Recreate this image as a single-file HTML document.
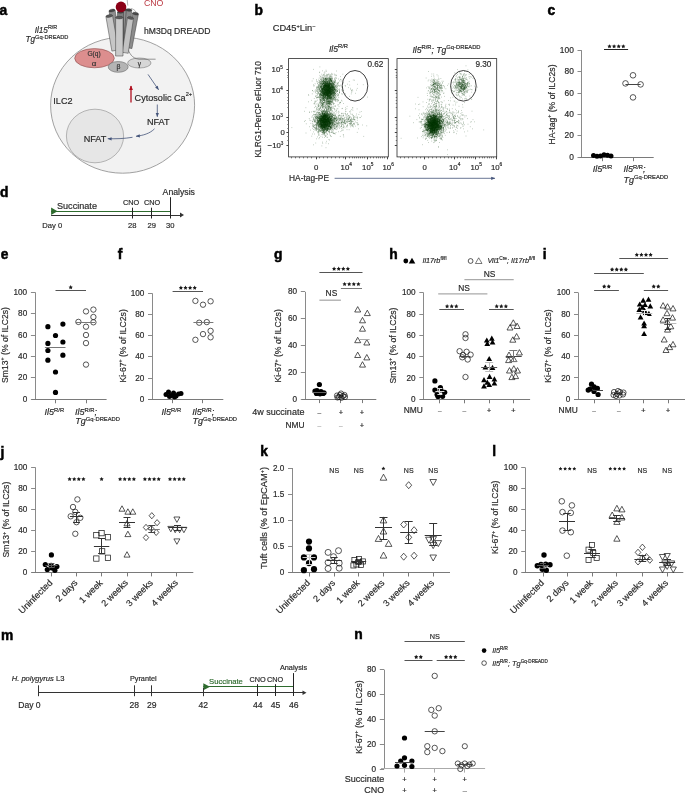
<!DOCTYPE html>
<html><head><meta charset="utf-8"><style>
html,body{margin:0;padding:0;background:#fff;}
svg{display:block;will-change:transform;}
svg text{font-family:"Liberation Sans",sans-serif;}
</style></head><body>
<svg width="685" height="794" viewBox="0 0 685 794">
<rect width="685" height="794" fill="#fff"/>
<text x="-0.5" y="14.7" font-size="13.8" fill="#000" font-weight="bold" stroke="#000" stroke-width="0.5">a</text>
<text x="34.7" y="32.7" font-size="8.2" fill="#2a2a2a" font-style="italic" stroke="#2a2a2a" stroke-width="0.18">Il15<tspan font-size="5.4" font-style="normal" dy="-3.4">R/R</tspan></text>
<text x="25.4" y="41.9" font-size="8.2" fill="#2a2a2a" font-style="italic" stroke="#2a2a2a" stroke-width="0.18">Tg<tspan font-style="normal" font-size="5.7" dy="-3.1">Gq-DREADD</tspan></text>
<ellipse cx="122.6" cy="105.2" rx="72" ry="68" fill="#f2f2f2" stroke="#8a8a8a" stroke-width="0.8"/>
<ellipse cx="95" cy="136" rx="28.6" ry="26.8" fill="#e6e6e6" stroke="#9a9a9a" stroke-width="0.7"/>
<ellipse cx="94.5" cy="58.2" rx="19.8" ry="9.6" fill="#dc8e8e" stroke="#8a4c4c" stroke-width="0.6"/>
<ellipse cx="118.2" cy="66.9" rx="10" ry="5.4" fill="#b4b4b4" stroke="#6a6a6a" stroke-width="0.6"/>
<ellipse cx="139.3" cy="63" rx="11.7" ry="5" fill="#d6d6d6" stroke="#777" stroke-width="0.6"/>
<text x="94" y="56.3" font-size="6.6" text-anchor="middle" fill="#333" stroke="#333" stroke-width="0.18">G(q)</text>
<text x="94" y="65.6" font-size="8.0" text-anchor="middle" fill="#333" stroke="#333" stroke-width="0.18">α</text>
<text x="118.4" y="69.4" font-size="6.8" text-anchor="middle" fill="#333" stroke="#333" stroke-width="0.18">β</text>
<text x="139.4" y="65.5" font-size="6.5" text-anchor="middle" fill="#333" stroke="#333" stroke-width="0.18">γ</text>
<path d="M127.6 47.5 C129 53 132 58.5 139 59.2 L155.6 59.2" fill="none" stroke="#555" stroke-width="0.6"/>
<path d="M127.2 0 L127.8 5.5 M131 8.5 C133 9 135 10 136 12" fill="none" stroke="#666" stroke-width="0.5"/>
<polygon points="109,11 115,45.5 121,44.5 115,10" fill="#8e8e8e" stroke="#3a3a3a" stroke-width="0.5"/>
<ellipse cx="112" cy="10.5" rx="3" ry="1.3" transform="rotate(-9.9 112 10.5)" fill="#444" stroke="#333" stroke-width="0.4"/>
<polygon points="121,9.3 118.5,47.8 124.5,48.2 127,9.7" fill="#909090" stroke="#3a3a3a" stroke-width="0.5"/>
<ellipse cx="124" cy="9.5" rx="3" ry="1.3" transform="rotate(3.7 124 9.5)" fill="#444" stroke="#333" stroke-width="0.4"/>
<polygon points="117.5,12 117.5,46 123.5,46 123.5,12" fill="#7c7c7c" stroke="#3a3a3a" stroke-width="0.5"/>
<ellipse cx="120.5" cy="12" rx="3" ry="1.3" transform="rotate(0 120.5 12)" fill="#444" stroke="#333" stroke-width="0.4"/>
<polygon points="126.3,9.8 123.3,46.8 128.7,47.2 131.7,10.2" fill="#8a8a8a" stroke="#3a3a3a" stroke-width="0.5"/>
<ellipse cx="129" cy="10" rx="2.8" ry="1.3" transform="rotate(4.6 129 10)" fill="#444" stroke="#333" stroke-width="0.4"/>
<polygon points="132.6,13 126.1,47.4 131.9,48.6 138.4,14.2" fill="#8c8c8c" stroke="#3a3a3a" stroke-width="0.5"/>
<ellipse cx="135.5" cy="13.6" rx="3" ry="1.3" transform="rotate(10.7 135.5 13.6)" fill="#4a4a4a" stroke="#333" stroke-width="0.4"/>
<polygon points="105.9,16.6 111.9,51.1 118.5,49.9 112.5,15.4" fill="#c6c6c6" stroke="#3a3a3a" stroke-width="0.5"/>
<ellipse cx="109.2" cy="16" rx="3.3" ry="1.3" transform="rotate(-9.9 109.2 16)" fill="#5a5a5a" stroke="#333" stroke-width="0.4"/>
<polygon points="127.5,17.5 122.2,52.3 128.2,53.3 133.5,18.5" fill="#c2c2c2" stroke="#3a3a3a" stroke-width="0.5"/>
<ellipse cx="130.5" cy="18" rx="3" ry="1.3" transform="rotate(8.7 130.5 18)" fill="#5a5a5a" stroke="#333" stroke-width="0.4"/>
<polygon points="115.6,17.6 115.6,56 123,56 123,17.6" fill="#c9c9c9" stroke="#3a3a3a" stroke-width="0.5"/>
<ellipse cx="119.3" cy="17.6" rx="3.7" ry="1.3" transform="rotate(0 119.3 17.6)" fill="#5a5a5a" stroke="#333" stroke-width="0.4"/>
<circle cx="121" cy="6.9" r="5.3" fill="#8b0016"/>
<text x="143.9" y="6.3" font-size="8.8" fill="#bb3a44" stroke="none">CNO</text>
<text x="144" y="33.5" font-size="8.6" fill="#2a2a2a" stroke="#2a2a2a" stroke-width="0.18">hM3Dq DREADD</text>
<defs><marker id="ah" markerWidth="6" markerHeight="6" refX="4.6" refY="3" orient="auto" markerUnits="userSpaceOnUse"><path d="M0.8,1.4 L4.8,3 L0.8,4.6 Z" fill="#44547a"/></marker><marker id="ahr" markerWidth="6" markerHeight="6" refX="4.6" refY="3" orient="auto" markerUnits="userSpaceOnUse"><path d="M0.6,1.1 L5,3 L0.6,4.9 Z" fill="#b01020"/></marker></defs>
<path d="M148 74.4 L158.6 89.8" stroke="#44547a" stroke-width="0.8" fill="none" marker-end="url(#ah)"/>
<path d="M157.3 104.5 L157.3 116.8" stroke="#44547a" stroke-width="0.8" fill="none" marker-end="url(#ah)"/>
<path d="M154.5 128.8 C150 133.5 143 135.5 136 136.3" stroke="#44547a" stroke-width="0.8" fill="none" marker-end="url(#ah)"/>
<path d="M132.5 137.3 C124 138.7 116 138.9 107.8 138.7" stroke="#44547a" stroke-width="0.8" fill="none" marker-end="url(#ah)"/>
<path d="M131 102.6 L131 86" stroke="#b01020" stroke-width="1.3" fill="none" marker-end="url(#ahr)"/>
<text x="134.6" y="101.3" font-size="9.1" fill="#2a2a2a" stroke="#2a2a2a" stroke-width="0.18">Cytosolic Ca<tspan font-size="5.6" font-style="normal" dy="-5.0">2+</tspan></text>
<text x="147" y="125.1" font-size="9.1" fill="#2a2a2a" stroke="#2a2a2a" stroke-width="0.18">NFAT</text>
<text x="83.7" y="142.2" font-size="9.1" fill="#2a2a2a" stroke="#2a2a2a" stroke-width="0.18">NFAT</text>
<text x="53.3" y="103.6" font-size="9.1" fill="#2a2a2a" stroke="#2a2a2a" stroke-width="0.18">ILC2</text>
<text x="254.6" y="14.8" font-size="13.8" fill="#000" font-weight="bold" stroke="#000" stroke-width="0.5">b</text>
<text x="272.7" y="31.1" font-size="9.3" fill="#2a2a2a" stroke="#2a2a2a" stroke-width="0.18">CD45<tspan font-size="5.6" font-style="normal" dy="-3.6">+</tspan><tspan dy="3.6">Lin</tspan><tspan font-size="5.6" font-style="normal" dy="-3.6">−</tspan></text>
<text x="338.5" y="51.8" font-size="8.6" text-anchor="middle" fill="#2a2a2a" font-style="italic" stroke="#2a2a2a" stroke-width="0.18">Il5<tspan font-size="5.8" font-style="normal" dy="-3.8">R/R</tspan></text>
<text x="446.5" y="53.1" font-size="8.6" text-anchor="middle" fill="#2a2a2a" font-style="italic" stroke="#2a2a2a" stroke-width="0.18">Il5<tspan font-size="5.8" font-style="normal" dy="-3.8">R/R</tspan><tspan dy="3.8">; Tg</tspan><tspan font-style="normal" font-size="5.8" dy="-3.8">Gq-DREADD</tspan></text>
<text x="261.4" y="109.3" font-size="8.3" fill="#2a2a2a" stroke="#2a2a2a" stroke-width="0.18" text-anchor="middle" transform="rotate(-90 261.4 109.3)">KLRG1-PerCP eFluor 710</text>
<rect x="288.6" y="58.6" width="99.7" height="98.3" fill="none" stroke="#2a2a2a" stroke-width="0.8"/>
<line x1="286.4" y1="69.5" x2="288.6" y2="69.5" stroke="#444" stroke-width="1.0" />
<line x1="286.4" y1="90.5" x2="288.6" y2="90.5" stroke="#444" stroke-width="1.0" />
<line x1="286.4" y1="117.5" x2="288.6" y2="117.5" stroke="#444" stroke-width="1.0" />
<line x1="286.4" y1="132.5" x2="288.6" y2="132.5" stroke="#444" stroke-width="1.0" />
<line x1="286.4" y1="145.5" x2="288.6" y2="145.5" stroke="#444" stroke-width="1.0" />
<line x1="287.4" y1="72.5" x2="288.6" y2="72.5" stroke="#666" stroke-width="1.0" />
<line x1="287.4" y1="75.5" x2="288.6" y2="75.5" stroke="#666" stroke-width="1.0" />
<line x1="287.4" y1="77.5" x2="288.6" y2="77.5" stroke="#666" stroke-width="1.0" />
<line x1="287.4" y1="93.5" x2="288.6" y2="93.5" stroke="#666" stroke-width="1.0" />
<line x1="287.4" y1="97.5" x2="288.6" y2="97.5" stroke="#666" stroke-width="1.0" />
<line x1="287.4" y1="100.5" x2="288.6" y2="100.5" stroke="#666" stroke-width="1.0" />
<line x1="287.4" y1="103.5" x2="288.6" y2="103.5" stroke="#666" stroke-width="1.0" />
<line x1="287.4" y1="107.5" x2="288.6" y2="107.5" stroke="#666" stroke-width="1.0" />
<line x1="287.4" y1="120.5" x2="288.6" y2="120.5" stroke="#666" stroke-width="1.0" />
<line x1="287.4" y1="124.5" x2="288.6" y2="124.5" stroke="#666" stroke-width="1.0" />
<line x1="287.4" y1="128.5" x2="288.6" y2="128.5" stroke="#666" stroke-width="1.0" />
<line x1="287.4" y1="136.5" x2="288.6" y2="136.5" stroke="#666" stroke-width="1.0" />
<line x1="287.4" y1="140.5" x2="288.6" y2="140.5" stroke="#666" stroke-width="1.0" />
<line x1="316.5" y1="156.9" x2="316.5" y2="159.3" stroke="#444" stroke-width="1.0" />
<line x1="345.5" y1="156.9" x2="345.5" y2="159.3" stroke="#444" stroke-width="1.0" />
<line x1="367.5" y1="156.9" x2="367.5" y2="159.3" stroke="#444" stroke-width="1.0" />
<line x1="387.5" y1="156.9" x2="387.5" y2="159.3" stroke="#444" stroke-width="1.0" />
<line x1="291.5" y1="156.9" x2="291.5" y2="158.3" stroke="#666" stroke-width="1.0" />
<line x1="295.5" y1="156.9" x2="295.5" y2="158.3" stroke="#666" stroke-width="1.0" />
<line x1="299.5" y1="156.9" x2="299.5" y2="158.3" stroke="#666" stroke-width="1.0" />
<line x1="303.5" y1="156.9" x2="303.5" y2="158.3" stroke="#666" stroke-width="1.0" />
<line x1="307.5" y1="156.9" x2="307.5" y2="158.3" stroke="#666" stroke-width="1.0" />
<line x1="311.5" y1="156.9" x2="311.5" y2="158.3" stroke="#666" stroke-width="1.0" />
<line x1="319.5" y1="156.9" x2="319.5" y2="158.3" stroke="#666" stroke-width="1.0" />
<line x1="323.5" y1="156.9" x2="323.5" y2="158.3" stroke="#666" stroke-width="1.0" />
<line x1="327.5" y1="156.9" x2="327.5" y2="158.3" stroke="#666" stroke-width="1.0" />
<line x1="331.5" y1="156.9" x2="331.5" y2="158.3" stroke="#666" stroke-width="1.0" />
<line x1="335.5" y1="156.9" x2="335.5" y2="158.3" stroke="#666" stroke-width="1.0" />
<line x1="339.5" y1="156.9" x2="339.5" y2="158.3" stroke="#666" stroke-width="1.0" />
<line x1="343.5" y1="156.9" x2="343.5" y2="158.3" stroke="#666" stroke-width="1.0" />
<line x1="349.5" y1="156.9" x2="349.5" y2="158.3" stroke="#666" stroke-width="1.0" />
<line x1="352.5" y1="156.9" x2="352.5" y2="158.3" stroke="#666" stroke-width="1.0" />
<line x1="354.5" y1="156.9" x2="354.5" y2="158.3" stroke="#666" stroke-width="1.0" />
<line x1="356.5" y1="156.9" x2="356.5" y2="158.3" stroke="#666" stroke-width="1.0" />
<line x1="358.5" y1="156.9" x2="358.5" y2="158.3" stroke="#666" stroke-width="1.0" />
<line x1="360.5" y1="156.9" x2="360.5" y2="158.3" stroke="#666" stroke-width="1.0" />
<line x1="362.5" y1="156.9" x2="362.5" y2="158.3" stroke="#666" stroke-width="1.0" />
<line x1="364.5" y1="156.9" x2="364.5" y2="158.3" stroke="#666" stroke-width="1.0" />
<line x1="370.5" y1="156.9" x2="370.5" y2="158.3" stroke="#666" stroke-width="1.0" />
<line x1="373.5" y1="156.9" x2="373.5" y2="158.3" stroke="#666" stroke-width="1.0" />
<line x1="376.5" y1="156.9" x2="376.5" y2="158.3" stroke="#666" stroke-width="1.0" />
<line x1="378.5" y1="156.9" x2="378.5" y2="158.3" stroke="#666" stroke-width="1.0" />
<line x1="380.5" y1="156.9" x2="380.5" y2="158.3" stroke="#666" stroke-width="1.0" />
<line x1="382.5" y1="156.9" x2="382.5" y2="158.3" stroke="#666" stroke-width="1.0" />
<line x1="384.5" y1="156.9" x2="384.5" y2="158.3" stroke="#666" stroke-width="1.0" />
<text x="316.2" y="169.6" font-size="7.8" text-anchor="middle" fill="#2a2a2a" stroke="#2a2a2a" stroke-width="0.18">0</text>
<text x="346.3" y="169.6" font-size="7.8" text-anchor="middle" fill="#2a2a2a" stroke="#2a2a2a" stroke-width="0.18">10<tspan font-size="4.8" font-style="normal" dy="-3.3">4</tspan></text>
<text x="367.8" y="169.6" font-size="7.8" text-anchor="middle" fill="#2a2a2a" stroke="#2a2a2a" stroke-width="0.18">10<tspan font-size="4.8" font-style="normal" dy="-3.3">5</tspan></text>
<text x="388.2" y="169.6" font-size="7.8" text-anchor="middle" fill="#2a2a2a" stroke="#2a2a2a" stroke-width="0.18">10<tspan font-size="4.8" font-style="normal" dy="-3.3">6</tspan></text>
<text x="271.6" y="72.2" font-size="7.8" fill="#2a2a2a" stroke="#2a2a2a" stroke-width="0.18">10<tspan font-size="4.6" font-style="normal" dy="-3.3">5</tspan></text>
<text x="271.6" y="93.1" font-size="7.8" fill="#2a2a2a" stroke="#2a2a2a" stroke-width="0.18">10<tspan font-size="4.6" font-style="normal" dy="-3.3">4</tspan></text>
<text x="271.6" y="119.8" font-size="7.8" fill="#2a2a2a" stroke="#2a2a2a" stroke-width="0.18">10<tspan font-size="4.6" font-style="normal" dy="-3.3">3</tspan></text>
<text x="284.9" y="135" font-size="7.8" text-anchor="end" fill="#2a2a2a" stroke="#2a2a2a" stroke-width="0.18">0</text>
<text x="267.6" y="148.2" font-size="7.8" fill="#2a2a2a" stroke="#2a2a2a" stroke-width="0.18">−10<tspan font-size="4.6" font-style="normal" dy="-3.3">3</tspan></text>
<ellipse cx="355.0" cy="85.8" rx="12.8" ry="15.3" fill="none" stroke="#111" stroke-width="0.8"/>
<rect x="397.0" y="58.6" width="99.7" height="98.3" fill="none" stroke="#2a2a2a" stroke-width="0.8"/>
<line x1="394.8" y1="69.5" x2="397" y2="69.5" stroke="#444" stroke-width="1.0" />
<line x1="394.8" y1="90.5" x2="397" y2="90.5" stroke="#444" stroke-width="1.0" />
<line x1="394.8" y1="117.5" x2="397" y2="117.5" stroke="#444" stroke-width="1.0" />
<line x1="394.8" y1="132.5" x2="397" y2="132.5" stroke="#444" stroke-width="1.0" />
<line x1="394.8" y1="145.5" x2="397" y2="145.5" stroke="#444" stroke-width="1.0" />
<line x1="395.8" y1="72.5" x2="397" y2="72.5" stroke="#666" stroke-width="1.0" />
<line x1="395.8" y1="75.5" x2="397" y2="75.5" stroke="#666" stroke-width="1.0" />
<line x1="395.8" y1="77.5" x2="397" y2="77.5" stroke="#666" stroke-width="1.0" />
<line x1="395.8" y1="93.5" x2="397" y2="93.5" stroke="#666" stroke-width="1.0" />
<line x1="395.8" y1="97.5" x2="397" y2="97.5" stroke="#666" stroke-width="1.0" />
<line x1="395.8" y1="100.5" x2="397" y2="100.5" stroke="#666" stroke-width="1.0" />
<line x1="395.8" y1="103.5" x2="397" y2="103.5" stroke="#666" stroke-width="1.0" />
<line x1="395.8" y1="107.5" x2="397" y2="107.5" stroke="#666" stroke-width="1.0" />
<line x1="395.8" y1="120.5" x2="397" y2="120.5" stroke="#666" stroke-width="1.0" />
<line x1="395.8" y1="124.5" x2="397" y2="124.5" stroke="#666" stroke-width="1.0" />
<line x1="395.8" y1="128.5" x2="397" y2="128.5" stroke="#666" stroke-width="1.0" />
<line x1="395.8" y1="136.5" x2="397" y2="136.5" stroke="#666" stroke-width="1.0" />
<line x1="395.8" y1="140.5" x2="397" y2="140.5" stroke="#666" stroke-width="1.0" />
<line x1="424.5" y1="156.9" x2="424.5" y2="159.3" stroke="#444" stroke-width="1.0" />
<line x1="454.5" y1="156.9" x2="454.5" y2="159.3" stroke="#444" stroke-width="1.0" />
<line x1="475.5" y1="156.9" x2="475.5" y2="159.3" stroke="#444" stroke-width="1.0" />
<line x1="496.5" y1="156.9" x2="496.5" y2="159.3" stroke="#444" stroke-width="1.0" />
<line x1="400.5" y1="156.9" x2="400.5" y2="158.3" stroke="#666" stroke-width="1.0" />
<line x1="404.5" y1="156.9" x2="404.5" y2="158.3" stroke="#666" stroke-width="1.0" />
<line x1="408.5" y1="156.9" x2="408.5" y2="158.3" stroke="#666" stroke-width="1.0" />
<line x1="412.5" y1="156.9" x2="412.5" y2="158.3" stroke="#666" stroke-width="1.0" />
<line x1="416.5" y1="156.9" x2="416.5" y2="158.3" stroke="#666" stroke-width="1.0" />
<line x1="420.5" y1="156.9" x2="420.5" y2="158.3" stroke="#666" stroke-width="1.0" />
<line x1="428.5" y1="156.9" x2="428.5" y2="158.3" stroke="#666" stroke-width="1.0" />
<line x1="432.5" y1="156.9" x2="432.5" y2="158.3" stroke="#666" stroke-width="1.0" />
<line x1="436.5" y1="156.9" x2="436.5" y2="158.3" stroke="#666" stroke-width="1.0" />
<line x1="440.5" y1="156.9" x2="440.5" y2="158.3" stroke="#666" stroke-width="1.0" />
<line x1="444.5" y1="156.9" x2="444.5" y2="158.3" stroke="#666" stroke-width="1.0" />
<line x1="448.5" y1="156.9" x2="448.5" y2="158.3" stroke="#666" stroke-width="1.0" />
<line x1="451.5" y1="156.9" x2="451.5" y2="158.3" stroke="#666" stroke-width="1.0" />
<line x1="457.5" y1="156.9" x2="457.5" y2="158.3" stroke="#666" stroke-width="1.0" />
<line x1="460.5" y1="156.9" x2="460.5" y2="158.3" stroke="#666" stroke-width="1.0" />
<line x1="463.5" y1="156.9" x2="463.5" y2="158.3" stroke="#666" stroke-width="1.0" />
<line x1="465.5" y1="156.9" x2="465.5" y2="158.3" stroke="#666" stroke-width="1.0" />
<line x1="467.5" y1="156.9" x2="467.5" y2="158.3" stroke="#666" stroke-width="1.0" />
<line x1="469.5" y1="156.9" x2="469.5" y2="158.3" stroke="#666" stroke-width="1.0" />
<line x1="471.5" y1="156.9" x2="471.5" y2="158.3" stroke="#666" stroke-width="1.0" />
<line x1="473.5" y1="156.9" x2="473.5" y2="158.3" stroke="#666" stroke-width="1.0" />
<line x1="479.5" y1="156.9" x2="479.5" y2="158.3" stroke="#666" stroke-width="1.0" />
<line x1="482.5" y1="156.9" x2="482.5" y2="158.3" stroke="#666" stroke-width="1.0" />
<line x1="484.5" y1="156.9" x2="484.5" y2="158.3" stroke="#666" stroke-width="1.0" />
<line x1="487.5" y1="156.9" x2="487.5" y2="158.3" stroke="#666" stroke-width="1.0" />
<line x1="489.5" y1="156.9" x2="489.5" y2="158.3" stroke="#666" stroke-width="1.0" />
<line x1="491.5" y1="156.9" x2="491.5" y2="158.3" stroke="#666" stroke-width="1.0" />
<line x1="493.5" y1="156.9" x2="493.5" y2="158.3" stroke="#666" stroke-width="1.0" />
<text x="424.6" y="169.6" font-size="7.8" text-anchor="middle" fill="#2a2a2a" stroke="#2a2a2a" stroke-width="0.18">0</text>
<text x="454.7" y="169.6" font-size="7.8" text-anchor="middle" fill="#2a2a2a" stroke="#2a2a2a" stroke-width="0.18">10<tspan font-size="4.8" font-style="normal" dy="-3.3">4</tspan></text>
<text x="476.2" y="169.6" font-size="7.8" text-anchor="middle" fill="#2a2a2a" stroke="#2a2a2a" stroke-width="0.18">10<tspan font-size="4.8" font-style="normal" dy="-3.3">5</tspan></text>
<text x="496.6" y="169.6" font-size="7.8" text-anchor="middle" fill="#2a2a2a" stroke="#2a2a2a" stroke-width="0.18">10<tspan font-size="4.8" font-style="normal" dy="-3.3">6</tspan></text>
<ellipse cx="463.4" cy="85.8" rx="12.8" ry="15.3" fill="none" stroke="#111" stroke-width="0.8"/>
<text x="383.4" y="67.4" font-size="8.2" text-anchor="end" fill="#2a2a2a" stroke="#2a2a2a" stroke-width="0.18">0.62</text>
<text x="491.4" y="67.4" font-size="8.2" text-anchor="end" fill="#2a2a2a" stroke="#2a2a2a" stroke-width="0.18">9.30</text>
<path d="M326.2 92.4h.6M326.3 87.7h.6M323.5 88.3h.6M331.6 91.9h.6M331.3 90.9h.6M328.8 90.5h.6M320.5 94.3h.6M329.2 92.3h.6M320.4 79.7h.6M323.6 86.9h.6M328.4 89.2h.6M329.3 85.9h.6M328.4 91.7h.6M324.6 99.1h.6M329.4 96.2h.6M324.7 85.4h.6M325.8 88.9h.6M329.7 90.9h.6M325.4 84.1h.6M325.1 96.3h.6M324 90.9h.6M328.9 81.2h.6M327.4 96.8h.6M319.1 87.7h.6M326.8 84.9h.6M329.2 89.2h.6M321.3 94.1h.6M329.9 94.8h.6M333 91.5h.6M327.7 82.2h.6M329.7 86.1h.6M325.4 82.4h.6M323.3 86.5h.6M332.4 78.1h.6M321.4 90.8h.6M333 92.7h.6M319.6 75.4h.6M328.6 85.4h.6M322.7 95h.6M331.6 90.4h.6M328.2 91.9h.6M333.6 93h.6M329.3 92.6h.6M320.9 96.7h.6M331 92.5h.6M319.3 86h.6M330.6 79.4h.6M326.5 95.2h.6M322 98.5h.6M329.4 88.7h.6M328.5 93.1h.6M327.7 95.9h.6M324.6 87.2h.6M331.4 89.7h.6M323.7 94.8h.6M333.1 87h.6M321.7 88.7h.6M326.6 87.8h.6M332.8 83.7h.6M332.2 82.4h.6M324.1 93h.6M331.7 94.3h.6M328.6 90.3h.6M327.8 92.7h.6M326.5 91.1h.6M329.5 89.5h.6M330.3 92.7h.6M335.2 91.3h.6M325.5 87.4h.6M327.1 94.7h.6M325.9 91.7h.6M334.5 75.1h.6M322.7 90.9h.6M328.8 90.8h.6M325.5 93.2h.6M328.3 86.6h.6M336.9 91.5h.6M325 88.9h.6M326.3 89.1h.6M316.3 86.8h.6M331.2 83h.6M326.9 94.8h.6M330.6 97.8h.6M320.4 87.5h.6M325.8 93h.6M331.6 74.5h.6M331.6 81.4h.6M329.9 81.1h.6M327.9 96.2h.6M326.6 90.6h.6M330.4 90.3h.6M326.8 98.1h.6M331.4 87.9h.6M338.2 83.1h.6M330.9 88h.6M327.7 93.4h.6M328.1 93.1h.6M321.1 81h.6M329.7 84.1h.6M323.1 81.3h.6M332.3 93.7h.6M333.1 84.2h.6M327.2 83.1h.6M330.3 98.4h.6M323.6 98.2h.6M331.2 88.5h.6M319.3 97.4h.6M326.8 86.1h.6M328.8 91.8h.6M333.2 83.8h.6M331.7 97.8h.6M333 88.5h.6M324.2 95.2h.6M327.7 90.2h.6M332.9 88h.6M318 87.3h.6M319.8 94.1h.6M328.5 86.1h.6M327.2 94.2h.6M327.5 96.9h.6M327 95.3h.6M333.2 98.5h.6M324.5 94.4h.6M319.7 83.4h.6M319.3 95.5h.6M322.3 89.4h.6M326.4 89.3h.6M324.8 90.8h.6M334.4 89.7h.6M329.3 95.1h.6M326.4 82.4h.6M325 95.5h.6M320.6 86.2h.6M331.2 93.9h.6M327.2 94h.6M327.9 82.9h.6M320.9 85.9h.6M330.9 86.3h.6M323.6 85.2h.6M321.1 88.8h.6M322.5 91.5h.6M317.8 91.3h.6M324.6 78.6h.6M330.1 88h.6M318.3 84.6h.6M328.4 86.9h.6M330.3 93.7h.6M329.9 91.3h.6M332.5 93.2h.6M329 77.8h.6M330.8 96.8h.6M326 86.9h.6M335 79.7h.6M329.1 103.1h.6M323.5 93.4h.6M334.7 88.8h.6M329.4 94.6h.6M323.6 89h.6M328.4 94.1h.6M327.1 88.4h.6M323.1 87.5h.6M330.8 90.1h.6M323.8 84.8h.6M337.9 95.9h.6M329.7 75h.6M329.7 92.2h.6M333.9 91.9h.6M326.9 92.4h.6M319.4 95.3h.6M328.5 85.6h.6M332.5 99.6h.6M321.6 85.8h.6M328.4 90.5h.6M325.6 84h.6M335.7 95.3h.6M322.4 82h.6M334 95h.6M334.5 94h.6M323.7 91h.6M318.6 85.3h.6M327 92.4h.6M324.3 88.8h.6M329 91.6h.6M329.8 90.7h.6M325.9 93.9h.6M327.4 84.9h.6M324.7 89.5h.6M326.8 90.4h.6M327.2 90.5h.6M326.7 82.5h.6M328.9 95.4h.6M328.9 88.4h.6M329 84.1h.6M319.6 89.8h.6M323.5 93.6h.6M322.9 74.8h.6M323 98.3h.6M325.7 81.8h.6M324.1 92.4h.6M329.2 90.5h.6M333.1 93.5h.6M327.1 92.8h.6M333.8 94.9h.6M331.3 83.4h.6M326.6 93.6h.6M326 95.5h.6M329.6 94.6h.6M326.4 103.8h.6M332.2 88.3h.6M327.6 104h.6M325.8 94.4h.6M331.1 89.5h.6M322.5 90.6h.6M328.6 95.8h.6M330.3 89.6h.6M330.6 92.5h.6M328 89.8h.6M326.2 93.3h.6M323 86h.6M327.2 81.3h.6M325.5 78.3h.6M324.5 92.7h.6M329.5 89.2h.6M326.3 81.6h.6M334.5 92.4h.6M331.6 84.6h.6M326.5 79.3h.6M330.3 94.7h.6M319.6 89.2h.6M329.7 79.6h.6M319.9 83.5h.6M324.7 81.6h.6M327.3 90.9h.6M329.7 93.4h.6M333.2 96h.6M322 86.7h.6M323 83.5h.6M326.9 89.5h.6M329.2 80.6h.6M322.2 89.4h.6M326.4 87.8h.6M326.9 85.2h.6M330 91.5h.6M326.8 85.7h.6M326.5 74.3h.6M323.3 89.7h.6M321.2 90.6h.6M327.8 81.8h.6M326.2 87.7h.6M329 92.9h.6M327.1 84.7h.6M326.6 89.1h.6M330.1 91.1h.6M324.3 81.9h.6M325.7 85.4h.6M322.8 88.9h.6M325.2 90.1h.6M329.3 87.2h.6M336.5 87.7h.6M331.6 90.2h.6M331.7 76.2h.6M324.2 90.9h.6M329.6 102.6h.6M328.5 96.7h.6M330.3 94.8h.6M329.2 88.6h.6M329.2 83.5h.6M331.9 83.8h.6M328.2 101.4h.6M326.3 89.6h.6M331.9 89.6h.6M324 90.9h.6M329.5 93.5h.6M324.1 99.3h.6M333.9 89.6h.6M328.3 87.1h.6M332.9 85.6h.6M329.9 86.8h.6M324.4 93.5h.6M332.5 89.4h.6M324.5 94h.6M327 91.2h.6M333.3 95.8h.6M325.1 102.3h.6M327.2 93.9h.6M324.6 89.2h.6M320.2 99.5h.6M332.7 82.7h.6M321.2 80.4h.6M331.9 86.9h.6M327 87.7h.6M326.7 83.4h.6M327.3 81.4h.6M326.9 91.2h.6M329.1 88.2h.6M323.6 90.4h.6M325.3 98.3h.6M330.3 88.9h.6M325.3 85.6h.6M323.5 87.5h.6M328.4 92.4h.6M329.5 101.3h.6M324.4 89.6h.6M338.4 79h.6M325.1 90.4h.6M327.8 91.8h.6M326.2 91.6h.6M327.4 93.8h.6M319.6 84.5h.6M327.2 83.7h.6M323 93h.6M324.6 93.1h.6M330.2 91.2h.6M329.2 88.9h.6M321.6 89.3h.6M329 86.5h.6M326.8 93.7h.6M323.7 93.1h.6M334.7 86.4h.6M327.8 88.7h.6M333.4 91.3h.6M330.8 85.6h.6M327.1 89.4h.6M320.1 97.6h.6M330.8 79.7h.6M330.2 88.8h.6M329 91.6h.6M321.2 88.3h.6M333.2 86.3h.6M323.1 81.9h.6M322.3 91.4h.6M334 91.9h.6M328.2 102h.6M325.1 85.7h.6M329.3 92.6h.6M323.1 82.9h.6M328.4 90.9h.6M322 88.4h.6M325 92.1h.6M326.7 89h.6M325.8 95.4h.6M332.8 87.4h.6M330.6 85.3h.6M327.5 93.7h.6M333.3 87.4h.6M326.9 90.6h.6M321.2 89.6h.6M324.5 91.6h.6M322.7 78.4h.6M327.4 91h.6M325 94.5h.6M326.1 86.1h.6M329.1 80.7h.6M324.5 89.4h.6M330.6 88.6h.6M328.4 85.8h.6M328.4 98.8h.6M324.5 102.8h.6M324.6 89.6h.6M327.9 95.2h.6M322.3 77.7h.6M329.6 94h.6M329.7 104.2h.6M328 90.9h.6M330.9 91.6h.6M333.9 82.6h.6M325.7 70.2h.6M330.4 87.4h.6M330.9 101.6h.6M327.2 88.1h.6M325.2 84.8h.6M324.7 93.1h.6M327.3 89.9h.6M326.5 94.6h.6M329.2 88.7h.6M329.9 88.7h.6M322.6 97.6h.6M329.1 84.1h.6M331.5 91.4h.6M320.9 98.5h.6M328.5 94.5h.6M328 88.7h.6M321 94.9h.6M327.3 87.9h.6M328.6 89.9h.6M329.9 87.4h.6M327.1 77.5h.6M325.5 93.3h.6M332.5 87.5h.6M326.7 98.4h.6M325.9 93.6h.6M333.9 89.7h.6M332.1 85.5h.6M328 89.1h.6M327.7 95.8h.6M336.8 85.8h.6M324.9 92.3h.6M323 92.3h.6M329.5 87.9h.6M329.3 80.8h.6M330.2 80.8h.6M324.4 86.4h.6M325.6 94.3h.6M327.5 87.3h.6M329.4 98.4h.6M327.2 91.5h.6M332.2 91h.6M322.1 103.4h.6M336 78.4h.6M327 91.8h.6M331.1 93.2h.6M326.1 83.6h.6M327.6 95.3h.6M322.8 83.7h.6M327.1 78.7h.6M326.2 87.1h.6M329 85.6h.6M323.7 87.3h.6M327 85.8h.6M327.2 93.7h.6M331.9 99h.6M324.1 87.1h.6M317.3 100.1h.6M324.3 89.3h.6M329.3 81.9h.6M329.1 89.4h.6M319.9 91.1h.6M332 79h.6M330.4 90.7h.6M329.1 92h.6M332.4 88.2h.6M330.7 87.2h.6M330.1 84.9h.6M326.8 99.2h.6M329 88.6h.6M322.6 85.1h.6M328 94.8h.6M328.9 92.4h.6M327 97.1h.6M325.6 86.4h.6M330.8 89.9h.6M326.1 86.3h.6M326.2 93h.6M328.6 82.7h.6M328.9 90.5h.6M323.2 93.8h.6M326.1 87.6h.6M330.4 96.9h.6M324.4 92h.6M323.7 102.5h.6M325.2 96.2h.6M324.6 94h.6M336.1 75.3h.6M325.5 92.3h.6M326.8 85.8h.6M335.8 89.9h.6M320.6 94.3h.6M320.3 95.9h.6M324.9 90.3h.6M332.2 90.2h.6M321.6 80h.6M331.9 93.6h.6M323.9 94.3h.6M329.2 93.1h.6M318.2 87.8h.6M330.8 93.6h.6M330.7 75.7h.6M327.9 92.3h.6M337.4 84.2h.6M325.9 89.7h.6M330.7 87h.6M331.8 85.1h.6M328.3 86.5h.6M327.8 85.6h.6M320.8 95.6h.6M328.4 86.4h.6M328 95h.6M323.3 88.9h.6M329.4 92.4h.6M325.9 77.7h.6M332.2 91.3h.6M327.3 87.9h.6M328.3 87.1h.6M323.1 85.4h.6M324.8 86.1h.6M322.6 93.1h.6M322 93.2h.6M323.1 91.5h.6M332.7 90.6h.6M324.3 89.8h.6M327.8 79.8h.6M324.8 90.4h.6M325.3 89.9h.6M330.1 93.8h.6M330.8 92.8h.6M326 89.4h.6M326.1 87.7h.6M326.5 79.8h.6M325.9 89.4h.6M323.3 89.4h.6M329.3 88.6h.6M335.5 74.9h.6M326.4 79.3h.6M331.1 104.4h.6M317.2 90.2h.6M329.3 87.8h.6M329.4 76.9h.6M330.6 91.6h.6M327.3 86.2h.6M329.8 86.8h.6M328.1 86.6h.6M318.2 89.3h.6M328 93.7h.6M323.7 89.3h.6M329.7 90.3h.6M332.2 100.7h.6M323.6 78.7h.6M330.6 98.1h.6M330.9 94.1h.6M324.7 85.5h.6M330.8 84.4h.6M319.9 83.9h.6M337.2 100.3h.6M324.5 85.4h.6M328.1 85.3h.6M332.4 89.1h.6M322.9 96.8h.6M324.9 90.7h.6M327.1 87.7h.6M328.5 85.6h.6M319.8 77.1h.6M322.1 85.3h.6M327.1 89.8h.6M329.4 90.2h.6M324 85.5h.6M318.7 88.6h.6M329.1 92.5h.6M326.7 88.5h.6M330.9 89.6h.6M330.2 92.8h.6M328.1 96.8h.6M324.9 87.5h.6M324 85h.6M333.4 99.4h.6M327.3 92.7h.6M331.9 94h.6M332 82.4h.6M324.6 92h.6M332.9 90.1h.6M323.8 87.5h.6M324.6 84.7h.6M333.2 86h.6M327.3 101.6h.6M331.9 91.4h.6M324.8 91.8h.6M333.7 93h.6M332.2 90h.6M329.3 88.4h.6M328.9 96.8h.6M321.5 89.1h.6M328.2 86.3h.6M326 93.9h.6M335.2 93h.6M328.5 80.8h.6M334.9 89.9h.6M327.1 83.2h.6M327 83.4h.6M327.5 92.1h.6M327.3 91.1h.6M323.8 97.5h.6M324.6 79.3h.6M326.4 85.2h.6M323.2 87.5h.6M328.4 82.9h.6M326.6 97.5h.6M329.9 88.6h.6M327.7 88.8h.6M327 93.6h.6M326.8 76h.6M327.1 84.5h.6M329.8 86.1h.6M327.8 101.7h.6M323 83.2h.6M321.6 76.1h.6M319.7 91.5h.6M324.6 79h.6M321.3 93h.6M324.1 87.4h.6M328.5 97.1h.6M335 95.3h.6M327.8 90.5h.6M334.4 97.5h.6M326 92.1h.6M328.3 89.8h.6M325.2 82.1h.6M325.1 80.9h.6M332.1 92.5h.6M322.4 97.3h.6M330.8 78.8h.6M334.6 94h.6M335.5 82.6h.6M329.3 91.9h.6M328 90.5h.6M331.4 81.1h.6M322.2 81.7h.6M325 86.1h.6M328.7 91h.6M327.3 85.7h.6M325.4 94.8h.6M330.3 90.1h.6M325.9 98.2h.6M324.8 93.1h.6M331.8 88h.6M330.5 83.3h.6M331.3 90.6h.6M320.9 93.2h.6M323.6 96.7h.6M324.5 88.6h.6M328.3 87.6h.6M328.2 86.4h.6M329.9 89.5h.6M328 74.1h.6M331.8 89.7h.6M320.1 90h.6M329.1 95.5h.6M322.9 98.2h.6M326.6 102.9h.6M326.6 93.3h.6M325.7 83.3h.6M331.6 94.6h.6M333.4 94.3h.6M324.9 80.2h.6M324.6 85.7h.6M323.9 92.8h.6M328.5 88h.6M327.9 88.7h.6M328.1 93.7h.6M331 85.7h.6M321.2 97.5h.6M327.7 95.7h.6M320.6 87.7h.6M327.3 81.4h.6M325.1 93.6h.6M331.5 98.4h.6M323.7 81.7h.6M329.3 94.8h.6M328 82.2h.6M330.3 93.9h.6M329.4 86.8h.6M328.4 93.9h.6M325 79.2h.6M328.5 92.2h.6M327.3 94.5h.6M324.9 89h.6M326 92.7h.6M333.6 88.1h.6M335.4 98.1h.6M330.4 92.8h.6M334.3 88.5h.6M326.8 83.5h.6M329.1 97h.6M329.3 91.9h.6M326.4 90.4h.6M321.5 95.4h.6M325.6 83.3h.6M324.2 84.9h.6M330.6 95.4h.6M321.8 94.7h.6M330.8 86.3h.6M321.3 85.3h.6M324.7 91.4h.6M325.8 78.1h.6M328.1 80.9h.6M330.8 82.7h.6M324.4 84.7h.6M325 96.8h.6M330.6 92.9h.6M328.5 80.8h.6M325.1 86.4h.6M323.3 92.4h.6M324.2 85.5h.6M323 78h.6M329.6 97h.6M327.9 84h.6M316.4 90.5h.6M332.1 91.2h.6M330.9 97.8h.6M331.7 87h.6M331.4 93.8h.6M321.1 87.2h.6M321.5 88.9h.6M329.5 83.5h.6M319 96.8h.6M328.7 97.7h.6M321.9 95.4h.6M335.5 100.7h.6M326.4 91h.6M326.6 95.1h.6M331.4 90h.6M321.8 93.7h.6M325.3 93h.6M328.3 98.6h.6M331.8 87h.6M328.6 99.4h.6M325.1 91.9h.6M332 96.5h.6M329.3 82.1h.6M322.2 90.9h.6M328.7 103.8h.6M323.8 95.9h.6M330.3 80.1h.6M323.9 90.4h.6M325.2 88.6h.6M329.1 85h.6M329.1 85.9h.6M325 92.5h.6M324.9 91.1h.6M333.6 89.7h.6M326.6 93.6h.6M325.7 95.6h.6M322.1 93h.6M325.2 85h.6M334.3 84.7h.6M334.2 93.2h.6M333 84h.6M332 97.7h.6M326.7 88.8h.6M337 90.5h.6M325.5 86h.6M329 91.4h.6M327.9 99.1h.6M325.9 92.1h.6M333 83.9h.6M331.4 99.8h.6M321.8 83.4h.6M323 79.2h.6M329 79.1h.6M329.2 97.6h.6M320.7 87.7h.6M319.5 93.9h.6M324.3 88h.6M327.4 92.6h.6M325.8 89.6h.6M325 90.1h.6M322.5 89.9h.6M319.5 86.8h.6M334.9 89.9h.6M322.2 90.9h.6M323.3 80.3h.6M324.3 93.6h.6M328.7 89h.6M323.5 83.5h.6M332.6 90.9h.6M323.4 77.7h.6M321.7 103.4h.6M322.6 89.1h.6M328 88.6h.6M326.1 81.8h.6M323 99h.6M324.2 94.2h.6M320.4 88h.6M328.2 95.3h.6M322.7 92.8h.6M328.7 85.4h.6M329.1 84.5h.6M324 89.4h.6M316.3 88.9h.6M323.2 81.3h.6M325.5 93.8h.6M325.6 96.6h.6M322.6 82.2h.6M333.4 91.7h.6M331 84.9h.6M330.4 91h.6M329.8 89.6h.6M332 85.9h.6M323.3 81.2h.6M331.8 85.4h.6M323 84.2h.6M325.4 82.4h.6M326 86h.6M325 84.1h.6M327.3 86.9h.6M327.7 90.9h.6M328.6 77.2h.6M325.1 85h.6M330.3 80.7h.6M324.3 87.9h.6M325.9 95.1h.6M325.4 94.9h.6M321.3 79.4h.6M332.1 91.9h.6M329.2 90.2h.6M329.1 82.7h.6M331 86.5h.6M331.1 90h.6M319.3 82.3h.6M331.7 88.7h.6M325.6 90.9h.6M325.5 86.5h.6M327.6 90.3h.6M333.3 89.8h.6M334.7 99.6h.6M334.1 95.4h.6M327.7 90.3h.6M326.6 85.4h.6M326.9 85.9h.6M333.8 92.5h.6M325.4 78.8h.6M327 87.2h.6M322.9 83.1h.6M318.2 92.7h.6M326.9 104h.6M327.1 88.7h.6M333 90.3h.6M327.9 87.4h.6M324.8 97.9h.6M331.2 99.1h.6M325.8 89.7h.6M323.7 94.9h.6M321.6 92.7h.6M331.6 97.4h.6M323.4 95.6h.6M324.3 85.3h.6M321.9 96h.6M333.8 86.2h.6M324.2 87.6h.6M337.2 95.1h.6M325 79.5h.6M324.5 96.1h.6M334.7 88h.6M324.4 86.6h.6M319.7 94.6h.6M322.9 95.5h.6M320.4 82.4h.6M328.4 85.2h.6M330.3 89.5h.6M322.5 93h.6M330.6 78.8h.6M334.5 92.3h.6M330.2 79.1h.6M324.3 87.5h.6M331.5 81.3h.6M323.7 78.1h.6M326.2 91.4h.6M320.5 86.2h.6M329.2 98.4h.6M329.9 87.8h.6M322.5 84.3h.6M324.5 90.3h.6M327 98.8h.6M328.3 83.5h.6M333.4 94.8h.6M327.6 85.5h.6M319.7 83.8h.6M330.8 85h.6M321.9 90.6h.6M328.2 92.9h.6M329.8 97.4h.6M323.8 95h.6M323.3 93.4h.6M327.9 90.9h.6M331.1 89.4h.6M331.6 94.4h.6M327.7 86.3h.6M324.2 86.5h.6M326.4 89.4h.6M339.1 93.1h.6M330.3 84.7h.6M324.4 87.7h.6M328 83.7h.6M333.6 86.3h.6M331.5 76.4h.6M327.2 91.1h.6M328 92.9h.6M328.3 90.4h.6M319.6 85.5h.6M317.8 93h.6M328.4 88.4h.6M323.9 86.2h.6M334.6 99.2h.6M327 96.7h.6M320.8 78.7h.6M325.3 84.6h.6M325 90.6h.6M339.3 85.8h.6M327.4 91h.6M327.1 94.7h.6M334.3 82.5h.6M327.8 88h.6M328.6 80.9h.6M320.2 76.5h.6M329.3 90.6h.6M327.5 76.2h.6M325.7 85.3h.6M321.5 84.4h.6M330 92.5h.6M327.1 92.4h.6M324.8 89.9h.6M327.4 92.6h.6M326.9 88.7h.6M326.7 85.9h.6M336.1 92.4h.6M328.9 102.3h.6M332.8 80.8h.6M330 94.2h.6M334.7 96.9h.6M330.3 82.9h.6M323.7 91h.6M329.2 83.8h.6M325.7 87.3h.6M327.4 91.4h.6M326.1 82.6h.6M332.2 98.4h.6M326.8 95.2h.6M329 93.2h.6M329.1 85.2h.6M329.5 95.2h.6M323.6 100.5h.6M335.6 99.7h.6M335.2 93.7h.6M325.8 86.1h.6M323.9 90.1h.6M327.1 93.3h.6M319.1 102.4h.6M336.3 89.3h.6M329.9 92.2h.6M328.3 88.3h.6M326.7 84.9h.6M327.9 89.4h.6M328.5 84.7h.6M327.4 89.8h.6M329.6 83.5h.6M328.9 95h.6M329.6 87.4h.6M325.2 88.2h.6M330.1 98.2h.6M326.6 85.9h.6M328.7 90.6h.6M323.6 85.4h.6M326.8 93.3h.6M322.4 83.8h.6M329.2 82.6h.6M327.6 91.5h.6M326.8 83.8h.6M327 87.6h.6M328.5 84.8h.6M331.6 80.1h.6M326.5 89.5h.6M331 86.1h.6M329.4 86.3h.6M330.2 99.2h.6M325.6 92h.6M323.5 94.9h.6M332 89.7h.6M322.7 91.8h.6M331.8 95.6h.6M330.5 79.2h.6M324.5 97.5h.6M322.3 95.8h.6M334.7 93.8h.6M331.7 87.6h.6M322.3 88.9h.6M326.4 89.2h.6M330 88.7h.6M328 91.9h.6M327.2 99.8h.6M329 90h.6M326.4 86h.6M332.6 90.3h.6M322.9 86.4h.6M326.7 87h.6M331.5 83h.6M329.2 90.3h.6M322.5 89.8h.6M326.8 92.3h.6M325.4 91.2h.6M320.5 83.4h.6M330.3 95.3h.6M327.1 86.1h.6M331.5 77.8h.6M324 93.3h.6M329.8 83.7h.6M319.7 97.6h.6M327.8 84.5h.6M327.4 94.5h.6M316.8 95.7h.6M330.2 77.8h.6M330.3 79.5h.6M331.8 91.7h.6M336.2 86.1h.6M327.2 95.4h.6M324.6 85.6h.6M325.7 89.1h.6M322.9 92.2h.6M329.4 89.9h.6M334 87.7h.6M332.4 86.4h.6M330.2 78.7h.6M328 88.5h.6M325.2 86.1h.6M325.8 85.5h.6M318.4 86.2h.6M325 86.6h.6M323 88.7h.6M330.3 88.1h.6M325.2 97.1h.6M331.1 94.7h.6M331.8 87.7h.6M326.7 95.7h.6M325 88.8h.6M328.7 91.6h.6M326.1 95h.6M326.5 93.6h.6M331.5 93.2h.6M330.1 83h.6M322 86h.6M329.1 97.9h.6M322.3 91.2h.6M323.8 85.4h.6M326.1 93.4h.6M328.1 96.1h.6M323.3 94.5h.6M330.9 89.9h.6M329.1 86.3h.6M322.8 87.2h.6M324.6 105.7h.6M325.3 98.7h.6M328 91.2h.6M330.2 85.1h.6M330.9 91.6h.6M321.1 92.9h.6M329.4 92h.6M333.5 87.2h.6M329.2 93.7h.6M323.6 96.2h.6M321.4 82.2h.6M329.3 83.4h.6M326.7 80.3h.6M327.5 83.2h.6M328.6 80.9h.6M329 88h.6M327.5 89.1h.6M327.7 82.1h.6M316.9 89.7h.6M323.5 87h.6M328.9 78.4h.6M324.1 86.1h.6M323 91.3h.6M326.6 84.9h.6M323.3 94h.6M324.6 92.8h.6M329 78.9h.6M322.9 89.5h.6M328.6 93.9h.6M330.4 95.3h.6M325.7 88.3h.6M330.3 87.1h.6M331.4 80.6h.6M329.8 88.5h.6M319.3 95h.6M328.4 89.6h.6M322.9 86.9h.6M333.2 84.9h.6M313.3 84.7h.6M322.4 88.8h.6M325.6 84.4h.6M323.8 95.4h.6M321.4 100.5h.6M325 83.4h.6M330.3 92.7h.6M323 93.7h.6M319.8 84.3h.6M331.7 88.1h.6M322 92.4h.6M330.9 89.4h.6M320 87.6h.6M328.9 93.8h.6M334.6 88.1h.6M325.3 89.3h.6M332 84.2h.6M332.4 74.1h.6M330.4 85.7h.6M329 93.4h.6M322.5 89h.6M328.2 92.8h.6M323.5 83.9h.6M319.5 103.7h.6M326.4 88.3h.6M321.2 94.7h.6M325.1 97.5h.6M330.6 89.6h.6M330.1 83.3h.6M325.9 86.3h.6M322.1 89.6h.6M326.6 97.5h.6M313.8 85.7h.6M323.5 86.9h.6M328.9 91.8h.6M327.3 86.8h.6M329.2 91.5h.6M319.8 88h.6M321.7 82.9h.6M327.8 89.8h.6M327.7 84.6h.6M326.4 84.4h.6M328.7 93.4h.6M334.2 96.6h.6M324 86.9h.6M323.4 91.2h.6M335.1 93.5h.6M318.4 82.5h.6M322 92.4h.6M327.2 91.2h.6M334.3 84.9h.6M323.8 100.5h.6M328.6 85.1h.6M319.1 81h.6M317.4 89.9h.6M327.4 95.1h.6M326.6 85.6h.6M324.2 100.1h.6M320.1 90.5h.6M327.3 93h.6M325.6 92.3h.6M330.5 88.7h.6M325.4 88.5h.6M323.3 88.3h.6M326 90.7h.6M332.5 96.8h.6M325.4 92.9h.6M328.4 93.8h.6M327.3 91h.6M325.3 85.1h.6M330.7 96.8h.6M329.8 91.9h.6M328.3 87h.6M320.1 93.2h.6M328 86.4h.6M323.3 96.7h.6M320 99.4h.6M329.8 102.8h.6M324.3 89.4h.6M325.2 90.4h.6M326.4 85.3h.6M331.5 85.1h.6M325.2 92.6h.6M325 87.1h.6M328.6 87.4h.6M322.2 88.9h.6M326.3 99h.6M322.8 94.9h.6M324.1 87.5h.6M325.9 91h.6M330.7 99.3h.6M324.7 96.9h.6M331.2 94.1h.6M324.2 94.5h.6M326.8 91.5h.6M326.1 93.2h.6M331.7 95.8h.6M326.4 95.1h.6M333 84.3h.6M333.1 82h.6M329.4 92.8h.6M333.1 91.1h.6M325.3 85h.6M322.2 93.8h.6M326.3 85.5h.6M329.3 85.2h.6M325.5 86.9h.6M333.8 97.7h.6M326.6 80.7h.6M328.3 89.9h.6M328.6 92.7h.6M325.9 94.7h.6M330.5 90.7h.6M325.6 86.8h.6M330 83.3h.6M326.6 85.3h.6M321.6 92.9h.6M327.1 89.7h.6M330.7 81.1h.6M326.9 91.1h.6M330.5 83.4h.6M330.1 90.7h.6M332.6 95.9h.6M329.4 101.5h.6M327.2 87.1h.6M325.8 84.2h.6M327.1 79h.6M326.9 91.9h.6M331.2 87.6h.6M332.8 85.9h.6M326.7 79h.6M324.2 85.1h.6M333 92.4h.6M322.9 92.4h.6M329.1 88.2h.6M327.3 87.8h.6M325.1 79.8h.6M326.8 96.5h.6M332.8 88h.6M324.3 88.3h.6M330.7 91.4h.6M324.9 91.5h.6M326.4 92.3h.6M325.6 81.5h.6M327.4 93.7h.6M322.9 88.9h.6M330.6 87.5h.6M324.7 100.6h.6M330.4 95.1h.6M323.5 98.4h.6M320.7 86.7h.6M330.1 96.8h.6M323.6 85.9h.6M328 79h.6M329.7 92.5h.6M325.5 92.4h.6M330.2 91.2h.6M329.2 97.7h.6M325.3 90.4h.6M325.2 95.1h.6M325.6 92.1h.6M327.7 89.9h.6M333.9 89h.6M332.7 94h.6M332.3 88.6h.6M330.8 93.6h.6M324.8 91h.6M326.7 89.3h.6M332.2 85.6h.6M320.7 80.1h.6M325.5 86h.6M327.3 92.6h.6M334 91.2h.6M329 85.5h.6M329.4 96.8h.6M332.4 78.9h.6M330.6 98.1h.6M330.4 81.4h.6M326 92.7h.6M328.8 85.1h.6M323.8 94.7h.6M322.1 97.2h.6M327.3 91.1h.6M322.1 86.3h.6M329.9 81.6h.6M335.2 81.9h.6M322.5 89.7h.6M329.1 93.4h.6M325.8 88.4h.6M326.3 86.4h.6M317.3 94.7h.6M328.2 90.4h.6M324.8 90.9h.6M327.1 89.1h.6M331.4 80.2h.6M328.2 83.8h.6M326 97.6h.6M323 89h.6M324.9 94.6h.6M323.4 80.4h.6M329.2 87.6h.6M326 95.3h.6M323.8 87.5h.6M327.8 91.7h.6M325.2 95.1h.6M335.8 87.3h.6M334.4 78.2h.6M332.6 87.6h.6M327.7 87.7h.6M324.8 82.6h.6M325.7 96.5h.6M331.6 87.6h.6M325.2 85.7h.6M322.6 99.2h.6M329.7 90.1h.6M325.3 84h.6M332.3 93.7h.6M323.5 94.8h.6M322.9 93h.6M323.5 87.3h.6M329.1 91.8h.6M331.1 85h.6M333.3 96.7h.6M327.2 92h.6M324.2 88.7h.6M322.1 90h.6M328 96.7h.6M330.8 93.9h.6M325.8 88.3h.6M325.9 90.7h.6M319.8 93.6h.6M321.2 86.7h.6M327.3 86.7h.6M333.6 89h.6M333.2 95.8h.6M325.3 91.7h.6M332.2 87.7h.6M327.5 86.5h.6M327.4 87.6h.6M327.5 94.9h.6M332.5 90.2h.6M328 94.1h.6M326.1 83.8h.6M331.5 84.5h.6M330.8 84.3h.6M334.2 83.9h.6M330.5 97.6h.6M323.5 97.5h.6M324 80h.6M330 93.3h.6M326.4 75.9h.6M327 87.9h.6M325.7 87.9h.6M320.3 86.5h.6M334.1 97.8h.6M325.8 85.7h.6M328.7 95.2h.6M330 83.2h.6M327.8 90.3h.6M332.7 95.9h.6M329.2 96h.6M325.7 97.8h.6M325.6 91.6h.6M330.7 84.6h.6M324.5 80h.6M327.8 89.2h.6M325.9 92.2h.6M319.1 89.4h.6M327.5 88.1h.6M330.2 98.9h.6M325.5 84.4h.6M324.9 90h.6M329.5 84.9h.6M331 84h.6M330.4 91.8h.6M329 101.1h.6M326.2 88.6h.6M329 94.1h.6M322.1 91h.6M324.4 92.9h.6M332.5 89.8h.6M326.8 90.5h.6M315.9 93.6h.6M329.4 90.4h.6M325.7 85.6h.6M326.5 96h.6M326.8 96.7h.6M317.3 87h.6M328.3 89.4h.6M320.8 85.9h.6M332 82.6h.6M323.4 83.6h.6M325.1 93h.6M329.5 78.6h.6M332.8 86.3h.6M324.9 98.5h.6M326.9 82.8h.6M324.7 85.6h.6M323.3 87.7h.6M330.6 91.4h.6M321.9 104.5h.6M323.4 90.1h.6M327.3 93.6h.6M325.9 92h.6M335.3 90h.6M323 91.3h.6M324.1 87.5h.6M327.9 91.3h.6M326.1 94.1h.6M326.5 82.5h.6M330.6 87.5h.6M331.9 86h.6M329.4 91.2h.6M316.8 81.5h.6M322.9 97.1h.6M319.9 94.4h.6M331.4 92.2h.6M329.8 86.8h.6M327.2 90.7h.6M328.8 93.3h.6M326.4 85.7h.6M325 91.7h.6M320.8 82.8h.6M325.6 86.5h.6M326.2 75.2h.6M325.9 88.2h.6M330.2 78.9h.6M326 92.1h.6M329.1 95.9h.6M331.3 83.9h.6M329.6 87.7h.6M324.1 97.8h.6M324.8 84.9h.6M325.6 84.9h.6M331.1 91.5h.6M332.6 91.7h.6M324.8 95.1h.6M324.7 87h.6M326.6 89.7h.6M331.8 86.2h.6M328.6 89.4h.6M322.4 83.6h.6M326.4 91.7h.6M328.4 92.1h.6M327.4 87.1h.6M328.8 84.1h.6M322 87.7h.6M321.7 86.7h.6M324.3 86.5h.6M327 85.2h.6M325.6 80.3h.6M327.8 84.7h.6M328.8 74.2h.6M324.1 90.8h.6M317.8 87.6h.6M327.6 90.1h.6M321.4 90.7h.6M327.8 84.2h.6M330.1 89.2h.6M327.3 87.1h.6M329.3 90h.6M331.6 91.9h.6M324.8 88.3h.6M330.7 87.5h.6M328.7 92.3h.6M326.5 76.9h.6M327.7 90.7h.6M327.7 85.4h.6M331.9 88.8h.6M324.8 85.6h.6M328.6 83.6h.6M323.3 100.3h.6M332.3 95.2h.6M332.5 92.7h.6M320.7 96h.6M332 92.2h.6M319.6 96.2h.6M332.5 86.8h.6M327.7 93.7h.6M326.9 95.5h.6M327.5 93.2h.6M327.5 81.5h.6M323.3 106.7h.6M328.3 96.6h.6M331.6 98.8h.6M329.3 86.3h.6M327.3 79.1h.6M326.5 94.4h.6M318.8 90.6h.6M330.4 96.7h.6M323.6 86h.6M319.9 84h.6M329.3 100.7h.6M322.8 97h.6M328.9 86.8h.6M335.7 75.8h.6M326.9 90.7h.6M335.5 99.3h.6M336 90.2h.6M331 96.9h.6M329.2 91.5h.6M326.5 87.3h.6M322.4 100.1h.6M325.5 78.2h.6M328.2 89.3h.6M327.9 99.4h.6M326.8 88.1h.6M324.3 89.4h.6M325.5 90.6h.6M339.3 91.6h.6M323.9 100h.6M330.6 93.9h.6M330 94h.6M329.8 97.2h.6M331.1 96.8h.6M325.2 89.5h.6M324.4 94.7h.6M330.4 87h.6M329.5 103.8h.6M332 83.4h.6M326.8 93h.6M327.1 91.6h.6M331.8 91.3h.6M322.9 93.4h.6M326.8 90.1h.6M325 82h.6M322.3 87.6h.6M323 74.7h.6M331.7 83.2h.6M324.4 92.4h.6M317.8 96.8h.6M324.2 93.1h.6M325.3 91.2h.6M327.6 89.5h.6M320.1 81.5h.6M327 97.2h.6M325.1 92.4h.6M327.8 92.1h.6M331.1 81.3h.6M328.3 88.5h.6M326 84.8h.6M324.1 83.9h.6M322.9 103.2h.6M333.8 89.6h.6M330.1 84.2h.6M316.4 79.6h.6M327.8 97.4h.6M327 84h.6M326.3 84.1h.6M321.8 88.2h.6M325.6 85.1h.6M323.7 84.4h.6M328.1 97.1h.6M326.4 101.7h.6M320.9 91h.6M322.7 88.6h.6M327.6 92.5h.6M331.6 86.5h.6M322.4 88.5h.6M328.3 85.7h.6M330.7 98.7h.6M321.7 91.5h.6M331.2 79h.6M328 88.3h.6M321.7 96.7h.6M328 86.9h.6M328.9 93h.6M330.2 92.7h.6M328.8 83.1h.6M325.6 90.2h.6M316.4 101.1h.6M325.7 83.7h.6M320.1 90.9h.6M327.3 86.3h.6M325.6 84.7h.6M324.3 89h.6M324.7 93.2h.6M326.6 90.2h.6M328.8 96.4h.6M329.5 90.7h.6M326.6 85.1h.6M325.9 93.2h.6M328.1 87.4h.6M322 81.1h.6M328.5 95.1h.6M328.7 82h.6M326.4 90.7h.6M323.6 91.4h.6M326.4 84.9h.6M322.4 93.9h.6M328.6 84.7h.6M323.2 94.4h.6M329.5 87.8h.6M333.4 87.9h.6M323.1 95.5h.6M326.5 91.4h.6M327.3 84h.6M322.6 88.4h.6M332.7 84h.6M332.5 90.7h.6M322.9 91h.6M329.4 84.6h.6M318.9 91.4h.6M322.9 91.9h.6M319.8 88.7h.6M324 81.4h.6M326.3 90.4h.6M325 83.1h.6M328 80h.6M329.3 92.2h.6M333.7 94.3h.6M328.6 90.9h.6M327.3 82.3h.6M332.9 92.4h.6M326.1 83.3h.6M333 92.4h.6M322.6 93.2h.6M334.6 89.4h.6M328.8 87.2h.6M324.8 95.3h.6M339.2 90.1h.6M326.7 93.8h.6M326 93.5h.6M330.4 84h.6M323 89.1h.6M330.4 91h.6M332 82h.6M329.1 86.1h.6M327.6 91.2h.6M323.4 88.3h.6M322.7 90.9h.6M323.9 86.8h.6M328 86h.6M331.7 86h.6M330.5 91h.6M323.2 88.3h.6M324 87.5h.6M326.1 99.4h.6M325.6 98h.6M328.9 82.4h.6M318.2 93.2h.6M319.5 93.4h.6M331.2 91.6h.6M326.4 88.1h.6M328.2 87.9h.6M325.1 87.5h.6M331.7 86.1h.6M328.7 83.3h.6M324.4 82h.6M326.4 93.2h.6M328.4 86.8h.6M329.6 87.6h.6M328.6 91h.6M329.3 76.1h.6M322.2 93.7h.6M326.8 101.7h.6M326.3 86.5h.6M333 92.5h.6M334.5 92.3h.6M326.4 93.4h.6M324.2 87.1h.6M325.1 88.3h.6M330.2 86.9h.6M328.4 86.8h.6M330.6 74.6h.6M326.4 90.4h.6M323 95h.6M328 96.4h.6M330.9 93h.6M326.6 83.6h.6M326.3 87h.6M328.2 87h.6M339 80.9h.6M331.7 87h.6M326.3 94.5h.6M327.2 82.9h.6M328.8 88.4h.6M319.2 90.6h.6M323.1 85.5h.6M329.1 91.1h.6M326.1 101.2h.6M328.8 86.2h.6M328.1 88.8h.6M318.7 81h.6M321.8 100.7h.6M326.5 88h.6M325 94.8h.6M327.3 98.7h.6M330.2 98.4h.6M326.7 91.5h.6M325.5 88.6h.6M320.5 86.4h.6M323.5 86h.6M331.9 90.9h.6M331.9 94.1h.6M330.7 94.9h.6M324.9 93.8h.6M326 86.6h.6M331.8 101.2h.6M323.4 98.9h.6M330.4 84.9h.6M328.3 91.5h.6M328.6 87.6h.6M322.2 89.7h.6M330.5 93.7h.6M329.7 95.4h.6M323.4 89.3h.6M328.5 94.9h.6M327.8 92.3h.6M327.7 100.8h.6M318.8 89.4h.6M336.7 90.8h.6M320.1 90.2h.6M321.7 85.8h.6M328.1 98.7h.6M329 93.1h.6M331.1 90.6h.6M323.9 89h.6M328.5 88h.6M324.6 87.6h.6M321.4 84h.6M326.9 87.6h.6M327.3 97.1h.6M328.4 89.3h.6M322.7 83.7h.6M328.6 84.8h.6M328.9 83.7h.6M327.7 89.1h.6M331 87.4h.6M325.8 90.8h.6M327.4 98.6h.6M326.2 86.6h.6M326 92.1h.6M328.1 93.2h.6M321.9 102.9h.6M334.3 89.3h.6M322.5 90.3h.6M328.8 77.5h.6M327.3 81.5h.6M329 96.9h.6M331.2 81.4h.6M332.5 94.4h.6M325.8 92.2h.6M333 87.7h.6M327.1 86.5h.6M331.7 77.9h.6M332.7 84.3h.6M330.8 80.7h.6M323.6 86.3h.6M330.4 80.8h.6M329.5 86.1h.6M332 87.8h.6M329.1 88.6h.6M334.1 87.6h.6M327.1 100.2h.6M327.5 93.2h.6M324.4 90.6h.6M318.5 90.1h.6M324.7 81.4h.6M321.7 95.7h.6M328.8 81.3h.6M334.2 85.8h.6M325.8 90.8h.6M322.8 80.8h.6M324.3 95.9h.6M330.9 81h.6M331.8 89.7h.6M329.1 89.8h.6M328.8 84.1h.6M323.7 85.7h.6M325.8 92.8h.6M322.5 98.1h.6M324.8 86.3h.6M329.9 91.8h.6M325.9 83.7h.6M323.4 80.9h.6M331.6 95.3h.6M334.4 92.2h.6M328.5 93.6h.6M330.9 88.1h.6M328.6 101.1h.6M320.7 81.9h.6M323.5 93.6h.6M331.8 87.7h.6M329.8 89.2h.6M328.4 86.6h.6M327.1 89.5h.6M331.6 101.5h.6M320.2 92.4h.6M327.2 94.7h.6M331.3 93.7h.6M330.3 84.4h.6M320.6 98.5h.6M331.9 84.4h.6M332.2 93.1h.6M317.7 94.3h.6M323.4 95.8h.6M324.6 85.5h.6M321.2 88.3h.6M331.1 85.9h.6M320 101.1h.6M334.3 93.2h.6M325.1 83h.6M320.9 92.5h.6M332.2 83.8h.6M327.2 88h.6M326.2 92.2h.6M335.3 86.1h.6M330.5 95.4h.6M326.1 88.7h.6M322 95.3h.6M325.2 86h.6M327.5 84.9h.6M323.2 87.9h.6M332.9 88.4h.6M329.2 81.6h.6M319.7 99.3h.6M325.7 81.2h.6M326.8 92.8h.6M320.5 84.7h.6M328.2 84.5h.6M330.3 94.7h.6M328.9 87.2h.6M327 86.1h.6M326.7 91.2h.6M326 94.8h.6M337.2 86.5h.6M328.5 93.9h.6M329.7 88.2h.6M325.3 94.9h.6M329.6 92.2h.6M324.1 92.9h.6M330.3 88.5h.6M329.7 101.2h.6M319.9 92.8h.6M322.7 82.1h.6M326.3 92.5h.6M327.4 83.2h.6M321.6 86.5h.6M327.3 85h.6M321.4 99h.6M324 88.7h.6M325.1 86.3h.6M327.4 87.9h.6M329.6 83.1h.6M321.4 100.1h.6M326.9 93.7h.6M331.8 92.5h.6M327.3 81.1h.6M321 94.8h.6M329.8 92.6h.6M320.8 77.9h.6M323.1 83.1h.6M327.8 84h.6M333.3 86.1h.6M325 94.2h.6M328.5 84.6h.6M330.4 99.9h.6M322.4 88.2h.6M323 79h.6M329.6 93.3h.6M331 91.8h.6M319.4 89.4h.6M324.6 83.1h.6M322.9 93.7h.6M326 100.2h.6M329 79.1h.6M330.7 96.3h.6M327.3 82.9h.6M334.1 82.4h.6M326.9 79.1h.6M322.3 80.2h.6M331.4 95.9h.6M325.6 82.1h.6M327 91.6h.6M321.3 83.2h.6M326.8 93.3h.6M327.5 92h.6M322.3 75.9h.6M328.4 84.5h.6M326.7 87.4h.6M329.1 85.3h.6M332.8 89.7h.6M329.3 92.9h.6M331.2 91.7h.6M320.4 86.1h.6M334.5 92.1h.6M329.4 92.1h.6M324.7 85.8h.6M324.7 95.8h.6M328.6 99.2h.6M329.1 99.9h.6M329 83h.6M334 91.4h.6M331.9 90.7h.6M325.9 90.4h.6M322.8 82.9h.6M323.7 86.6h.6M321.9 88.9h.6M328.4 100.6h.6M334.4 89.2h.6M330.7 88.3h.6M328.7 89.3h.6M325.1 89.9h.6M321.4 91.9h.6M326.1 83.5h.6M325.8 92.5h.6M324.5 92.1h.6M329.4 98.1h.6M322.9 88.9h.6M329.2 97.8h.6M328.2 93.7h.6M321.4 86.3h.6M333.7 87.9h.6M335.7 85.5h.6M326.1 80.7h.6M329.7 91h.6M335.2 90.4h.6M326.2 81.7h.6M326.9 94.7h.6M330.1 96.3h.6M330.6 89.2h.6M329.6 90.5h.6M321.9 99h.6M328.7 83.7h.6M328.7 91.1h.6M331.1 97.5h.6M315.2 92.6h.6M333.3 84.3h.6M319.9 91h.6M328.5 91.4h.6M322.8 86.9h.6M328 93.6h.6M335.9 91.1h.6M324.8 76.4h.6M331.5 88.8h.6M326.8 84h.6M330.1 79.6h.6M327.6 90.2h.6M328.4 96.7h.6M326.8 90h.6M330.6 80.9h.6M326 89.9h.6M331 85.1h.6M330.4 91.6h.6M321.3 81.3h.6M321.5 90.3h.6M328 93.5h.6M330.5 86.4h.6M331.4 94.1h.6M329.1 92.2h.6M322.1 91.5h.6M323.1 82.9h.6M325.8 90.3h.6M327 87.7h.6M323.2 90.5h.6M324.3 81.7h.6M327.6 97.6h.6M325.6 83.6h.6M332.7 99h.6M326 88.3h.6M328 105.9h.6M327.7 95h.6M329 79.4h.6M322.8 82.6h.6M328.9 90.1h.6M334.3 88h.6M328.4 89.9h.6M327.8 102.4h.6M328.3 97.7h.6M332.4 86.1h.6M329.9 87.4h.6M327.6 90.4h.6M327.3 86.9h.6M333.4 88h.6M330 98.9h.6M329.7 95.2h.6M332.7 95.6h.6M334.1 81.5h.6M335 89.7h.6M320.2 85.9h.6M321.6 89.4h.6M321.3 83.9h.6M328.4 90.4h.6M324 88.2h.6M326.8 89.9h.6M327.2 88.3h.6M330.7 80.5h.6M325.2 90.2h.6M325.6 86.4h.6M325.5 90.7h.6M332.2 88.5h.6M326.1 91.5h.6M326.2 78.7h.6M328.3 87.4h.6M324.9 93h.6M327.4 86.3h.6M318.5 79.9h.6M327.3 88.8h.6M329 90.7h.6M325.3 82.4h.6M322.8 88.7h.6M322.6 93.7h.6M321.9 79.5h.6M326.4 79.6h.6M333.7 83.9h.6M327 88.1h.6M323.9 79.6h.6M319.8 94.3h.6M331.3 101.6h.6M321.4 92.6h.6M327.1 94.2h.6M325.1 93.5h.6M330.8 92.9h.6M333 88.5h.6M333.4 85.6h.6M333.9 74.1h.6M327.3 85h.6M327.2 95.3h.6M330.1 90h.6M334 81.2h.6M323.9 98h.6M328.5 77.9h.6M328.6 82.9h.6M333.1 95.9h.6M325 96.7h.6M323.9 94.7h.6M329.5 88.8h.6M321.5 87.9h.6M318 86.3h.6M319.8 96.3h.6M323.3 75.9h.6M329.5 91.6h.6M325.2 101.4h.6M330.3 89.9h.6M324.6 72.9h.6M329.1 94.9h.6M324.8 81.6h.6M327 80.1h.6M327.2 93.8h.6M333.2 91h.6M328 93.7h.6M332.8 87.7h.6M322.3 85.1h.6M322.2 84.5h.6M326.7 91.4h.6M327.8 89.9h.6M325.8 91.9h.6M330.7 93.8h.6M333.2 87.9h.6M326.2 99h.6M328 91.8h.6M325.9 94.9h.6M325.6 83.9h.6M327 87h.6M330.5 87.4h.6M327.7 88.3h.6M328.6 86h.6M331.6 81.5h.6M325.7 85.5h.6M329.8 89.7h.6M329.1 87.7h.6M324.3 83.2h.6M325.9 86.5h.6M328.3 91.5h.6M331.1 88.9h.6M324.2 83.6h.6M327.4 91.5h.6M335 90.5h.6M334.2 100h.6M323 96.3h.6M331.7 97h.6M327.2 94.8h.6M325.3 89.1h.6M327.3 99.5h.6M326.3 94.8h.6M327.5 85.5h.6M328.2 93.2h.6M324.4 93.1h.6M324.4 84.6h.6M328.1 88.2h.6M323.3 80.4h.6M327.3 90.9h.6M325.4 90.5h.6M321.1 91.7h.6M328.9 91.1h.6M324.7 89.9h.6M327.7 95.5h.6M328.3 90.9h.6M324.3 94.3h.6M331.9 86.7h.6M329.8 91.2h.6M327 82.3h.6M334.2 79.1h.6M328.4 87.4h.6M331.8 87.1h.6M327.4 92.9h.6M329 86.6h.6M329.9 91.7h.6M331.2 86.6h.6M327 87.3h.6M323.9 90.9h.6M328.8 97.4h.6M325.9 91.7h.6M331.8 88.9h.6M327.5 90.2h.6M324.4 84h.6M331.7 90.5h.6M326.9 82.6h.6M327.7 96.1h.6M322.6 84.5h.6M331.6 97.5h.6M333.4 86.4h.6M329.6 85.3h.6M329.3 87.5h.6M328 97h.6M328.5 88.2h.6M327.4 91h.6M325.2 90.7h.6M329.6 98.2h.6M319 82.9h.6M322.3 94.4h.6M336.9 90.6h.6M327.7 95.8h.6M317.5 88.5h.6M314.8 90.4h.6M325.2 86.8h.6M328.6 86.2h.6M331.6 89.5h.6M328.7 103.6h.6M325.4 94.7h.6M323.9 96.4h.6M331 90.3h.6M331.1 98.4h.6M332.7 89.5h.6M327 95.7h.6M321.4 86.2h.6M329.1 92.7h.6M334.6 99.3h.6M328.5 92h.6M322 88.5h.6M328.2 88.2h.6M327.4 92.9h.6M323.4 86.4h.6M320.2 95.9h.6M323 80.1h.6M330.3 88.3h.6M331 87.5h.6M335.6 93.5h.6M327.8 90.1h.6M326.4 94h.6M335.1 87.2h.6M322.9 92.8h.6M331.4 81.2h.6M324.5 84h.6M329.4 92.3h.6M324.3 83.3h.6M329.9 78.1h.6M329.7 88.6h.6M334.8 95h.6M324.9 88h.6M326.1 85.5h.6M327.5 94.8h.6M321.3 88.2h.6M333.1 93.6h.6M324 85h.6M323.8 80.6h.6M331.7 89.9h.6M324.5 81.6h.6M325.7 86.7h.6M334 87h.6M327.7 95.4h.6M329.8 88.5h.6M318.6 97.2h.6M329.6 87.1h.6M326.9 84.2h.6M323.7 81.3h.6M329.2 92.4h.6M327.9 93.8h.6M329.3 90.2h.6M323.7 92.8h.6M331.9 93h.6M332.1 86.9h.6M323.4 96.4h.6M324.9 90.8h.6M326.5 89.6h.6M326.1 86.5h.6M320.2 100h.6M328 78.9h.6M323.6 83.3h.6M324.3 75.5h.6M329.5 98.5h.6M326.2 93.6h.6M329.6 82.7h.6M332 80.2h.6M324.9 87.5h.6M332.1 90.2h.6M326.7 85.1h.6M327.6 89.7h.6M330.1 97.2h.6M330.1 89.6h.6M326.6 98.3h.6M328 89.4h.6M334.2 98.1h.6M329.4 88.9h.6M324.7 95.4h.6M325.4 94.8h.6M324.1 90.1h.6M328.8 90.3h.6M328.1 91.6h.6M322.8 83.4h.6M326.6 99.4h.6M326.7 84.4h.6M324.6 89.7h.6M331.8 86.4h.6M329.4 90.5h.6M325.8 84.3h.6M326.6 85.5h.6M329.3 79.9h.6M331.6 93.7h.6M329.5 97.7h.6M329.6 80.2h.6M327.4 92h.6M324.5 83.3h.6M328.9 92.3h.6M325.5 88.2h.6M325.2 86.4h.6M327 95.4h.6M320.9 87.6h.6M333.5 91.2h.6M327.8 94.1h.6M323.3 82.9h.6M320.7 81.5h.6M328.2 94.1h.6M325.6 85.8h.6M328.8 92.9h.6M328.2 79.1h.6M325.1 75.7h.6M328.1 84.9h.6M324.6 97.7h.6M332.4 92.1h.6M328.3 90.4h.6M324.9 89.2h.6M334.6 84.7h.6M324.6 90.4h.6M330.7 94h.6M323.4 88.8h.6M326.2 82.8h.6M327.5 86.9h.6M330.8 91.9h.6M324.2 89.9h.6M325.8 86h.6M325.3 95.3h.6M325.6 80.2h.6M324.2 93.9h.6M335.6 83.8h.6M325.8 87.7h.6M321.7 91.7h.6M327 91h.6M335.9 88h.6M330.3 94h.6M324.7 86.3h.6M333.3 93.4h.6M327.8 83.5h.6M330.6 92.4h.6M335.7 97.5h.6M330.3 91h.6M327.4 86.5h.6M328.4 90.8h.6M329.7 95.4h.6M328.4 86.5h.6M330.3 98h.6M324 91.8h.6M329.3 92.4h.6M329.2 89h.6M326.8 98.7h.6M333.9 81.9h.6M317.3 91.9h.6M324.6 86.7h.6M321 91.4h.6M327 86.6h.6M330.7 102.7h.6M332.9 95.9h.6M325.6 93.1h.6M327.1 95.8h.6M329.5 89.3h.6M329.3 85.6h.6M330.3 97.7h.6M325.8 92.5h.6M320.7 94.6h.6M330.6 83.9h.6M334 90.1h.6M320.5 82.1h.6M330.6 88h.6M331.5 81.1h.6M326.8 94.8h.6M324.6 93.2h.6M325.8 91.4h.6M328.5 101.6h.6M322.4 93.7h.6M332.3 83.4h.6M327.5 102.1h.6M331.3 73.4h.6M326.3 80.2h.6M328.4 85.6h.6M325 84.9h.6M328.3 87h.6M323.7 88.3h.6M328.8 84.8h.6M331.5 80.5h.6M328.8 87.4h.6M333.3 86h.6M324.6 82.2h.6M334.9 92.9h.6M323 87.7h.6M323.5 97.8h.6M328.8 78.4h.6M328 94.5h.6M327.2 92.1h.6M326.8 90.6h.6M328 85.7h.6M328.6 90.4h.6M327.1 85.8h.6M323.3 90.8h.6M330.4 76.3h.6M325.1 96.9h.6M330.8 85.6h.6M332.5 84.1h.6M324.1 100.1h.6M325.5 88.3h.6M320.8 84h.6M322.6 88.8h.6M320.1 95.3h.6M325.8 86.2h.6M324.7 93.5h.6M333.2 87.3h.6M337.7 105.3h.6M336 94.5h.6M318.1 97.6h.6M324.9 93.6h.6M315.6 89.7h.6M329 84.3h.6M329.4 105.8h.6M329 86.3h.6M342.6 74.2h.6M321.7 95.4h.6M323.8 73h.6M329.1 98.9h.6M322.5 104.1h.6M330.7 101.9h.6M317.8 92h.6M337.6 108.7h.6M335.8 92h.6M328.7 86.8h.6M334.5 86.2h.6M328.3 74.9h.6M318 106.7h.6M327.9 93.8h.6M313.6 91.7h.6M340.6 79.6h.6M312.4 90.7h.6M324.1 90.3h.6M319.5 80.8h.6M319.7 97.3h.6M327.2 98.8h.6M320.7 96.9h.6M324.7 92.7h.6M333.4 92.3h.6M325.3 78.2h.6M327.9 98.5h.6M323.5 91.4h.6M316.3 80.9h.6M330.1 102.8h.6M325.5 78.1h.6M325.1 79h.6M325.7 108.1h.6M329.4 90.7h.6M334.1 88.8h.6M329.6 93.7h.6M330.3 79.8h.6M332 99.3h.6M313 69.4h.6M321.8 104.4h.6M327.6 97.7h.6M331 99.4h.6M323.4 87.1h.6M329.9 97.1h.6M331.2 94.8h.6M324.4 101.2h.6M330.5 100.9h.6M311.3 100.4h.6M311.9 93.8h.6M323.3 93h.6M324.5 89.4h.6M328.7 94.9h.6M322.4 70.8h.6M322.5 96.5h.6M322.1 95.6h.6M325.1 84.1h.6M335 105.9h.6M326.8 91.6h.6M333.6 80.9h.6M321.9 101.5h.6M333.3 87.9h.6M322.5 94.9h.6M318.5 87.8h.6M326 71.3h.6M331.3 98.4h.6M334.4 79.9h.6M319.2 85.1h.6M319.1 109.3h.6M321.2 89.4h.6M328.8 95.8h.6M336.8 82.8h.6M333.2 93.3h.6M320 93.3h.6M318.5 105.7h.6M322.8 100.5h.6M335.9 86.8h.6M321.7 93.1h.6M320.7 99.6h.6M328.6 85.6h.6M323.1 98.1h.6M318.1 106.3h.6M322.4 90.3h.6M321.5 105.7h.6M332.8 103h.6M331.7 92.8h.6M338.5 97.6h.6M330.3 96.9h.6M332.3 94.4h.6M326.4 78.5h.6M340.8 81h.6M313.6 86h.6M340 102.3h.6M323.6 94.2h.6M327.3 75.2h.6M325.3 94.5h.6M335.1 81.8h.6M312.9 78.7h.6M329.6 92.7h.6M328.5 93.3h.6M325.1 80.4h.6M330.4 95.3h.6M331.2 102.6h.6M319.5 72.1h.6M315.9 110.1h.6M321.6 95.4h.6M327.4 98.2h.6M348.3 87.6h.6M326.4 86.9h.6M329.1 96.4h.6M321.2 103.2h.6M334.9 95.8h.6M326.8 90h.6M316.8 97.6h.6M321.2 87.7h.6M334 84.2h.6M324.1 99.3h.6M339.6 86.1h.6M334.7 86.4h.6M330 96.1h.6M320.1 100.7h.6M339.2 92.4h.6M329.3 82h.6M339.1 92.5h.6M319.2 98.5h.6M318 86.2h.6M313.6 103.7h.6M341.9 86.6h.6M323.3 87.1h.6M323.8 96.7h.6M337 83.4h.6M330.4 76.7h.6M337.4 91.2h.6M322.9 105h.6M326.8 103.6h.6M334.5 106.1h.6M322.3 92.5h.6M329.9 90.4h.6M337.4 85.9h.6M334 103.6h.6M314.8 83.8h.6M321.6 87.4h.6M330 90.5h.6M328 88.1h.6M327 96.1h.6M332.3 85.4h.6M326.8 85.5h.6M326.3 79.8h.6M333.7 97.7h.6M326.7 86.2h.6M324.5 86.3h.6M317.5 105.9h.6M348.9 81.6h.6M319.9 96.9h.6M331.4 78.6h.6M315 96.6h.6M314.6 104.1h.6M324.3 92.7h.6M327.5 87.2h.6M326.6 89.5h.6M335.6 91.2h.6M327.3 87.5h.6M323.4 85.7h.6M327.6 107.6h.6M334.7 94h.6M338.3 100.6h.6M328.8 90.6h.6M320.4 94.1h.6M325.4 78.5h.6M319.1 108.5h.6M328.9 96.2h.6M328.8 88.1h.6M330.5 101.2h.6M325.5 96.4h.6M334.2 87.9h.6M328.6 85.7h.6M331.4 88.9h.6M335 85.5h.6M338.5 89.4h.6M322 84.3h.6M331.8 84.7h.6M339.2 102.9h.6M330.9 79.9h.6M327.3 85.8h.6M315.7 95.6h.6M341.8 87.4h.6M332.8 102.9h.6M321.3 89.1h.6M329.2 96h.6M320.1 93.8h.6M326.8 100.1h.6M317.1 87.2h.6M324.2 89.3h.6M332.2 86.7h.6M345.3 86h.6M333 100.7h.6M333.8 90.3h.6M322.1 89.8h.6M331.8 93h.6M331.3 96.9h.6M321.8 84.1h.6M336.9 87.9h.6M317.2 107.8h.6M322.1 84.1h.6M333.8 82.4h.6M321.8 100.9h.6M322.2 113.3h.6M328.1 114.8h.6M328.3 92.5h.6M323.3 90.1h.6M324.2 91.8h.6M332.5 81.2h.6M321.5 74.2h.6M337.3 91.4h.6M327.4 91.5h.6M334 94.7h.6M333 90.6h.6M326.7 91.5h.6M315.4 101.3h.6M317.2 83.5h.6M331.9 92.5h.6M332.8 106.5h.6M339.6 103.8h.6M326 109.4h.6M321.8 91.3h.6M334 90.2h.6M326.7 89h.6M336.4 71h.6M335.8 101h.6M327 96.8h.6M321.2 101.4h.6M347.4 84.2h.6M336.6 91.5h.6M325.3 87.9h.6M326.3 81.4h.6M318.7 106.1h.6M327.4 96.7h.6M329.5 96.1h.6M317.6 83.9h.6M331.6 100.5h.6M320.1 87.1h.6M320.6 97.6h.6M329.7 92.3h.6M323.3 94.9h.6M327.7 85.7h.6M329.7 86.4h.6M333.7 97.3h.6M323 97h.6M327.9 86h.6M321.6 77.9h.6M320.2 94.9h.6M335.3 86.7h.6M328.5 94.9h.6M332.6 95.8h.6M335.5 98.5h.6M322.5 95.4h.6M312.3 90.5h.6M327.6 96.9h.6M325.5 99.1h.6M336.1 84.9h.6M324 94.2h.6M330.7 93.2h.6M332.9 81.9h.6M332.5 101.9h.6M334.7 95.6h.6M326 95.4h.6M327 78.5h.6M323.6 91.7h.6M324.1 84.1h.6M326 88.8h.6M327.9 91.6h.6M328.6 100.4h.6M328.4 95.5h.6M319.6 66.9h.6M324.9 97.8h.6M325.3 86.7h.6M319.4 99.6h.6M324.1 94.1h.6M334.9 96.6h.6M342.1 90.9h.6M333.7 97.9h.6M323.2 92.4h.6M323.8 83.3h.6M329.4 85.4h.6M338.4 85.7h.6M324 92.8h.6M324.1 92.5h.6M323.5 79.9h.6M311.8 81h.6M337.4 95.8h.6M328.5 88.1h.6M326.6 94.5h.6M318.5 85.2h.6M321.7 102.7h.6M320.6 102h.6M324.5 115.2h.6M327 92.3h.6M336.3 99.4h.6M333.6 82.9h.6M334.9 106.3h.6M326.8 87.9h.6M320.4 100.6h.6M329.4 92.1h.6M319.5 105.8h.6M333.2 91.8h.6M337.1 83.9h.6M333.2 83.5h.6M336.7 89.7h.6M335.4 88.5h.6M330.1 101.7h.6M321.6 92.8h.6M322.1 99.2h.6M323.6 88.8h.6M326.2 101.9h.6M320.7 91.8h.6M325.4 87.3h.6M322.4 90.6h.6M328.8 78.8h.6M329 81.9h.6M327.6 111.4h.6M321.2 91.4h.6M325.8 100.3h.6M324.4 76.8h.6M317 93.5h.6M329.1 101.1h.6M324 97.7h.6M320.6 103h.6M327 86.2h.6M328.7 106.8h.6M322 81.5h.6M320.9 82.2h.6M327.2 95h.6M326.4 93.7h.6M335.2 89.5h.6M319.4 72.6h.6M329.1 86.2h.6M325.9 95.5h.6M330.5 78.7h.6M321.3 92.6h.6M326.6 101.7h.6M324.2 74.4h.6M335.1 78.1h.6M321.2 95.3h.6M320.6 113.2h.6M329 96.6h.6M324.7 110.8h.6M331 85.9h.6M335.7 77.6h.6M323.7 94.5h.6M328.4 83.8h.6M337.8 104.5h.6M321.4 95.2h.6M323.4 88.3h.6M333.9 93.1h.6M326.8 92.9h.6M319.9 102.4h.6M322.6 103.1h.6M324.5 88.1h.6M337.2 93.6h.6M323.3 87.4h.6M331.4 107.9h.6M331.5 88.7h.6M320.2 86.3h.6M326.7 94.1h.6M323.2 102.9h.6M321.3 85.9h.6M330.7 96.1h.6M325 100.2h.6M318.3 105.9h.6M341.7 108.6h.6M328.3 108.7h.6M327.8 103.3h.6M326.2 93.6h.6M330.9 77.2h.6M326.1 106.6h.6M308.5 95.3h.6M333.5 94.8h.6M328.8 103.8h.6M329.7 75.9h.6M321.4 89.5h.6M328.4 88.2h.6M326.8 106.2h.6M308.4 101.8h.6M333.6 97.1h.6M327.6 92.5h.6M329.9 94.1h.6M322.8 98.6h.6M322.1 91.7h.6M325.2 82.2h.6M331.4 91.4h.6M319.9 91.3h.6M318.6 104.2h.6M330.9 108.9h.6M323.8 98h.6M321.2 84.8h.6M326.9 95.5h.6M333.5 89.7h.6M334.7 100.2h.6M321.8 90.5h.6M321.6 106.5h.6M323.9 99.5h.6M333.4 89.8h.6M324.3 94.9h.6M322.5 81.3h.6M321.2 94.9h.6M328.7 106.9h.6M315.7 96.3h.6M320 101.8h.6M332 93.1h.6M337 88.8h.6M324.1 83.1h.6M323.3 93h.6M331.9 102.8h.6M325.8 85.8h.6M325.3 88.4h.6M324.5 88.6h.6M321.9 91.6h.6M324.2 90.6h.6M318.5 93.2h.6M331.2 97.5h.6M324 82.4h.6M319.1 82.1h.6M323.3 89.4h.6M316.1 97.7h.6M317.6 86.2h.6M322.8 99h.6M339.4 89h.6M325.7 88.7h.6M326.2 90.6h.6M343.4 82.8h.6M326.8 85.4h.6M329.8 87.6h.6M331.2 82.9h.6M341.1 93.8h.6M316.1 97.9h.6M324.5 82.3h.6M330.3 87.6h.6M332.3 87.4h.6M333.3 93.3h.6M329.8 93.3h.6M325.2 89h.6M330.4 98h.6M324.9 110.8h.6M338.4 82.4h.6M334.5 91.4h.6M329 85.4h.6M338.1 85.1h.6M327 85.9h.6M339.9 102.5h.6M319 88.2h.6M329.8 88.4h.6M325.2 83h.6M329.1 82.9h.6M332.8 112.1h.6M325.4 105.8h.6M329.9 86.4h.6M325.3 84h.6M328.2 97.9h.6M333.5 89.7h.6M319.8 91.4h.6M338.2 94.4h.6M327.1 74.6h.6M324.7 96.6h.6M321.4 103.3h.6M323.9 84.7h.6M323.8 91.2h.6M333.9 87.3h.6M316.1 91.4h.6M330.8 104.9h.6M320.3 104.4h.6M331.8 95.8h.6M322.6 84.7h.6M321.4 99.8h.6M328.9 100.9h.6M339.1 92.2h.6M327.2 108h.6M319.2 88.3h.6M325.1 88.9h.6M328.4 85h.6M334.9 80.7h.6M322.3 77.9h.6M318.5 96.9h.6M331.5 90.4h.6M332.9 97.2h.6M323.8 91.7h.6M329.8 108.8h.6M324.7 95.1h.6M331 102.2h.6M330.2 101h.6M320.7 89.9h.6M315.1 91.6h.6M342.4 94.1h.6M328.1 94.3h.6M328.4 81h.6M323.1 90.6h.6M328.6 84.9h.6M326.8 85.9h.6M319.1 86.6h.6M322.4 99h.6M336.1 96.9h.6M326.1 87.4h.6M317.5 87.7h.6M337.5 101.6h.6M328.9 90h.6M327.5 95.6h.6M327.5 95.6h.6M322.6 92.4h.6M325.3 101h.6M319.6 102.8h.6M327 87.9h.6M327.6 93.1h.6M326 95.6h.6M323.8 78h.6M331.9 91.8h.6M338.1 95.3h.6M314.7 102.4h.6M323.1 96.6h.6M341.7 101.1h.6M320.5 91.3h.6M317.2 97.6h.6M331.1 83.6h.6M330.4 99.8h.6M332.7 86.5h.6M323.1 82.8h.6M319.2 94.7h.6M327.8 102.8h.6M329.3 89.4h.6M318.4 104.9h.6M328.6 91.8h.6M321.1 83.4h.6M331.5 84h.6M331.2 97.3h.6M325.1 78.7h.6M330.1 103.7h.6M322.2 81.6h.6M334.5 93.3h.6M323.5 102.2h.6M325.7 95.8h.6M324.9 85.9h.6M328.9 85h.6M316.2 87.6h.6M335.4 101.1h.6M341.4 100.3h.6M337.8 94.1h.6M324.7 95.9h.6M321.4 98.1h.6M324.6 94.2h.6M322.1 91h.6M333.8 90.3h.6M323.2 94.4h.6M333.1 90.5h.6M320 79.2h.6M319 100.9h.6M326.9 96h.6M334.3 94.4h.6M330.6 87.9h.6M317.2 97.3h.6M326.9 96.8h.6M320.7 90.9h.6M340.3 85.2h.6M328.1 102.9h.6M326 93.1h.6M313.9 98.5h.6M324.7 102.7h.6M326.9 89h.6M330.3 90.1h.6M324.2 104.8h.6M333.8 93h.6M332.7 98.9h.6M331.2 92.5h.6M328 95.5h.6M331.1 95h.6M324 91.5h.6M330.4 84h.6M327.4 98.3h.6M328.6 89.8h.6M327.4 88.2h.6M333.8 89h.6M316.9 82.2h.6M329.4 93.8h.6M324.5 81.4h.6M326.6 85.3h.6M323.3 92.1h.6M322.6 94.7h.6M322.8 88.3h.6M326.1 104h.6M337.5 99.8h.6M322.8 92.2h.6M333.3 98.7h.6M317.1 91.7h.6M322.8 98.2h.6M331.6 87.8h.6M341.1 89.9h.6M343 90.7h.6M325.7 112.2h.6M324.2 102h.6M331.1 103.9h.6M327.6 98.6h.6M332.1 108.3h.6M327.2 107.1h.6M324.3 102h.6M320.6 105.7h.6M330.2 107.8h.6M329.2 107.1h.6M322.8 98.5h.6M328.2 104.8h.6M329.4 102.9h.6M323 106h.6M324.1 97h.6M323.9 100.3h.6M322.2 101.7h.6M329.3 114.2h.6M331.9 102.3h.6M329.9 103.8h.6M327.4 101.2h.6M325.7 96.9h.6M332.1 100.8h.6M328 101.6h.6M326.9 99h.6M324.7 108h.6M328 95.7h.6M328.9 98.5h.6M327 106.3h.6M323.8 102.7h.6M325.2 105.8h.6M329.1 109.9h.6M327.1 112.6h.6M322.8 111.7h.6M325.1 107.4h.6M325.6 104.4h.6M322.9 105.7h.6M332.9 104.7h.6M325.9 104.1h.6M328.4 103.2h.6M326 105h.6M330.5 108.1h.6M322.4 101.4h.6M326.1 107.7h.6M329.3 103.2h.6M333.3 103.4h.6M330.8 110.2h.6M331.5 104.9h.6M328 97.5h.6M319.9 101.5h.6M328.5 108.6h.6M325.6 108.5h.6M328 110.6h.6M320.5 100.5h.6M322.7 99.6h.6M331.6 100.1h.6M323.2 102.4h.6M329 102.1h.6M328.5 106.4h.6M323.8 94h.6M322.9 98.7h.6M331.6 101h.6M322.3 105.7h.6M326.2 100.1h.6M329.8 108h.6M327 100.8h.6M323 95.3h.6M327.3 105.7h.6M322.8 104.2h.6M337.2 99.2h.6M320.1 106.7h.6M324.5 102h.6M328.1 103.5h.6M329.4 106.3h.6M330 104.6h.6M318.6 109.9h.6M320.2 108.5h.6M326.9 98.1h.6M326.2 107.8h.6M322.5 104.2h.6M323.5 99.8h.6M323.9 109.5h.6M328.4 103.9h.6M325.7 104.6h.6M327 104.8h.6M320.1 108h.6M323.1 92.9h.6M328.4 98.9h.6M325.5 103.7h.6M324 106.3h.6M325.1 102.9h.6M322.7 102.9h.6M322.4 104.2h.6M330.5 108.4h.6M327.5 98.2h.6M329.5 108h.6M333.1 94.4h.6M326.1 102.6h.6M329.7 99.4h.6M324.7 114h.6M329.4 95.5h.6M326.1 109.9h.6M323.9 106.6h.6M326.3 97.8h.6M323.8 108.9h.6M330.1 101.5h.6M329.9 101h.6M326.9 103.9h.6M321.7 105.4h.6M324.7 92.3h.6M323.1 100.4h.6M323.1 99.8h.6M323.6 93.5h.6M329.1 104.3h.6M326.9 102.9h.6M326.2 102.9h.6M322.2 97.5h.6M326.3 108.4h.6M326.8 111h.6M321.3 102.9h.6M323.9 109.3h.6M331.8 101.8h.6M328.5 103h.6M322.6 103.6h.6M322.4 110.7h.6M328 109.1h.6M327.2 93.6h.6M328.8 104.4h.6M317.8 104.5h.6M329.5 111.4h.6M322.5 107.4h.6M327.1 103.3h.6M325 106.3h.6M328 106.9h.6M324.6 98.4h.6M330.5 109.6h.6M324.1 103.9h.6M328.8 96.5h.6M327.7 114.4h.6M326.9 101h.6M333 104.1h.6M326.7 102.2h.6M326.6 96.3h.6M321.6 97.7h.6M329.1 103.6h.6M330 95.2h.6M323.9 110.3h.6M323.3 96h.6M323.4 102.5h.6M326 109.6h.6M330.6 110.7h.6M328 101.9h.6M324.3 97.6h.6M330.4 109.4h.6M326.3 100.2h.6M328.3 106.1h.6M326.5 99h.6M326.8 101.6h.6M328.5 106.6h.6M327.5 102.2h.6M331.2 107.3h.6M330.4 107.6h.6M328.3 105.7h.6M322.3 96.2h.6M322.8 106.7h.6M329.1 104.8h.6M326.3 111.9h.6M324.6 96.3h.6M320.7 102.6h.6M328.4 107.2h.6M325.2 107.5h.6M325.8 100.9h.6M324.7 107.3h.6M329.3 99.2h.6M322.6 104.5h.6M333.3 99h.6M321.7 105.8h.6M327.7 101.4h.6M325.9 106.1h.6M320 103.9h.6M328.1 108h.6M330 103.7h.6M321.1 109.8h.6M328.6 101.3h.6M329.6 108.5h.6M325.5 93.8h.6M324.4 100.7h.6M323.1 103.7h.6M322.3 105.7h.6M332.5 98.9h.6M329.6 101.7h.6M327.9 103.5h.6M330.4 100.9h.6M328.5 100.7h.6M326.8 103.9h.6M329.7 97.2h.6M321.4 110h.6M327.3 111.3h.6M322.5 104.9h.6M328.1 111.6h.6M324.4 119.4h.6M327.4 121h.6M321.7 125h.6M317.1 116.8h.6M329.9 119.2h.6M323.3 123.2h.6M329 123.9h.6M320.8 118.9h.6M328.7 121h.6M322.1 125.5h.6M329.1 131.5h.6M320.4 118.3h.6M321.9 123.1h.6M322.7 126.6h.6M314.1 125.9h.6M322.1 120.2h.6M326.8 122.4h.6M320.6 128.4h.6M326.9 119.2h.6M325.4 116.4h.6M319.8 120.1h.6M326 122h.6M321.6 115.1h.6M318 128.9h.6M326 117.8h.6M329.2 124h.6M323 118.7h.6M329 123h.6M331 123.2h.6M322.3 118.7h.6M321.9 122.7h.6M325.6 124.3h.6M326.4 116.7h.6M323.8 117.2h.6M326.5 115.4h.6M322.3 117.6h.6M322.2 120.3h.6M330.5 120.3h.6M319 120.1h.6M327.5 124h.6M325.5 130.7h.6M328.9 121.9h.6M329.3 115.3h.6M323.9 117.5h.6M325.3 128.9h.6M322.7 128.8h.6M320.6 128.1h.6M318 117.6h.6M328.5 121.1h.6M325.2 121.4h.6M325.3 120.7h.6M320.8 120.2h.6M325 117.4h.6M326.4 129.6h.6M318.2 119h.6M323.5 121.6h.6M325 118.2h.6M324.5 121.5h.6M324.3 128.6h.6M325.1 114.7h.6M318.5 124.2h.6M323.3 118.7h.6M319.3 120.1h.6M324.2 118.3h.6M323.2 125.6h.6M327.7 124h.6M323.9 115.3h.6M327.6 128.4h.6M329.6 126.9h.6M325.7 123.2h.6M324.5 127.3h.6M323.6 131.4h.6M327.6 120h.6M324.6 114.1h.6M321.8 120.1h.6M334.1 117.8h.6M328.2 121.9h.6M323.5 124.4h.6M316.9 125.9h.6M332.1 122.9h.6M324.4 122.2h.6M327.2 119.2h.6M325.1 123.8h.6M323.2 123.3h.6M325.9 124.8h.6M320.8 119h.6M322.9 127h.6M325.6 113.9h.6M319.6 130.4h.6M325.9 115.5h.6M321.1 122.2h.6M330.1 129h.6M323.2 120.1h.6M332.1 117h.6M330.7 123.1h.6M325 127.4h.6M326.5 117.6h.6M318.7 121.6h.6M326.6 127.8h.6M314.5 127.7h.6M327 128.5h.6M327.7 122.5h.6M326.3 123.3h.6M322.2 121h.6M325.1 119.4h.6M318.9 114.8h.6M326.6 123.9h.6M325 116.1h.6M327.9 119.7h.6M316.5 128.7h.6M318.8 131.9h.6M326.7 119.5h.6M315.5 118.3h.6M330.4 127.8h.6M325.6 113.6h.6M323.1 120.2h.6M326.4 120.9h.6M325.9 114h.6M322.1 128.1h.6M319 125.8h.6M333.6 124.5h.6M319.2 127.2h.6M317.4 123.1h.6M323 127.2h.6M329.2 122.4h.6M331.6 126h.6M322.7 117h.6M334.2 119.6h.6M326.2 121h.6M322.8 114.1h.6M324 121h.6M328.4 119.1h.6M318.5 116.5h.6M324.4 122.7h.6M327.4 119.7h.6M326.7 122.2h.6M331.2 121.2h.6M325.2 124.1h.6M329.3 117.2h.6M322.8 120.2h.6M316.3 127.5h.6M328.8 121.6h.6M337.7 127.4h.6M332.5 128.8h.6M328.1 115h.6M330.6 123.4h.6M320 121.7h.6M327.5 126h.6M325.3 119.1h.6M327.6 118h.6M324.3 125h.6M319 123.2h.6M317 117.2h.6M319.8 121.1h.6M327.4 121.3h.6M328.2 121.9h.6M323.8 123.8h.6M323.7 122.1h.6M328.6 118.9h.6M329.1 116.4h.6M323.7 113.5h.6M322.5 128.9h.6M326 127.4h.6M318.9 116.8h.6M326.4 125.3h.6M327.9 113.8h.6M326.6 121.2h.6M325.1 123.7h.6M323.5 113.7h.6M320.4 114.8h.6M319.5 120.9h.6M329.7 118.2h.6M321.6 116.2h.6M317.9 121.8h.6M322.7 120.4h.6M320.9 123.8h.6M319.9 124h.6M322 125.2h.6M321.1 123.6h.6M326.3 121.1h.6M331 122.3h.6M321.1 124.7h.6M321.4 119h.6M324.6 122.3h.6M331.2 113.4h.6M323.6 126.7h.6M324 123h.6M330.5 115.8h.6M324.8 125.2h.6M322.3 113.4h.6M320.7 122.4h.6M325.3 130h.6M329.8 114.3h.6M328.6 125.7h.6M330.9 120.8h.6M322.4 122.2h.6M330.6 124.4h.6M331.2 125.1h.6M322.3 116.8h.6M331.8 114.5h.6M323.2 120h.6M321 118.8h.6M324.6 132.5h.6M324.3 119.1h.6M325.1 125.9h.6M321.4 119.6h.6M317.8 124.8h.6M327.3 128.5h.6M319.9 131.6h.6M328 120.2h.6M323.1 120.1h.6M319.9 125.1h.6M322.2 118.1h.6M326.6 122h.6M322.3 120.4h.6M322.7 127.8h.6M328.5 118.1h.6M324.4 127.9h.6M323.5 129.8h.6M326.3 124.6h.6M316.5 125.4h.6M325.9 124.2h.6M326.5 124h.6M322.6 125.7h.6M324.8 116.6h.6M320.6 122.3h.6M325.9 111.2h.6M316.6 126.4h.6M324.6 134.7h.6M318.6 120.3h.6M322.3 124.1h.6M330.1 129h.6M320.7 127.2h.6M319.9 122.9h.6M325.3 124.4h.6M321.5 127.7h.6M324.3 121.4h.6M323.6 116.5h.6M327.4 123.1h.6M326.4 130.2h.6M321.2 120.2h.6M324.6 125.5h.6M323.9 125.8h.6M326.4 113.3h.6M321.9 112h.6M323.5 119.6h.6M326.9 122.3h.6M324.4 127.4h.6M326.9 115.8h.6M321.9 123h.6M331.2 120.6h.6M323.9 122.7h.6M327.7 121.1h.6M325.8 119.5h.6M322.5 117.8h.6M327.2 118.9h.6M326.7 123.4h.6M328.4 109h.6M320.8 115.8h.6M324 125.3h.6M334.5 128.7h.6M329.9 123.3h.6M323.1 124h.6M316.1 125.8h.6M324.6 124.4h.6M320.6 116.4h.6M322.1 121.3h.6M326 119.8h.6M326 124.7h.6M320.1 121h.6M318.5 118.9h.6M328.1 118.2h.6M331.9 123.9h.6M328.1 122h.6M328 126.6h.6M325 119h.6M322.5 130.5h.6M323.9 119.4h.6M321.8 113.6h.6M322.6 123h.6M322.7 118h.6M326.2 123.6h.6M322.9 122.9h.6M320.8 125.5h.6M320.7 119.9h.6M325.1 119.5h.6M320.1 131.3h.6M330.5 113.4h.6M325.1 115.6h.6M325.8 115.4h.6M326.9 124h.6M331.3 127.1h.6M322.8 125.9h.6M322.8 121h.6M322.6 113.3h.6M327 112h.6M323.7 124h.6M325 114.1h.6M322.1 124.7h.6M328.9 129h.6M317.5 123.6h.6M322.7 125.1h.6M318 120.8h.6M327.4 118.5h.6M323.2 116.9h.6M329 115.3h.6M321 119.9h.6M323.4 131.4h.6M325.7 117.6h.6M326.9 123.1h.6M325.7 121.2h.6M326.4 116h.6M319.9 119.5h.6M320.3 124.8h.6M332.2 127.3h.6M326.3 123.1h.6M321.9 115.4h.6M326.7 114.6h.6M325.8 120.8h.6M327.5 121.7h.6M325 118.8h.6M317.9 119.9h.6M327.3 126.4h.6M330 116.8h.6M320.9 124.8h.6M322.8 133.5h.6M325.8 114.4h.6M322.4 128.8h.6M317.5 122.2h.6M319.2 129h.6M322.9 116.7h.6M317.9 118.2h.6M314.6 119.3h.6M333.1 122h.6M323.6 116.1h.6M325.9 119.3h.6M321.3 128h.6M326.3 117.3h.6M330.4 121.2h.6M326.6 122.2h.6M329.2 124.4h.6M323.2 124.9h.6M323.1 122.1h.6M331 116.5h.6M320.6 119.6h.6M322.6 127.6h.6M318.4 132.2h.6M330.8 119.4h.6M325.3 119.8h.6M327.2 124.6h.6M327.5 125.1h.6M332.2 120.7h.6M327.3 120.6h.6M324.8 122.5h.6M324.4 123.1h.6M321.3 120.8h.6M322.2 116h.6M321.8 119.2h.6M324 114.2h.6M323.6 116.2h.6M321.4 122.4h.6M328.9 122.8h.6M322.7 119.4h.6M329.8 113.9h.6M329.1 114.5h.6M322.1 121.7h.6M323.7 129.3h.6M326.5 121.3h.6M328.3 121.7h.6M321.4 126.8h.6M330.5 127.5h.6M320 130.4h.6M323 125.1h.6M329.3 132.6h.6M318.3 116.7h.6M329.2 123.8h.6M323.4 107.8h.6M326.3 120.6h.6M314.4 134h.6M314.8 118.9h.6M324.6 122.6h.6M327.6 120.3h.6M321.1 119.8h.6M316.4 116.3h.6M332.3 118.3h.6M324.3 130.4h.6M328.7 122.1h.6M327.5 120.2h.6M321.1 126.2h.6M325.1 129h.6M323.6 119.7h.6M326 120.6h.6M323.4 117.3h.6M325.6 123h.6M331.8 121.4h.6M317.7 123.7h.6M333.6 119.4h.6M321.5 120.7h.6M313.4 119.9h.6M323.9 114.4h.6M326.9 117.4h.6M317.4 118.1h.6M327.1 130.5h.6M329.5 122.4h.6M322.6 120.3h.6M328.4 119.1h.6M326.2 126h.6M321 118.7h.6M326.4 121.5h.6M324.1 119h.6M324.4 130.2h.6M329.9 113.9h.6M324.8 121.9h.6M324.7 115h.6M324.1 122.2h.6M321.9 123h.6M315 114.4h.6M325 123.3h.6M323.9 119.3h.6M325.3 126.6h.6M328.1 121.1h.6M322.8 126.5h.6M326.7 125.6h.6M323.5 117.5h.6M325.3 118.6h.6M329.1 125.5h.6M316 124.6h.6M329.8 126.4h.6M322.7 117.5h.6M328.4 126.3h.6M324.8 116.1h.6M318.6 122.8h.6M321.4 118.3h.6M326.3 126.4h.6M316.5 118.4h.6M329.7 121.3h.6M323.3 124.5h.6M320.1 115.8h.6M324.7 128.8h.6M328.6 121.5h.6M328.6 119.6h.6M320 113.6h.6M325.7 125.7h.6M326.1 121.3h.6M323 126.6h.6M324.4 114.7h.6M330 118.5h.6M326.1 121.5h.6M328.7 122.7h.6M329.4 122.5h.6M322.8 119.1h.6M327.2 117.6h.6M328.2 120.4h.6M321 117.4h.6M324 129.8h.6M327.6 121.6h.6M321 130.5h.6M323.5 121.5h.6M322.9 127.8h.6M325.3 119.3h.6M325.3 116.8h.6M320.5 120.7h.6M313.3 127h.6M332.4 116.3h.6M324 114.1h.6M325.3 122.5h.6M327.5 115.2h.6M322.2 118.5h.6M323.6 132.2h.6M323.8 121.3h.6M322.6 125.2h.6M334.7 127h.6M330.6 116.5h.6M328.8 121.6h.6M329.5 126.5h.6M327.2 113.6h.6M325.1 119.1h.6M326.4 121.7h.6M328.7 114h.6M321.7 121.1h.6M325.9 119.6h.6M324.5 121.8h.6M328.7 121h.6M325.6 112.9h.6M314.3 114.6h.6M326 110.6h.6M326.2 121h.6M324.6 118.1h.6M322.9 125.4h.6M326 121.4h.6M322.7 122.5h.6M329.3 121.4h.6M323.2 115.9h.6M325 117.2h.6M318.9 125.6h.6M322.1 111.9h.6M321.8 130.2h.6M324.2 115.3h.6M320.3 124.9h.6M326.2 122.5h.6M323.8 123.8h.6M330.7 123.8h.6M324 114.9h.6M326.4 128.9h.6M327.1 115.6h.6M325.3 127.6h.6M322.1 123.8h.6M329.4 129.2h.6M318.3 113.3h.6M326.1 124.8h.6M323.2 121.4h.6M323 127.2h.6M315.9 122.7h.6M319.6 118.3h.6M318.6 117.2h.6M324.5 121.6h.6M331.6 120.5h.6M326 123.2h.6M325.6 128.4h.6M325.1 122.2h.6M324.2 121.5h.6M324.4 126.2h.6M324.7 121.8h.6M324.4 125.1h.6M322.7 125.9h.6M322.3 124.8h.6M332.2 122.6h.6M324.3 115.9h.6M327.5 121.6h.6M328.2 118.4h.6M326.7 130h.6M326.2 120h.6M319.5 121.5h.6M327.2 124.3h.6M320.2 116.6h.6M320.8 116.7h.6M323.5 122.8h.6M332.2 122.4h.6M330.3 113.7h.6M330.7 125.3h.6M326.3 125.4h.6M327 130.6h.6M327.8 113.3h.6M317.7 129.1h.6M324.3 127.8h.6M323.2 118.4h.6M323.2 123h.6M325.3 118.6h.6M326.7 124.4h.6M321 116.2h.6M316.9 120h.6M324.6 118.2h.6M322.2 120.9h.6M324.7 124.2h.6M327.9 123.6h.6M329 116.9h.6M327 123.3h.6M320.5 118.3h.6M326.4 121.9h.6M319.6 118.9h.6M330.6 125.5h.6M324.9 127.9h.6M321 120.7h.6M328.4 119.9h.6M320.2 124.3h.6M330.9 109.5h.6M325.2 115.6h.6M323.4 114.8h.6M334.9 118.3h.6M324.8 118.2h.6M320.7 119.3h.6M325.4 129.8h.6M325.7 128.9h.6M320.4 121.8h.6M322.9 114.1h.6M339.3 120.4h.6M325.6 117.9h.6M322.3 116.6h.6M328.7 119.6h.6M324 122.4h.6M319.8 122.6h.6M323.9 123.6h.6M323.1 121.7h.6M326.6 126.1h.6M321.9 126.1h.6M320.7 120.6h.6M325.1 122.2h.6M314.7 116.9h.6M323.9 125.9h.6M321.8 128.7h.6M317.5 121.9h.6M326.7 121.6h.6M325.6 125.9h.6M321.4 124.3h.6M328.8 120.4h.6M315.4 115.9h.6M321.2 116.5h.6M326.3 117.7h.6M334.4 124.2h.6M319.4 120.1h.6M330.6 124.7h.6M320.6 126.4h.6M322.7 132h.6M322.4 124.3h.6M326.8 119.4h.6M324 127h.6M326.6 121.2h.6M326.4 129.8h.6M328.3 123.8h.6M325.9 114.1h.6M325.1 119.2h.6M327.5 118.6h.6M326.4 116.5h.6M328.1 118h.6M324.5 124.2h.6M323.3 121.5h.6M328.8 129.9h.6M317.5 117.2h.6M327.3 126h.6M322.7 121.9h.6M323.8 132.3h.6M323.8 115.9h.6M318.5 115.4h.6M329.8 119.7h.6M332.3 124.5h.6M326.1 124.6h.6M327.7 125.9h.6M320.7 118.9h.6M322.4 122h.6M323.6 115.7h.6M321.9 130h.6M333 117.4h.6M326.1 121.3h.6M321.3 124.9h.6M324.3 129.4h.6M326.4 120h.6M314.1 121h.6M328 118.1h.6M328.1 124.7h.6M317.6 120.6h.6M325.9 125.1h.6M325.2 121.4h.6M323.2 120.1h.6M324.6 116.5h.6M327.1 120h.6M326.7 119.1h.6M326.2 122.1h.6M328.1 123.7h.6M328.3 120.7h.6M324.4 120.3h.6M319.6 120.9h.6M328.9 125.2h.6M321.2 122.9h.6M327.6 115.1h.6M326 123.1h.6M327.6 122.7h.6M317.7 112h.6M332.4 119.6h.6M329.6 127.5h.6M324.9 116.1h.6M330 121.3h.6M326.7 123.8h.6M328.4 126.3h.6M319 114.8h.6M325.2 121.5h.6M327.7 120.9h.6M323.9 131.1h.6M330 127h.6M328.7 117.8h.6M324.3 121.2h.6M320.3 117.4h.6M325.2 115.8h.6M326.7 123.7h.6M323.7 119.9h.6M327 123.8h.6M326 115.7h.6M318.2 131.2h.6M322 119.8h.6M317.4 117.7h.6M321.7 125.3h.6M314.2 114.9h.6M323 119.2h.6M321.5 119.4h.6M318.4 122.8h.6M329.3 122.2h.6M322.5 127.5h.6M326.5 116.6h.6M322.3 118.6h.6M324.4 127.2h.6M321.8 120.8h.6M325 115.9h.6M322.7 124.4h.6M329.1 112.7h.6M327.4 120.1h.6M329.7 124.4h.6M332.4 123h.6M323 117.6h.6M318.9 124.1h.6M326.6 125.4h.6M326 114.4h.6M323 120.4h.6M325.2 125.1h.6M330.2 122.8h.6M316.4 116.7h.6M316.2 117.9h.6M319.9 122.6h.6M323.7 126.8h.6M328.9 119.4h.6M328.3 121.6h.6M326.4 127.9h.6M320.1 121.2h.6M330.7 117.9h.6M325.5 122.1h.6M323 115.3h.6M321.9 116.9h.6M328.9 122.7h.6M327.4 115.9h.6M326.6 122.2h.6M328.7 118.1h.6M327.8 128h.6M331.7 117.1h.6M320.2 114.6h.6M328.4 124.3h.6M326 117.4h.6M329.6 129.1h.6M324.5 120.9h.6M329.3 123.9h.6M329.9 119.6h.6M325.9 119.9h.6M322.4 120.1h.6M323.5 123.9h.6M323.4 121.8h.6M321.4 115.7h.6M330.2 116.9h.6M331.8 125.9h.6M315.6 118.5h.6M323 121.6h.6M323.9 118.7h.6M329.6 120.9h.6M328.4 118.3h.6M321.9 127.8h.6M323.5 116.3h.6M323.9 126.4h.6M324 118.1h.6M327.1 126.1h.6M323.8 120h.6M323.2 134.2h.6M323.9 129.7h.6M324 123.4h.6M316.6 122.3h.6M324.8 120h.6M323 115.1h.6M318.7 122.3h.6M322.1 121.1h.6M323.9 119.1h.6M321.7 130.2h.6M320.2 119.1h.6M323.4 116.1h.6M320.8 125.6h.6M328.3 122.1h.6M337.4 125.4h.6M329.5 117.7h.6M328.9 129.4h.6M323.1 130h.6M321.4 116.2h.6M324.4 117.7h.6M327.1 116.3h.6M324.9 112.3h.6M324.5 126.4h.6M323.6 123h.6M328.9 116.4h.6M319.6 121.9h.6M325.7 120.2h.6M320.8 127.2h.6M320 120.3h.6M324.4 124.9h.6M322.8 117.7h.6M332.6 117.5h.6M327.8 120.8h.6M322.7 121.3h.6M323.6 123h.6M314.6 121.4h.6M324.9 116.9h.6M323.1 132.5h.6M331.9 124.5h.6M325.5 120.1h.6M330.1 119.4h.6M321.4 124.7h.6M320.8 117.8h.6M330.3 114h.6M324.4 122.1h.6M325.6 114.7h.6M323.7 119.9h.6M332.2 126.2h.6M321.6 125.6h.6M327.2 121h.6M323.7 120.2h.6M318.5 118.6h.6M328.3 128.3h.6M331.9 119.7h.6M327 110.2h.6M323.6 115.6h.6M327.9 113.7h.6M320.5 116.3h.6M326.2 125.4h.6M321 130h.6M325.3 117.6h.6M326 121.4h.6M327.9 123.1h.6M333.3 127h.6M322.1 125.2h.6M327.6 116.8h.6M321.7 117.7h.6M314.9 124.5h.6M323.8 127.3h.6M322.4 121.9h.6M327.5 126h.6M325.9 116.6h.6M333.3 125.6h.6M330 129.1h.6M330.2 123.4h.6M326.5 124.5h.6M318.7 125.3h.6M320.8 123.5h.6M320.6 124.9h.6M322.7 133.2h.6M325.4 123.9h.6M321.1 120.2h.6M324.4 120.2h.6M322.9 117.4h.6M327.6 119.7h.6M321.4 123.2h.6M321.4 120.7h.6M322.6 117.2h.6M323.7 117.7h.6M319.7 123.2h.6M323.5 114.7h.6M323.1 122.4h.6M326.3 123.3h.6M325.6 124.3h.6M322.7 117.8h.6M327 119.6h.6M324.7 124.6h.6M328.3 127.2h.6M321.9 119.8h.6M326.8 114.8h.6M319.7 124.3h.6M322.2 117.2h.6M327.8 124h.6M328.2 120h.6M323.5 119.9h.6M325.8 112h.6M321.9 124.8h.6M321.6 121.2h.6M325.1 123.9h.6M322.8 116.2h.6M334.5 118.2h.6M331.4 113.3h.6M325.1 120.6h.6M332.1 131h.6M328.5 116.8h.6M321.5 118h.6M322.6 122.7h.6M321.5 120.4h.6M330.4 128.2h.6M317.3 117.1h.6M323.2 127.6h.6M323.3 130.4h.6M326.1 128.2h.6M321.3 120.1h.6M328.6 124.2h.6M317.3 120.2h.6M325.3 124.4h.6M322.1 129.6h.6M325.2 128.3h.6M326.2 121.9h.6M323.4 116.1h.6M328 125h.6M328.3 119.8h.6M320.7 119.7h.6M323.4 121.5h.6M328.5 117.3h.6M322.7 124.7h.6M328.2 131.8h.6M326.7 117.6h.6M320.6 117.8h.6M324.9 122.7h.6M324.4 118.7h.6M323.9 121.1h.6M327 121.9h.6M321.5 116.1h.6M330.5 121.1h.6M324 121.4h.6M329.1 120.1h.6M325.3 120.4h.6M326.9 116.8h.6M325.4 126.3h.6M329.3 124.4h.6M325.8 128.8h.6M327.4 128h.6M319.9 116.4h.6M327.8 120.3h.6M323 117.1h.6M330.5 116h.6M325.1 115h.6M324 132h.6M334.2 119.2h.6M320.7 129.1h.6M321.3 113.2h.6M326 116.5h.6M319 126.7h.6M321.8 116.6h.6M325.3 120.6h.6M329.1 122h.6M330.9 126.8h.6M331.6 126.7h.6M324.9 124h.6M324.7 114.3h.6M320 125h.6M315.4 117.7h.6M319.6 121.2h.6M320.6 122.7h.6M323.9 119.3h.6M321.3 111.2h.6M324.9 115.5h.6M323.5 123.2h.6M328.8 124.8h.6M330.5 114.9h.6M327.3 128.8h.6M326.2 116.4h.6M326.2 119.1h.6M322.1 126.5h.6M324 116.3h.6M322 130.6h.6M321.4 124.6h.6M325.4 126.9h.6M323.6 117.1h.6M322.2 116.7h.6M334.8 122.4h.6M323.4 127.4h.6M327.2 120.7h.6M327.1 122.8h.6M329.1 129.2h.6M323.4 121.3h.6M324 127.2h.6M326.2 125.2h.6M328.2 118.6h.6M325.2 127.9h.6M328.3 125.3h.6M323.6 119.8h.6M321.3 120.3h.6M324.4 114.9h.6M329.2 118h.6M325.6 124.3h.6M322.5 113.1h.6M328.4 123.4h.6M323.7 126.8h.6M328.2 117.1h.6M324.4 113.3h.6M323.6 128.1h.6M321.4 125.3h.6M318.8 120.1h.6M328.3 129.5h.6M326.4 125h.6M331.4 110.2h.6M318 130.3h.6M334.3 124.3h.6M324.9 122.7h.6M324.8 118.7h.6M324.6 120.9h.6M327.3 124.7h.6M328.5 124.2h.6M320.9 128h.6M314.2 122.1h.6M326 119.1h.6M332 116.4h.6M320.1 119.2h.6M326.3 125.2h.6M325.1 124.6h.6M321.9 118.7h.6M325.2 115.3h.6M325.4 119.7h.6M327.3 116.8h.6M322.6 118.9h.6M323.2 116.9h.6M323.7 115.2h.6M326.8 124.6h.6M324.6 120.6h.6M321.2 117.1h.6M323.8 117.3h.6M320.1 122.3h.6M324.6 119.6h.6M321.5 121.3h.6M322 119.5h.6M325.4 124.9h.6M327.6 118.7h.6M329.4 116.1h.6M324 127.6h.6M333.9 122.1h.6M323.3 119.8h.6M320 120.8h.6M323 118h.6M329.3 117.9h.6M331.2 125.4h.6M327.2 118.8h.6M322.7 112.3h.6M325.7 120.3h.6M326.2 118.4h.6M326.6 114.6h.6M316.2 123.7h.6M328.8 106.9h.6M329.6 119.9h.6M324 114.4h.6M320.8 124.8h.6M321.8 121.3h.6M324.1 130.7h.6M328.1 115.4h.6M322.8 116.2h.6M319.3 118.3h.6M328.9 121.7h.6M327.3 120.9h.6M323 121.9h.6M324.4 130.4h.6M331.6 123.3h.6M327 112.3h.6M324.2 132.6h.6M321.6 125.3h.6M329.4 119.7h.6M323.8 119.4h.6M327.7 121.6h.6M330.5 127h.6M324.6 133.6h.6M323.5 118.7h.6M323.7 117.4h.6M323 121.2h.6M328.1 114.2h.6M319.2 117.9h.6M323.5 123.6h.6M321.6 128.5h.6M322.6 120.5h.6M324.9 126.9h.6M325.8 121.6h.6M322.6 122.3h.6M326.2 119.9h.6M324.6 113h.6M322.6 127h.6M330.1 121.2h.6M316.3 130h.6M324 133.4h.6M323.1 126.2h.6M322.3 127.9h.6M329.1 116.6h.6M329.6 134.8h.6M323.8 115.9h.6M325.7 119.6h.6M318.9 116.6h.6M325.6 114.4h.6M328.8 123.6h.6M324 128h.6M321.1 124.7h.6M319.4 120h.6M327.1 119h.6M324.2 124.5h.6M330.5 127.6h.6M326.4 120.3h.6M319.1 129.5h.6M331.9 111.5h.6M328 121.3h.6M327.4 123h.6M323.9 121.5h.6M324.5 126.9h.6M323.6 119h.6M327.2 124.5h.6M326.3 122.8h.6M330.3 126.7h.6M325.5 120.5h.6M327.2 112.8h.6M322.6 118.2h.6M325.3 119.7h.6M334.1 124.9h.6M326.2 132h.6M324.6 120h.6M329.4 125.4h.6M328.2 127.1h.6M323.2 118.4h.6M321.9 122h.6M328.5 116.6h.6M322.6 115.3h.6M332.3 125.2h.6M325.5 115.8h.6M320.7 118.5h.6M324.8 115.6h.6M323.8 127.2h.6M324.7 122h.6M316.6 120.2h.6M324.1 118.3h.6M319.3 121.2h.6M320.7 119h.6M318.5 121.1h.6M328.1 117.6h.6M325.9 114.4h.6M326.9 124h.6M323.1 125.6h.6M321.3 121.7h.6M331.1 121.4h.6M320.3 126.9h.6M326.7 120.2h.6M317.6 112.7h.6M318.8 128.4h.6M325.8 117.5h.6M329.1 128.4h.6M321.4 123.8h.6M318.3 123.2h.6M331.6 114.9h.6M324.9 118.5h.6M324.3 121.9h.6M325.7 125.7h.6M326.6 126.4h.6M328.5 126.6h.6M322 123.4h.6M323.2 117.6h.6M332.2 122.9h.6M324.8 111.7h.6M323.7 125.1h.6M323.9 119h.6M330.3 120h.6M323.4 121h.6M323.7 126.4h.6M326.8 121.2h.6M323.3 120.4h.6M331.1 120.1h.6M327.1 114.1h.6M325.9 124.7h.6M329.5 123h.6M326.9 123h.6M328.7 131.1h.6M325.4 117.7h.6M326.9 121h.6M327.1 125.1h.6M325.2 119.4h.6M325.8 115.7h.6M325.7 117.4h.6M326.4 122.1h.6M323.8 115.9h.6M324.8 118.3h.6M324.1 124.8h.6M328.3 115.5h.6M328.2 127.9h.6M329 122.8h.6M324.3 129.7h.6M323.4 114.4h.6M325 122.8h.6M320.7 115.8h.6M332.2 122h.6M327.6 118.8h.6M318.8 120.7h.6M329.8 118.4h.6M317.8 120.7h.6M323.6 121.6h.6M320.6 120h.6M322.6 125.6h.6M325.2 125.6h.6M324.4 111.5h.6M317.2 124h.6M328 125.6h.6M324.4 113.1h.6M322.8 123.4h.6M329.9 119.9h.6M322.5 117.9h.6M328.5 125.6h.6M317.7 127.2h.6M321.1 114.6h.6M318.5 118.1h.6M333.5 133.5h.6M319.9 118.4h.6M325.2 123.4h.6M322.8 114.1h.6M323.1 118.3h.6M317.8 122.2h.6M319 113.4h.6M330.4 125.9h.6M330.2 122.1h.6M323.1 121.1h.6M319.4 125h.6M325.7 120.1h.6M317.5 121h.6M330.9 128.3h.6M328 119.9h.6M325.2 124.1h.6M325.4 126.4h.6M322.1 110.6h.6M315.4 117.2h.6M319.4 124.6h.6M328.8 121.5h.6M326.7 121.9h.6M325.3 119.3h.6M323.1 127.1h.6M323.6 121.3h.6M329.2 126.1h.6M323.1 122.7h.6M320.8 122.1h.6M325.9 121.5h.6M325.3 123.2h.6M315 117.6h.6M324.9 119.2h.6M321 120.4h.6M330.8 120.4h.6M322.2 119.3h.6M320.1 123.8h.6M320.9 125.8h.6M328.1 124.2h.6M328.6 121.1h.6M317.9 121.2h.6M327.1 114.3h.6M320 126.6h.6M326.3 127.8h.6M327.2 121.8h.6M326.3 125.5h.6M324.5 120.5h.6M325.9 120h.6M333.9 117.9h.6M318.8 115.4h.6M328.7 119.6h.6M325.3 120.5h.6M325.7 114.7h.6M325 118.8h.6M328.8 124.4h.6M319.8 117h.6M326.8 127.1h.6M327.6 120.8h.6M328.9 110.4h.6M322.6 116.9h.6M320.7 124.1h.6M325.7 122.8h.6M324.1 124.4h.6M327.7 118.8h.6M328.3 117.1h.6M331.4 115.4h.6M323.5 116.4h.6M324.8 127.7h.6M321.8 129.8h.6M330.1 123.3h.6M322.4 125.7h.6M313.6 117.9h.6M328.4 121.3h.6M334.2 118.3h.6M319.5 120.5h.6M326.9 129.5h.6M317.9 122.2h.6M329.5 118.3h.6M322.9 115.8h.6M327.6 125.4h.6M326.9 122.7h.6M328.5 120.9h.6M327.4 125.4h.6M329.7 123.9h.6M325 124.8h.6M318.7 113.2h.6M330.9 122.1h.6M320.6 118.8h.6M324.1 121.8h.6M321.7 126.2h.6M318 134.7h.6M320.5 129.3h.6M327.2 113.6h.6M319.9 121.8h.6M325.7 119.5h.6M324.7 122.3h.6M320.2 121.8h.6M333.5 118.5h.6M320.7 124.6h.6M329.9 126.4h.6M322.2 121.2h.6M325.4 120.5h.6M326.2 126.6h.6M326.8 121.5h.6M323.9 129.9h.6M319.9 131h.6M327.5 121.9h.6M321.7 130.2h.6M329.4 125.8h.6M332.8 113h.6M325 120h.6M321.8 121.9h.6M326.8 124h.6M324.1 115.2h.6M326.8 124.4h.6M333 125.9h.6M324.7 116.1h.6M335.3 118.3h.6M325.4 125h.6M326.6 127.8h.6M320.6 118.2h.6M325.3 115.7h.6M322.2 128.1h.6M325.8 121h.6M322.4 121.7h.6M324.5 116.4h.6M327.8 115.4h.6M329.7 119.9h.6M315.7 114.2h.6M325.8 117.4h.6M331.8 128.1h.6M332.9 125.7h.6M330 118.6h.6M329.8 119.4h.6M324.5 115h.6M324.9 123.4h.6M324.4 116.2h.6M328.2 125.8h.6M324.3 125.2h.6M328.6 116.8h.6M324.5 112.7h.6M320.6 123.5h.6M321.2 123.4h.6M326.1 111.7h.6M322.7 128.7h.6M324.7 122.1h.6M321.9 113.9h.6M318.3 135.2h.6M323.9 117.4h.6M325.1 112.3h.6M330.2 129.7h.6M321.7 123h.6M321.1 125.6h.6M321.3 120.8h.6M329.8 124h.6M323.4 114.3h.6M318.3 127.2h.6M326.7 121.8h.6M329.7 122.2h.6M321.8 121h.6M324.3 121.4h.6M334.6 124.3h.6M325.7 120.3h.6M321.9 116.8h.6M317.2 119.3h.6M318.6 112.6h.6M320.9 111.8h.6M330.1 127.5h.6M320.8 131.3h.6M327.3 109.4h.6M324.7 116.7h.6M317.7 120.3h.6M329.3 123.6h.6M318.8 118.3h.6M321.6 127h.6M324.3 116.8h.6M321 112.1h.6M321.3 125.8h.6M317 122.4h.6M324.2 125.4h.6M320.1 125.9h.6M330.9 132.5h.6M318.1 121.4h.6M323.8 122.1h.6M320.7 125.6h.6M334 128.7h.6M320.8 118.7h.6M327.6 122.1h.6M321.6 127.4h.6M326.7 126.4h.6M323.9 127.6h.6M322.8 116.1h.6M324.6 114.8h.6M329.7 125h.6M317.9 122.3h.6M328 119.8h.6M326.3 118.7h.6M324.4 121.1h.6M326.6 116.8h.6M320.1 123.1h.6M322.6 124h.6M322.6 115.2h.6M327.6 122.8h.6M327.6 119.9h.6M323.2 127.6h.6M317.8 129.9h.6M326.7 121.2h.6M325 124.4h.6M321.5 122.8h.6M320.8 112.6h.6M325.4 122h.6M327.2 124.2h.6M327.4 125.3h.6M320.4 127.4h.6M335.4 118.8h.6M319.6 124.8h.6M328.3 126.4h.6M330.8 114.8h.6M326.1 123.7h.6M329.6 117.2h.6M324.7 119.7h.6M324 120.8h.6M324 113h.6M324.5 121.8h.6M323.1 104.4h.6M321.8 118.4h.6M321.1 129.2h.6M328.3 120.6h.6M327 137.4h.6M320.7 123.8h.6M322.2 128.7h.6M329.1 120.9h.6M327.1 117.7h.6M318.2 125.6h.6M331.2 120h.6M322.5 112.9h.6M333.3 115.7h.6M320.7 120.6h.6M329.5 121.8h.6M324.5 121.6h.6M328 121.3h.6M325.2 121.1h.6M320.1 128h.6M321.8 115.1h.6M322.9 121.7h.6M327.9 114.4h.6M319.5 122.4h.6M326.2 116.2h.6M320 122.3h.6M324 113.7h.6M321.1 128.7h.6M320.4 126.6h.6M318.4 128.7h.6M331.1 118.4h.6M321.9 124.5h.6M319.6 124.2h.6M329.5 122.8h.6M325.9 120.7h.6M328.6 117.6h.6M331 121.4h.6M323.3 113.6h.6M322.8 122.6h.6M329.6 113.7h.6M324.1 118.2h.6M319.8 121.5h.6M321.6 125.7h.6M313.8 125.1h.6M317 112.1h.6M326.7 119.9h.6M325.1 116.8h.6M320.4 118h.6M324.4 117.4h.6M322.9 117.4h.6M325.5 116h.6M316.2 108.8h.6M324.5 122h.6M328.5 117.9h.6M320 114.3h.6M327.7 118.5h.6M328.6 121.1h.6M323.5 112.5h.6M321.9 125.3h.6M322.2 124.8h.6M318 126.4h.6M335.8 126.9h.6M325.9 115.6h.6M322.5 118.3h.6M325.3 111.8h.6M321.1 125.3h.6M325.2 125.1h.6M328 116h.6M319.2 123.7h.6M324.7 121.9h.6M321.3 126.4h.6M326.6 127h.6M323.2 124.8h.6M324.4 117h.6M324.3 113.5h.6M323.9 122.4h.6M327.4 116.4h.6M319.3 118h.6M316.3 118.4h.6M335.1 122.2h.6M321.6 118.2h.6M331.7 115.9h.6M324.1 121.1h.6M321.7 118h.6M317.9 117.5h.6M329.8 128.3h.6M323.5 124.9h.6M326.4 122h.6M324.1 127.4h.6M326.9 120.4h.6M323.7 126h.6M322.2 118h.6M323.5 119.1h.6M329.7 123.2h.6M324.2 119h.6M330.3 123.6h.6M333 125.9h.6M323.7 118.9h.6M323.5 122.4h.6M327.8 123.8h.6M330.9 114.2h.6M324.7 114.7h.6M320.5 118.6h.6M322 116.8h.6M318.5 127h.6M323.3 126.1h.6M320.2 110.3h.6M322.2 125.7h.6M322.4 123.4h.6M320.3 128.2h.6M326.3 126.6h.6M323.5 127.7h.6M324.9 119.1h.6M322 121.8h.6M321 115.8h.6M325.1 124.9h.6M323.4 125.5h.6M331 115.4h.6M325.6 116.9h.6M322 122.4h.6M315.1 124.4h.6M328 124.1h.6M327.2 130.2h.6M323.1 126.8h.6M330.4 123.9h.6M317.4 120.7h.6M323.4 113.7h.6M324.4 125.1h.6M323.6 120.6h.6M330.5 118.5h.6M320.8 121.7h.6M329.1 124.4h.6M324.9 119.1h.6M329.5 125.8h.6M317.6 123.1h.6M315 128.7h.6M327.1 118.5h.6M319.4 120h.6M317.6 124.2h.6M322.5 113h.6M324.5 127.2h.6M319.5 119.8h.6M331.9 122.4h.6M322.4 122.4h.6M327.7 116.7h.6M324.2 113.6h.6M318.2 114.1h.6M328 123h.6M327.5 127.3h.6M324.8 122.6h.6M326.2 123.7h.6M320.3 120.2h.6M324 121.7h.6M321.6 120.9h.6M325.7 122.4h.6M327 125.4h.6M326.8 126.1h.6M328 128.2h.6M327.1 118.5h.6M333.9 126.9h.6M329.6 125h.6M324.8 116h.6M326.3 119.8h.6M323 111.2h.6M330.8 115.9h.6M320.2 123.7h.6M326.9 117.7h.6M324.6 122.7h.6M325.2 124h.6M327.7 119.7h.6M318.1 131.9h.6M323.1 116.7h.6M327.6 124.3h.6M322.1 132.8h.6M315.2 127.7h.6M324.4 123h.6M325.9 120.4h.6M325.9 115.2h.6M323 130.4h.6M314.3 127.4h.6M315.6 117.4h.6M328.1 119.5h.6M322.3 114.3h.6M324.1 120.6h.6M322 114h.6M325.2 123.5h.6M329.2 124h.6M330.7 127.3h.6M313.3 129.5h.6M324.2 116.4h.6M326.3 126.1h.6M318.4 115.6h.6M327.4 118.8h.6M330.4 122.5h.6M322.4 115.1h.6M327 113.2h.6M319.4 115.2h.6M331.4 129.7h.6M323.7 119.6h.6M327.4 127.5h.6M321.4 132.1h.6M323.8 126.9h.6M315.1 121.2h.6M321.8 131.1h.6M323.7 115.4h.6M332.4 118.2h.6M324.6 115.5h.6M327.3 122.4h.6M323.4 119.6h.6M322.3 118h.6M318.9 127.3h.6M328.2 114.8h.6M319.9 123.5h.6M333.7 120.5h.6M323.3 120.3h.6M325.6 120.6h.6M328.9 126.2h.6M326.8 129.1h.6M323.7 118.8h.6M336.6 112.2h.6M318.3 110.1h.6M326 116.3h.6M328.9 111.4h.6M324 119.6h.6M320.3 126.9h.6M323 123.7h.6M322.5 122.2h.6M322.8 121.9h.6M324.2 118.2h.6M326.4 120.6h.6M320.7 116.4h.6M326.4 127.9h.6M319.3 119.5h.6M326.4 126.5h.6M327.5 115.8h.6M324.7 125.8h.6M325.6 120.4h.6M319.8 122.3h.6M324.3 121.6h.6M330.6 127.2h.6M321.4 122.6h.6M323.3 122h.6M331.2 125.9h.6M324.8 118.3h.6M323.9 123.2h.6M322.6 126.8h.6M324.7 115.8h.6M332.8 107.5h.6M323.5 120.9h.6M328.6 126.9h.6M330.5 129h.6M325.9 122h.6M328.7 121.4h.6M319.5 119.3h.6M327.3 124.4h.6M320.2 127.3h.6M325.8 114.3h.6M326.5 126.3h.6M326.7 120h.6M321.4 126.9h.6M325.5 121.5h.6M323 116.5h.6M317.1 119.8h.6M329.1 125.2h.6M321.9 128.9h.6M323.7 116.6h.6M328.5 128.2h.6M323 115.6h.6M324.3 109.8h.6M324.8 128.8h.6M325.7 118h.6M327.4 119.1h.6M329.7 119.8h.6M332.8 119.8h.6M325.4 117h.6M319.5 123.2h.6M326 116.8h.6M326.9 119.5h.6M322.4 121.1h.6M326.2 125h.6M329.6 123.3h.6M321.7 118.2h.6M326.1 115.7h.6M323.9 119.6h.6M324.2 122.4h.6M328.8 129.4h.6M328.1 126.4h.6M320.3 126.5h.6M329.8 115h.6M334.7 118.8h.6M315 130h.6M324.9 117.6h.6M322.3 126.7h.6M325.6 119.7h.6M329.2 117h.6M321.2 118.8h.6M321.6 124.8h.6M323.7 116.4h.6M322.8 111.9h.6M325.3 122h.6M327 120.4h.6M326.2 117h.6M324.7 122.2h.6M319.7 124.3h.6M325.2 121.7h.6M322.7 131.1h.6M324.6 117.8h.6M321.2 124.3h.6M323.8 117.7h.6M321.7 126h.6M324.9 126.6h.6M324.5 115.8h.6M328.1 123h.6M322 120h.6M320.7 125.5h.6M322.9 123.8h.6M325.6 120.3h.6M326.1 120.3h.6M319.9 119.5h.6M319.9 125.1h.6M327.2 118.7h.6M327.1 122.7h.6M328.5 117h.6M324.7 116.7h.6M321.9 128.1h.6M316.5 117.1h.6M326.6 125.2h.6M321.5 111.7h.6M317.7 123.3h.6M329 125.9h.6M321.7 128h.6M323.8 124.5h.6M323.8 129.1h.6M322.5 111.2h.6M323.3 122.4h.6M325.7 118.1h.6M323.7 116.1h.6M323.7 121.9h.6M325.6 129.4h.6M316.6 124h.6M326.3 115.9h.6M324.9 121.5h.6M320.6 125h.6M332.2 124.7h.6M327.7 126.6h.6M324.1 126.2h.6M321.4 122.4h.6M327.4 127.8h.6M323.4 120.1h.6M326.5 121.1h.6M325.1 125.3h.6M321.5 125.7h.6M326.1 120.2h.6M319.6 118.5h.6M324.4 126h.6M316.7 124.9h.6M325.4 116.1h.6M328 123.4h.6M326.3 116.8h.6M320.2 125.8h.6M330.2 123.2h.6M323.8 119.3h.6M317.8 126.2h.6M324.2 127.4h.6M321.7 126.5h.6M321.8 124.3h.6M330.1 118.1h.6M328.2 121.5h.6M320.9 122.5h.6M327.2 118.1h.6M323.5 118.8h.6M321.5 120.5h.6M327.9 119.1h.6M329.5 119.7h.6M321.9 126.6h.6M330.2 118.4h.6M326.9 116h.6M323 119.7h.6M327.4 115.5h.6M322.6 118.2h.6M325 115.6h.6M319.3 135h.6M325.4 114.3h.6M327.9 115.2h.6M317.1 129.4h.6M329.6 117.5h.6M320.3 123.8h.6M332.6 124.3h.6M327.2 115.9h.6M317.5 123.3h.6M328.6 122.1h.6M324.6 128.1h.6M321.3 126.7h.6M327.9 118.5h.6M325.1 122h.6M326.9 116.9h.6M323.7 121.9h.6M324.7 121.6h.6M325.6 120.6h.6M322.6 126.4h.6M322.1 120h.6M321.1 116.1h.6M326.4 121.3h.6M324.1 123.6h.6M323.9 124.7h.6M331.7 123.1h.6M323.6 129.3h.6M327.4 113.6h.6M329.9 122.5h.6M328 116h.6M321.3 118.4h.6M326.8 116.2h.6M321.8 126h.6M322.1 122.1h.6M321.1 113.5h.6M324.3 120.9h.6M319 126.1h.6M327.8 125.7h.6M322.6 116.1h.6M324.2 122.3h.6M323.9 118.7h.6M320.7 118h.6M324.3 119.2h.6M331.2 120.2h.6M326.4 119.3h.6M323.9 116.9h.6M322.7 114.4h.6M316.4 127.8h.6M320.4 123.5h.6M324.1 118.8h.6M327.5 118.9h.6M326.3 119.8h.6M328.4 126h.6M324.9 126.7h.6M326.6 128.8h.6M324.1 114.2h.6M325.4 122.6h.6M323.2 120.5h.6M323.5 115.6h.6M331.3 117.8h.6M320.4 114.1h.6M321.3 121.3h.6M330.4 124.3h.6M321.7 115.6h.6M320.2 121.1h.6M328 119.2h.6M330.9 130.6h.6M325.2 111.3h.6M328.9 121h.6M327.2 126.1h.6M320.6 121.8h.6M325.3 118h.6M327.3 120.9h.6M323 130.3h.6M325.2 129.2h.6M324 126.4h.6M321.6 122.2h.6M328.8 111.3h.6M326.7 120.2h.6M328.9 122.3h.6M324.3 115.5h.6M336.1 118h.6M323.3 118.1h.6M323.4 122.5h.6M319.4 126.5h.6M323.6 124.3h.6M316.3 119h.6M323.4 119.7h.6M322 122.9h.6M326.2 116.9h.6M316.9 124.9h.6M323.3 126.5h.6M328 121h.6M319 119.8h.6M321.7 127.3h.6M318 125.8h.6M318.6 118.8h.6M319.1 118.2h.6M322.9 123.2h.6M322.3 124.7h.6M331.4 122.2h.6M320.1 120.6h.6M324.2 119.8h.6M329.1 126.9h.6M332.4 123.9h.6M314.2 120.9h.6M327.2 117.7h.6M322.2 125.8h.6M325.1 116.2h.6M322.3 107h.6M324.6 115.7h.6M324.4 115.9h.6M321 119.1h.6M335.4 115.9h.6M319.9 119h.6M328.7 125.2h.6M327.3 120h.6M325.1 117.9h.6M323.9 117.7h.6M318.9 116.8h.6M332.1 123.4h.6M321.6 121h.6M322.8 127.2h.6M324.5 118.5h.6M327.2 123h.6M321.9 117.9h.6M325.1 113.8h.6M321 126.2h.6M327.9 126.7h.6M322.8 118.7h.6M323.5 119.2h.6M329.6 120.4h.6M329.8 118.1h.6M326 129.1h.6M321.7 118.4h.6M322.2 113.9h.6M323.4 118.5h.6M333.2 119.2h.6M316.2 125.9h.6M328.3 121.3h.6M325.7 124.8h.6M322.4 121.7h.6M325.1 129.3h.6M330.1 122.3h.6M319.3 125.6h.6M324.3 127h.6M324.8 122.3h.6M327.1 118h.6M322 132.3h.6M321.2 125.9h.6M327.2 125.3h.6M329.9 115.2h.6M328.3 111.8h.6M324.8 123.1h.6M328.6 126.6h.6M320.9 120.2h.6M323.9 118.2h.6M321.4 118.4h.6M329 127.9h.6M327.5 129.4h.6M324.9 116.4h.6M322 122.4h.6M328.6 127.2h.6M321.1 126h.6M322.5 124.3h.6M328.1 128.5h.6M322.5 122.6h.6M326.2 119.5h.6M324.9 124.3h.6M318.1 118.5h.6M333.5 123.6h.6M322.4 112.8h.6M320.8 123.9h.6M327.2 123.6h.6M326.9 118.6h.6M330.8 116.2h.6M326.5 120.2h.6M317.9 125.7h.6M323.5 124.8h.6M329.5 122.3h.6M322 120.5h.6M324.3 128.3h.6M327.9 129h.6M327.5 117.9h.6M328.2 126.1h.6M324.1 123.7h.6M323.3 115.6h.6M324.2 125.1h.6M323.1 110.9h.6M321.4 126.6h.6M325.4 126.8h.6M321.6 119.5h.6M320.6 117.8h.6M326.5 122.2h.6M322.7 122.9h.6M319.5 119.7h.6M318.7 114.4h.6M319.3 116.3h.6M330.7 128h.6M329.4 118.8h.6M327 116.1h.6M322.4 122.6h.6M318.3 122.4h.6M326.9 111.7h.6M315 120.2h.6M324.1 122.2h.6M320.1 124.2h.6M325 118h.6M330.9 122.7h.6M327.4 130.2h.6M322.6 120.5h.6M317.8 120.4h.6M326.2 133.3h.6M326.7 122.4h.6M319.6 117.5h.6M317.3 115h.6M325 122.9h.6M321 120.5h.6M321.4 124.4h.6M327 118.8h.6M322.8 115.7h.6M322.7 131.8h.6M324.5 125.6h.6M326.8 128.5h.6M323.3 117.2h.6M328.6 125.9h.6M322 126.7h.6M324.5 121.3h.6M331.7 124h.6M325.8 120h.6M325.3 126.5h.6M326.3 117.9h.6M326.3 120.9h.6M325.7 120.6h.6M316 113.8h.6M323 111h.6M318.7 131.1h.6M327.2 119.3h.6M325.8 110.9h.6M325.5 126.2h.6M325.3 115.3h.6M328.3 119h.6M322.3 122.4h.6M323.4 131.2h.6M324 131.7h.6M326.3 115.6h.6M324.5 121.7h.6M330.1 127.6h.6M334.5 118.3h.6M322.8 132.6h.6M321 123.2h.6M330.8 116.7h.6M323.2 117.9h.6M326.6 123.4h.6M324.4 124.6h.6M321.5 119.7h.6M326.4 131.1h.6M324.4 121.8h.6M329.7 121.9h.6M329.6 122.6h.6M329 122.4h.6M320.9 117.4h.6M326.2 130.5h.6M331.8 120h.6M334.3 116.2h.6M321.2 125.9h.6M318.6 125.8h.6M326 124.5h.6M319.8 123.3h.6M328.2 121.3h.6M328.6 121.6h.6M325.9 120h.6M319.2 120.7h.6M326.5 117.9h.6M316.9 114.1h.6M329.7 120.4h.6M321.5 127.4h.6M323.9 114.3h.6M322.8 117.3h.6M323.8 117.1h.6M324.8 123.7h.6M322.3 120.5h.6M323.9 125.5h.6M321.7 125.1h.6M329.4 120.6h.6M320.7 120h.6M317.6 118.9h.6M319.9 120.7h.6M323.1 124h.6M325 123.5h.6M324.4 122.8h.6M320.1 124.7h.6M329.6 126.8h.6M319.3 123.5h.6M318.2 125.1h.6M323.7 119.3h.6M321.6 120.4h.6M324.5 116.9h.6M324.8 122.7h.6M326.6 121.3h.6M324.5 132.6h.6M328.5 123.1h.6M319.1 124.5h.6M326.8 108.8h.6M323.9 123.3h.6M324.7 122h.6M323.9 128.1h.6M326 120.1h.6M323.6 131.5h.6M321.2 119h.6M325.8 122.2h.6M325.7 128h.6M329 123.5h.6M324.7 121.2h.6M323.6 126.3h.6M319.6 116.5h.6M322.7 116.9h.6M321.7 127.2h.6M315.7 124.3h.6M319.4 120.3h.6M322.3 116.7h.6M318.7 121.8h.6M312.9 111.3h.6M323 126.8h.6M331.8 120.1h.6M321.4 120.1h.6M326.4 126h.6M320.8 123.8h.6M324.4 127h.6M322.9 120.5h.6M321.2 115.2h.6M325.6 124.9h.6M329 122.8h.6M322.7 117.1h.6M320 118h.6M325.9 121.9h.6M315.5 121h.6M323.4 116.5h.6M324.5 124h.6M320.5 115h.6M323.3 122.8h.6M323.5 128.9h.6M325.1 116.7h.6M327.6 118.4h.6M327.3 122h.6M329.4 116.7h.6M327.4 123.5h.6M321 124.9h.6M333.5 123.2h.6M321.5 120.8h.6M329.7 122.7h.6M330.4 118.4h.6M329.7 113.9h.6M323.9 120.1h.6M322.6 127.4h.6M322.2 123.2h.6M331.9 125.5h.6M322.9 118h.6M316.6 123.3h.6M328.1 126.8h.6M325.5 131.9h.6M327.6 110.4h.6M321.1 125.3h.6M323 125.5h.6M334.7 117.8h.6M333.3 121.1h.6M318.7 122h.6M328.2 118.7h.6M330.8 117.3h.6M323.8 125.9h.6M323.7 118.8h.6M324.5 124.6h.6M331.4 128h.6M332 121.4h.6M318 121.3h.6M322.9 116.7h.6M322.5 121.2h.6M324.8 125.9h.6M320.9 127h.6M324.8 125h.6M329.5 115.6h.6M330.9 118.1h.6M326.2 126.7h.6M328.2 114h.6M325.2 127h.6M324.1 121.1h.6M324.9 129.4h.6M322.4 117h.6M320.2 119h.6M323.6 123.2h.6M324.3 113.2h.6M318.3 124.8h.6M327.5 115h.6M328.3 109.8h.6M333.8 124.3h.6M318 124h.6M324.5 119.3h.6M323.1 120.4h.6M324.2 117.2h.6M322.3 124.2h.6M326.7 115.1h.6M322.6 129h.6M327.4 129.4h.6M319.2 116.5h.6M315.9 112.2h.6M323.1 116.5h.6M320.2 118.2h.6M323.8 125.5h.6M326.8 113.1h.6M330.5 119.9h.6M320.6 121.4h.6M323 114.8h.6M330.8 118.7h.6M322.2 124.1h.6M331.3 123.8h.6M321 123.6h.6M329 123.3h.6M327.2 119.2h.6M324.3 113.4h.6M321.7 116h.6M324.6 128.7h.6M315.6 115.2h.6M320.9 121.1h.6M329.3 117.8h.6M321.5 127.3h.6M326.1 124h.6M327.9 117.9h.6M325.5 118.3h.6M321.7 122.1h.6M326.3 115.4h.6M321.5 124.4h.6M325.3 124.7h.6M323.3 117.6h.6M327.7 124.4h.6M313.2 125.7h.6M321.5 124.7h.6M330.9 120.2h.6M320.7 122.7h.6M325 124.2h.6M319 122.7h.6M328.2 124.9h.6M327.1 127.3h.6M321.3 127.4h.6M325.4 116.7h.6M323.4 122.8h.6M325.9 128h.6M325.4 119h.6M333.4 119.9h.6M321.3 126h.6M322.9 117.7h.6M320.3 127.2h.6M320.3 122h.6M322.8 120.6h.6M321.3 122.2h.6M327 126.6h.6M323.2 115.9h.6M318.6 121.5h.6M314.6 127.9h.6M324.7 122.1h.6M319 118.4h.6M321.6 124.8h.6M323 124.5h.6M326.7 112.3h.6M323.7 127.6h.6M322.5 122.1h.6M324.1 115.6h.6M333.4 120.9h.6M327.2 119.4h.6M330.2 127.1h.6M329.3 126.1h.6M327.4 128.2h.6M326.2 122.2h.6M327.8 117.2h.6M314.4 125.4h.6M325.2 118.1h.6M323.5 116.9h.6M321.2 122.4h.6M325.1 125.5h.6M324.2 124.6h.6M327.3 118.2h.6M317.8 118.2h.6M323.6 119h.6M333.5 118.3h.6M326.5 117.9h.6M327.4 115.5h.6M328.4 122.4h.6M323 115.8h.6M331.3 118.8h.6M330.4 110h.6M319.8 130.2h.6M331.8 121.6h.6M328.6 124.5h.6M323.2 122.2h.6M320 115.1h.6M325.1 125.1h.6M325.2 115.7h.6M328 122h.6M327.6 120.2h.6M323.5 126.6h.6M330.1 115.8h.6M320.2 126.2h.6M326 121.8h.6M320.7 126.4h.6M325.4 122.6h.6M326.2 119h.6M326.2 122.2h.6M327.5 123.4h.6M319.5 118.2h.6M323.5 127.1h.6M322 127h.6M328.9 125.8h.6M333.7 121.5h.6M325.9 127.4h.6M326.2 126.3h.6M324.1 128.3h.6M326 112.4h.6M329 120.6h.6M321.1 120.1h.6M323.5 127.1h.6M325.9 121.2h.6M324.5 117.3h.6M322 119.3h.6M323.7 116h.6M323 126.4h.6M326.4 121.6h.6M326.9 119.8h.6M316.9 128.2h.6M339.2 125.4h.6M329.1 140h.6M316.7 125.5h.6M322.4 119.5h.6M313.8 121h.6M327.2 109.7h.6M323.2 117.9h.6M318.1 126.3h.6M335.3 124.7h.6M331.3 127.3h.6M324.2 125.9h.6M333.2 118.4h.6M323.6 111.3h.6M312.5 115.5h.6M330.4 124.3h.6M326.3 131.4h.6M313.1 131.9h.6M325.1 127.4h.6M333.6 115.5h.6M318.9 124.6h.6M324.2 117.3h.6M323.8 116.2h.6M325.5 118.7h.6M335.7 113.8h.6M328.4 122.2h.6M334.9 114.4h.6M321.6 134.5h.6M320.3 118.8h.6M322 114.3h.6M332.6 132.9h.6M323.6 116h.6M315.8 126.5h.6M321.1 125.7h.6M308.9 118.5h.6M328.7 124.7h.6M305.9 123.8h.6M325.4 121.5h.6M322.4 118.3h.6M325.5 125.4h.6M304 121.5h.6M330.7 120h.6M332.6 114.7h.6M337.1 128.8h.6M322 142.1h.6M334 133.4h.6M316.8 120.8h.6M327.7 129.4h.6M325.1 112h.6M332.6 120.4h.6M327.5 119.2h.6M323.9 111.4h.6M329 116.9h.6M313 124.7h.6M324.4 128.7h.6M330 112.6h.6M323.4 121.6h.6M325.2 113.8h.6M325.1 128.9h.6M332.7 132.4h.6M329.5 102.9h.6M322.8 117.5h.6M305.7 133h.6M330.5 121.5h.6M327 125.2h.6M323.2 131.8h.6M336.5 127.7h.6M321 123.5h.6M331 126.9h.6M320.1 128.7h.6M329.3 125.9h.6M321.9 121.4h.6M312.1 121.4h.6M321.7 119.4h.6M322.8 119.2h.6M325.2 122.3h.6M320.6 120.6h.6M324 125.2h.6M327.5 118.9h.6M319.2 109.4h.6M316.4 124.6h.6M318.6 133.5h.6M323.6 118.7h.6M323.6 117.5h.6M320.5 122.1h.6M315.2 122.6h.6M324 114.9h.6M331.3 124.3h.6M331.7 116.6h.6M316.5 112.8h.6M314.3 107.6h.6M334.8 118h.6M325.9 117.6h.6M323.7 133.3h.6M313.3 114.3h.6M325.5 114.8h.6M329.1 131.2h.6M330.4 127.1h.6M323.5 129h.6M319.4 112.7h.6M322.9 119.7h.6M332.6 114.3h.6M332.1 115.8h.6M316.4 109h.6M324.4 110.9h.6M326 121.9h.6M322 107.3h.6M321.2 124.9h.6M313 126.7h.6M324.7 117.5h.6M325.9 126.4h.6M324.5 115.8h.6M329.7 116.5h.6M327 128.8h.6M333.1 133.4h.6M331.3 122.6h.6M323.3 122.9h.6M328 143.7h.6M328.9 115.4h.6M334.5 109.8h.6M331.1 112.1h.6M317.5 117.8h.6M322.7 111.6h.6M328.6 120.7h.6M333.4 114h.6M312.8 126.6h.6M323.1 128.8h.6M309.4 112.3h.6M325.2 136h.6M316.6 107.4h.6M321.6 132h.6M334.9 111.5h.6M320.6 107.9h.6M319.1 114.4h.6M327.4 130h.6M340.1 118.9h.6M329.9 123.2h.6M325.4 135.9h.6M329.2 133.1h.6M326.6 127.9h.6M327.9 120.8h.6M320.1 118.5h.6M324.7 118.7h.6M322.4 116.3h.6M330.2 119.7h.6M323.8 119.9h.6M333.2 117.6h.6M333.8 115.2h.6M334.6 126.1h.6M321.4 124.9h.6M332 114.5h.6M323.1 123.9h.6M323.3 119.4h.6M324.7 123.9h.6M329.7 132.5h.6M322.5 143.3h.6M322.5 134.7h.6M323.8 110.8h.6M321.8 119h.6M331.6 106.6h.6M320.5 120.6h.6M328.9 124.5h.6M330.2 120.4h.6M323.1 130.5h.6M335.8 124.4h.6M325.6 115.2h.6M338.3 124.5h.6M328.6 109.6h.6M328.6 139.6h.6M323.6 120h.6M334.6 120.1h.6M330.1 135.9h.6M317 115.4h.6M329 122.4h.6M324.9 120.3h.6M325.5 124.2h.6M321.5 119.5h.6M326.1 113.5h.6M327.5 105.3h.6M328.8 120.6h.6M317 131.5h.6M317 136.9h.6M319.9 130.5h.6M324.2 133.5h.6M323.2 129.2h.6M322.5 107.6h.6M327.2 125.1h.6M327.2 133.9h.6M319.9 110.9h.6M326.3 116.4h.6M324 121.5h.6M319.3 129.6h.6M323.8 134.8h.6M326.2 129.4h.6M322.7 116.6h.6M321.2 115h.6M327.5 122.6h.6M317.6 110.1h.6M319.1 108h.6M318.9 110.3h.6M329.2 112.9h.6M320.8 120.6h.6M324.8 124.7h.6M329.6 126.3h.6M322.4 130.8h.6M327 116.3h.6M334.3 112.7h.6M327.7 130.9h.6M325.4 124.1h.6M325.4 126.5h.6M326.1 121.6h.6M329.2 107.4h.6M326.3 119.3h.6M337.3 123.7h.6M320.4 126.4h.6M322.2 112.7h.6M322.8 125.3h.6M332.3 129.3h.6M326.1 120.3h.6M325.9 130.5h.6M323.8 130.1h.6M319.5 121.4h.6M329.6 126.7h.6M325.9 117.7h.6M313.1 118.3h.6M319.2 118.5h.6M334.8 115.8h.6M330.1 121.4h.6M317.5 122.3h.6M329.5 112.7h.6M317.2 118.7h.6M329.3 117.1h.6M327.3 124.9h.6M324.7 124.9h.6M332.8 120.1h.6M326.7 113.6h.6M320 120.8h.6M329.9 116.5h.6M315.7 128.4h.6M339.8 102.4h.6M317.8 122.4h.6M327.7 114.5h.6M326.8 129.7h.6M322.9 126.9h.6M325.5 114.6h.6M320.7 117h.6M333.1 130.1h.6M326.2 109.9h.6M321.5 118.5h.6M312.3 121.4h.6M326.5 111.7h.6M321.9 118.1h.6M336.4 126.4h.6M329.5 122.2h.6M316.4 128.4h.6M320.3 107.3h.6M329.3 119h.6M324.6 125.3h.6M323.1 124.6h.6M332.8 119.1h.6M322.4 121.6h.6M328.7 118.5h.6M325.1 116.5h.6M324.1 125.5h.6M319.4 120.2h.6M315.3 116.3h.6M325.1 125.4h.6M318.1 120.8h.6M318.7 123.9h.6M326.3 124.8h.6M323.3 111h.6M321.1 111.6h.6M320.3 121.1h.6M331.5 116.7h.6M319.7 123h.6M311.5 136.2h.6M314.8 129h.6M330.8 128.6h.6M324 126.9h.6M322.4 128.6h.6M320.5 115.5h.6M327 118.2h.6M328.9 115.2h.6M326.3 114.3h.6M324 137.4h.6M317.8 112.4h.6M314.5 119.8h.6M334.9 118.2h.6M330.5 120.2h.6M320.6 136.3h.6M331.5 107.9h.6M318.4 124.6h.6M328.7 119.9h.6M326.6 125.5h.6M322.4 128.9h.6M319.2 127.1h.6M330.4 123h.6M322.4 121.4h.6M310.6 123.4h.6M315.6 106.6h.6M329.4 114.8h.6M326.9 121.8h.6M313.5 114.9h.6M322.9 125h.6M325.1 112.2h.6M321.3 122.3h.6M316.6 118.3h.6M321.2 105.8h.6M335.5 128h.6M321.7 128.5h.6M318 132.8h.6M322.3 122.5h.6M321 122.2h.6M326.7 121.7h.6M319.4 127.1h.6M328.1 121.5h.6M331.2 116.1h.6M332.7 120.3h.6M334.2 118.2h.6M323 123.1h.6M331.5 132.1h.6M321.7 116.1h.6M329.4 130.7h.6M329 119.1h.6M332.6 121.3h.6M325.7 126.1h.6M321 104.8h.6M326 126.8h.6M327.4 125.5h.6M325.6 129.2h.6M325.3 132.5h.6M324.9 127.4h.6M321.1 123.7h.6M327.3 122.5h.6M334.3 121.8h.6M331.7 124.1h.6M331.5 114.9h.6M322.3 128.6h.6M319.5 124.4h.6M328.2 122.9h.6M327.4 125.5h.6M323.1 124.6h.6M321.4 118.2h.6M314.6 120.7h.6M313.9 121.7h.6M325.9 113.5h.6M325 123.6h.6M322.4 114.8h.6M323.9 124.5h.6M330.4 135.8h.6M312.2 124h.6M327.3 116.8h.6M326.6 137h.6M325.3 131.6h.6M331.3 118.2h.6M310.1 130.1h.6M334.3 108.5h.6M323.4 116.4h.6M325.9 122h.6M331.8 117.1h.6M336.7 108.9h.6M326 141.3h.6M324 126.2h.6M321.6 145.9h.6M330.2 118.9h.6M312.6 123.1h.6M329.2 106.4h.6M321.5 125.7h.6M309.5 120.1h.6M314.6 111.6h.6M327.2 129.9h.6M331.9 116.6h.6M327.8 108.4h.6M315.3 125.5h.6M322.1 114h.6M312.8 119.8h.6M338.7 106.6h.6M318 129.8h.6M312.5 116.9h.6M325 129.9h.6M324.1 135h.6M324.4 120.7h.6M327.4 124.1h.6M315.2 114.5h.6M323.1 124h.6M316.9 116.2h.6M319.9 124h.6M321.9 126h.6M327.1 114.7h.6M322.7 112.3h.6M325.3 127.5h.6M318.4 108.4h.6M327.9 119.4h.6M324.4 124.9h.6M327 128.4h.6M321.7 105.1h.6M321.5 119.2h.6M322 124.4h.6M323 131.1h.6M320.6 121.5h.6M322.3 137.2h.6M318.6 114.1h.6M322.2 127.2h.6M324.7 120.2h.6M315.4 106.1h.6M323.3 119.7h.6M335.7 124.3h.6M327.3 128.7h.6M318.9 112.3h.6M322.3 132.5h.6M330.9 117.2h.6M316.7 128.4h.6M331.5 113.3h.6M334.8 115.7h.6M329.4 120h.6M322.5 116.9h.6M329 126.1h.6M329.7 119.4h.6M319.2 137.5h.6M335.5 120.1h.6M317.3 132.7h.6M325.4 121.9h.6M330 124.1h.6M325.3 136.3h.6M312.6 126.3h.6M318.3 122.1h.6M323.5 123.5h.6M309.3 126.7h.6M339.4 118.4h.6M330.3 126.2h.6M326.5 117.8h.6M328.6 123.5h.6M333.8 127.7h.6M320.1 99.7h.6M334.2 125.1h.6M325.7 117h.6M340.6 131.5h.6M325.2 118.8h.6M328.3 131.6h.6M327.9 128.6h.6M326.3 124.2h.6M316.5 122.4h.6M324.9 121h.6M323.1 123.8h.6M320.9 120h.6M316.2 138.8h.6M318.9 112.5h.6M321.2 118.4h.6M317.7 103.3h.6M335.1 129.1h.6M322.2 125.7h.6M317.5 109.4h.6M326.7 125.8h.6M320.2 121.5h.6M304.9 120.5h.6M331.4 122.8h.6M325.8 125.8h.6M311.2 111.9h.6M316.4 123.3h.6M320.6 107.4h.6M330.3 120.1h.6M331 136.5h.6M314 112h.6M331.5 132h.6M327.1 124.2h.6M329.1 126.4h.6M316.4 127.1h.6M331 118.5h.6M318.7 117.8h.6M320.8 125.5h.6M329.6 121.7h.6M322.6 108.3h.6M321.9 114.1h.6M321 124.1h.6M325.7 147.7h.6M319 117.5h.6M317.2 119.6h.6M322.8 129h.6M312 128.3h.6M328.8 117.6h.6M320.2 123h.6M328 120.3h.6M323.6 121.6h.6M317.6 123.5h.6M328.3 121.9h.6M317.2 121.5h.6M323.9 123.9h.6M321.9 127.7h.6M331.6 127.7h.6M326.1 130.6h.6M324.3 120.3h.6M315.3 121.6h.6M332.4 114.4h.6M329.6 112.1h.6M326.5 135.1h.6M324.9 112.8h.6M326.4 120.4h.6M329.7 117.6h.6M313.4 118h.6M328.4 129.1h.6M326.4 121.7h.6M329 120.1h.6M321.6 123.2h.6M331.6 117.8h.6M327.8 116.8h.6M319.8 122.8h.6M316 115.2h.6M316.9 117.1h.6M318.7 138.7h.6M328.5 122.1h.6M315.9 104h.6M327.4 116.9h.6M331.3 118.6h.6M316.1 116.8h.6M314.7 111.1h.6M329.2 117.6h.6M329 117.4h.6M323.1 117.5h.6M321 116.7h.6M334.2 121.1h.6M312 134h.6M332.7 129.8h.6M323.9 120.4h.6M321.5 122.4h.6M327.6 121.5h.6M319.2 114.4h.6M335.3 133.9h.6M316.5 116.8h.6M324.3 125.8h.6M323.8 123.3h.6M326.9 129.9h.6M316.1 129.5h.6M327.4 125.5h.6M314.8 119.8h.6M322.9 126.2h.6M329 126.5h.6M316.2 130.7h.6M325 128.3h.6M324.5 116.4h.6M341.5 126.3h.6M329.5 118.2h.6M323.1 129.6h.6M327.4 134.3h.6M332.3 113.7h.6M314.6 130h.6M328.4 119.6h.6M322.6 117.5h.6M336.1 120.3h.6M315.6 128.1h.6M324 124.1h.6M322 121.2h.6M312.3 125.4h.6M320.1 118.8h.6M326.6 130.8h.6M310.6 120.6h.6M328 128.9h.6M318.6 123.9h.6M327.1 128.3h.6M320.5 120.2h.6M321.2 129.8h.6M331.5 118.3h.6M323.6 123.1h.6M318.7 120.7h.6M330.1 127.2h.6M320.1 116.8h.6M323.7 110.9h.6M326.5 122.4h.6M315.9 119.9h.6M320.2 119.6h.6M318.8 131.4h.6M318.2 127.1h.6M325.8 132h.6M324.1 121.6h.6M324.9 108h.6M340.1 120h.6M322.4 113.5h.6M323.6 133.1h.6M319.6 124.7h.6M331.2 128.4h.6M321.9 109h.6M327.1 125.7h.6M322.4 118.5h.6M335.9 110.2h.6M321.2 117.2h.6M314.4 116.6h.6M319.3 130.5h.6M313.2 111.7h.6M326.2 110.5h.6M311.5 117.1h.6M316.7 114.6h.6M323.4 124.8h.6M320.3 119.6h.6M329.1 120.5h.6M329.2 117.4h.6M327.7 130.7h.6M315.5 143h.6M322.4 119.2h.6M323.4 124.9h.6M316.6 121.9h.6M335.8 127.2h.6M327.8 123.8h.6M337.7 117.9h.6M340.8 120h.6M340.2 122.1h.6M348.3 119.3h.6M351.5 109.5h.6M352.6 126.2h.6M350.8 121.9h.6M341.8 116.7h.6M349.2 116.1h.6M334.3 121.1h.6M341.5 122.5h.6M331.7 119.6h.6M343.3 126.1h.6M345.2 122.8h.6M338 118.7h.6M336.3 120.7h.6M343.6 118.9h.6M354.2 116.8h.6M345.6 120.2h.6M338.9 119.4h.6M350.6 119.8h.6M343.7 121.6h.6M345.1 123.6h.6M351.4 117.9h.6M334.1 128.3h.6M348.8 121.4h.6M337.9 122.1h.6M349 117.8h.6M350 120.8h.6M337.4 119.4h.6M325.2 122.4h.6M330.7 118.7h.6M333.6 122.1h.6M344.9 121.2h.6M341.2 122.8h.6M351.1 123.5h.6M350.8 120.8h.6M342.3 118.3h.6M344 117.4h.6M343.2 118.4h.6M337.4 126.2h.6M340.9 124.4h.6M338.2 113.1h.6M350.1 120.3h.6M335.3 125.1h.6M332 117.9h.6M347.9 118.1h.6M347.7 119.8h.6M338.4 121.4h.6M336.4 125.6h.6M347.5 121.4h.6M344.1 123.4h.6M351.6 114.3h.6M347 124.9h.6M337.7 121.1h.6M337.5 126.3h.6M331.9 123.6h.6M348.8 123.5h.6M336.5 119.1h.6M325.1 116.7h.6M347.5 117.1h.6M328.4 120h.6M329.5 123h.6M333.8 125.1h.6M339.1 115.1h.6M334.5 118.3h.6M334 126.3h.6M332.9 122.6h.6M335.8 123.6h.6M329.9 114.4h.6M343.4 127.1h.6M330.2 119.7h.6M336.3 117.1h.6M346.6 121.3h.6M330.2 120.2h.6M349.2 118.1h.6M336.3 117.6h.6M341 118.7h.6M346.1 117.6h.6M329.7 123h.6M317.7 117.1h.6M341.8 122.1h.6M335.9 119.2h.6M343.5 136.9h.6M334.3 120.3h.6M336.7 123.4h.6M340 123.4h.6M351.3 119.9h.6M337.9 122.7h.6M354.5 119.6h.6M351.7 126.1h.6M320.8 116.9h.6M333 122.8h.6M349.2 121.3h.6M341 130.3h.6M342.4 130.2h.6M333.6 128.1h.6M336.4 110.8h.6M334.1 119.1h.6M339.6 124.3h.6M344.7 123.3h.6M334.7 128.6h.6M348.3 121.2h.6M335.9 120.9h.6M338.3 118.1h.6M339.8 118.3h.6M344.4 118.3h.6M343.3 122.4h.6M341.1 123.3h.6M332.7 132h.6M335.1 124.2h.6M340.1 119.2h.6M352.1 125.8h.6M338 123.5h.6M344.7 127.8h.6M347 120.4h.6M338.1 116.1h.6M341.7 124.7h.6M337.2 123.9h.6M340.8 119.1h.6M331.4 125.8h.6M357.6 123.4h.6M332.4 116.7h.6M341.7 123.8h.6M350.5 110.8h.6M352.8 121.8h.6M340.9 122.7h.6M337.4 119.9h.6M347.3 113.7h.6M339.1 123.5h.6M328.4 120.4h.6M350.6 122.7h.6M344.9 124.1h.6M341.5 122.6h.6M334.2 120.2h.6M352.8 115.8h.6M338.8 115.7h.6M336.2 117.8h.6M331.3 122.1h.6M333.3 123.3h.6M352.6 110.2h.6M338.8 112.1h.6M339.1 122.7h.6M341.4 126.2h.6M341 113.7h.6M350.5 117h.6M339.3 122.4h.6M333.8 121.4h.6M350.4 113.9h.6M328.3 119.2h.6M338.8 115.6h.6M323.8 125h.6M342.7 115.4h.6M344 120.8h.6M341.1 115.4h.6M338.4 123.1h.6M327.7 116.6h.6M346.7 129.6h.6M344.6 120.8h.6M332.4 119.3h.6M338.2 122.9h.6M338.2 131.7h.6M349.2 111.7h.6M331.8 121h.6M346.8 122.8h.6M320.7 114h.6M349.4 123.6h.6M357.9 124.5h.6M343.2 127.6h.6M336.8 118.7h.6M332.9 122.1h.6M343 125.1h.6M350.1 123.7h.6M348.6 120h.6M333.2 124.2h.6M347.1 126.8h.6M338.8 119h.6M337.4 122.6h.6M339.6 120.3h.6M341.8 119.8h.6M342.3 118.5h.6M329.1 119.7h.6M353.2 117.6h.6M346.4 126.8h.6M336.2 122.2h.6M324 123.5h.6M350.8 121.8h.6M326 118.6h.6M334.8 121.5h.6M342 119.3h.6M337.8 117.5h.6M344 121.9h.6M342.4 118.9h.6M343.4 119.8h.6M342.1 120.4h.6M335.3 116.3h.6M326.9 115.2h.6M343.2 135.1h.6M328.5 117.5h.6M339.9 136.4h.6M338.5 116h.6M342.9 130h.6M320.4 116h.6M348.7 116h.6M339.3 118.3h.6M345.3 114.8h.6M342.2 122h.6M344 122.9h.6M341.1 113.3h.6M337.7 116.9h.6M343.7 120h.6M341.1 125.8h.6M339.2 128.3h.6M345.9 114.6h.6M335.9 126.3h.6M336.5 126.2h.6M336 120.5h.6M347.2 114.2h.6M340.5 119.1h.6M341.2 128.4h.6M343.4 115.2h.6M346.7 119.1h.6M341.2 126h.6M337.8 125.2h.6M341.2 117.1h.6M337.8 115.1h.6M348.3 121.7h.6M346.8 116.2h.6M345.9 115.8h.6M342 121h.6M335.9 122.4h.6M340.2 117.2h.6M334.8 115.3h.6M349.6 121.7h.6M337.5 124h.6M334 116h.6M342.5 127.9h.6M342.1 121.7h.6M352.2 114.3h.6M361.4 116.2h.6M339.5 115.2h.6M331.5 120h.6M357.1 116.9h.6M335.7 122.2h.6M332.9 119.9h.6M345.7 111.5h.6M337.9 119.7h.6M336.4 120.5h.6M327.4 119.1h.6M336.3 116.5h.6M348.8 129.7h.6M345.6 117.2h.6M350 123.2h.6M334.3 123.6h.6M335.9 123.5h.6M346.4 126h.6M332.6 120.5h.6M340 115.7h.6M342.9 124h.6M330.3 118.6h.6M332.3 115.5h.6M332.5 127h.6M335.3 119.3h.6M346.9 125.5h.6M349.9 112h.6M345.3 113.3h.6M335.6 119.2h.6M336 129.6h.6M338.8 126.1h.6M338.7 120.7h.6M343.6 122.9h.6M343.5 113.4h.6M343.6 122.4h.6M344.2 120.8h.6M342.9 115.3h.6M347.9 115.7h.6M349.8 125.4h.6M339.6 119.7h.6M345.4 119.7h.6M331.7 122.2h.6M331.4 119h.6M352.6 124.5h.6M336.8 120.7h.6M335.5 121h.6M329.9 124h.6M340.1 118.3h.6M335.7 132.5h.6M336.9 118.9h.6M335.9 118.8h.6M349.2 124h.6M342.9 122.6h.6M332 110.4h.6M350.6 124.1h.6M341.5 122.2h.6M341.4 121.1h.6M338.2 111.3h.6M344 121.2h.6M346.8 122.3h.6M350.6 123.3h.6M352.9 119.3h.6M350.1 119.4h.6M350.5 119.3h.6M356.9 132.4h.6M351.4 125.4h.6M342.1 108.4h.6M349.6 120.4h.6M348.3 115.7h.6M347.7 119h.6M352.8 119.7h.6M346 119.6h.6M359.6 117.6h.6M352.3 124.9h.6M348 118.8h.6M366.5 125.8h.6M349.4 121.6h.6M352.5 121.6h.6M354.3 119.8h.6M340.9 117.3h.6M352.8 115.7h.6M350.4 126.8h.6M353.2 118.4h.6M352.7 125.1h.6M343.4 116.1h.6M348.7 119.3h.6M351.6 118.7h.6M352.5 121.3h.6M346.2 118.6h.6M345.8 122.1h.6M353.3 123.5h.6M347.6 118.9h.6M340.9 121h.6M343.9 122.3h.6M357.4 122.7h.6M355.1 121.9h.6M353.9 124.6h.6M358.3 128.8h.6M350.7 124.2h.6M356.3 122.7h.6M353.3 116.1h.6M357.4 117.6h.6M348.7 117.7h.6M354.8 117.2h.6M354.3 123.2h.6M352.5 119.7h.6M355 126.1h.6M349.7 116.9h.6M349 117.6h.6M350.8 120.4h.6M340.5 126.7h.6M347.9 119.3h.6M342.2 113.4h.6M346.9 121.9h.6M356.2 114h.6M353.1 126.9h.6M350.6 124.6h.6M353.6 117.4h.6M357 118.6h.6M353.8 119.4h.6M350.9 121.6h.6M358.6 114.5h.6M346.4 121.4h.6M356.9 120.3h.6M351.1 123h.6M359.9 117.5h.6M344 119.9h.6M355.8 115.9h.6M357.6 124.6h.6M355.9 117.7h.6M345.5 123.5h.6M353.3 123.7h.6M345.3 109.5h.6M357.6 124.9h.6M350.6 121h.6M354.3 123.9h.6M351.1 119h.6M347.1 125h.6M352.5 107.8h.6M353.7 118.8h.6M314.7 101.1h.6M314.6 102.1h.6M326.3 118.9h.6M318.8 78.2h.6M325.3 86h.6M346.8 106.4h.6M308.3 94.7h.6M334.5 109.3h.6M305.6 107.7h.6M339.7 127.2h.6M352.5 107.8h.6M314.2 103.5h.6M345.4 93.9h.6M355.1 93.3h.6M317 124.4h.6M333.4 115.6h.6M330.1 110.5h.6M325.7 143h.6M345.4 107.8h.6M342.5 124.5h.6M326.6 113h.6M338.3 100.1h.6M322.6 106.5h.6M330.2 102.9h.6M304 111.3h.6M345.4 111.2h.6M362.3 125h.6M329.3 98.2h.6M343 103.5h.6M309.2 112.1h.6M330.2 106.1h.6M344.8 113.4h.6M367.3 97.1h.6M333.4 115.4h.6M328 101h.6M362.9 84.7h.6M340.5 79.4h.6M340.4 76.6h.6M316.4 129.8h.6M359.6 112.2h.6M291.6 127.6h.6M338.9 90.7h.6M329.3 87h.6M333.5 108.5h.6M336.9 123.7h.6M324.7 71.6h.6M316.4 88.1h.6M329.1 102.4h.6M334.3 133.7h.6M335.4 91.2h.6M330.1 94.7h.6M331.1 120.1h.6M316.9 122.2h.6M363.5 136.4h.6M360.9 111.5h.6M313.4 144.8h.6M334.2 114h.6M329.3 93.7h.6M344.8 85.7h.6M313.1 119.6h.6M329 95.4h.6M342.9 134.7h.6M330.5 107.6h.6M343.9 126.3h.6M351.5 121.8h.6M324.4 119.2h.6M335.1 80.5h.6M354.7 119.9h.6M356.8 108.9h.6M346.6 108.8h.6M351.5 92.4h.6M351.2 90.9h.6M350.9 93.9h.6M352.9 80h.6M356 90.1h.6M349.5 85h.6M356.9 88.4h.6M352.5 90.9h.6M349.2 96.4h.6M357.3 84.3h.6M354.4 80.2h.6M350 88.3h.6M351.2 90.7h.6M352.2 89.8h.6M350.6 89.5h.6M433.3 94.9h.6M435.4 91.8h.6M435.6 85.8h.6M434.6 80.8h.6M442.4 88.2h.6M435.7 84.4h.6M439.7 85h.6M433.6 84.1h.6M440.6 87.7h.6M434.7 83.6h.6M439.7 87.6h.6M434.1 90.3h.6M438.3 82.1h.6M439.2 91.1h.6M434.4 80.7h.6M439 84.9h.6M434.5 85.2h.6M434.3 90h.6M431.4 88.7h.6M439.2 91h.6M437.7 87.6h.6M434.5 85.9h.6M432.2 93.6h.6M434.8 82.1h.6M438.1 92.9h.6M436.2 85h.6M431.4 89.2h.6M434.4 83.6h.6M437.3 80.9h.6M437.8 76h.6M433.1 80.3h.6M434.4 89.8h.6M430.7 92.3h.6M432.9 84.3h.6M438.7 83.3h.6M440.2 85.5h.6M434.9 82.3h.6M439.2 86.1h.6M433.6 82.3h.6M433 86h.6M432.8 89.8h.6M435.1 83.8h.6M436.8 92.5h.6M428.1 87.9h.6M439 87h.6M438.1 79.8h.6M432.7 90.7h.6M434.9 86.7h.6M437.4 88h.6M436.8 84.3h.6M434.2 92h.6M433.5 80.3h.6M434 90.2h.6M441.4 87h.6M433.1 89h.6M436.3 91.5h.6M437 89.6h.6M437 88.2h.6M432.1 85.7h.6M440.7 92.1h.6M438.6 88.1h.6M434.9 87.9h.6M434.1 91.1h.6M434.2 83.2h.6M429.7 93h.6M432.7 82.7h.6M436.6 94.1h.6M437.5 85h.6M437.2 82.9h.6M434.4 86.5h.6M435.3 89.7h.6M437.1 94.4h.6M438.1 85.2h.6M436.2 82.8h.6M433.2 85h.6M438.7 83.5h.6M430 82.1h.6M431.2 85.6h.6M434.3 81.4h.6M432.6 84.6h.6M436.6 89h.6M439.8 85.3h.6M437.4 86.7h.6M431.6 83.7h.6M442.7 85.7h.6M440.9 89.9h.6M441 85.6h.6M438.5 85.1h.6M431.5 81.4h.6M436.8 79.6h.6M436.6 82.7h.6M436.5 80.6h.6M438.2 85.4h.6M430.1 80.3h.6M435.5 79.5h.6M436.4 88.5h.6M433.1 92.3h.6M440.2 87.7h.6M436.9 88.4h.6M434.4 92h.6M433.5 75.7h.6M435.4 88.3h.6M438.1 81.7h.6M440 82.9h.6M437.5 89.5h.6M435.9 91.2h.6M433.7 95.1h.6M437 84.6h.6M444.2 86.4h.6M429.8 92.4h.6M440.6 84h.6M432 91.2h.6M435.5 82.3h.6M433.7 86.7h.6M438.7 93.1h.6M433.2 92.9h.6M430.2 89.4h.6M434.9 88.3h.6M433.9 83.4h.6M436.3 91.2h.6M427.8 86.6h.6M434 81.9h.6M430.8 88.6h.6M437.2 89.2h.6M428.6 79.9h.6M433.3 84.6h.6M441.3 84.8h.6M435.8 90.7h.6M441 88h.6M436.5 94.7h.6M434 78.8h.6M432.8 85.1h.6M439.8 87.8h.6M439.4 86.8h.6M435.5 84h.6M431.2 88.6h.6M436.6 88.9h.6M433.5 84.6h.6M436.6 89h.6M442.1 82.7h.6M438.7 90.2h.6M434.5 87h.6M435.2 92.9h.6M444 87.8h.6M434.5 90.5h.6M437 85.6h.6M437.9 90.1h.6M434 90h.6M427.8 80.9h.6M434.3 87.1h.6M430.4 92.7h.6M434.1 87.1h.6M435.2 89.6h.6M433.4 89.6h.6M432.5 80.1h.6M437.1 87.1h.6M438.3 78.1h.6M435.7 83.7h.6M434.7 84.7h.6M434.1 83.6h.6M438.8 79.1h.6M429.7 87.9h.6M442.2 83.2h.6M432.3 81.4h.6M431.9 91.7h.6M437.7 90.3h.6M436.5 87.4h.6M433.4 82.3h.6M437.5 97h.6M434.1 91.8h.6M433 86.6h.6M441.1 86.1h.6M437.5 84h.6M441.7 81.2h.6M437.2 85.4h.6M436 88h.6M439.8 90.1h.6M438.9 88h.6M431.7 92.1h.6M440.6 88.5h.6M438 85.4h.6M430.5 90.6h.6M432.9 94.6h.6M437.7 86.3h.6M433.3 86.9h.6M431.9 84.8h.6M440.8 85.1h.6M441.6 86h.6M436.8 82.5h.6M434.3 84.5h.6M430.6 94.7h.6M437.3 86.1h.6M431.6 86.6h.6M431.8 82.3h.6M434.7 95.6h.6M429.4 88.8h.6M433.5 74h.6M430.6 85.8h.6M435.5 83.2h.6M441.4 88.7h.6M433.2 79.4h.6M435.9 83.5h.6M438.8 81.9h.6M439.4 84.4h.6M436 85.2h.6M437.4 91.3h.6M433.5 82.5h.6M441.8 90.5h.6M441.8 90.5h.6M435.8 93.4h.6M433.1 84.6h.6M434 89.3h.6M432.4 85.7h.6M432.5 85.4h.6M439.1 91.2h.6M434.6 97.3h.6M432.9 88.4h.6M433.7 76.9h.6M431.3 91.7h.6M429.7 99h.6M434.9 87.6h.6M439.6 86.5h.6M433.2 83.8h.6M432.1 88.8h.6M433.7 88.6h.6M430.2 84.6h.6M442.3 88h.6M435 91.5h.6M436.3 93h.6M431.4 89.7h.6M431.7 89.3h.6M443.7 93h.6M432.4 88.2h.6M436.9 83.3h.6M436.1 81.8h.6M438.6 90.3h.6M434.8 89.4h.6M443.4 85.7h.6M428.9 87.9h.6M433.8 83.1h.6M438.4 90.7h.6M437.3 93.4h.6M433.2 84.6h.6M436.7 74.8h.6M426 87.9h.6M434.6 86.7h.6M432 87.4h.6M438.9 83.7h.6M437.2 85.7h.6M434.8 86.9h.6M440.4 88.7h.6M437.6 87.1h.6M428 90.5h.6M435.2 86.8h.6M433.6 79.8h.6M440.4 94.3h.6M440.6 78.5h.6M437.2 81.3h.6M434.7 84.2h.6M433.2 83.1h.6M433.2 104.7h.6M441.4 106h.6M435 96.8h.6M434.1 97.8h.6M432.7 96.5h.6M438.4 96.1h.6M431.9 97h.6M435.4 97.3h.6M434.1 104.1h.6M434.9 89.3h.6M437.3 91.9h.6M438.1 105.1h.6M437 100.7h.6M429.8 96.3h.6M435.6 103.5h.6M430.7 96.7h.6M429.1 99.5h.6M435.4 99.1h.6M441.5 104.3h.6M434.3 93h.6M433.3 104.8h.6M438.7 93.7h.6M434.6 94.3h.6M437.8 99.7h.6M432.3 90.4h.6M440.2 86h.6M428 71.5h.6M443 93.4h.6M438.4 102.8h.6M438.4 107.8h.6M433.2 97.9h.6M438.9 102.8h.6M432.1 91.5h.6M429.4 100.3h.6M433 84.6h.6M432.9 100.8h.6M435.8 96.1h.6M435.7 103.6h.6M430.4 91h.6M438.9 104.3h.6M429.6 91.8h.6M440.8 104.5h.6M434.5 106.8h.6M440.5 110.2h.6M429.6 86.9h.6M433.1 97.6h.6M433.7 100.1h.6M440.9 107.5h.6M439 98h.6M441.6 102h.6M436 97.9h.6M427.8 116.5h.6M435 105.8h.6M444 96.4h.6M430.5 106.8h.6M436 89.9h.6M438.9 98.1h.6M431.3 76.3h.6M431.2 101.3h.6M431 106.4h.6M443.8 100.8h.6M436 97.4h.6M438.5 98.3h.6M439.2 110.2h.6M438.4 89.8h.6M437.7 95.8h.6M436.3 106.4h.6M432.5 99.8h.6M440.9 90.9h.6M434.3 104.3h.6M434.2 106.8h.6M431.1 85.2h.6M436.6 96.9h.6M436.3 106.3h.6M439.2 95h.6M433.5 81.4h.6M431.2 100.1h.6M435.9 85.3h.6M438.2 97.7h.6M439.4 95h.6M438.9 88.5h.6M427.8 91.1h.6M437.8 101.5h.6M427.6 99.3h.6M437.7 112.4h.6M438.2 102.4h.6M428.8 101.2h.6M427.3 95.5h.6M433.6 89.7h.6M431.1 96.8h.6M437.4 92.5h.6M436.3 104.1h.6M435 114.4h.6M433.8 91.8h.6M427.6 107.2h.6M437.8 96.4h.6M436.3 96.9h.6M438.5 97.9h.6M436 97.4h.6M431.6 79.1h.6M437.2 87.4h.6M436.6 103.5h.6M442.5 91.7h.6M435.7 106.1h.6M432.4 93h.6M436.8 115.7h.6M439.3 106.2h.6M431.3 103.7h.6M439.6 87.2h.6M435.1 96.4h.6M437.6 83.2h.6M437.9 98h.6M434 80h.6M426.9 93.4h.6M437.6 101.7h.6M438 83.5h.6M435.9 109.5h.6M428.9 103.6h.6M432.2 102.7h.6M435.5 84.2h.6M430.9 108.9h.6M434.6 108.6h.6M436.4 105.6h.6M433.5 99.9h.6M433.6 105.8h.6M432.8 107.5h.6M441.3 87.7h.6M434.4 102.6h.6M442.1 107.8h.6M435.4 83.3h.6M438.4 93h.6M435.8 101.5h.6M429.5 107.1h.6M438.7 102.9h.6M437.4 101.1h.6M429.5 93.7h.6M438.3 95.2h.6M435.2 101.2h.6M435.4 100.2h.6M437 98h.6M430.7 95.7h.6M438.8 92.3h.6M436.9 100.6h.6M431.6 74h.6M435 91.4h.6M432.6 106h.6M432 101h.6M435.5 99.7h.6M442.9 81.3h.6M438.9 96.8h.6M434 92.3h.6M435.2 98.4h.6M431.4 111.9h.6M432.1 96.9h.6M430 99.3h.6M436.5 107.2h.6M438.9 93.8h.6M441.4 97.1h.6M441.2 112.6h.6M433.5 88.9h.6M463.7 91.8h.6M463.2 90.3h.6M463.9 89.4h.6M466.5 84.2h.6M456.7 85h.6M458.9 80.3h.6M461.2 88.6h.6M455.2 78.9h.6M464.6 81.7h.6M460.4 91.4h.6M465.7 87.1h.6M463.7 73.7h.6M463.7 87.2h.6M456.8 86.3h.6M463.4 85h.6M464.6 89.3h.6M461.9 84.4h.6M457.6 90.4h.6M459.7 86.9h.6M467.2 88.9h.6M457.2 85.1h.6M459.2 78.4h.6M458.9 88h.6M462.9 84.6h.6M462.4 80.5h.6M459 84.8h.6M464.6 84.1h.6M461.2 87h.6M467 80h.6M463.6 86.3h.6M461.5 86.6h.6M454.7 85.6h.6M460.9 80.2h.6M464.7 85h.6M460.5 88.8h.6M458.5 82.4h.6M464.7 89.3h.6M468.9 83.5h.6M456.6 79.1h.6M457.5 86h.6M460.9 82.6h.6M458.2 82.5h.6M460.4 90.7h.6M464 91.4h.6M464.6 88.8h.6M465.9 87.5h.6M467.2 90.4h.6M468.2 86.4h.6M459 96.4h.6M460.7 87.8h.6M460.4 82.5h.6M463.3 80.7h.6M461.2 91.6h.6M462.2 89.1h.6M464 87.2h.6M462.1 88.2h.6M458.3 88h.6M457.9 82.2h.6M459.7 79.7h.6M454.8 87.2h.6M463.5 88.4h.6M469.6 86.3h.6M464.4 82.3h.6M464.2 80.6h.6M468.7 81.3h.6M460.3 88.7h.6M453.9 91.3h.6M458.4 86.4h.6M465.2 86.2h.6M465 83.3h.6M463.8 76.1h.6M467.1 82.6h.6M458.7 85.6h.6M467.8 82.5h.6M461.6 83.9h.6M458.4 79.8h.6M463.8 88.6h.6M459.1 86.5h.6M463.3 87.1h.6M461.1 85.7h.6M462.7 80.9h.6M461.2 88.9h.6M459.7 91.2h.6M460.9 80.7h.6M460.7 79.6h.6M463.9 78.6h.6M461.8 84.5h.6M460.6 87.3h.6M462.7 83.1h.6M464.6 83.6h.6M464.9 91.3h.6M463.1 89.5h.6M457 87.9h.6M456.4 84.7h.6M464.2 73.9h.6M458.9 82.2h.6M458.4 85.6h.6M464 80.5h.6M459.5 77.5h.6M459.2 76.4h.6M456.4 87.5h.6M464.8 82h.6M463 82.1h.6M465.5 93.1h.6M453 81.8h.6M459.4 83.4h.6M467.3 92.3h.6M461.7 88.3h.6M456.1 84.2h.6M460.7 84.9h.6M462.8 78.7h.6M458 94.8h.6M455.6 85.8h.6M464.3 87.6h.6M461.9 78.5h.6M460 78.8h.6M468.7 87.1h.6M464.3 86.4h.6M460.3 90.6h.6M464.8 88.3h.6M463.8 88.7h.6M460.7 87.4h.6M462 84.4h.6M464 94.8h.6M454.5 91.7h.6M460.2 90.7h.6M458.1 84.7h.6M465.3 85.2h.6M462.9 80.3h.6M457.6 92.7h.6M462.3 85.1h.6M456.8 81h.6M458 85.3h.6M461.3 82.9h.6M459.3 86h.6M465.9 79.4h.6M456.7 90.4h.6M456.6 83.7h.6M462.1 93.4h.6M454.5 72.9h.6M461.4 90.2h.6M462.2 82h.6M462.4 76.6h.6M464.6 91.9h.6M461 89.1h.6M458 91.9h.6M459.4 82h.6M459 77.8h.6M464.1 94.2h.6M456.6 84.6h.6M463.3 83h.6M456.2 87h.6M465.3 86h.6M457.9 84.2h.6M454.8 85.2h.6M466 90.3h.6M461.4 87.4h.6M459.9 86.1h.6M459.6 86.2h.6M459.9 86.4h.6M464.2 85.4h.6M457.1 87.7h.6M460.8 83.3h.6M463.7 81.9h.6M465 87.9h.6M459.2 82.5h.6M461.3 81.6h.6M465.1 75.7h.6M462.2 84h.6M457.8 88.2h.6M460 87.5h.6M460.2 84.3h.6M463.6 89.7h.6M465.2 85.4h.6M467 84h.6M456.9 77.4h.6M456.6 81.7h.6M455.4 86.9h.6M461.8 85.3h.6M462.5 85h.6M460.8 84.1h.6M461.8 80.6h.6M466.2 92.2h.6M461.8 95.4h.6M458.3 89.4h.6M456 88.1h.6M459.1 89.9h.6M462.1 89.6h.6M463.9 87.8h.6M460.7 92.4h.6M463 87.6h.6M466.8 84.4h.6M467.9 90.2h.6M462 79.2h.6M466 84.2h.6M462.1 86h.6M465.1 88.3h.6M455.3 82.6h.6M462.9 86.3h.6M464.5 88h.6M467.5 82.4h.6M466.3 87.2h.6M462.8 88.5h.6M460.5 88.6h.6M461 88.6h.6M459 90.6h.6M456.3 82.7h.6M461.5 86.6h.6M458.9 83.8h.6M462.6 90.1h.6M466.3 83.4h.6M461.5 84.2h.6M456.3 83.6h.6M465.7 79.7h.6M471.8 89.8h.6M467.8 86.3h.6M453.6 87.4h.6M467.3 83h.6M466.2 88.8h.6M464.5 88.8h.6M463.8 88.3h.6M465.9 87.4h.6M464 87.4h.6M462.2 81.7h.6M455.4 81.1h.6M457.3 79.1h.6M464.2 84.1h.6M466.2 99.1h.6M464.5 83.5h.6M463.1 84.6h.6M462.7 94.6h.6M467.4 91.1h.6M462.7 93.3h.6M464.7 89.4h.6M457.6 82.8h.6M462.3 84.6h.6M459.9 76.8h.6M459.1 85h.6M462.8 80.8h.6M461.3 93.4h.6M462.3 77h.6M461.1 85.5h.6M466.2 86.4h.6M466.6 87h.6M465.9 91.4h.6M467.2 86.4h.6M464 102.6h.6M457.4 86.4h.6M463.4 82.5h.6M464.7 84.8h.6M464.5 86.4h.6M458.4 90.1h.6M468.8 89.6h.6M462.7 78h.6M462.9 85.4h.6M458.9 77.2h.6M463.3 89.8h.6M464.3 95.5h.6M455 87.1h.6M461.6 91.7h.6M461.6 81.3h.6M461.5 87.4h.6M459.1 82.1h.6M462.7 89.3h.6M460.9 87.7h.6M460 84h.6M462.4 89.8h.6M467.3 85h.6M463.3 94.1h.6M464.7 84h.6M463.2 79.3h.6M454.3 82.2h.6M459.2 79.7h.6M465.4 83.5h.6M462 85.8h.6M461 80.4h.6M468.6 76.9h.6M461.6 88.6h.6M461 85.1h.6M462.8 86.6h.6M460.6 90.2h.6M463.5 92.1h.6M462.1 76.8h.6M455.9 83.3h.6M463.4 78.4h.6M459.8 91h.6M462.9 82.4h.6M461.4 86h.6M460.3 84.2h.6M459.5 86.5h.6M467.3 91.9h.6M457.4 95.7h.6M461.3 79.4h.6M456.5 86.2h.6M462.6 82.7h.6M458.9 84.6h.6M462.7 88.5h.6M463.7 75.1h.6M459.7 86.7h.6M463.1 89h.6M456.5 92.4h.6M457.6 84.6h.6M460.1 83.5h.6M459 89.1h.6M464.5 87.1h.6M457.3 82.8h.6M461.6 87.3h.6M459.8 84.4h.6M471 85.8h.6M460.7 74.8h.6M459.1 92.7h.6M464.7 80.3h.6M464.5 86.3h.6M459 89h.6M459.6 84.2h.6M461.8 86.5h.6M460.2 86.8h.6M461.8 86.4h.6M463.1 82.7h.6M457 85.2h.6M466.1 87h.6M462.6 82.3h.6M457.8 80.1h.6M458.6 83.9h.6M456.4 85h.6M456.3 88.4h.6M461.7 77.8h.6M459.8 86.5h.6M463.1 88.9h.6M460.5 84.9h.6M460.9 87.9h.6M459.3 84.8h.6M462.3 84h.6M458 91.5h.6M463.5 81.5h.6M468.6 82.2h.6M458.7 83.9h.6M463.6 92.1h.6M466.5 87.9h.6M462 88.4h.6M459 82.5h.6M463.6 86.4h.6M462.6 81.1h.6M462.6 79.2h.6M465 85.6h.6M459.5 83.5h.6M471.5 99.2h.6M459.3 91.5h.6M451.7 90.5h.6M461.8 86.7h.6M458.4 79.8h.6M462.6 83.6h.6M463.5 90.2h.6M461.4 87.9h.6M462.4 86.6h.6M460 86.6h.6M463.3 85.9h.6M460.2 79.2h.6M458.1 92.4h.6M465.3 86.8h.6M462.8 84.9h.6M464.1 89.7h.6M460.9 86.9h.6M465.1 78.6h.6M458.5 83h.6M457.7 83.6h.6M458.8 83.8h.6M463.4 80.4h.6M462.1 91.6h.6M462.4 80.2h.6M459.7 90.6h.6M460.9 82.8h.6M464.5 82.4h.6M457.9 88.2h.6M461.8 82.7h.6M463.4 90.4h.6M465.5 86h.6M463.4 87.7h.6M456.6 92.8h.6M459.5 83.1h.6M458.9 81.3h.6M465.6 85.6h.6M459.8 77.5h.6M462.4 85.3h.6M458.2 85.1h.6M455.4 88.4h.6M457.5 87.7h.6M462.1 76.2h.6M457.9 82.7h.6M464.5 88.2h.6M464 92.9h.6M460.8 83.3h.6M455.3 81h.6M463.7 81.9h.6M458.7 89.7h.6M453.2 91.6h.6M466.2 77.7h.6M463.4 85.5h.6M464.9 84.1h.6M461.4 91.7h.6M459.7 87.4h.6M464 85h.6M464.8 87.8h.6M464.6 78.1h.6M458.2 86.8h.6M465.8 91.8h.6M461.8 82.3h.6M458 77h.6M460 88.1h.6M461.5 79.1h.6M461.4 85.8h.6M459.2 91.9h.6M463.3 90.4h.6M462.1 81.3h.6M465.5 90.4h.6M459.8 79.7h.6M464.6 83.1h.6M457.8 85.2h.6M463.7 82.3h.6M461.9 89.9h.6M465.8 75h.6M465.6 98.8h.6M466.9 85.5h.6M463.4 74.8h.6M457.5 82.4h.6M474.1 86.1h.6M455.1 98.2h.6M468.8 74.3h.6M459.9 74h.6M467.6 69.8h.6M472.7 78.5h.6M454.6 101.2h.6M464.5 88.6h.6M466.5 79h.6M466.6 84.1h.6M464.4 87.7h.6M469.8 76.9h.6M452.5 90.7h.6M475.9 90h.6M460.1 90.9h.6M453.6 86.7h.6M450.7 86.9h.6M465.6 98.2h.6M458 92.7h.6M469.5 78.6h.6M459.4 72.8h.6M455.7 89.2h.6M448.5 83.9h.6M465.6 96.4h.6M445.6 88.8h.6M457.3 69.6h.6M454.8 90.3h.6M461 91.1h.6M459.3 90.8h.6M455.1 79.1h.6M460.1 73.5h.6M468.8 84.3h.6M455 79.9h.6M455.1 87h.6M458.9 92.3h.6M454 85.6h.6M451.8 82.7h.6M469.6 85.2h.6M466.7 85.6h.6M454.3 79.8h.6M454.1 88.5h.6M462.6 107.2h.6M471.5 92.2h.6M455.1 86.9h.6M455.5 103h.6M456.6 94.5h.6M452.7 91.6h.6M453.5 82.7h.6M462.2 87.1h.6M460.8 85.6h.6M455.8 85.3h.6M460.7 79.4h.6M464.6 87.3h.6M456.4 95.4h.6M457.6 72.4h.6M469 83.4h.6M470.2 89.2h.6M455.6 94.1h.6M464 92.7h.6M461.4 97.3h.6M466.9 83.7h.6M451.8 85.8h.6M461.5 79h.6M459.9 96.9h.6M458.2 94.2h.6M455.3 79.1h.6M466.9 84.8h.6M462.5 93.5h.6M471.2 77.1h.6M464.7 87.7h.6M462 99h.6M459.6 81.8h.6M464.2 71.5h.6M463.4 79.6h.6M463.1 80.7h.6M464.3 84.3h.6M456.7 90h.6M465.7 74.5h.6M453.1 84.2h.6M458.7 95.6h.6M471 89.5h.6M467.9 83.7h.6M452.6 88.2h.6M450.2 97.8h.6M462.7 94.5h.6M457.1 74.4h.6M459.8 89.6h.6M459.8 82.4h.6M461.6 84.7h.6M469.7 76.6h.6M447.3 85.4h.6M462.8 75h.6M460.8 89.2h.6M463.2 88.2h.6M456.4 75.6h.6M467 83.5h.6M452.6 97.3h.6M465.7 65.8h.6M477.1 87.1h.6M451.1 93h.6M463.1 95h.6M461.2 74h.6M460.1 83h.6M462.9 84.7h.6M464.6 77.2h.6M431.5 122h.6M435.1 115.9h.6M433.5 136.8h.6M426.7 129.9h.6M433.9 129.7h.6M433.7 126h.6M434.9 127h.6M428.9 124h.6M440.5 131.9h.6M430.3 119.8h.6M432.9 130h.6M437.1 121.6h.6M424.5 124.4h.6M427.2 130.7h.6M439.2 128.1h.6M435.8 127.5h.6M440.6 130.2h.6M439.1 118.8h.6M431.6 124.6h.6M425 123.2h.6M433.5 124.3h.6M443.2 123.6h.6M432.8 124h.6M432.2 117.4h.6M437.8 124.7h.6M434.9 124.8h.6M430.6 116.5h.6M432.4 127.4h.6M433.1 128.4h.6M430.5 123.1h.6M434.1 124.1h.6M434.2 132h.6M431.9 125.3h.6M431 127.4h.6M434.4 120.9h.6M429.7 118.5h.6M432.4 125.4h.6M431.6 124h.6M434 136.6h.6M438 136.5h.6M434 125.7h.6M441 126.6h.6M436 122h.6M431.4 128.6h.6M431.2 121.2h.6M427.8 126.1h.6M433.2 127.4h.6M430.2 118.3h.6M437.8 124.7h.6M436.6 118.7h.6M428.5 111.7h.6M434.7 129.7h.6M438.6 133.7h.6M426.5 119h.6M431.5 120.6h.6M432.7 120.5h.6M427.9 124.4h.6M434 120.7h.6M433.6 118h.6M432.3 122.9h.6M431.8 124.2h.6M428.6 117.7h.6M430.3 128.4h.6M429.9 119.8h.6M441.1 123.3h.6M432 120.1h.6M439.2 127.3h.6M434.5 132.8h.6M428.9 116h.6M437.8 126.8h.6M431.5 128.7h.6M433.1 134.6h.6M428.6 126.4h.6M437.3 129.2h.6M432.1 122.6h.6M431.8 128.1h.6M432 123.9h.6M437.4 124h.6M434.4 124h.6M433.5 113.2h.6M429.9 126.5h.6M431 121.5h.6M433.7 136.3h.6M430.6 119.7h.6M426.6 127h.6M433.3 120.3h.6M431.9 129.6h.6M437.4 126.5h.6M437.9 129.8h.6M431.7 128.7h.6M434.1 128.5h.6M434.6 135.6h.6M428.7 126.5h.6M429.3 136.5h.6M431.5 122.7h.6M433.4 124.4h.6M440.1 124.3h.6M434.5 130.1h.6M439.3 119.7h.6M434.7 117.8h.6M435.4 131.9h.6M431.5 123.2h.6M438.1 126.9h.6M436.6 122.3h.6M432.3 122.7h.6M439.5 116.9h.6M431.5 132.6h.6M433.2 119h.6M434.4 123.5h.6M433 127.2h.6M436.5 116.9h.6M434.3 132.3h.6M428.3 124.1h.6M429 128h.6M430.2 122.9h.6M431.9 126.9h.6M428.5 117.4h.6M434.2 131.6h.6M431.6 126.7h.6M434.5 125.2h.6M433.4 121.8h.6M432.6 130.8h.6M435.2 131.2h.6M430.7 125.2h.6M431 117.8h.6M436.9 123.1h.6M434.4 117.3h.6M432.5 124h.6M432 129.8h.6M435.3 125.3h.6M434.4 122.3h.6M430.8 123.2h.6M429.6 123.7h.6M433.1 130.4h.6M431.8 137.2h.6M431.5 125.3h.6M433.4 121.4h.6M433.2 115.5h.6M437.8 121.6h.6M433.4 115.2h.6M435.7 118h.6M438.7 119.2h.6M430.7 128h.6M438.4 114.4h.6M427 133h.6M435.2 116.7h.6M431.8 128.2h.6M432 132.4h.6M430.7 125.5h.6M437.9 132.3h.6M434.4 127.6h.6M432.2 124.3h.6M431.3 126.6h.6M436.7 119.4h.6M429 124.8h.6M441.2 125.8h.6M434 124.4h.6M427 120.9h.6M439.3 113.7h.6M440.4 118.4h.6M441.3 138.2h.6M439.2 123.9h.6M435.7 121.7h.6M431.7 125.7h.6M421.4 127.5h.6M432.3 119h.6M432.4 128h.6M430.5 126.5h.6M428.3 125.1h.6M429.1 128.6h.6M429.5 127.8h.6M425.8 125.5h.6M437.7 120.3h.6M433.7 120.1h.6M435.3 128.5h.6M437.9 131.5h.6M438.5 120.8h.6M433.9 127.4h.6M434.2 117.7h.6M441.2 137.9h.6M433.7 111h.6M440.5 123.6h.6M442.1 119.1h.6M435.5 128.7h.6M428 122.9h.6M435.3 128h.6M435 110.9h.6M424.3 126.5h.6M439.6 116.5h.6M435 129.4h.6M429.7 116.3h.6M434.5 122.3h.6M433.1 123.5h.6M433 126.2h.6M431.4 124.4h.6M431.3 120h.6M434.8 120.2h.6M435.5 124.4h.6M437.6 127.7h.6M425.8 124.4h.6M436 125.2h.6M433.6 130.3h.6M436.1 117.5h.6M433.8 129.8h.6M434.1 117.9h.6M436.4 127.7h.6M437.9 125.5h.6M433.9 129.1h.6M429.2 133.6h.6M435 125.7h.6M436.4 128.7h.6M425 129.5h.6M433 120.5h.6M436.9 129.5h.6M434.9 121.3h.6M433.9 119.6h.6M443.1 121.1h.6M436.8 133.1h.6M430.2 121.8h.6M424.9 123.3h.6M428.4 125.4h.6M432.6 124.6h.6M433.6 122.1h.6M433.9 124.2h.6M430.7 122.9h.6M431.3 117.8h.6M433.3 114.8h.6M435.5 124.4h.6M434.1 130.7h.6M437.1 122.3h.6M434.8 130.8h.6M432.9 126.6h.6M435.1 119.1h.6M434.5 122.5h.6M432.5 126.9h.6M436 119.8h.6M432.5 123.5h.6M429.8 126.5h.6M432.7 120.9h.6M437.1 124.1h.6M429 124.1h.6M432.7 126.1h.6M442.1 127.5h.6M439 123.7h.6M435.3 127.2h.6M433.1 125.9h.6M431.7 128.2h.6M430 133.6h.6M419.2 117.3h.6M433 126.5h.6M434 116.1h.6M435.1 119.9h.6M434.2 122.4h.6M432.4 116.6h.6M428.4 121.7h.6M429.4 125.9h.6M428.1 125.7h.6M435.6 120.7h.6M429.8 122.8h.6M436.5 131.9h.6M441.7 125h.6M435.8 125.6h.6M433.4 118.9h.6M432.1 130.4h.6M438.7 121.4h.6M427.3 134.5h.6M433.6 127h.6M432.8 115.1h.6M434.6 119.5h.6M432.4 121.3h.6M432.4 137.2h.6M439.2 114.3h.6M427.5 121.9h.6M430.9 128.7h.6M439.4 120.7h.6M435.6 123.5h.6M425.9 130.7h.6M440.1 120.3h.6M435.9 121.9h.6M433.1 122.2h.6M432.9 124.8h.6M431.1 126h.6M428.5 128.9h.6M429.8 114.8h.6M436.6 122.8h.6M431.4 129.4h.6M433.3 134.8h.6M435.1 117.1h.6M431.5 121.1h.6M432.3 133.4h.6M443.9 133.6h.6M435.2 127.5h.6M434.1 113h.6M438.8 135h.6M431.4 124.4h.6M430.7 123.5h.6M430.1 118.6h.6M438.1 114.3h.6M437.4 118.6h.6M432.5 114h.6M435.9 119.3h.6M443 119.7h.6M434.4 128.1h.6M429.7 120.2h.6M429.3 127.5h.6M434.6 129.9h.6M427.9 119.7h.6M433 122.2h.6M434.6 130.5h.6M434 120.4h.6M433.3 120.8h.6M430.9 134.4h.6M436 134.2h.6M432.6 124.2h.6M428.6 125.8h.6M436.2 128.2h.6M429 125.2h.6M437 122.1h.6M436.1 121.9h.6M433.4 121.5h.6M427.8 120.2h.6M434.1 123.1h.6M433.4 121.5h.6M436.8 123.6h.6M435 122.1h.6M438.5 124h.6M435.1 136.2h.6M435.1 116.4h.6M430.9 126.3h.6M428.4 116.8h.6M433 116.3h.6M437.6 126.9h.6M432.2 130.9h.6M430.8 118.3h.6M436.9 124.7h.6M432.6 130h.6M432.9 128h.6M434.3 130.7h.6M435.6 122.1h.6M439.2 122.7h.6M440.1 117.9h.6M433.7 112.8h.6M435.5 131.6h.6M432 127.1h.6M432.6 132.1h.6M434.8 126.4h.6M437.7 116.6h.6M436.1 125.3h.6M438.4 124.7h.6M435.8 124.3h.6M429.7 121.9h.6M432.8 117.6h.6M433.3 122.1h.6M440.4 123.3h.6M433.9 125.1h.6M436.1 116.1h.6M426.8 132.9h.6M430.3 119.9h.6M438 126.2h.6M430.4 128.5h.6M429.1 133.1h.6M432.3 126.3h.6M433.4 134.7h.6M429.8 124.1h.6M441.7 113.9h.6M431.6 126h.6M432.7 126.9h.6M437.9 118.6h.6M431 131.5h.6M440.9 110.5h.6M435.5 129.8h.6M430.9 120h.6M429.2 123.5h.6M429.1 128.3h.6M430.8 127.3h.6M427.5 129.2h.6M436.1 129.6h.6M434.5 136.7h.6M437.2 124.9h.6M439.6 122.7h.6M434.1 133.2h.6M431.7 124.6h.6M434.5 125.6h.6M432.6 129.9h.6M441.8 122.6h.6M427.9 122.2h.6M428.2 117.9h.6M429.5 130.2h.6M434.1 128.3h.6M433.1 130h.6M431.9 131.5h.6M436.9 125.8h.6M427.9 118.8h.6M434.5 119.1h.6M432.8 123.8h.6M438.8 121h.6M434 122.2h.6M430.6 126.9h.6M437.2 117.1h.6M439.2 136.3h.6M434.1 127.3h.6M429.5 122.5h.6M434.7 124.1h.6M438.8 120h.6M432.6 127.4h.6M433.2 123.3h.6M433.1 126.7h.6M426.1 138.2h.6M436.4 119.1h.6M430 118.7h.6M435.2 114.9h.6M442.9 121.7h.6M428.1 135.4h.6M433.5 127.2h.6M432.8 123.3h.6M441.4 114.3h.6M434.5 120.7h.6M432.2 124.3h.6M426.5 127.9h.6M434.3 127.5h.6M431.2 128.5h.6M431.7 128.7h.6M438.7 127.9h.6M428 125h.6M429.6 134.8h.6M434.3 117.9h.6M427.7 131.5h.6M429.7 126.8h.6M432.3 123.9h.6M431.8 124.7h.6M439.7 120h.6M435.5 127.1h.6M430.9 118.9h.6M430.1 127.6h.6M434.1 130h.6M434.9 125.2h.6M433.6 125.8h.6M433.7 128.1h.6M430.2 130.2h.6M439.7 124.1h.6M435.7 118.5h.6M433.9 117.1h.6M437.3 124.9h.6M437.6 130.5h.6M430.7 128.9h.6M439.4 136.2h.6M433.1 127.5h.6M431.1 127.9h.6M435.8 132.2h.6M432.9 124.9h.6M435.4 123.7h.6M441.4 113.1h.6M427 122h.6M436.2 124.7h.6M435.1 116.7h.6M435.8 127.5h.6M439.8 128.9h.6M431.2 120.8h.6M429.2 122.1h.6M433.1 131.1h.6M439.9 125h.6M435.8 123.8h.6M428.6 127.4h.6M430.7 116.2h.6M430.3 132.4h.6M429.1 131.7h.6M428.3 124.3h.6M435.5 122.6h.6M429.8 124.6h.6M439.9 128.1h.6M434.3 127.6h.6M438.1 131.5h.6M432.5 120.1h.6M429.8 125h.6M432.4 124.7h.6M431.2 137.6h.6M430.9 132h.6M430.2 120.5h.6M429 119h.6M427.3 120.3h.6M432.6 128.2h.6M426.7 126.9h.6M433.1 124.6h.6M425.2 127.1h.6M436.1 130.6h.6M432.4 131.1h.6M433.8 119.9h.6M435.5 129.7h.6M434.4 124.5h.6M432.6 128.1h.6M426.6 126.2h.6M428.6 121.9h.6M434.3 131h.6M433.5 119.8h.6M444 126.3h.6M423.1 124.1h.6M430.7 121.5h.6M437.6 135.7h.6M433.9 117.7h.6M436.9 125.1h.6M431.9 125.7h.6M429.1 125.6h.6M434.9 130.8h.6M441.3 121.4h.6M435 120.5h.6M434 130.6h.6M436 123.1h.6M440.5 129.3h.6M438.3 125.1h.6M438.7 123.9h.6M436.9 124.9h.6M433.5 116.6h.6M437.3 127.6h.6M431.1 125h.6M435.9 127.9h.6M425.5 132.4h.6M429.6 134.5h.6M438 125.4h.6M434.3 126.1h.6M431.9 132.5h.6M430.9 121.9h.6M432.6 116.4h.6M437.5 118.5h.6M439.4 129.6h.6M441.4 121.6h.6M432.4 122.3h.6M436.6 120h.6M432.3 112.6h.6M433.7 125.7h.6M441.3 120.3h.6M437.3 127.6h.6M437 118.9h.6M420 122.1h.6M437.3 125.5h.6M439.2 135.9h.6M430.8 122.5h.6M439.5 116h.6M423.7 126.1h.6M434.8 132.5h.6M436.4 124.4h.6M431.3 115.1h.6M435.6 121.5h.6M432 126.3h.6M425.5 124.2h.6M431.1 135.1h.6M433.1 130.5h.6M429.7 116.4h.6M437 122.8h.6M428.3 130.3h.6M435.5 115.6h.6M432.6 135.1h.6M434 117.5h.6M430.2 131.9h.6M439.5 128.3h.6M427.6 129h.6M430.3 122h.6M431.6 130.3h.6M435.5 127.7h.6M431.8 121.9h.6M437.8 121.4h.6M432.4 127.6h.6M432.8 129.9h.6M435.8 128h.6M442.7 121.8h.6M441.8 117.9h.6M430.4 111.5h.6M430.9 120.4h.6M436.3 131.3h.6M442.7 121.8h.6M437.8 123.7h.6M426.2 102.5h.6M432.1 114.3h.6M437 119.7h.6M436.1 121.1h.6M435.5 119.6h.6M435.1 134.3h.6M435 117.3h.6M430.4 125.4h.6M436.7 118h.6M429.9 116h.6M440.5 126.2h.6M434.8 122.3h.6M441.2 127.7h.6M433.1 131.1h.6M435.9 123.1h.6M432.1 124.7h.6M439 117h.6M427 128.2h.6M437.7 132.4h.6M435.8 116.6h.6M436.8 125.5h.6M429.5 116.1h.6M427.4 125h.6M428.4 126.5h.6M432.9 128.1h.6M437 119.7h.6M432.1 128.6h.6M431 130.1h.6M435.9 129.5h.6M431.2 128.8h.6M432.7 125.8h.6M436 121.6h.6M433.4 111.8h.6M430.8 127.9h.6M429.2 113.2h.6M427.9 123h.6M436.2 127.5h.6M427.9 126.8h.6M428.7 130.5h.6M435.1 121.2h.6M431.7 124.2h.6M431.2 130.9h.6M434.7 121.5h.6M435.3 117.2h.6M434.2 122.8h.6M431.3 124.3h.6M434.4 116.7h.6M435 140.5h.6M436.7 121.4h.6M434.9 133.5h.6M429.3 133.5h.6M432.1 134.8h.6M430.3 130.2h.6M431.3 131.4h.6M437 126.4h.6M430.3 130.2h.6M435 118.7h.6M435.7 123.7h.6M433.1 119.3h.6M434.3 129.2h.6M430.2 129h.6M426.4 125.2h.6M434.6 119.4h.6M434.1 117.5h.6M440.8 126.7h.6M437.8 119.6h.6M424.8 124.1h.6M438.7 123.7h.6M438 126.8h.6M434.8 130.3h.6M431.2 122.4h.6M437.8 127.1h.6M431.4 118.7h.6M439.3 107.1h.6M437.1 123.8h.6M428.5 126.8h.6M435.4 136.9h.6M434.7 111h.6M429.9 128.7h.6M431.7 124.3h.6M433.2 132.3h.6M434.8 123.7h.6M431.1 130h.6M430.9 126.8h.6M435.1 128.6h.6M436.5 126.1h.6M441.1 128.8h.6M430.6 119.7h.6M430.9 131.8h.6M429.3 133.1h.6M435.2 121.4h.6M429.7 124.1h.6M436.4 124.2h.6M436.3 125.5h.6M438.7 122h.6M433 118.5h.6M432.3 119.2h.6M427.8 123.4h.6M436.1 112.5h.6M428.7 117h.6M434.9 127.6h.6M434.8 123.6h.6M430.6 125.6h.6M430.2 123.3h.6M435 123.2h.6M438.1 112.8h.6M427.5 130h.6M431.4 122.1h.6M431.4 124.3h.6M432.9 126.5h.6M437 134.6h.6M425.5 124h.6M430.2 125.7h.6M429.7 125h.6M434.6 124.4h.6M434.4 128.1h.6M429.5 124.3h.6M437.5 129.6h.6M437.2 120.1h.6M431 129.9h.6M433.5 126.2h.6M432.2 129.5h.6M434.2 119.2h.6M434.9 122.7h.6M432.5 127.6h.6M434.1 121.5h.6M429.1 122.2h.6M433 118.2h.6M431.2 137.1h.6M431.1 124.9h.6M428.9 122.8h.6M434.5 125.5h.6M427.1 124.8h.6M429.8 130.5h.6M433.1 133.1h.6M434.9 118.3h.6M437.1 122h.6M433.1 125.1h.6M428.6 130.9h.6M434.1 119h.6M428.4 127.1h.6M438.1 126.8h.6M434.7 122.3h.6M437.6 127.5h.6M430.5 121.3h.6M425.4 130.8h.6M444.8 124h.6M435.2 128.7h.6M432.7 136.1h.6M429.7 120.1h.6M439.6 129.5h.6M436.4 124h.6M433.3 125.4h.6M435.1 121.4h.6M437.4 134h.6M431.5 119.5h.6M434 137.8h.6M429.9 131.8h.6M431 120.6h.6M437.6 123.7h.6M433.4 128.4h.6M437.8 125.9h.6M439.4 121h.6M431.6 128.3h.6M436 115.3h.6M432.3 128.3h.6M432.9 134.3h.6M427.6 125.7h.6M430.3 116.1h.6M432.6 124.3h.6M431.9 121.2h.6M436.7 119h.6M431.2 117.1h.6M437.9 116.8h.6M440 119.7h.6M433.3 133.4h.6M429.5 131.7h.6M428.6 122.2h.6M435.6 126.5h.6M434.8 126.3h.6M439.4 116h.6M430.9 129.3h.6M428 120.9h.6M442.7 131.9h.6M435.4 125.1h.6M432.9 119.9h.6M430.2 119.4h.6M428.7 125.4h.6M435.1 119.6h.6M434 117.6h.6M434.9 122.9h.6M433.2 125.7h.6M438.4 125.8h.6M431.1 125.5h.6M435 127.5h.6M437.5 120.3h.6M429 128h.6M429.2 127.1h.6M443.8 131.4h.6M428 120.3h.6M435 123.2h.6M436.1 126h.6M434.8 127.7h.6M427.6 130.8h.6M428.2 120h.6M424.4 124.7h.6M435 122.7h.6M429 113h.6M435.6 118.5h.6M432.1 126h.6M433.3 126.9h.6M439.8 128.5h.6M429.7 124.5h.6M432.6 120.1h.6M436 122.6h.6M434.4 128.1h.6M441.5 121.4h.6M436.2 136.2h.6M439.6 126.3h.6M430.7 125.6h.6M431.2 122.5h.6M427 123.2h.6M425.9 130h.6M435.5 122.5h.6M433.6 125.4h.6M432.6 126.3h.6M432.8 127.1h.6M430.4 125.1h.6M439.9 120.4h.6M430.5 129.8h.6M434.7 125.6h.6M434.2 122.5h.6M431.5 127.5h.6M434.2 128.2h.6M435.2 136.7h.6M433.9 132.3h.6M434.1 136.8h.6M437.3 120.7h.6M439.6 121.7h.6M437.4 120.7h.6M434.9 125.6h.6M439 113.2h.6M426.2 130h.6M436.4 122h.6M433.9 115.4h.6M432.1 121.2h.6M436.9 126.1h.6M432.9 131h.6M431.1 128.9h.6M432.6 127.3h.6M432.4 132.3h.6M431.9 135.6h.6M436.6 120.3h.6M431.8 132h.6M439.1 118.3h.6M434.2 128.2h.6M442.6 128.4h.6M432.8 129.8h.6M433.8 120.2h.6M433.4 123.6h.6M432.7 125.3h.6M434.9 120.7h.6M436.1 116.4h.6M436.1 127.5h.6M435.2 116.9h.6M431.6 126h.6M435.3 128.9h.6M427.7 125h.6M437.7 118.6h.6M428.9 122.4h.6M432.5 123.5h.6M438.3 126.4h.6M426.2 129.1h.6M433.9 129.5h.6M433.4 132.3h.6M434.1 122.3h.6M429 129.9h.6M433 115.5h.6M436.8 131.9h.6M425.5 128h.6M436 134.1h.6M438.2 120.9h.6M435.3 128.9h.6M427.9 132.7h.6M435.4 129.4h.6M430.1 129.4h.6M433.4 123.3h.6M433.7 126.8h.6M427.7 125h.6M434.9 116.3h.6M440 138.7h.6M436.1 125h.6M429.6 119h.6M428.8 129.7h.6M430.2 126h.6M431.9 129.8h.6M438.4 129.9h.6M436.1 130.7h.6M440.1 120.3h.6M434.6 121.5h.6M433.7 123.8h.6M434 128.8h.6M428.6 111.1h.6M434.6 130.7h.6M432 132.9h.6M442.2 125.4h.6M432.7 127.8h.6M436.5 117h.6M435.5 114h.6M429.4 126.2h.6M434.7 118.6h.6M433.7 131.9h.6M427.2 128h.6M438.4 117.8h.6M438.1 127.4h.6M432.3 125.1h.6M433.4 125.2h.6M432.7 121.1h.6M437 134.1h.6M432.8 132.6h.6M430.6 118.2h.6M436 126.3h.6M435.3 119.9h.6M432 130.5h.6M439.7 126.4h.6M435 110.9h.6M431 132h.6M440.8 120.6h.6M423.8 127.7h.6M428.5 122.8h.6M431.2 123h.6M429.8 128.5h.6M434.7 118h.6M427.5 136.2h.6M435.7 126.2h.6M427 136.6h.6M429.5 125.7h.6M434.8 121.2h.6M434 122.6h.6M425.6 117.6h.6M431.1 122.2h.6M435.2 133.9h.6M432.6 136.8h.6M431.8 125.6h.6M432.6 116h.6M433.2 123.9h.6M430.3 129.1h.6M435 123.4h.6M430.1 126.7h.6M430.4 120.5h.6M431.6 130.1h.6M432.4 124.2h.6M432.2 128.3h.6M432.9 129.5h.6M432.9 129.6h.6M432.3 121.1h.6M435 124h.6M431.7 132.8h.6M431.6 120.9h.6M432.2 132.8h.6M428.3 131.3h.6M435.4 122.9h.6M432.2 121.2h.6M425.7 120.1h.6M428.1 116.5h.6M431.8 128.3h.6M429.9 123.3h.6M430.5 124h.6M434.9 131.6h.6M435.7 127.1h.6M438.7 129h.6M435.3 128.1h.6M436.5 119.6h.6M430 125.6h.6M426.6 123.6h.6M432.1 126.8h.6M436 132.1h.6M424.4 126.3h.6M434.7 132.8h.6M431 127.4h.6M432.8 120h.6M434.3 130.3h.6M432 125.6h.6M437.5 124.1h.6M432.1 126.7h.6M435 127.3h.6M438 127.5h.6M428.8 116.4h.6M433 134.1h.6M433.5 122.8h.6M434.4 128h.6M438.1 118.2h.6M436.2 126.1h.6M436.5 130.9h.6M424.8 130.1h.6M435.2 120.9h.6M432.8 130.8h.6M427.6 129.9h.6M436.3 134.6h.6M430.1 121.8h.6M437.1 123.6h.6M434.9 111.1h.6M442.4 115.1h.6M427 127.8h.6M435.2 120.8h.6M424.9 128.1h.6M434.2 120.2h.6M433.8 122h.6M429.4 128.9h.6M433.3 125.3h.6M428.6 121.3h.6M432.2 121.9h.6M434.6 125.3h.6M432.4 124.2h.6M434.8 130.6h.6M429.2 130.3h.6M436.7 129.4h.6M431.2 126.2h.6M441.3 117.9h.6M436.5 123.7h.6M439.6 125.9h.6M436.5 121.7h.6M431.4 133.8h.6M428.4 122.3h.6M432.3 118.4h.6M435.7 118.5h.6M433.5 123.8h.6M424.9 125.9h.6M427.4 125.3h.6M424.4 122.2h.6M436.4 126.6h.6M437.6 133.9h.6M436.1 124.1h.6M432.8 128.5h.6M428.5 119.5h.6M433.2 134.5h.6M429 126.5h.6M430.6 129h.6M434.6 124.9h.6M436.7 123.7h.6M426.9 136.5h.6M432.9 126.8h.6M436.3 120.7h.6M431.5 121h.6M435.5 127.3h.6M434 118h.6M430.1 117.3h.6M428.1 121.1h.6M434.4 127.8h.6M426.4 128.5h.6M434.6 133.7h.6M436.5 116.9h.6M435.1 126.4h.6M434.5 121.1h.6M438.7 125.6h.6M431.1 115.3h.6M432.3 117.6h.6M427.7 133.9h.6M433 130.4h.6M437.5 129.1h.6M431.6 118.7h.6M432.6 125.7h.6M432.7 123.4h.6M433.8 117.3h.6M437.3 118.7h.6M433.7 120.3h.6M438.4 122h.6M429.7 123h.6M436.6 118.4h.6M428.3 122.2h.6M436.2 109.1h.6M436.8 137.4h.6M432.6 130.1h.6M432.8 114.9h.6M431.6 128.4h.6M429 123.4h.6M430.7 127.2h.6M442.8 125.5h.6M428.3 134.1h.6M432.2 122.8h.6M435.2 129.2h.6M434.1 127h.6M434 118.5h.6M436.3 129.8h.6M430.3 115.5h.6M431 126h.6M438.7 126.3h.6M420.8 121.7h.6M433.5 126.4h.6M427.4 123.1h.6M433.8 128.8h.6M436.4 134.1h.6M430.6 122.7h.6M431.6 127.7h.6M441 126h.6M433.9 120h.6M428.4 134.8h.6M433 132.8h.6M436.4 122.3h.6M434.2 120.1h.6M435.7 124.2h.6M436.3 131.9h.6M431 129.4h.6M435 122.2h.6M434.3 131.9h.6M433.9 130.4h.6M434.6 132h.6M432.8 123.2h.6M435.7 112.5h.6M431.3 133.5h.6M430.4 135.2h.6M439.5 122.3h.6M430.4 127.2h.6M436.8 134.6h.6M439.2 121.1h.6M436.6 122.2h.6M437.5 127.6h.6M438.9 124.6h.6M436.5 118h.6M429.6 127.8h.6M433.7 129.9h.6M442.2 121.6h.6M428.7 119.2h.6M430.9 131.4h.6M434.8 123.4h.6M435.9 124.1h.6M434.3 124.9h.6M428.1 129.5h.6M434 137.3h.6M433.7 121.7h.6M434 121h.6M433.2 123h.6M434.6 119.9h.6M432.9 122.7h.6M429.5 124.6h.6M436 129h.6M434.6 124.4h.6M437 123.4h.6M436 115.4h.6M428.7 121h.6M437.8 123.5h.6M435.1 118.9h.6M427.5 140.4h.6M439.8 134.7h.6M433.4 121.3h.6M434.4 123.6h.6M431.5 111.3h.6M434.2 112.8h.6M431.4 116.5h.6M441.2 117.9h.6M431.8 127h.6M432.1 126.3h.6M437 121.4h.6M435.4 124.2h.6M428.3 126.5h.6M429.2 130.7h.6M433.4 125.9h.6M437.3 120.3h.6M430.3 132.9h.6M436.2 127.3h.6M425.6 125h.6M429.7 121.6h.6M427 115.8h.6M431.7 127h.6M431.4 123.9h.6M433.7 132.4h.6M431.1 125.6h.6M444.2 124.7h.6M436.6 118.3h.6M429.2 122.4h.6M445.5 121.4h.6M439 122.1h.6M428.5 114.5h.6M434.1 130.7h.6M430.3 122.6h.6M429 120.8h.6M437.5 121.9h.6M429.3 128.3h.6M434.5 124.6h.6M441.6 126.5h.6M438 118h.6M433.2 131.9h.6M436.4 129.9h.6M427.6 123.3h.6M440.1 133h.6M421.2 114.4h.6M438.9 129.3h.6M438.7 109.3h.6M433.8 129.3h.6M438.3 119.5h.6M437.7 129.3h.6M431.4 133.7h.6M438.6 129.8h.6M431.6 126.4h.6M433.3 134.1h.6M443.3 120.1h.6M441.5 127.3h.6M430.7 120.8h.6M439.7 126.6h.6M430.8 123.8h.6M431.9 124.1h.6M440.8 121h.6M432.2 108h.6M435.5 130.1h.6M441.8 121.4h.6M432.3 122.6h.6M428.4 124.8h.6M430.3 123.6h.6M434.1 129h.6M433.7 138.2h.6M434.8 127.7h.6M435.6 124.3h.6M437.4 125.7h.6M428 121.9h.6M439.5 115.9h.6M440.7 125.5h.6M434.5 131.7h.6M434.4 122.2h.6M424.6 121.4h.6M428.7 128.7h.6M433.9 119.6h.6M438.3 129.7h.6M442.6 126.3h.6M428.5 125.4h.6M436.6 129.7h.6M428.1 127.4h.6M436.2 127h.6M426.8 122.3h.6M433 123.6h.6M437.2 122.7h.6M426 113h.6M435.5 120.3h.6M433.3 130.9h.6M431.4 124.6h.6M427.6 118.1h.6M435.9 131.2h.6M430.8 123.7h.6M434.9 122.3h.6M433.8 122.6h.6M436 121.9h.6M431.6 117.2h.6M430.3 116.5h.6M432.9 130.3h.6M428.2 120h.6M430.4 127.3h.6M432.3 122.9h.6M429.6 123.3h.6M432.1 120.3h.6M439.3 127.4h.6M432.8 126.4h.6M442.9 128.1h.6M431.3 124.5h.6M438.2 127.2h.6M432.4 125.3h.6M428.9 122.9h.6M431.8 123.4h.6M439.1 124.9h.6M438.3 124.7h.6M427.3 131.4h.6M431.3 124.1h.6M438 132.4h.6M434.2 131.7h.6M431.5 128.2h.6M429.8 130.1h.6M431.2 128.3h.6M428.6 132.6h.6M440.2 123.3h.6M433.8 119.4h.6M432.7 116.8h.6M436.5 124.3h.6M438.3 124.7h.6M432.6 120.1h.6M436.1 124h.6M428.6 116.5h.6M437.4 124.1h.6M433.2 121.7h.6M431.3 124.6h.6M434.3 118.1h.6M443.7 129.7h.6M425.7 125h.6M438.1 121.1h.6M427.9 127.6h.6M431 124.6h.6M440.3 124.7h.6M439 120.4h.6M426 122.5h.6M431.9 128.4h.6M435.3 113.9h.6M428.9 122.3h.6M430.5 121.1h.6M432.1 125.5h.6M427.3 119.6h.6M429.8 131.2h.6M432.8 116.6h.6M435.5 129.7h.6M426.9 118h.6M435.3 124.9h.6M436 133.4h.6M436.2 130.1h.6M431.5 132.3h.6M430.6 126.5h.6M425.2 122.4h.6M436.7 119.6h.6M431.6 112.9h.6M432.1 117.5h.6M433.7 122h.6M430.7 122.8h.6M431.8 124.6h.6M432.4 130.8h.6M437.9 111h.6M439 123.4h.6M435 119.7h.6M436 127.7h.6M431.2 118.5h.6M435.6 127h.6M429.8 113h.6M429 126.8h.6M438.7 119.3h.6M431.2 118.7h.6M435 120.3h.6M440.4 127.8h.6M432.7 122.4h.6M437.7 122.4h.6M431.9 125.2h.6M437.8 132.3h.6M432.1 118h.6M429.8 123.7h.6M436.1 110.4h.6M436.2 126.8h.6M434.4 116.6h.6M433.9 121.8h.6M429.7 127.8h.6M438.6 125.6h.6M435.9 130h.6M433.7 122.3h.6M439.6 121.2h.6M432.3 126.4h.6M431.9 119.4h.6M438 124.5h.6M430.8 121.4h.6M436 129h.6M434.4 130.8h.6M433.5 133.1h.6M437.3 118.4h.6M433.2 126.3h.6M433.5 119.2h.6M435.5 124.2h.6M427.6 117.7h.6M432 129.5h.6M433.5 125.5h.6M437.4 123.3h.6M433.7 124.2h.6M437.3 121h.6M435.2 120.7h.6M434 130.5h.6M430.5 127.1h.6M433.9 125.8h.6M435.7 125h.6M435.6 134.2h.6M430.9 118.8h.6M436.6 126.6h.6M441.6 121.2h.6M436.5 121.6h.6M431.7 121.3h.6M430.4 119.5h.6M432.4 123.7h.6M433.9 128.9h.6M430.1 124.1h.6M430.2 129h.6M430 122.7h.6M430.5 130.3h.6M428.9 118.4h.6M432.1 122.6h.6M430 130.6h.6M431.5 113.4h.6M432.9 117.5h.6M431.1 121.9h.6M430.1 122.3h.6M432.1 127.8h.6M443.6 120.8h.6M431.8 130.6h.6M440.3 128.7h.6M432.6 134.9h.6M434 130.9h.6M431.5 118h.6M438.9 119.8h.6M429.6 125.3h.6M430 128.1h.6M434 123.4h.6M431.4 132.3h.6M439.1 130.6h.6M428.5 133.4h.6M434.1 133.7h.6M435.7 120.9h.6M427.2 121h.6M438.4 122.1h.6M440.1 117.7h.6M436.2 123.9h.6M428.2 126.6h.6M432.1 123h.6M425.5 119.2h.6M431.1 123.8h.6M430.4 135.4h.6M432 125.7h.6M432.4 131.3h.6M435.9 129.9h.6M427.6 125.4h.6M433.1 128h.6M431 125.3h.6M429.8 122.7h.6M435 121.9h.6M430.3 123.8h.6M434.9 126.8h.6M429 122.3h.6M429.1 119.2h.6M442.9 131h.6M436.4 123h.6M437 132.8h.6M438.4 128.4h.6M429.7 137.4h.6M436.6 129.2h.6M435 126.6h.6M432 115.5h.6M440.6 138.5h.6M435.5 128.2h.6M433.5 128.7h.6M433 124.1h.6M436 115.4h.6M439.1 122.5h.6M435.7 127.8h.6M439.8 133.6h.6M428.5 119.4h.6M434.2 115.8h.6M436 123.9h.6M430.5 129.1h.6M429.9 120.6h.6M433.5 129.2h.6M432.8 122.7h.6M434.3 122.6h.6M426.3 129.5h.6M435.4 130.5h.6M434 127.1h.6M427 117.3h.6M425.9 130.9h.6M430.8 131.7h.6M435.2 122.2h.6M433.1 120.3h.6M431.7 126.4h.6M436.1 122h.6M427.3 130.7h.6M429.1 128.4h.6M427.5 119.7h.6M425.6 128.1h.6M435.2 141.2h.6M440.8 125.3h.6M425.4 123.4h.6M434.4 126.5h.6M434 119.2h.6M432.2 134.7h.6M431.3 122.5h.6M428.7 121.3h.6M438.1 126.5h.6M431.4 122.6h.6M436.6 121.5h.6M430.3 122.9h.6M423.3 130.7h.6M430.2 128.6h.6M433.3 130h.6M431.3 137.8h.6M435.6 123.4h.6M434.6 113.5h.6M428.9 113.6h.6M432.3 136.2h.6M434.7 116.8h.6M427.3 126.6h.6M435.9 123.5h.6M439.1 125.9h.6M441.4 129.1h.6M441.5 110.4h.6M436.4 128.8h.6M439.3 127.8h.6M434.9 126.3h.6M434.2 127.6h.6M439.7 116h.6M431.6 116.8h.6M431 126.1h.6M434.1 126.7h.6M436.3 126.9h.6M432.1 123.9h.6M429.2 122.2h.6M433 126.6h.6M427.1 130.5h.6M433.1 116.3h.6M432.7 127.7h.6M433.7 122.4h.6M429.8 125.8h.6M434 126.2h.6M431.8 131.1h.6M426.2 124.6h.6M426.9 114.2h.6M434 129.1h.6M432.2 127h.6M432.6 130.7h.6M431 127.4h.6M434.6 116.2h.6M437.9 121.5h.6M428.8 121.1h.6M436.7 122.4h.6M436.4 119.6h.6M434.3 115.4h.6M432.1 131.5h.6M431.2 125.5h.6M426.1 133.4h.6M432.4 127h.6M431.8 119.1h.6M431.9 122.8h.6M429.2 123.7h.6M429.4 122h.6M422.1 119.4h.6M434.5 125.8h.6M432.3 126.8h.6M440 126.5h.6M433.7 124.1h.6M434.6 128h.6M424.5 135.7h.6M437 127.1h.6M430.9 124h.6M430.2 131.7h.6M430.6 116h.6M432.4 120.1h.6M434 125.3h.6M429.9 116.4h.6M431.9 117.7h.6M432.5 125.5h.6M431.7 125.4h.6M431.6 133.3h.6M426.2 118.8h.6M437.6 118.1h.6M435.6 123.4h.6M433.2 117.1h.6M431.6 123.8h.6M424.8 124.6h.6M431.4 112.7h.6M433.8 122.7h.6M427.2 130.6h.6M432.7 118.6h.6M429.7 126.1h.6M431 128.3h.6M428.2 125.9h.6M434.9 127.3h.6M429.9 119.5h.6M428.7 125h.6M425 139.2h.6M432 130.8h.6M431.9 131.5h.6M432.1 129.8h.6M437 126h.6M428.2 126.7h.6M433.7 122.9h.6M432.2 128.1h.6M425 127.4h.6M439.3 121h.6M437.8 122.1h.6M431.9 122.7h.6M433 120.5h.6M430.8 123.3h.6M429.5 124.2h.6M437 120.1h.6M433.8 120.5h.6M428.6 124.4h.6M432 129.7h.6M435.8 125h.6M430.5 131.6h.6M428 120.5h.6M435.9 126.6h.6M435.4 123.3h.6M435.9 130.6h.6M425.6 127.2h.6M436.8 119.1h.6M429.4 126.4h.6M435.4 124.4h.6M426.7 125.6h.6M432.6 122.5h.6M437 113.4h.6M433.4 121.3h.6M435.3 122.8h.6M439.7 125.4h.6M431 116h.6M432 124.2h.6M439.1 126.4h.6M433.7 119.7h.6M433.8 119.5h.6M427.6 126.8h.6M431.3 117.5h.6M437.4 130.8h.6M434.8 115.9h.6M429.8 119.4h.6M434 142.1h.6M436.6 123.9h.6M429.8 117.2h.6M430.2 125.3h.6M432.1 127.1h.6M435.1 118.5h.6M436.3 124.6h.6M439.3 123.7h.6M431.7 123.8h.6M437.8 127.1h.6M437.6 129.8h.6M434.3 136.5h.6M432.7 123.3h.6M437.4 118.4h.6M434.3 129.6h.6M429.7 114.6h.6M427.6 130.3h.6M442.7 119.8h.6M428.1 117.9h.6M439.1 128.4h.6M435.7 120.7h.6M435.7 120.6h.6M435.3 120.5h.6M428.2 122.1h.6M434.7 126.1h.6M431 129.2h.6M427 114.2h.6M435.4 123.6h.6M433 122h.6M435.2 125.6h.6M438.5 119.5h.6M428.3 123.7h.6M432.2 122.8h.6M424.8 126.3h.6M439.7 126.3h.6M437.9 127.5h.6M434.2 126.5h.6M437.4 126.8h.6M435.7 124.1h.6M430.3 126.2h.6M431.6 127.4h.6M424.6 133.6h.6M438.3 132.3h.6M434.7 118.9h.6M431.7 118.3h.6M434.8 124.5h.6M433.9 114.8h.6M427.4 113h.6M438.7 127h.6M433.5 122.5h.6M426.3 122.5h.6M431.6 120h.6M437.2 113.9h.6M433.9 128.6h.6M436.4 116.6h.6M422.4 131.6h.6M438.8 123.6h.6M432.2 126.2h.6M437.5 125h.6M432 125.5h.6M434.8 135.1h.6M433.4 119.6h.6M440.8 132.2h.6M439.1 119.5h.6M431 117.3h.6M432.8 131.3h.6M437 124.7h.6M434.3 127h.6M432.8 118.9h.6M430.6 133h.6M429.7 118.5h.6M435.6 122.7h.6M432 125.2h.6M432.9 115.8h.6M437.1 125.6h.6M440.1 128.8h.6M431.1 122.1h.6M430.6 112.9h.6M436.3 120.9h.6M437.3 125.3h.6M433 132.9h.6M429.7 133.6h.6M432 135.6h.6M438 121.7h.6M440.4 126.7h.6M434.8 122.4h.6M433.3 122.3h.6M432.1 128.6h.6M436.7 130.9h.6M438.2 124.1h.6M436.4 123.1h.6M435.8 127.7h.6M435 120.3h.6M428.8 133.4h.6M430.4 121.2h.6M435 122.5h.6M435.2 131.6h.6M427.4 124.9h.6M435.9 117.2h.6M436.4 132.2h.6M433.7 127h.6M432.4 129.6h.6M431.5 124.5h.6M430.9 120.7h.6M438.1 124.2h.6M437.1 116.2h.6M428.8 119.8h.6M441 130.6h.6M442.3 122.2h.6M435.9 126.4h.6M432.5 127.6h.6M433.4 127h.6M426.5 119.1h.6M429.6 133.3h.6M437 119.5h.6M435.5 121.5h.6M429.1 119.7h.6M445.3 125h.6M433.2 131h.6M434.6 118.7h.6M442 136h.6M436.7 120.1h.6M433.3 125.1h.6M429.2 138.3h.6M433.6 121.6h.6M432.5 122.8h.6M423.6 125.2h.6M438.2 125.7h.6M435.3 124.1h.6M426.7 127.6h.6M436.2 119.1h.6M429.1 121.5h.6M428.3 111.6h.6M432 121.4h.6M434 130.7h.6M430 116.4h.6M433.1 128h.6M439.2 129.4h.6M434.1 124.7h.6M426.7 128.1h.6M436.6 124.1h.6M432.4 126.6h.6M435.3 127.2h.6M435.2 116.6h.6M431.3 115.9h.6M436.7 137.9h.6M430.4 123.8h.6M434.5 120.8h.6M440.2 125.6h.6M442 136.4h.6M435.5 120.6h.6M438.7 123.1h.6M430.4 123.4h.6M438 120.3h.6M432.6 129h.6M432.4 129.1h.6M438.3 121.9h.6M428.9 118.3h.6M438.5 127.4h.6M433.8 122.5h.6M437.7 122h.6M444.2 126.2h.6M427.2 130h.6M434.5 124.4h.6M432.8 130.7h.6M431.6 132.6h.6M430.5 129.2h.6M427.6 129.5h.6M429.7 123.2h.6M436.5 120.5h.6M435.6 124.5h.6M438.6 129.1h.6M434.5 123.5h.6M430 131.8h.6M432.6 118h.6M430.4 114.7h.6M430.1 122.1h.6M434.5 129.2h.6M436.7 115.1h.6M431.6 127.6h.6M434.8 124.4h.6M430.4 128.1h.6M433.1 123.2h.6M433 123.3h.6M434.7 130.1h.6M433.8 121.2h.6M433 123.6h.6M435.4 128.4h.6M439.9 129h.6M426.8 120.1h.6M428.5 126h.6M442.7 126.8h.6M431.2 131.6h.6M435.9 120.2h.6M429.7 132h.6M436.4 113.6h.6M430.5 127.3h.6M428.1 124.4h.6M430 115.8h.6M431.4 121.7h.6M434.5 115.5h.6M434.4 122.5h.6M427.1 130.7h.6M431.7 126.6h.6M439.6 126.5h.6M437.1 125.5h.6M431.1 125.4h.6M427.2 126.9h.6M436.7 126.6h.6M430.8 118.2h.6M430.5 122.9h.6M427.8 134.3h.6M430.2 125.1h.6M431.6 125.1h.6M424.9 119.1h.6M433.3 124.2h.6M435 121.7h.6M436.6 125.6h.6M433.2 124.5h.6M437.6 124.3h.6M439.6 125.1h.6M434.4 124.4h.6M434.6 126.8h.6M430.9 128.5h.6M443.6 127.2h.6M433.9 120.3h.6M430.4 120.2h.6M434.4 120.9h.6M439.7 122.2h.6M429.9 119.7h.6M433 123.7h.6M437.1 120.7h.6M434.7 129.3h.6M432.3 115.5h.6M434.3 129.7h.6M434.9 124.5h.6M425.7 132.8h.6M432.6 118.3h.6M432.1 125.2h.6M433.6 119.8h.6M442.9 130.8h.6M437.3 127.7h.6M431.8 118.4h.6M428.3 129.9h.6M433.7 132.8h.6M424.4 131.3h.6M435.2 121.6h.6M436.9 121h.6M432.3 127.1h.6M434 125.9h.6M434.2 129.8h.6M430 114.1h.6M429.7 111.9h.6M441.1 121h.6M433.2 126.1h.6M430.3 121.8h.6M434.4 124.5h.6M436.6 123.2h.6M430.7 116.9h.6M426.7 125.8h.6M434.6 122.3h.6M438.2 110.5h.6M435.9 118.3h.6M432 123.2h.6M430.4 122.9h.6M434.5 136.8h.6M433.4 128.1h.6M436.6 119.5h.6M435.3 122.3h.6M436.9 121.4h.6M437.6 119.8h.6M431.5 128.8h.6M437.4 128.9h.6M441.3 129.7h.6M433.3 129.2h.6M430.1 128.6h.6M434.9 123.6h.6M430.5 129.9h.6M425.4 123.5h.6M427.8 122.6h.6M431.6 120.1h.6M430.9 125.9h.6M441.2 133.4h.6M432.6 122.2h.6M435.8 120.1h.6M427.5 129.4h.6M431.7 132.3h.6M434.7 116.9h.6M434.5 126.9h.6M433.6 117.3h.6M427.4 134.1h.6M422.2 119.4h.6M436.5 133.7h.6M435.9 124.3h.6M434.9 130.3h.6M431.3 131h.6M434.4 125.5h.6M435.1 126h.6M429.7 132.5h.6M431.4 123h.6M424 115.9h.6M435.6 123.9h.6M433 122.5h.6M435.8 121h.6M427.5 116h.6M430.2 126.1h.6M439.1 127.3h.6M430.7 117.5h.6M436.6 127h.6M433.1 127.6h.6M435.7 127.1h.6M438.6 116.4h.6M430.8 121.6h.6M429.4 134.7h.6M434.8 126.6h.6M436.5 123.2h.6M436.7 123.4h.6M436.4 127.3h.6M438.5 116.5h.6M429.7 120.5h.6M430.1 126.4h.6M437.2 122.6h.6M437.6 129h.6M431 127.9h.6M439.1 121.9h.6M424.7 127.3h.6M434.5 127.7h.6M435.4 124.2h.6M433.3 120.3h.6M441.1 132.5h.6M432.8 120h.6M435.1 132.7h.6M433.6 120.2h.6M437.1 125.8h.6M430.2 123.3h.6M434 118.7h.6M434.5 131.1h.6M437.6 130.9h.6M436.4 124h.6M435.8 130.8h.6M433.6 127.2h.6M430.9 124.5h.6M431.5 118.9h.6M435 136h.6M426.7 122h.6M434.2 120.6h.6M434.1 128.9h.6M427 124h.6M435.7 127.5h.6M440.6 125.6h.6M438.3 121.6h.6M429.9 121.7h.6M431.7 129.2h.6M436.4 124.6h.6M429.9 125.3h.6M431.8 122.6h.6M426.6 132.7h.6M435.7 140h.6M444.1 124.8h.6M442.2 122.4h.6M444.5 124.3h.6M426.2 124.5h.6M436.6 133.5h.6M437.3 133.8h.6M434.2 116.6h.6M434.1 119.9h.6M436.8 113.4h.6M429.6 118.5h.6M433.9 129.9h.6M432.3 117.7h.6M431.4 123.7h.6M438.1 125.2h.6M438.9 109.7h.6M440.5 136.1h.6M431.4 138.7h.6M427.3 129.5h.6M428.3 121.4h.6M435.5 125.7h.6M434.6 123.6h.6M426.1 116h.6M430.1 119.3h.6M431.6 115.6h.6M433 127.1h.6M431.5 131.6h.6M434.3 129.4h.6M429.9 125.7h.6M427.8 114.6h.6M426.5 122.4h.6M434.4 135.7h.6M434.7 122.6h.6M437.6 125.2h.6M433.5 125.3h.6M437.4 133h.6M427.8 125.1h.6M431.6 124.7h.6M442.9 123.4h.6M423.7 129.1h.6M431.6 119.7h.6M442.3 135.1h.6M437.5 125.9h.6M430.6 132.3h.6M432.5 125.8h.6M432.8 125.4h.6M425.6 118.1h.6M428.3 113.1h.6M428.8 121.9h.6M432.7 124.1h.6M431.7 130.1h.6M425.2 121.8h.6M432.5 120h.6M439 123.9h.6M437.9 127.4h.6M432.4 129.7h.6M427.6 118.1h.6M431.9 111.9h.6M431.7 123.5h.6M426.5 119h.6M428.2 137.1h.6M438.5 127.7h.6M434.3 131.6h.6M433.9 131.1h.6M437 135.7h.6M437.7 121.6h.6M435.9 130.5h.6M436.1 136.1h.6M434.6 122.3h.6M437 130.6h.6M433.4 127.3h.6M434 125.9h.6M434.9 122.4h.6M436.4 126.5h.6M440.4 126.1h.6M433.9 118.1h.6M442.5 123.3h.6M431.4 123.1h.6M433.5 124h.6M440.3 122h.6M432.6 122.2h.6M435.9 115.9h.6M437.5 122.6h.6M427.8 132.3h.6M428.2 128.2h.6M433.6 121h.6M426.8 120.8h.6M436.5 124.1h.6M431.2 129.6h.6M433.6 124.9h.6M430 117.2h.6M431.6 126h.6M431.8 126.1h.6M432.5 123.2h.6M433.3 126.3h.6M424.5 124.4h.6M432.7 122.1h.6M437.4 130.6h.6M438.1 128.3h.6M435.3 125.2h.6M436.5 121h.6M432.9 126.1h.6M432.9 117.9h.6M433.1 122.3h.6M430.9 127.7h.6M437.8 124.9h.6M428.9 123.5h.6M432.7 118.9h.6M431 125.2h.6M431.1 126.8h.6M428.2 127.9h.6M430.7 125.1h.6M433.5 121.7h.6M437.6 115.1h.6M434.2 127.8h.6M432.5 124.1h.6M428.9 124.2h.6M434.1 121.3h.6M433.5 122.5h.6M429.3 124h.6M430.3 129h.6M430.3 131.7h.6M433.3 124.2h.6M430.5 126.6h.6M429.3 116.3h.6M435.1 113.4h.6M438 121.6h.6M439.7 125.6h.6M440 116.7h.6M431.7 125.7h.6M431.2 124.7h.6M432.8 127.8h.6M439.2 113.1h.6M435.9 118.3h.6M440 116.6h.6M430.1 127h.6M432.7 127.9h.6M434.9 120.3h.6M426.9 130.4h.6M432.6 123.8h.6M432.2 123h.6M430.5 124.6h.6M434.4 117.8h.6M427.1 127.2h.6M436.9 121.5h.6M432.8 121.7h.6M435 123.9h.6M431.2 120.3h.6M435.2 126.2h.6M431.7 126.4h.6M420.9 122h.6M434.1 113.8h.6M431.1 125.6h.6M438.5 126.4h.6M428.4 128.9h.6M432.3 128.6h.6M427.8 115.8h.6M427 127.4h.6M438.2 125.6h.6M434.1 123.7h.6M434.2 119h.6M438.4 128.5h.6M437.3 123.9h.6M436.8 129.4h.6M443.6 129.9h.6M430.4 120.2h.6M437 126.9h.6M435.7 124.6h.6M430.2 125.1h.6M427.5 125.8h.6M442.7 128.1h.6M430 119.8h.6M443.2 127.7h.6M431.3 127.3h.6M432.1 118.8h.6M434 127h.6M438.7 117.8h.6M439.4 123.1h.6M425.4 129.5h.6M437.5 127.1h.6M436.8 119.7h.6M435.5 115.8h.6M430.8 137.4h.6M440.2 126.4h.6M435.5 124.8h.6M436 125.4h.6M429.7 122.5h.6M425.7 119.8h.6M432.8 126.3h.6M442.5 115.9h.6M442 122.1h.6M431.7 123.9h.6M442.4 118.7h.6M431.9 127.2h.6M437.3 126.4h.6M433.9 129.5h.6M429.5 132.5h.6M431.5 126.3h.6M429.7 121.2h.6M437.5 127.3h.6M432.7 128.5h.6M446.6 111.7h.6M425.1 125.3h.6M426.5 129.6h.6M430.1 124.3h.6M430.1 135h.6M439.7 115.6h.6M436.2 122.8h.6M439.5 126.1h.6M430.4 122.1h.6M433.7 133.1h.6M433.9 121.6h.6M431.8 128.7h.6M432.2 133.4h.6M437.1 125.1h.6M433.9 122.7h.6M423.8 130.5h.6M439.7 123.3h.6M434.6 117.4h.6M432.7 125.3h.6M433.2 124.6h.6M437.5 128.1h.6M436.7 121.4h.6M431.4 124.4h.6M426.9 116.9h.6M434.8 124.4h.6M433.8 130.5h.6M424.7 126.5h.6M432.5 117.6h.6M436.2 131.7h.6M427.4 124.6h.6M437.4 124.6h.6M431.6 129.4h.6M426.5 124.2h.6M430.8 124h.6M428.3 125.3h.6M438.5 126.7h.6M428.2 121.7h.6M430.4 116.7h.6M436.5 127h.6M432.7 132h.6M436.4 121.4h.6M433.6 123.7h.6M433.4 131.2h.6M438.7 119.4h.6M441.5 116.1h.6M432.4 137h.6M436.3 130.5h.6M434.1 127h.6M430.8 132h.6M432.7 121.7h.6M427.4 135.8h.6M427.4 119.1h.6M435.5 124.6h.6M440.6 127.7h.6M434.9 120.4h.6M435.7 117h.6M430.4 131.6h.6M434.6 118.4h.6M430.9 123.7h.6M434.8 125.5h.6M436.9 109h.6M436.5 114.7h.6M431.6 125.1h.6M437.8 121.2h.6M428 120.2h.6M434.6 136.9h.6M428.4 121.8h.6M430.6 130.3h.6M435.8 123.6h.6M434.8 132.6h.6M432.3 118.6h.6M433.6 118.1h.6M434.4 129h.6M432 129.3h.6M438.5 134h.6M432.1 127.5h.6M436.8 128.7h.6M437.4 127h.6M436.4 129.3h.6M435.5 127.5h.6M434.7 124.2h.6M426.1 124.1h.6M433.7 121.7h.6M431.7 131h.6M432.5 112.8h.6M431.4 123.9h.6M438.6 126.1h.6M435.7 121.7h.6M431.2 116.3h.6M436.1 124.7h.6M430.6 124.8h.6M438.1 129.4h.6M436.8 130.5h.6M434.5 124.6h.6M433.5 127h.6M426.6 126h.6M433.7 120h.6M431.3 130.5h.6M431.9 124.1h.6M439.6 119.5h.6M433.4 122.4h.6M431.4 123.6h.6M435.8 123.1h.6M437.4 128.4h.6M429.2 124.8h.6M432.8 117.9h.6M426.3 129.8h.6M434.7 130.9h.6M439.9 128.5h.6M435 131.1h.6M433 122.5h.6M437.5 127.9h.6M431.4 122.4h.6M428.4 135.3h.6M432 122h.6M431.1 121.9h.6M434 124.8h.6M436.7 111.7h.6M434.1 133.2h.6M433.7 121.5h.6M441.6 121.9h.6M436.3 125.8h.6M432.9 119.4h.6M434.2 125.6h.6M440.9 116.7h.6M427.3 127.4h.6M427.5 109.9h.6M432.2 130.4h.6M426.1 116.8h.6M439.5 120h.6M429.9 123.7h.6M440 123.5h.6M436.7 123.7h.6M429.2 125.9h.6M426.2 129.8h.6M427 125.2h.6M424.8 124h.6M435.2 120.7h.6M441.4 124.5h.6M435.3 116.9h.6M431.5 125.7h.6M436.5 127.5h.6M427.8 116.9h.6M429 130.3h.6M426.4 118.1h.6M434 124.2h.6M433.2 120.2h.6M434.9 123.9h.6M432.7 125.6h.6M432.6 123.5h.6M438.1 128.1h.6M433.8 125.2h.6M439 117.6h.6M425.7 124.6h.6M426.6 119h.6M434.4 125.5h.6M432.1 120.6h.6M427.6 120.8h.6M430.2 124.3h.6M437.2 122.9h.6M428.9 126.6h.6M438.4 126.1h.6M431.7 122.5h.6M432.2 119.1h.6M437.2 122.9h.6M441.2 130.7h.6M431.5 137.7h.6M431.6 120.4h.6M426.3 124.5h.6M435 122.6h.6M433 126.9h.6M430.3 124.2h.6M432.4 132.2h.6M436.2 123.9h.6M429.3 123.7h.6M430.3 122.6h.6M434.9 128.6h.6M437.5 121.5h.6M434.2 124.3h.6M436.9 135.7h.6M437.6 129.1h.6M434.5 127.1h.6M425.5 126.2h.6M432.9 124.3h.6M436.4 140.6h.6M434.6 118.3h.6M431.9 128.7h.6M436.3 125.5h.6M435.7 120.5h.6M439.5 113.9h.6M432.1 120.6h.6M431.6 125.6h.6M433.9 129.5h.6M441.1 127.1h.6M429.8 124.6h.6M430.4 120.5h.6M431.9 129.4h.6M430.3 126.2h.6M430.5 129h.6M438.1 117.2h.6M436.4 120.1h.6M434.8 124.1h.6M436.9 118.1h.6M441.1 126.3h.6M430.9 131h.6M438.9 127.2h.6M431.5 120.4h.6M429.9 132.8h.6M433.7 124.4h.6M432 130.8h.6M432.1 128.9h.6M426.4 120.5h.6M434.8 119.7h.6M441.2 114.1h.6M435.1 127.3h.6M435.3 124.2h.6M433.1 142.6h.6M434.6 121.4h.6M422.7 134.1h.6M433.4 133.8h.6M433.4 130.2h.6M438.9 121.7h.6M424.3 130.6h.6M441.2 116.9h.6M431.5 124.2h.6M432.5 127.7h.6M433 127.6h.6M430.2 116.5h.6M440.8 125.9h.6M435.1 118.6h.6M435.3 124.3h.6M435.4 125.2h.6M437.7 131.7h.6M432.1 122.6h.6M436.4 117.2h.6M430.7 122.7h.6M425.1 134.4h.6M432.4 123.5h.6M428.8 127.3h.6M431.7 118.5h.6M434.9 132.4h.6M427.6 124.4h.6M442.2 123.6h.6M430.7 132.8h.6M434.4 129.3h.6M440.1 127.9h.6M434.8 134.4h.6M427.5 118.8h.6M432.6 121.5h.6M432.8 115h.6M427 128.2h.6M432.7 126.7h.6M432 124.5h.6M427.5 133.6h.6M437.7 117.7h.6M431.7 126.4h.6M431.8 124.3h.6M434.3 115.1h.6M436.5 127h.6M429.6 123.6h.6M433.1 123.2h.6M433.7 116.8h.6M433.7 126.7h.6M435 126.9h.6M431.2 125.3h.6M437.4 125h.6M434.4 124.9h.6M435.6 118h.6M433.3 129h.6M429.9 127.5h.6M431.7 122.4h.6M429 119.9h.6M438.2 117.1h.6M434.1 117.6h.6M441.6 128.2h.6M430.3 118.8h.6M432.4 126.3h.6M440.1 132.1h.6M429.6 125.8h.6M437.2 121h.6M431.6 129.3h.6M428 124.8h.6M433.2 123.1h.6M433.6 116.2h.6M436.8 122.3h.6M441.3 134.8h.6M431.7 134.5h.6M439.2 120.5h.6M432.5 130.8h.6M430.6 122.8h.6M423.5 117.4h.6M428.8 120.9h.6M430.6 125.9h.6M434.5 122.7h.6M428 125.8h.6M436 124.3h.6M439 122.3h.6M436.9 126h.6M438.8 133h.6M428.9 115.3h.6M437.6 126.2h.6M434.9 122.3h.6M430.5 130.8h.6M435.4 121.8h.6M433.7 126.1h.6M428.3 121.4h.6M435.5 125.3h.6M428 126.2h.6M441.4 127.8h.6M428.2 122.2h.6M431 120.6h.6M430.2 121.6h.6M433.1 118.3h.6M437.2 126.3h.6M441.3 128.9h.6M437.3 127.3h.6M433.1 119.1h.6M436.2 125.1h.6M430.9 126.7h.6M434.8 121.3h.6M439.3 122.1h.6M434 130.1h.6M431.4 123h.6M435.3 123h.6M431.5 118.9h.6M434.4 122.7h.6M436.8 129.8h.6M433.4 128.6h.6M430.7 132.8h.6M431.3 124h.6M432 122.1h.6M436.7 124.6h.6M430 128.6h.6M433.7 127.6h.6M434.4 122.3h.6M426.3 123.1h.6M430 130.9h.6M432.6 132.2h.6M442.7 130.6h.6M443 119.9h.6M431.5 119.3h.6M428.2 118.1h.6M437.1 120.6h.6M432.2 127.6h.6M431.9 132.6h.6M438.2 128.3h.6M440.1 127.4h.6M434.3 130.3h.6M437.7 117.8h.6M437.9 129.9h.6M424.6 135.1h.6M434.2 131.9h.6M428.9 125.8h.6M430.8 120.4h.6M434.6 117.3h.6M433.4 128.2h.6M430.5 119.2h.6M435.8 129.4h.6M437.1 122h.6M431.9 131.7h.6M437 126.4h.6M434.4 123.9h.6M435.9 128.3h.6M433.7 126.1h.6M428 124h.6M439.8 125.8h.6M428.1 122.4h.6M433.9 132.1h.6M442 124.5h.6M432.9 125.4h.6M429.1 131.4h.6M428.8 128.5h.6M431.7 119.5h.6M434.8 133.2h.6M428.7 125.8h.6M430.8 130.2h.6M427.7 118.3h.6M432 118.2h.6M437.4 117.2h.6M433.8 122.2h.6M437.4 122.1h.6M432.8 133.3h.6M436.1 131.1h.6M439.1 127.3h.6M434.8 116.2h.6M426.7 122.7h.6M434.7 130.4h.6M430.5 123.1h.6M441.8 119.1h.6M432.8 124.2h.6M430.8 132.4h.6M427.2 123.3h.6M426.9 121.2h.6M439.7 114.6h.6M426.9 124.8h.6M434.9 121h.6M435.3 123.8h.6M432 125.2h.6M438.4 118.8h.6M436.9 126.2h.6M432.7 121h.6M434.9 128.8h.6M429.8 128.5h.6M433.6 129h.6M434.6 123.7h.6M434.3 128h.6M427.8 124.8h.6M423.9 125.8h.6M431.6 124.9h.6M437.5 129.5h.6M439.2 129.5h.6M432.7 120.7h.6M443.7 121.3h.6M432.1 126.9h.6M430.3 125.5h.6M434.3 122h.6M429.4 124.9h.6M435.2 119.7h.6M434 125.3h.6M430 126.9h.6M428.1 129.4h.6M430.7 129.9h.6M433.9 125h.6M428.2 128.6h.6M429.2 136h.6M435.2 125.8h.6M433.6 128.2h.6M435.3 126.8h.6M437 124h.6M439.9 117.1h.6M427 127.7h.6M433.4 117.1h.6M428.7 121.1h.6M438.5 128h.6M426.9 117.9h.6M434 118.5h.6M431.1 121.8h.6M433.7 127.7h.6M430.7 122.1h.6M434.6 133h.6M435.1 122.9h.6M437.2 124.1h.6M428.1 128.1h.6M440 119.1h.6M436.5 118.5h.6M433.2 124.2h.6M432.1 124.2h.6M436.2 122.2h.6M432.6 123.2h.6M434.6 121.5h.6M436.6 126.3h.6M431.2 118.2h.6M432.5 129.9h.6M436 124.8h.6M441.5 132.6h.6M435.6 131.8h.6M432.5 122.9h.6M434.4 115.1h.6M433.6 122.2h.6M438.9 127.6h.6M439.7 122.4h.6M439.4 125.5h.6M435.6 126.8h.6M428.5 129.4h.6M431.7 128h.6M433.3 119.7h.6M432.3 126.2h.6M432.3 133.4h.6M438.3 125.2h.6M432.1 132.1h.6M433.7 130.6h.6M428.1 114.6h.6M436.6 129.4h.6M432.9 123.9h.6M435.4 127.4h.6M433.2 124.8h.6M434.5 130.2h.6M436.4 111.5h.6M434.9 123.2h.6M437.8 128.4h.6M431.4 124.3h.6M424.3 124.1h.6M429.2 125.3h.6M430.7 131h.6M438.7 122.9h.6M430 131.3h.6M428.2 122.9h.6M432 126h.6M433.7 120h.6M437 126.6h.6M434.8 132.8h.6M441 126h.6M431.9 123.3h.6M433.1 119.2h.6M430.7 122.1h.6M435.6 128.5h.6M423.8 116.5h.6M431.1 119.2h.6M433.4 115.7h.6M432.6 125.7h.6M435.1 122.5h.6M435.2 128.5h.6M432.1 119.3h.6M431.5 126.2h.6M434.6 116.1h.6M427.6 116.5h.6M440.7 126.9h.6M434.2 118.6h.6M425.1 135h.6M436 112.1h.6M439.9 126.7h.6M433.3 126h.6M437.1 114.5h.6M434.6 118.1h.6M431.9 123.6h.6M431.8 120.9h.6M434.2 122.6h.6M434.6 128.5h.6M430.1 123.7h.6M430.1 128.8h.6M436.4 129.9h.6M437.7 125.3h.6M429.6 120.8h.6M438.3 125.3h.6M436.7 121.7h.6M432.6 134.5h.6M437.4 116.6h.6M430.8 125.4h.6M437.7 129.6h.6M436.9 130.9h.6M436.3 129h.6M430 118.5h.6M431.5 131.1h.6M438.9 119.2h.6M432.4 125.1h.6M435.8 126.4h.6M439.4 126h.6M432.7 123.4h.6M437.8 123.4h.6M435.6 122.6h.6M428.9 113.7h.6M432.4 120.6h.6M436.7 122.8h.6M429.8 128.4h.6M431.8 135.3h.6M431.7 125h.6M430.4 132.5h.6M434.7 123.5h.6M433.1 114.1h.6M438.5 124.7h.6M438.1 120.4h.6M439.3 121.3h.6M433.6 135h.6M431.5 124.8h.6M432.9 125.2h.6M434.1 123.9h.6M435.2 122.4h.6M438.8 128.2h.6M429 122h.6M432.2 129.5h.6M425.8 130.3h.6M425.7 121.5h.6M430.1 122.9h.6M436.6 129.4h.6M433.1 123.6h.6M429.6 130.6h.6M431.6 138.5h.6M427.3 121.3h.6M436.2 134h.6M432.3 126.9h.6M431.1 125.8h.6M425.1 128h.6M431.4 126.9h.6M433 119.7h.6M427.3 119.6h.6M433.3 128.4h.6M438 129.6h.6M441.7 129.7h.6M440.6 128.7h.6M434.8 115.9h.6M437.4 124h.6M432 117.9h.6M438.5 124.6h.6M431.8 120.7h.6M433.2 126.9h.6M435.9 125.2h.6M434.4 125h.6M431.8 130.5h.6M433 121.7h.6M440.3 119.9h.6M431.7 125.3h.6M432.8 124.2h.6M437.3 129.8h.6M428.2 134.2h.6M428.8 119.4h.6M436.2 119.5h.6M428.7 128.9h.6M435.5 126.6h.6M439.1 130h.6M431.7 122.3h.6M435.2 122.5h.6M434.5 129.1h.6M434.5 117.5h.6M440.1 124.3h.6M434.9 116.3h.6M433.4 118.1h.6M439.8 122.2h.6M428 124h.6M429.8 125h.6M429.8 115.9h.6M432.7 123.1h.6M430.3 128.1h.6M436.9 124.2h.6M433.2 126.5h.6M437.2 125.6h.6M429 127.9h.6M442.9 127.9h.6M434.8 121.8h.6M427.4 127.3h.6M435.8 126.9h.6M434.1 131.2h.6M433.1 115.1h.6M432.9 125.5h.6M436.6 127.5h.6M436.3 127h.6M434.7 118.7h.6M432.2 129.8h.6M440 111.1h.6M432.9 122.5h.6M436.9 114.7h.6M431.3 125.6h.6M430.3 115.9h.6M440.9 123.4h.6M433.8 127.8h.6M441 121.1h.6M432.9 122.9h.6M437.3 129.4h.6M439.8 122.4h.6M428.7 121.4h.6M425.9 126.4h.6M425.3 126.8h.6M429.3 126.8h.6M439.4 124.1h.6M432.9 124.9h.6M431 126.4h.6M432.5 125.5h.6M430.2 127.4h.6M434.8 120.3h.6M433.2 117.6h.6M427.8 119h.6M435.1 122.6h.6M433.3 126h.6M432.3 123.7h.6M431.2 135.7h.6M430.2 127.7h.6M432.5 133.8h.6M428.9 124.2h.6M435 122.2h.6M441.9 126h.6M435.1 116.1h.6M435.1 118.5h.6M435.7 126.5h.6M433 121.8h.6M430.2 121.4h.6M439.6 120.6h.6M432.2 126.7h.6M428 122.5h.6M438 125.9h.6M435.7 128.3h.6M433.3 112.6h.6M436.5 127.5h.6M424 123.6h.6M439.1 118.7h.6M437.2 132h.6M433 123.3h.6M429.4 127.9h.6M434.4 127.5h.6M433.2 124.9h.6M431.1 130.1h.6M432.9 131h.6M437 120.9h.6M429 129.9h.6M435 122.8h.6M437.6 114.4h.6M435.7 122.8h.6M436.4 121.7h.6M431.6 128.1h.6M434.9 117.3h.6M435.5 128.2h.6M426.9 119.8h.6M428.9 119.7h.6M430.7 134.3h.6M429.4 119.8h.6M432.4 131.3h.6M431.8 129.5h.6M437.5 122.5h.6M435 129.7h.6M434.3 132.8h.6M435 132.7h.6M429.5 125.8h.6M423.9 117.4h.6M431.2 122.6h.6M432.5 127.3h.6M427.7 115.9h.6M436.4 126.2h.6M437.2 128.9h.6M434.7 122h.6M435.4 119.9h.6M428.2 122.9h.6M442.3 119.7h.6M438.7 123.7h.6M440.3 122.1h.6M428.7 121.3h.6M432.6 127.5h.6M430.6 125.7h.6M442.8 124.7h.6M436 138h.6M430.4 124.6h.6M432.1 126h.6M430.2 123.1h.6M436.3 124.7h.6M425.7 130.4h.6M434.9 134.4h.6M430.1 126.4h.6M429.8 128.6h.6M431.1 131.2h.6M433.8 113.6h.6M428.9 128h.6M436.4 129.7h.6M435.4 122.3h.6M433.9 124.9h.6M433.5 129.7h.6M429.7 123.1h.6M438.6 123.9h.6M435.6 121.9h.6M433.6 131.2h.6M439.8 124.8h.6M430.9 132.2h.6M425.9 123.7h.6M436.3 136.6h.6M437.6 123.9h.6M433.1 124.3h.6M429.6 122.5h.6M434.7 116h.6M430.2 109.5h.6M437.1 125.2h.6M426.8 117.1h.6M430.6 132.9h.6M435.3 118.9h.6M431.4 116.3h.6M429.6 115.8h.6M440.6 128.2h.6M438.6 126.9h.6M430.4 129.6h.6M435.3 121h.6M426.8 124.4h.6M428.5 123.1h.6M425.2 115.2h.6M437.2 127.4h.6M433.9 123.2h.6M434.2 119.7h.6M436.5 132.7h.6M431 116.7h.6M433.4 115.8h.6M441.3 124h.6M435 125.5h.6M431.3 120.8h.6M429.1 134.7h.6M433.7 130.1h.6M439.4 123.1h.6M431.3 122.5h.6M434.9 119.5h.6M437.2 123.3h.6M430.3 128.1h.6M439.1 120h.6M432.6 121.6h.6M437.2 129h.6M433 115.8h.6M429.9 129.7h.6M445.8 124.3h.6M428.4 142.5h.6M441.3 117.3h.6M425.5 115.8h.6M453.1 132.6h.6M427.3 116.9h.6M431.4 112.9h.6M437.6 114.4h.6M432.2 127.4h.6M432.2 130.5h.6M430.4 132h.6M429.5 118.3h.6M424.2 125.5h.6M438.3 123h.6M443.2 127.9h.6M436.1 110h.6M432.6 125.7h.6M426 134.3h.6M435.9 134.6h.6M425.7 136.9h.6M442.8 124h.6M431.5 135.5h.6M427.4 121.2h.6M441.2 122.2h.6M428.5 113.9h.6M430.6 132.8h.6M451.8 115.2h.6M425.8 127.8h.6M432.6 119.6h.6M432.8 133.3h.6M438.9 117h.6M437.1 113.3h.6M441.2 107h.6M430.9 130h.6M445.1 126.9h.6M420.8 121.3h.6M439.9 127.9h.6M436.3 118.4h.6M421.1 119.1h.6M434.8 117.6h.6M428.2 125.9h.6M431.6 124.3h.6M440.8 117.3h.6M440.3 114h.6M439.6 126h.6M437.1 128.6h.6M435.2 109.2h.6M444.9 124.6h.6M435.2 123.3h.6M436.4 121.1h.6M425 113.6h.6M445.5 127.7h.6M426.7 135.5h.6M435.7 114.1h.6M428.7 117.7h.6M441.3 128.8h.6M432.2 121h.6M429.1 123.8h.6M427 129.8h.6M433.2 130.3h.6M444.1 125.3h.6M439.6 98.8h.6M427.7 124.8h.6M428.1 131.4h.6M431.7 121.5h.6M419.9 128.2h.6M430.5 133.1h.6M437.2 122.4h.6M439.6 120.8h.6M428.4 122.5h.6M432.3 131.4h.6M429.3 114.4h.6M442.8 129.9h.6M431.4 123.9h.6M423.2 136h.6M430.3 105.8h.6M433 126.9h.6M438.2 124.8h.6M435.5 121.6h.6M433.3 121h.6M450.3 123.5h.6M434.8 106.6h.6M433.6 127.3h.6M438.5 110.6h.6M433.4 135.4h.6M432.6 121.3h.6M437.8 122.2h.6M430.4 117.8h.6M422.5 124.3h.6M437.6 127.7h.6M428.9 126.2h.6M427 110h.6M438.1 112.8h.6M424.7 120.3h.6M431.7 135.1h.6M440.7 139.4h.6M435.1 109.9h.6M425.4 125.1h.6M424.8 126.3h.6M440.8 127.6h.6M422.7 131.8h.6M445.2 131.1h.6M449.5 116.5h.6M433 129.7h.6M440.5 134.7h.6M432.9 117.4h.6M432.5 117.2h.6M434.5 120.2h.6M439 117.3h.6M440 116.7h.6M442 132.6h.6M433.7 121.2h.6M436.2 126.5h.6M427.1 128.5h.6M421.6 113.6h.6M426 124.5h.6M428.4 104.1h.6M441 118.3h.6M431.7 125.6h.6M436.2 127.6h.6M425.4 125.4h.6M440.3 128.9h.6M443.6 111.4h.6M441.9 111.4h.6M426.5 124.5h.6M449.4 132.5h.6M433 123.6h.6M441.1 113.1h.6M431.6 118.2h.6M441.8 127.4h.6M436 132.6h.6M432.3 115.7h.6M439.9 108.3h.6M435.8 122.8h.6M423.3 124.5h.6M428.2 133.8h.6M439 130.1h.6M440.4 122.9h.6M441.3 127.8h.6M437.7 131.5h.6M447 109.5h.6M430.9 111.3h.6M425.7 128.5h.6M427.5 121.3h.6M430.2 130.7h.6M444.6 123.9h.6M429.4 118.4h.6M432.7 110h.6M425.9 124.5h.6M435.6 124.3h.6M436.2 117.1h.6M433.2 114.9h.6M435.5 107h.6M437.4 124.8h.6M431.2 124.2h.6M440.7 123.5h.6M446.7 132.6h.6M434.7 121.4h.6M426.2 114.4h.6M435.3 123.9h.6M436.3 136.3h.6M436.7 126.1h.6M432.5 114.3h.6M431 122.2h.6M438.7 128.4h.6M427.3 122.1h.6M439 111.6h.6M432.4 111.4h.6M429.5 132.1h.6M436.4 140.2h.6M427.2 130.2h.6M432.9 110.3h.6M435.3 124.8h.6M432.2 132.6h.6M432 128.8h.6M434 118.8h.6M436.5 131.4h.6M443.4 132.4h.6M422.9 112.4h.6M432.3 132.4h.6M421.6 124.1h.6M426.3 129.2h.6M440.8 120.8h.6M442.9 128.9h.6M433 134.5h.6M448 122.3h.6M435.7 125.7h.6M439.4 119.8h.6M432.6 132.4h.6M433.3 133.6h.6M435.9 136.6h.6M443.8 113.9h.6M438.6 121.1h.6M430.2 130h.6M441 127.2h.6M441.3 136h.6M436.5 128h.6M437.3 135h.6M428.4 122.5h.6M426.3 118.7h.6M436.5 120.3h.6M429.2 121.2h.6M441.5 139.6h.6M435 117.3h.6M435.4 118.2h.6M436.3 128.6h.6M446.8 117.2h.6M433.3 116.5h.6M441.2 115.6h.6M442.6 137.5h.6M423.1 131.8h.6M449.1 124h.6M433.8 139.2h.6M432.8 122.4h.6M428.3 128.3h.6M442.8 117h.6M439.6 127.2h.6M444.4 122.4h.6M429.2 125h.6M437.2 121h.6M428.1 128.3h.6M423.8 114h.6M433.4 112.4h.6M437.5 110.4h.6M433 126.5h.6M443 116.5h.6M436 132.7h.6M428.9 126.2h.6M441.6 132.1h.6M433.8 126.1h.6M429.6 127.6h.6M437 119.1h.6M449.8 128.4h.6M428.8 123.5h.6M437.4 114.9h.6M428.3 129.2h.6M433.8 122.7h.6M441 121.1h.6M424.5 114.3h.6M433.2 121.7h.6M431.7 116.2h.6M422.8 121.2h.6M437 125.4h.6M438.3 146.7h.6M426.6 118.3h.6M435.3 104h.6M438.8 122.4h.6M455 122.5h.6M433.5 123.3h.6M432.7 117.9h.6M441.4 125.9h.6M436.3 121.1h.6M421.8 119.5h.6M419.5 118.2h.6M436.5 121.1h.6M434.7 135.8h.6M437.8 131.2h.6M432.1 120.6h.6M425.1 135h.6M441.6 122.6h.6M437.2 125.2h.6M443.1 127.3h.6M433.5 114.8h.6M418.1 104.5h.6M432.6 132.7h.6M429.5 121.3h.6M438.2 136h.6M418.8 122h.6M430.9 129.7h.6M431.6 109.2h.6M418.7 109.8h.6M431.4 114.6h.6M425.1 139h.6M424.2 120.7h.6M442 123.1h.6M420.8 123.2h.6M433.9 133.9h.6M428.7 110.8h.6M431.5 114.2h.6M435.4 128.3h.6M433.6 122.7h.6M426 112h.6M436 134.3h.6M439.4 142.5h.6M427.5 106h.6M433.7 125.2h.6M428.5 107.9h.6M443 107.9h.6M437.4 129.8h.6M442.7 122.6h.6M440.2 121.1h.6M438.9 133.7h.6M433.8 109.1h.6M436.9 99h.6M443.2 118.1h.6M430.4 131h.6M439.8 127h.6M430.2 128.8h.6M435 120.2h.6M428.8 126.9h.6M429 133.5h.6M422.2 115h.6M435.2 109.4h.6M446.3 111.8h.6M430 119.7h.6M435.2 134.2h.6M431.2 118.9h.6M442.5 122.9h.6M439.2 123.4h.6M430.6 118.1h.6M427.5 116.7h.6M435.2 122.6h.6M439.2 123.9h.6M436.7 116h.6M423.2 131.2h.6M445.8 120.7h.6M439.7 115.9h.6M428 126.1h.6M439.7 127.6h.6M441.3 123.7h.6M433.1 123.8h.6M428.2 120.1h.6M423 113.6h.6M439.2 118.6h.6M419 113.8h.6M439.2 122.5h.6M433.4 127.7h.6M441.6 120.6h.6M435.6 139h.6M438 118.7h.6M428.5 119.3h.6M441.7 106.5h.6M438.2 119.6h.6M438.2 124.5h.6M423.6 119.1h.6M420.8 121.8h.6M428.9 130.3h.6M421.9 125.3h.6M427.5 119h.6M422.8 137.8h.6M432.5 123.6h.6M449.1 109.1h.6M433.3 115.5h.6M432.2 119.7h.6M437.4 129h.6M434.4 132.5h.6M431.8 112.7h.6M422.7 129.8h.6M431.7 126.8h.6M438.7 115.7h.6M442.6 128.9h.6M444.9 128.7h.6M426.4 127.6h.6M434.8 111.5h.6M439.8 121h.6M436.7 136.2h.6M442.7 119.7h.6M438.9 131.3h.6M435 131.7h.6M437.8 119.4h.6M443.3 121.1h.6M430.9 120h.6M422.2 131.5h.6M426 108.4h.6M436.2 105.4h.6M432.1 129h.6M436.3 126h.6M432.1 115.4h.6M435.9 129.3h.6M433.6 130.8h.6M418 115.6h.6M416.6 119.6h.6M435.1 112.8h.6M430.4 122.3h.6M428.6 121.2h.6M440.4 123.1h.6M440.9 126.6h.6M430.6 123.6h.6M440.1 118.5h.6M429.6 132.9h.6M439.5 128.2h.6M430.5 121.6h.6M436.6 126.3h.6M439.8 114.2h.6M439.9 115h.6M427.7 119.1h.6M430.5 131.4h.6M442 140h.6M429.5 124.2h.6M442.7 109.2h.6M439.3 138.2h.6M440.5 117.1h.6M433.4 124.2h.6M429.5 114.7h.6M441.7 116h.6M441.1 114.4h.6M428.8 104.6h.6M417.4 138h.6M429.7 119.9h.6M439.7 111.4h.6M434 132.1h.6M439.4 134.9h.6M433.1 110.8h.6M434.1 127.3h.6M427.2 120.5h.6M433.8 140.7h.6M429.7 116.7h.6M432.7 117.9h.6M434.3 118.8h.6M425.8 117.4h.6M421.3 136.6h.6M443.2 122.1h.6M435.4 128.5h.6M436.2 115.8h.6M428.2 129.5h.6M432.3 126.4h.6M431.4 130.1h.6M433.1 125h.6M437.8 106.8h.6M440.1 133.7h.6M430.9 109.9h.6M436.6 115.9h.6M427.5 135.6h.6M433.3 114.3h.6M425.5 126.1h.6M436.3 126.2h.6M426.5 117.5h.6M433.9 119.8h.6M434.5 120.3h.6M433.7 124.5h.6M438.3 133.4h.6M433.7 106.6h.6M443.5 110.8h.6M435.7 132.7h.6M438.2 133.7h.6M434.1 140.8h.6M437.5 109.8h.6M438.8 120.4h.6M441.2 117.3h.6M439.6 112.6h.6M432.2 122.1h.6M441.6 116.5h.6M436.2 132h.6M422.1 135.5h.6M433.4 124.7h.6M446.9 122.6h.6M438.8 133.2h.6M443.7 132.9h.6M430 126.1h.6M424.6 113.1h.6M432 120.5h.6M430.3 116.8h.6M445.2 112.4h.6M437.5 112.8h.6M436.1 116.2h.6M422.8 106.7h.6M441.8 133h.6M432.2 121.6h.6M436.3 110.4h.6M438.2 147.2h.6M431.1 109.6h.6M430.2 123h.6M432 137.1h.6M438.2 118.3h.6M435.6 119.3h.6M428.9 135.4h.6M432.9 118.3h.6M443.4 120.7h.6M440.7 101.6h.6M438.6 113.8h.6M431.5 130.3h.6M445.6 104.3h.6M442.8 120.5h.6M430.9 131.5h.6M433.2 118.4h.6M432.6 121.2h.6M430.7 131.8h.6M444.9 115.6h.6M429.7 121.9h.6M429 123.8h.6M435 122.9h.6M429.2 125.4h.6M425.6 119.8h.6M433 123.3h.6M439.5 121.5h.6M427.4 126.3h.6M433.1 129.3h.6M444.9 135.3h.6M433.9 115h.6M435.5 121.4h.6M429.1 110.5h.6M441.6 115h.6M440.8 131.6h.6M427.8 126.2h.6M433.5 111.1h.6M429.9 124h.6M440.3 117h.6M432.6 131.4h.6M431.3 117.4h.6M424 126.4h.6M429.3 115h.6M430.9 116.8h.6M453.1 118.4h.6M439 112.5h.6M439.6 125.8h.6M431.5 141.1h.6M427.7 114.1h.6M415.1 104h.6M429.3 122.4h.6M439.1 122.2h.6M428.9 115h.6M444.7 119.2h.6M445.4 122.1h.6M431.5 119.9h.6M437.2 129.4h.6M431.5 127h.6M425.5 109.6h.6M423.5 119.1h.6M429.6 128.6h.6M431.6 119.4h.6M432 111h.6M425.8 138.5h.6M437.7 111.1h.6M425.9 125.8h.6M419.5 104.1h.6M430.8 118.2h.6M439 114.2h.6M425.5 126.4h.6M427.6 124.1h.6M421.5 119.8h.6M445.8 111.2h.6M433.5 121.9h.6M434.8 121.7h.6M438.8 117.4h.6M427.8 124.5h.6M435.4 108.1h.6M438.8 119.8h.6M440.3 122.9h.6M425.8 119.8h.6M438.4 131.3h.6M432.8 128.1h.6M442.6 125.3h.6M443.4 128.2h.6M427.7 112.8h.6M428.5 136.8h.6M441.6 115.5h.6M433.8 139.8h.6M428.6 123h.6M431.6 129.9h.6M421.6 125.7h.6M435.2 132.2h.6M436.8 126.1h.6M427.7 125.2h.6M430.6 137.7h.6M436.1 123.3h.6M435 123.6h.6M431.4 128.3h.6M433.9 115.7h.6M439.8 129.1h.6M441.4 119.7h.6M440.1 135.3h.6M438.3 126.3h.6M433.7 110.3h.6M427.3 122.5h.6M440.9 127.3h.6M430.5 124.8h.6M433.3 117.1h.6M433.8 130h.6M426.6 119.7h.6M433.8 114.8h.6M427.9 126.7h.6M448 123.7h.6M430.6 136h.6M435 107.7h.6M430.4 107.3h.6M431.9 134.9h.6M447.3 149.8h.6M440.5 120.4h.6M429.8 119.9h.6M427 115.5h.6M436.3 124.2h.6M435.3 121.8h.6M424.4 127.7h.6M434.2 129.7h.6M435.1 115h.6M440.2 129.5h.6M432.4 128.9h.6M437 119.3h.6M435.5 117h.6M442.8 119.5h.6M440.3 137.7h.6M434.4 128.6h.6M443.6 107.9h.6M448 128.1h.6M426.2 124.5h.6M448.1 124h.6M463.1 126.1h.6M447 122.2h.6M466 115.8h.6M452.9 117.1h.6M447.8 119h.6M435.1 116.6h.6M438.4 114.8h.6M447.5 125.9h.6M443.3 125h.6M448.8 115.8h.6M438.6 121h.6M451.4 124.6h.6M447.2 108.6h.6M456.5 127.6h.6M452.3 120.9h.6M456 121.6h.6M472.7 119.6h.6M456.2 125.2h.6M456.4 110.7h.6M455.3 118.3h.6M444.1 125.4h.6M446.8 122.4h.6M446.5 123.5h.6M462.8 115.4h.6M445.8 125.4h.6M444.9 126.1h.6M455.2 115.1h.6M447.6 127.6h.6M458.9 121h.6M453.9 126.3h.6M447.2 122.1h.6M455.8 127.6h.6M449.2 119.2h.6M454.2 119h.6M450.1 123.3h.6M448.2 118.7h.6M454.2 120.9h.6M449.2 119.8h.6M442.5 116.1h.6M446.4 114.2h.6M464.2 131.9h.6M450.2 119.7h.6M451 118.2h.6M447.6 125.3h.6M456.3 113.1h.6M453.8 115.6h.6M457.1 116h.6M454.5 116.1h.6M450.6 122.3h.6M457.6 112.6h.6M447.7 115.7h.6M438.6 121.6h.6M450.3 118.6h.6M445.6 130.1h.6M445 105.7h.6M449.2 121.8h.6M443.5 119.5h.6M433.7 118.8h.6M452.5 115h.6M443.3 114.3h.6M447.8 126h.6M452.8 116.8h.6M448.1 124.5h.6M446.7 115.2h.6M458.2 120.2h.6M462.5 118.8h.6M449.6 122.5h.6M453.6 120.4h.6M444.5 116.5h.6M446 117.4h.6M462.2 115.2h.6M455.7 122.6h.6M439.7 125.8h.6M453.8 122.2h.6M453.6 125.7h.6M455.1 116.6h.6M447 115.4h.6M445.8 115.4h.6M453.8 125.5h.6M450.4 125.8h.6M461 123.9h.6M439 105.9h.6M460.6 122.9h.6M440.8 116.1h.6M453.8 120h.6M441.8 119.8h.6M440.3 118.8h.6M456.9 121.6h.6M447.4 123.6h.6M467.4 118.6h.6M453 112.2h.6M458.3 111.2h.6M450.3 125.2h.6M456.7 102.1h.6M445.6 106.7h.6M449.6 112h.6M469.9 126.7h.6M444.1 118.4h.6M452.5 125.5h.6M463.1 123.8h.6M441.9 102.6h.6M439.7 113.7h.6M458.1 112.7h.6M462.2 124.5h.6M452.6 124.7h.6M446.3 125.9h.6M452.8 116.8h.6M445.7 108.5h.6M449.4 123h.6M448.8 117.6h.6M465.7 136h.6M441.2 127h.6M451.8 120h.6M445.4 118.6h.6M454.4 122.4h.6M447.4 117.1h.6M457.2 128.4h.6M448.6 122.9h.6M457.9 122.1h.6M444.6 120.2h.6M452.7 113.9h.6M452.4 120h.6M446.4 129.2h.6M454.5 115.3h.6M461.6 118.5h.6M444 113.4h.6M460.6 113.5h.6M454.7 122.7h.6M447.5 124.2h.6M460.3 119.7h.6M452 123.8h.6M452.6 127.4h.6M458.1 120.6h.6M453.9 117.9h.6M457.4 116h.6M451.8 113.1h.6M471.1 121.7h.6M452.5 122.7h.6M438.7 128.2h.6M438.9 123.6h.6M448.9 124.2h.6M457.2 121.5h.6M460.1 118.3h.6M454 118.3h.6M446.6 114h.6M455.1 129.6h.6M445.3 117.3h.6M446.5 122.3h.6M436.1 121h.6M446.2 114.5h.6M454 121.2h.6M454.4 126.9h.6M440.8 126.3h.6M456.4 133.7h.6M463.1 122.9h.6M436.5 121.5h.6M464.3 124.7h.6M451.5 113.2h.6M452.5 111.9h.6M445.7 117.8h.6M455.4 116.5h.6M451.5 119.9h.6M454.2 123.5h.6M455.9 118.5h.6M453.4 116.6h.6M442.3 116.8h.6M451.9 108.7h.6M458.3 122.1h.6M439.5 114.3h.6M444.9 107.3h.6M438.1 122.4h.6M436 132.4h.6M463.3 128.8h.6M456.1 126.6h.6M462.7 114.6h.6M464.7 115.6h.6M449.2 105.3h.6M449.4 110.4h.6M470.3 122.1h.6M459.2 117.3h.6M459.6 123.1h.6M449 123.1h.6M448.7 112.8h.6M435.7 110.8h.6M456.8 131.1h.6M448.2 116.6h.6M462.6 119.2h.6M454.8 120.1h.6M432.3 112.4h.6M454.6 120.6h.6M449.8 112.5h.6M453.1 118.4h.6M443.9 118.7h.6M454 132.2h.6M461 114.9h.6M458.4 111.2h.6M432.9 115.6h.6M467.7 124.2h.6M446.3 122.3h.6M435.1 118.9h.6M444.1 112.9h.6M448.8 115.5h.6M454.6 112.8h.6M455.2 122.6h.6M458.7 123.7h.6M457.7 126h.6M462.3 126.1h.6M461.7 112.5h.6M449.9 128.3h.6M447.1 124.2h.6M460.7 127.7h.6M447.1 121.4h.6M451 123.7h.6M436.4 119.6h.6M461.6 119.9h.6M460.3 128.1h.6M453.3 117.6h.6M447.5 113.2h.6M448.5 118.9h.6M459.9 116.1h.6M446.4 119.7h.6M450.3 127.3h.6M452.2 128.1h.6M452.8 105.1h.6M450.6 113.7h.6M452.2 114.7h.6M459.5 118.4h.6M449.1 131.9h.6M449.4 117.4h.6M449.3 124.2h.6M449.2 110.7h.6M464.3 98.8h.6M457.2 125.5h.6M450.2 100.8h.6M442.8 130.9h.6M400.8 138.3h.6M429.9 127.7h.6M453.8 118.1h.6M453.8 101.1h.6M471.7 111.2h.6M458.7 106.3h.6M439.9 130.4h.6M429.3 109.5h.6M431.6 80.2h.6M461.3 110.5h.6M415.1 108.8h.6M483.5 129.9h.6M441.6 116.9h.6M440.7 114.5h.6M443.1 113.7h.6M437.6 126.2h.6M425.8 78h.6M417.7 97.4h.6M447.1 120.7h.6M458 81.4h.6M419.6 121.8h.6M474.2 121.8h.6M443 129.5h.6M472.2 128.8h.6M448.6 104.5h.6M436.2 102h.6M425.5 116.7h.6M462.1 104.7h.6M457.9 122.7h.6M443.2 109.2h.6M469.6 96.1h.6M433.9 102.4h.6M432.9 120.7h.6M455.1 104.9h.6M455.7 76.6h.6M447 154.6h.6M461.1 91h.6M459.7 98h.6M455.2 123.1h.6M422 144.7h.6M422.7 101.9h.6M456.5 121.7h.6M448.9 104.2h.6M458.4 117.2h.6M440 131.3h.6M470.9 99.2h.6M438.8 90.6h.6M425.7 113.7h.6M461.1 83.4h.6M441.5 116.5h.6M435.8 126.6h.6M455.2 109.3h.6M464.6 117h.6M463.4 121.9h.6M441.3 138.7h.6M434.3 117.5h.6M440.1 94.9h.6M424.4 132.3h.6M467.5 131h.6M413.4 122.7h.6M447.3 121.8h.6M449.8 121.7h.6M453.1 130.8h.6M448 100.5h.6M409.6 116.2h.6" stroke="#0c3f0e" stroke-width="0.65" stroke-opacity="0.6" fill="none"/>
<text x="289" y="180.8" font-size="8.4" fill="#2a2a2a" stroke="#2a2a2a" stroke-width="0.18">HA-tag-PE</text>
<path d="M334.6 178.3 L495 178.3" stroke="#44547a" stroke-width="0.8" fill="none" marker-end="url(#ah)"/>
<text x="547.5" y="14.6" font-size="13.8" fill="#000" font-weight="bold" stroke="#000" stroke-width="0.5">c</text>
<line x1="581.5" y1="157.2" x2="581.5" y2="50.5" stroke="#8a8a8a" stroke-width="1.0" />
<line x1="577.5" y1="157.5" x2="581.8" y2="157.5" stroke="#8a8a8a" stroke-width="1.0" />
<text x="573.8" y="159.7" font-size="8.4" text-anchor="end" fill="#2a2a2a" stroke="#2a2a2a" stroke-width="0.18">0</text>
<line x1="577.5" y1="135.5" x2="581.8" y2="135.5" stroke="#8a8a8a" stroke-width="1.0" />
<text x="573.8" y="138.4" font-size="8.4" text-anchor="end" fill="#2a2a2a" stroke="#2a2a2a" stroke-width="0.18">20</text>
<line x1="577.5" y1="114.5" x2="581.8" y2="114.5" stroke="#8a8a8a" stroke-width="1.0" />
<text x="573.8" y="117" font-size="8.4" text-anchor="end" fill="#2a2a2a" stroke="#2a2a2a" stroke-width="0.18">40</text>
<line x1="577.5" y1="93.5" x2="581.8" y2="93.5" stroke="#8a8a8a" stroke-width="1.0" />
<text x="573.8" y="95.7" font-size="8.4" text-anchor="end" fill="#2a2a2a" stroke="#2a2a2a" stroke-width="0.18">60</text>
<line x1="577.5" y1="71.5" x2="581.8" y2="71.5" stroke="#8a8a8a" stroke-width="1.0" />
<text x="573.8" y="74.3" font-size="8.4" text-anchor="end" fill="#2a2a2a" stroke="#2a2a2a" stroke-width="0.18">80</text>
<line x1="577.5" y1="50.5" x2="581.8" y2="50.5" stroke="#8a8a8a" stroke-width="1.0" />
<text x="573.8" y="53" font-size="8.4" text-anchor="end" fill="#2a2a2a" stroke="#2a2a2a" stroke-width="0.18">100</text>
<line x1="579.6" y1="157.5" x2="653.7" y2="157.5" stroke="#7a7a7a" stroke-width="1.0" />
<line x1="602.5" y1="157.2" x2="602.5" y2="161.2" stroke="#7a7a7a" stroke-width="1.0" />
<line x1="633.5" y1="157.2" x2="633.5" y2="161.2" stroke="#7a7a7a" stroke-width="1.0" />
<text x="554.8" y="104.5" font-size="8.6" fill="#2a2a2a" stroke="#2a2a2a" stroke-width="0.18" text-anchor="middle" transform="rotate(-90 554.8 104.5)">HA-tag<tspan font-size="5.4" font-style="normal" dy="-3.4">+</tspan><tspan dy="3.4"> (% of ILC2s)</tspan></text>
<line x1="604" y1="49.5" x2="628.1" y2="49.5" stroke="#222" stroke-width="1.0" />
<text x="616" y="47.9" font-size="7.5" text-anchor="middle" fill="#111" stroke="#111" stroke-width="0.18"></text>
<polygon points="609.5,44.2 610.2,45.5 611.6,45.8 610.6,46.8 610.8,48.3 609.5,47.6 608.2,48.3 608.4,46.8 607.4,45.8 608.8,45.5" fill="#1a1a1a"/>
<polygon points="614.1,44.2 614.8,45.5 616.2,45.8 615.2,46.8 615.4,48.3 614.1,47.6 612.8,48.3 613,46.8 612,45.8 613.4,45.5" fill="#1a1a1a"/>
<polygon points="618.7,44.2 619.4,45.5 620.8,45.8 619.8,46.8 620,48.3 618.7,47.6 617.4,48.3 617.6,46.8 616.6,45.8 618,45.5" fill="#1a1a1a"/>
<polygon points="623.3,44.2 624,45.5 625.4,45.8 624.4,46.8 624.6,48.3 623.3,47.6 622,48.3 622.2,46.8 621.2,45.8 622.6,45.5" fill="#1a1a1a"/>
<circle cx="593.5" cy="155.6" r="2.5" fill="#000"/>
<circle cx="597" cy="156.2" r="2.5" fill="#000"/>
<circle cx="600.5" cy="155.9" r="2.5" fill="#000"/>
<circle cx="604" cy="154.7" r="2.5" fill="#000"/>
<circle cx="607.5" cy="155.2" r="2.5" fill="#000"/>
<circle cx="611" cy="156.1" r="2.5" fill="#000"/>
<circle cx="633" cy="75.3" r="2.8" fill="none" stroke="#111" stroke-width="0.7"/>
<circle cx="625.5" cy="83.4" r="2.8" fill="none" stroke="#111" stroke-width="0.7"/>
<circle cx="640.6" cy="84.4" r="2.8" fill="none" stroke="#111" stroke-width="0.7"/>
<circle cx="633" cy="97.4" r="2.8" fill="none" stroke="#111" stroke-width="0.7"/>
<line x1="625.4" y1="84.5" x2="640.6" y2="84.5" stroke="#444" stroke-width="1.0" />
<text x="592.8" y="172.2" font-size="9.0" fill="#2a2a2a" font-style="italic" stroke="#2a2a2a" stroke-width="0.18">Il5<tspan font-size="5.8" font-style="normal" dy="-3.7">R/R</tspan></text>
<text x="623.5" y="172.2" font-size="9.0" fill="#2a2a2a" font-style="italic" stroke="#2a2a2a" stroke-width="0.18">Il5<tspan font-size="5.8" font-style="normal" dy="-3.7">R/R</tspan><tspan dy="3.7">;</tspan></text>
<text x="623.5" y="182.6" font-size="9.0" fill="#2a2a2a" font-style="italic" stroke="#2a2a2a" stroke-width="0.18">Tg<tspan font-style="normal" font-size="5.8" dy="-3.3">Gq-DREADD</tspan></text>
<text x="0" y="196.6" font-size="13.8" fill="#000" font-weight="bold" stroke="#000" stroke-width="0.5">d</text>
<line x1="51.1" y1="215.5" x2="180.5" y2="215.5" stroke="#333" stroke-width="1.0" />
<path d="M180 212.6 L184 215 L180 217.4 Z" fill="#333"/>
<line x1="51.1" y1="211.5" x2="170" y2="211.5" stroke="#2e6b2e" stroke-width="1.0" />
<path d="M51.1 207.5 L57.5 211.2 L51.1 214.9 Z" fill="#2e6b2e"/>
<line x1="132.5" y1="207.7" x2="132.5" y2="218.5" stroke="#222" stroke-width="1.0" />
<line x1="151.5" y1="207.7" x2="151.5" y2="218.5" stroke="#222" stroke-width="1.0" />
<line x1="170.5" y1="197.2" x2="170.5" y2="218.5" stroke="#222" stroke-width="1.0" />
<text x="57" y="208.6" font-size="9.1" fill="#2a2a2a" stroke="#2a2a2a" stroke-width="0.18">Succinate</text>
<text x="131.2" y="204.5" font-size="7.3" text-anchor="middle" fill="#2a2a2a" stroke="#2a2a2a" stroke-width="0.18">CNO</text>
<text x="152" y="204.5" font-size="7.3" text-anchor="middle" fill="#2a2a2a" stroke="#2a2a2a" stroke-width="0.18">CNO</text>
<text x="178.8" y="195.2" font-size="8.7" text-anchor="middle" fill="#2a2a2a" stroke="#2a2a2a" stroke-width="0.18">Analysis</text>
<text x="42.3" y="228.2" font-size="7.6" fill="#2a2a2a" stroke="#2a2a2a" stroke-width="0.18">Day 0</text>
<text x="132.3" y="228.2" font-size="7.6" text-anchor="middle" fill="#2a2a2a" stroke="#2a2a2a" stroke-width="0.18">28</text>
<text x="151.8" y="228.2" font-size="7.6" text-anchor="middle" fill="#2a2a2a" stroke="#2a2a2a" stroke-width="0.18">29</text>
<text x="170.2" y="228.2" font-size="7.6" text-anchor="middle" fill="#2a2a2a" stroke="#2a2a2a" stroke-width="0.18">30</text>
<text x="0.8" y="258.8" font-size="13.8" fill="#000" font-weight="bold" stroke="#000" stroke-width="0.5">e</text>
<line x1="35.5" y1="399.3" x2="35.5" y2="292.3" stroke="#8a8a8a" stroke-width="1.0" />
<line x1="30.9" y1="399.5" x2="35.2" y2="399.5" stroke="#8a8a8a" stroke-width="1.0" />
<text x="27.2" y="401.8" font-size="8.2" text-anchor="end" fill="#2a2a2a" stroke="#2a2a2a" stroke-width="0.18">0</text>
<line x1="30.9" y1="377.5" x2="35.2" y2="377.5" stroke="#8a8a8a" stroke-width="1.0" />
<text x="27.2" y="380.4" font-size="8.2" text-anchor="end" fill="#2a2a2a" stroke="#2a2a2a" stroke-width="0.18">20</text>
<line x1="30.9" y1="356.5" x2="35.2" y2="356.5" stroke="#8a8a8a" stroke-width="1.0" />
<text x="27.2" y="359" font-size="8.2" text-anchor="end" fill="#2a2a2a" stroke="#2a2a2a" stroke-width="0.18">40</text>
<line x1="30.9" y1="335.5" x2="35.2" y2="335.5" stroke="#8a8a8a" stroke-width="1.0" />
<text x="27.2" y="337.6" font-size="8.2" text-anchor="end" fill="#2a2a2a" stroke="#2a2a2a" stroke-width="0.18">60</text>
<line x1="30.9" y1="313.5" x2="35.2" y2="313.5" stroke="#8a8a8a" stroke-width="1.0" />
<text x="27.2" y="316.2" font-size="8.2" text-anchor="end" fill="#2a2a2a" stroke="#2a2a2a" stroke-width="0.18">80</text>
<line x1="30.9" y1="292.5" x2="35.2" y2="292.5" stroke="#8a8a8a" stroke-width="1.0" />
<text x="27.2" y="294.8" font-size="8.2" text-anchor="end" fill="#2a2a2a" stroke="#2a2a2a" stroke-width="0.18">100</text>
<line x1="31.7" y1="399.5" x2="106.6" y2="399.5" stroke="#7a7a7a" stroke-width="1.0" />
<line x1="55.5" y1="399.3" x2="55.5" y2="403.3" stroke="#7a7a7a" stroke-width="1.0" />
<line x1="86.5" y1="399.3" x2="86.5" y2="403.3" stroke="#7a7a7a" stroke-width="1.0" />
<text x="7.5" y="345" font-size="8.6" fill="#2a2a2a" stroke="#2a2a2a" stroke-width="0.18" text-anchor="middle" transform="rotate(-90 7.5 345)">Sm13<tspan font-size="5.4" font-style="normal" dy="-3.4">+</tspan><tspan dy="3.4"> (% of ILC2s)</tspan></text>
<line x1="55.5" y1="290.5" x2="86" y2="290.5" stroke="#555" stroke-width="1.0" />
<polygon points="70.7,285.1 71.4,286.4 72.8,286.7 71.8,287.7 72,289.2 70.7,288.5 69.4,289.2 69.6,287.7 68.6,286.7 70,286.4" fill="#1a1a1a"/>
<circle cx="47.9" cy="326.7" r="2.6" fill="#000"/>
<circle cx="62.9" cy="324.1" r="2.6" fill="#000"/>
<circle cx="55.5" cy="335.5" r="2.6" fill="#000"/>
<circle cx="47.9" cy="343.4" r="2.6" fill="#000"/>
<circle cx="62.9" cy="342" r="2.6" fill="#000"/>
<circle cx="47.9" cy="350.5" r="2.6" fill="#000"/>
<circle cx="62.9" cy="355.2" r="2.6" fill="#000"/>
<circle cx="47.9" cy="360.2" r="2.6" fill="#000"/>
<circle cx="55.5" cy="372" r="2.6" fill="#000"/>
<circle cx="55.5" cy="392.4" r="2.6" fill="#000"/>
<line x1="44.9" y1="347.5" x2="65.5" y2="347.5" stroke="#777" stroke-width="1.0" />
<circle cx="86" cy="311.4" r="2.7" fill="none" stroke="#111" stroke-width="0.7"/>
<circle cx="93.4" cy="309.6" r="2.7" fill="none" stroke="#111" stroke-width="0.7"/>
<circle cx="78.4" cy="321.9" r="2.7" fill="none" stroke="#111" stroke-width="0.7"/>
<circle cx="93.4" cy="317" r="2.7" fill="none" stroke="#111" stroke-width="0.7"/>
<circle cx="93.4" cy="322.3" r="2.7" fill="none" stroke="#111" stroke-width="0.7"/>
<circle cx="86" cy="326.7" r="2.7" fill="none" stroke="#111" stroke-width="0.7"/>
<circle cx="86" cy="335" r="2.7" fill="none" stroke="#111" stroke-width="0.7"/>
<circle cx="86" cy="343.1" r="2.7" fill="none" stroke="#111" stroke-width="0.7"/>
<circle cx="86" cy="364.6" r="2.7" fill="none" stroke="#111" stroke-width="0.7"/>
<line x1="76" y1="322.5" x2="95" y2="322.5" stroke="#777" stroke-width="1.0" />
<text x="44.6" y="415.3" font-size="9.0" fill="#2a2a2a" font-style="italic" stroke="#2a2a2a" stroke-width="0.18">Il5<tspan font-size="5.8" font-style="normal" dy="-3.7">R/R</tspan></text>
<text x="75" y="415.3" font-size="9.0" fill="#2a2a2a" font-style="italic" stroke="#2a2a2a" stroke-width="0.18">Il5<tspan font-size="5.8" font-style="normal" dy="-3.7">R/R</tspan><tspan dy="3.7">;</tspan></text>
<text x="75.3" y="424.2" font-size="9.0" fill="#2a2a2a" font-style="italic" stroke="#2a2a2a" stroke-width="0.18">Tg<tspan font-style="normal" font-size="5.8" dy="-3.3">Gq-DREADD</tspan></text>
<text x="117.8" y="258.8" font-size="13.8" fill="#000" font-weight="bold" stroke="#000" stroke-width="0.5">f</text>
<line x1="152.5" y1="399.2" x2="152.5" y2="293.3" stroke="#8a8a8a" stroke-width="1.0" />
<line x1="148" y1="399.5" x2="152.3" y2="399.5" stroke="#8a8a8a" stroke-width="1.0" />
<text x="144.3" y="401.7" font-size="8.2" text-anchor="end" fill="#2a2a2a" stroke="#2a2a2a" stroke-width="0.18">0</text>
<line x1="148" y1="378.5" x2="152.3" y2="378.5" stroke="#8a8a8a" stroke-width="1.0" />
<text x="144.3" y="380.5" font-size="8.2" text-anchor="end" fill="#2a2a2a" stroke="#2a2a2a" stroke-width="0.18">20</text>
<line x1="148" y1="356.5" x2="152.3" y2="356.5" stroke="#8a8a8a" stroke-width="1.0" />
<text x="144.3" y="359.3" font-size="8.2" text-anchor="end" fill="#2a2a2a" stroke="#2a2a2a" stroke-width="0.18">40</text>
<line x1="148" y1="335.5" x2="152.3" y2="335.5" stroke="#8a8a8a" stroke-width="1.0" />
<text x="144.3" y="338.2" font-size="8.2" text-anchor="end" fill="#2a2a2a" stroke="#2a2a2a" stroke-width="0.18">60</text>
<line x1="148" y1="314.5" x2="152.3" y2="314.5" stroke="#8a8a8a" stroke-width="1.0" />
<text x="144.3" y="317" font-size="8.2" text-anchor="end" fill="#2a2a2a" stroke="#2a2a2a" stroke-width="0.18">80</text>
<line x1="148" y1="293.5" x2="152.3" y2="293.5" stroke="#8a8a8a" stroke-width="1.0" />
<text x="144.3" y="295.8" font-size="8.2" text-anchor="end" fill="#2a2a2a" stroke="#2a2a2a" stroke-width="0.18">100</text>
<line x1="148" y1="399.5" x2="223.3" y2="399.5" stroke="#7a7a7a" stroke-width="1.0" />
<line x1="172.5" y1="399.2" x2="172.5" y2="403.2" stroke="#7a7a7a" stroke-width="1.0" />
<line x1="202.5" y1="399.2" x2="202.5" y2="403.2" stroke="#7a7a7a" stroke-width="1.0" />
<text x="125.6" y="345.9" font-size="8.6" fill="#2a2a2a" stroke="#2a2a2a" stroke-width="0.18" text-anchor="middle" transform="rotate(-90 125.6 345.9)">Ki-67<tspan font-size="5.4" font-style="normal" dy="-3.4">+</tspan><tspan dy="3.4"> (% of ILC2s)</tspan></text>
<line x1="172.6" y1="291.5" x2="203" y2="291.5" stroke="#555" stroke-width="1.0" />
<polygon points="180.9,285.6 181.6,286.9 183,287.2 182,288.2 182.2,289.7 180.9,289 179.6,289.7 179.8,288.2 178.8,287.2 180.2,286.9" fill="#1a1a1a"/>
<polygon points="185.5,285.6 186.2,286.9 187.6,287.2 186.6,288.2 186.8,289.7 185.5,289 184.2,289.7 184.4,288.2 183.4,287.2 184.8,286.9" fill="#1a1a1a"/>
<polygon points="190.1,285.6 190.8,286.9 192.2,287.2 191.2,288.2 191.4,289.7 190.1,289 188.8,289.7 189,288.2 188,287.2 189.4,286.9" fill="#1a1a1a"/>
<polygon points="194.7,285.6 195.4,286.9 196.8,287.2 195.8,288.2 196,289.7 194.7,289 193.4,289.7 193.6,288.2 192.6,287.2 194,286.9" fill="#1a1a1a"/>
<circle cx="166" cy="394.5" r="2.5" fill="#000"/>
<circle cx="168.5" cy="392" r="2.5" fill="#000"/>
<circle cx="171" cy="395.5" r="2.5" fill="#000"/>
<circle cx="173.5" cy="393" r="2.5" fill="#000"/>
<circle cx="176" cy="396" r="2.5" fill="#000"/>
<circle cx="178.5" cy="394" r="2.5" fill="#000"/>
<circle cx="181" cy="393.5" r="2.5" fill="#000"/>
<circle cx="169.5" cy="396.5" r="2.5" fill="#000"/>
<circle cx="174.5" cy="397" r="2.5" fill="#000"/>
<circle cx="195.4" cy="300.9" r="2.7" fill="none" stroke="#111" stroke-width="0.7"/>
<circle cx="203" cy="304.7" r="2.7" fill="none" stroke="#111" stroke-width="0.7"/>
<circle cx="210.6" cy="301.3" r="2.7" fill="none" stroke="#111" stroke-width="0.7"/>
<circle cx="199.2" cy="322.7" r="2.7" fill="none" stroke="#111" stroke-width="0.7"/>
<circle cx="206.8" cy="322.1" r="2.7" fill="none" stroke="#111" stroke-width="0.7"/>
<circle cx="203" cy="334.1" r="2.7" fill="none" stroke="#111" stroke-width="0.7"/>
<circle cx="210.6" cy="330.9" r="2.7" fill="none" stroke="#111" stroke-width="0.7"/>
<circle cx="195.4" cy="339.8" r="2.7" fill="none" stroke="#111" stroke-width="0.7"/>
<circle cx="210.6" cy="337.3" r="2.7" fill="none" stroke="#111" stroke-width="0.7"/>
<line x1="193.4" y1="322.5" x2="213.4" y2="322.5" stroke="#777" stroke-width="1.0" />
<text x="161.6" y="415.3" font-size="9.0" fill="#2a2a2a" font-style="italic" stroke="#2a2a2a" stroke-width="0.18">Il5<tspan font-size="5.8" font-style="normal" dy="-3.7">R/R</tspan></text>
<text x="192.2" y="415.3" font-size="9.0" fill="#2a2a2a" font-style="italic" stroke="#2a2a2a" stroke-width="0.18">Il5<tspan font-size="5.8" font-style="normal" dy="-3.7">R/R</tspan><tspan dy="3.7">;</tspan></text>
<text x="192.4" y="424.2" font-size="9.0" fill="#2a2a2a" font-style="italic" stroke="#2a2a2a" stroke-width="0.18">Tg<tspan font-style="normal" font-size="5.8" dy="-3.3">Gq-DREADD</tspan></text>
<text x="274" y="258.5" font-size="13.8" fill="#000" font-weight="bold" stroke="#000" stroke-width="0.5">g</text>
<line x1="305.5" y1="399.1" x2="305.5" y2="291.9" stroke="#8a8a8a" stroke-width="1.0" />
<line x1="300.8" y1="399.5" x2="305.1" y2="399.5" stroke="#8a8a8a" stroke-width="1.0" />
<text x="297.1" y="401.6" font-size="8.2" text-anchor="end" fill="#2a2a2a" stroke="#2a2a2a" stroke-width="0.18">0</text>
<line x1="300.8" y1="372.5" x2="305.1" y2="372.5" stroke="#8a8a8a" stroke-width="1.0" />
<text x="297.1" y="374.8" font-size="8.2" text-anchor="end" fill="#2a2a2a" stroke="#2a2a2a" stroke-width="0.18">20</text>
<line x1="300.8" y1="345.5" x2="305.1" y2="345.5" stroke="#8a8a8a" stroke-width="1.0" />
<text x="297.1" y="348" font-size="8.2" text-anchor="end" fill="#2a2a2a" stroke="#2a2a2a" stroke-width="0.18">40</text>
<line x1="300.8" y1="318.5" x2="305.1" y2="318.5" stroke="#8a8a8a" stroke-width="1.0" />
<text x="297.1" y="321.2" font-size="8.2" text-anchor="end" fill="#2a2a2a" stroke="#2a2a2a" stroke-width="0.18">60</text>
<line x1="300.8" y1="291.5" x2="305.1" y2="291.5" stroke="#8a8a8a" stroke-width="1.0" />
<text x="297.1" y="294.4" font-size="8.2" text-anchor="end" fill="#2a2a2a" stroke="#2a2a2a" stroke-width="0.18">80</text>
<line x1="302" y1="399.5" x2="376.3" y2="399.5" stroke="#7a7a7a" stroke-width="1.0" />
<line x1="319.5" y1="399.1" x2="319.5" y2="403.1" stroke="#7a7a7a" stroke-width="1.0" />
<line x1="340.5" y1="399.1" x2="340.5" y2="403.1" stroke="#7a7a7a" stroke-width="1.0" />
<line x1="362.5" y1="399.1" x2="362.5" y2="403.1" stroke="#7a7a7a" stroke-width="1.0" />
<text x="281.4" y="345.9" font-size="8.6" fill="#2a2a2a" stroke="#2a2a2a" stroke-width="0.18" text-anchor="middle" transform="rotate(-90 281.4 345.9)">Ki-67<tspan font-size="5.4" font-style="normal" dy="-3.4">+</tspan><tspan dy="3.4"> (% of ILC2s)</tspan></text>
<line x1="319.4" y1="272.5" x2="362.5" y2="272.5" stroke="#555" stroke-width="1.0" />
<polygon points="334.1,266.6 334.8,267.9 336.2,268.2 335.2,269.2 335.4,270.7 334.1,270 332.8,270.7 333,269.2 332,268.2 333.4,267.9" fill="#1a1a1a"/>
<polygon points="338.7,266.6 339.4,267.9 340.8,268.2 339.8,269.2 340,270.7 338.7,270 337.4,270.7 337.6,269.2 336.6,268.2 338,267.9" fill="#1a1a1a"/>
<polygon points="343.3,266.6 344,267.9 345.4,268.2 344.4,269.2 344.6,270.7 343.3,270 342,270.7 342.2,269.2 341.2,268.2 342.6,267.9" fill="#1a1a1a"/>
<polygon points="347.9,266.6 348.6,267.9 350,268.2 349,269.2 349.2,270.7 347.9,270 346.6,270.7 346.8,269.2 345.8,268.2 347.2,267.9" fill="#1a1a1a"/>
<line x1="340.9" y1="288.5" x2="362" y2="288.5" stroke="#777" stroke-width="1.0" />
<polygon points="344.6,281.9 345.3,283.2 346.7,283.5 345.7,284.5 345.9,286 344.6,285.3 343.3,286 343.5,284.5 342.5,283.5 343.9,283.2" fill="#1a1a1a"/>
<polygon points="349.2,281.9 349.9,283.2 351.3,283.5 350.3,284.5 350.5,286 349.2,285.3 347.9,286 348.1,284.5 347.1,283.5 348.5,283.2" fill="#1a1a1a"/>
<polygon points="353.8,281.9 354.5,283.2 355.9,283.5 354.9,284.5 355.1,286 353.8,285.3 352.5,286 352.7,284.5 351.7,283.5 353.1,283.2" fill="#1a1a1a"/>
<polygon points="358.4,281.9 359.1,283.2 360.5,283.5 359.5,284.5 359.7,286 358.4,285.3 357.1,286 357.3,284.5 356.3,283.5 357.7,283.2" fill="#1a1a1a"/>
<line x1="319.4" y1="300.2" x2="340.9" y2="300.2" stroke="#aaa" stroke-width="1.3" />
<text x="331.4" y="296" font-size="8.4" text-anchor="middle" fill="#2a2a2a" stroke="#2a2a2a" stroke-width="0.18">NS</text>
<circle cx="319.4" cy="384.5" r="2.6" fill="#000"/>
<circle cx="315" cy="391" r="2.6" fill="#000"/>
<circle cx="318" cy="392.5" r="2.6" fill="#000"/>
<circle cx="321" cy="391.5" r="2.6" fill="#000"/>
<circle cx="324" cy="392.8" r="2.6" fill="#000"/>
<circle cx="316.5" cy="393.5" r="2.6" fill="#000"/>
<circle cx="320" cy="393.8" r="2.6" fill="#000"/>
<circle cx="323" cy="393.5" r="2.6" fill="#000"/>
<circle cx="317" cy="390.5" r="2.6" fill="#000"/>
<line x1="312.4" y1="392.5" x2="326.4" y2="392.5" stroke="#666" stroke-width="1.0" />
<circle cx="341" cy="393.5" r="2.6" fill="none" stroke="#111" stroke-width="0.7"/>
<circle cx="337" cy="395.5" r="2.6" fill="none" stroke="#111" stroke-width="0.7"/>
<circle cx="339" cy="397" r="2.6" fill="none" stroke="#111" stroke-width="0.7"/>
<circle cx="343" cy="396" r="2.6" fill="none" stroke="#111" stroke-width="0.7"/>
<circle cx="345" cy="397" r="2.6" fill="none" stroke="#111" stroke-width="0.7"/>
<circle cx="337.5" cy="397.5" r="2.6" fill="none" stroke="#111" stroke-width="0.7"/>
<circle cx="341.5" cy="397.8" r="2.6" fill="none" stroke="#111" stroke-width="0.7"/>
<circle cx="344.5" cy="395" r="2.6" fill="none" stroke="#111" stroke-width="0.7"/>
<circle cx="340" cy="395" r="2.6" fill="none" stroke="#111" stroke-width="0.7"/>
<polygon points="357.7,306.6 360.7,312 354.7,312" fill="none" stroke="#111" stroke-width="0.7" stroke-linejoin="miter"/>
<polygon points="367.3,310.2 370.3,315.6 364.3,315.6" fill="none" stroke="#111" stroke-width="0.7" stroke-linejoin="miter"/>
<polygon points="362.5,317.4 365.5,322.8 359.5,322.8" fill="none" stroke="#111" stroke-width="0.7" stroke-linejoin="miter"/>
<polygon points="362.5,325.8 365.5,331.2 359.5,331.2" fill="none" stroke="#111" stroke-width="0.7" stroke-linejoin="miter"/>
<polygon points="357.7,337.3 360.7,342.7 354.7,342.7" fill="none" stroke="#111" stroke-width="0.7" stroke-linejoin="miter"/>
<polygon points="366.8,339.6 369.8,345 363.8,345" fill="none" stroke="#111" stroke-width="0.7" stroke-linejoin="miter"/>
<polygon points="357.7,352.1 360.7,357.5 354.7,357.5" fill="none" stroke="#111" stroke-width="0.7" stroke-linejoin="miter"/>
<polygon points="366.8,354.5 369.8,359.9 363.8,359.9" fill="none" stroke="#111" stroke-width="0.7" stroke-linejoin="miter"/>
<polygon points="362.5,361.7 365.5,367.1 359.5,367.1" fill="none" stroke="#111" stroke-width="0.7" stroke-linejoin="miter"/>
<line x1="357.6" y1="339.5" x2="369.6" y2="339.5" stroke="#aaa" stroke-width="1.0" />
<text x="304.4" y="414.8" font-size="9.0" text-anchor="end" fill="#2a2a2a" stroke="#2a2a2a" stroke-width="0.18">4w succinate</text>
<text x="304.6" y="428.3" font-size="8.4" text-anchor="end" fill="#2a2a2a" stroke="#2a2a2a" stroke-width="0.18">NMU</text>
<text x="319.4" y="414.8" font-size="6.5" text-anchor="middle" fill="#333" stroke="#333" stroke-width="0.18">–</text>
<text x="319.4" y="428.3" font-size="6.5" text-anchor="middle" fill="#999" stroke="#999" stroke-width="0.18">–</text>
<text x="340.9" y="414.8" font-size="7.5" text-anchor="middle" fill="#222" stroke="#222" stroke-width="0.18">+</text>
<text x="340.9" y="428.3" font-size="6.5" text-anchor="middle" fill="#999" stroke="#999" stroke-width="0.18">–</text>
<text x="362" y="414.8" font-size="7.5" text-anchor="middle" fill="#222" stroke="#222" stroke-width="0.18">+</text>
<text x="362" y="428.3" font-size="7.5" text-anchor="middle" fill="#222" stroke="#222" stroke-width="0.18">+</text>
<text x="389.2" y="258.7" font-size="13.8" fill="#000" font-weight="bold" stroke="#000" stroke-width="0.5">h</text>
<circle cx="405.8" cy="261" r="2.4" fill="#000"/>
<polygon points="412,257.8 415.3,263.5 408.7,263.5" fill="#000"/>
<text x="422.4" y="262.7" font-size="7.2" fill="#2a2a2a" font-style="italic" stroke="#2a2a2a" stroke-width="0.18">Il17rb<tspan font-size="4.8" font-style="normal" dy="-3.0">fl/fl</tspan></text>
<circle cx="470.6" cy="261" r="2.4" fill="none" stroke="#111" stroke-width="0.7"/>
<polygon points="478.7,257.8 482,263.5 475.4,263.5" fill="none" stroke="#222" stroke-width="0.6"/>
<text x="487.4" y="262.7" font-size="7.2" fill="#2a2a2a" font-style="italic" stroke="#2a2a2a" stroke-width="0.18">Vil1<tspan font-size="4.8" font-style="normal" dy="-3.0">Cre</tspan><tspan dy="3.0">; Il17rb</tspan><tspan font-size="4.8" font-style="normal" dy="-3.0">fl/fl</tspan></text>
<line x1="423.5" y1="399.3" x2="423.5" y2="292.7" stroke="#8a8a8a" stroke-width="1.0" />
<line x1="419.3" y1="399.5" x2="423.6" y2="399.5" stroke="#8a8a8a" stroke-width="1.0" />
<text x="415.6" y="401.8" font-size="8.2" text-anchor="end" fill="#2a2a2a" stroke="#2a2a2a" stroke-width="0.18">0</text>
<line x1="419.3" y1="377.5" x2="423.6" y2="377.5" stroke="#8a8a8a" stroke-width="1.0" />
<text x="415.6" y="380.5" font-size="8.2" text-anchor="end" fill="#2a2a2a" stroke="#2a2a2a" stroke-width="0.18">20</text>
<line x1="419.3" y1="356.5" x2="423.6" y2="356.5" stroke="#8a8a8a" stroke-width="1.0" />
<text x="415.6" y="359.2" font-size="8.2" text-anchor="end" fill="#2a2a2a" stroke="#2a2a2a" stroke-width="0.18">40</text>
<line x1="419.3" y1="335.5" x2="423.6" y2="335.5" stroke="#8a8a8a" stroke-width="1.0" />
<text x="415.6" y="337.8" font-size="8.2" text-anchor="end" fill="#2a2a2a" stroke="#2a2a2a" stroke-width="0.18">60</text>
<line x1="419.3" y1="314.5" x2="423.6" y2="314.5" stroke="#8a8a8a" stroke-width="1.0" />
<text x="415.6" y="316.5" font-size="8.2" text-anchor="end" fill="#2a2a2a" stroke="#2a2a2a" stroke-width="0.18">80</text>
<line x1="419.3" y1="292.5" x2="423.6" y2="292.5" stroke="#8a8a8a" stroke-width="1.0" />
<text x="415.6" y="295.2" font-size="8.2" text-anchor="end" fill="#2a2a2a" stroke="#2a2a2a" stroke-width="0.18">100</text>
<line x1="420" y1="399.5" x2="530.1" y2="399.5" stroke="#7a7a7a" stroke-width="1.0" />
<line x1="439.5" y1="399.3" x2="439.5" y2="403.3" stroke="#7a7a7a" stroke-width="1.0" />
<line x1="464.5" y1="399.3" x2="464.5" y2="403.3" stroke="#7a7a7a" stroke-width="1.0" />
<line x1="489.5" y1="399.3" x2="489.5" y2="403.3" stroke="#7a7a7a" stroke-width="1.0" />
<line x1="513.5" y1="399.3" x2="513.5" y2="403.3" stroke="#7a7a7a" stroke-width="1.0" />
<text x="395.8" y="345.5" font-size="8.6" fill="#2a2a2a" stroke="#2a2a2a" stroke-width="0.18" text-anchor="middle" transform="rotate(-90 395.8 345.5)">Sm13<tspan font-size="5.4" font-style="normal" dy="-3.4">+</tspan><tspan dy="3.4"> (% of ILC2s)</tspan></text>
<line x1="464.4" y1="279.6" x2="513.7" y2="279.6" stroke="#aaa" stroke-width="1.3" />
<text x="489.6" y="276.7" font-size="8.4" text-anchor="middle" fill="#2a2a2a" stroke="#2a2a2a" stroke-width="0.18">NS</text>
<line x1="438.2" y1="293.8" x2="487.4" y2="293.8" stroke="#aaa" stroke-width="1.3" />
<text x="464" y="290.5" font-size="8.4" text-anchor="middle" fill="#2a2a2a" stroke="#2a2a2a" stroke-width="0.18">NS</text>
<line x1="439.3" y1="309.5" x2="464" y2="309.5" stroke="#555" stroke-width="1.0" />
<polygon points="447.1,304.1 447.8,305.4 449.2,305.7 448.2,306.7 448.4,308.2 447.1,307.5 445.8,308.2 446,306.7 445,305.7 446.4,305.4" fill="#1a1a1a"/>
<polygon points="451.7,304.1 452.4,305.4 453.8,305.7 452.8,306.7 453,308.2 451.7,307.5 450.4,308.2 450.6,306.7 449.6,305.7 451,305.4" fill="#1a1a1a"/>
<polygon points="456.3,304.1 457,305.4 458.4,305.7 457.4,306.7 457.6,308.2 456.3,307.5 455,308.2 455.2,306.7 454.2,305.7 455.6,305.4" fill="#1a1a1a"/>
<line x1="489" y1="309.5" x2="513.7" y2="309.5" stroke="#555" stroke-width="1.0" />
<polygon points="496.7,304.1 497.4,305.4 498.8,305.7 497.8,306.7 498,308.2 496.7,307.5 495.4,308.2 495.6,306.7 494.6,305.7 496,305.4" fill="#1a1a1a"/>
<polygon points="501.3,304.1 502,305.4 503.4,305.7 502.4,306.7 502.6,308.2 501.3,307.5 500,308.2 500.2,306.7 499.2,305.7 500.6,305.4" fill="#1a1a1a"/>
<polygon points="505.9,304.1 506.6,305.4 508,305.7 507,306.7 507.2,308.2 505.9,307.5 504.6,308.2 504.8,306.7 503.8,305.7 505.2,305.4" fill="#1a1a1a"/>
<circle cx="434.9" cy="380.9" r="2.6" fill="#000"/>
<circle cx="440.4" cy="387.5" r="2.6" fill="#000"/>
<circle cx="434.9" cy="390.1" r="2.6" fill="#000"/>
<circle cx="444.7" cy="392.3" r="2.6" fill="#000"/>
<circle cx="437.1" cy="394.5" r="2.6" fill="#000"/>
<circle cx="442.6" cy="396.3" r="2.6" fill="#000"/>
<circle cx="438" cy="396.5" r="2.6" fill="#000"/>
<circle cx="441" cy="390" r="2.6" fill="#000"/>
<line x1="435.4" y1="391.5" x2="444.4" y2="391.5" stroke="#ddd" stroke-width="1.0" />
<line x1="439.5" y1="388.5" x2="439.5" y2="394.5" stroke="#ddd" stroke-width="1.0" />
<line x1="437.4" y1="388.5" x2="442.4" y2="388.5" stroke="#ddd" stroke-width="1.0" />
<line x1="437.4" y1="394.5" x2="442.4" y2="394.5" stroke="#ddd" stroke-width="1.0" />
<circle cx="465.5" cy="334.3" r="2.7" fill="none" stroke="#111" stroke-width="0.7"/>
<circle cx="465.5" cy="338" r="2.7" fill="none" stroke="#111" stroke-width="0.7"/>
<circle cx="459.6" cy="351.2" r="2.7" fill="none" stroke="#111" stroke-width="0.7"/>
<circle cx="466.6" cy="351.8" r="2.7" fill="none" stroke="#111" stroke-width="0.7"/>
<circle cx="470.6" cy="354.7" r="2.7" fill="none" stroke="#111" stroke-width="0.7"/>
<circle cx="462.3" cy="357.3" r="2.7" fill="none" stroke="#111" stroke-width="0.7"/>
<circle cx="467.7" cy="359.5" r="2.7" fill="none" stroke="#111" stroke-width="0.7"/>
<circle cx="465.5" cy="377" r="2.7" fill="none" stroke="#111" stroke-width="0.7"/>
<circle cx="463" cy="355" r="2.7" fill="none" stroke="#111" stroke-width="0.7"/>
<line x1="459.5" y1="356.5" x2="470.5" y2="356.5" stroke="#444" stroke-width="1.0" />
<polygon points="486.8,337.4 489.7,342.6 483.9,342.6" fill="#000"/>
<polygon points="491.8,335.5 494.7,340.7 488.9,340.7" fill="#000"/>
<polygon points="487.3,340.7 490.2,345.9 484.4,345.9" fill="#000"/>
<polygon points="492.5,339.3 495.4,344.5 489.6,344.5" fill="#000"/>
<polygon points="489.2,355.9 492.1,361.1 486.3,361.1" fill="#000"/>
<polygon points="485.4,364.4 488.3,369.6 482.5,369.6" fill="#000"/>
<polygon points="492.5,364.8 495.4,370 489.6,370" fill="#000"/>
<polygon points="489.6,373.8 492.5,379 486.7,379" fill="#000"/>
<polygon points="484,377.1 486.9,382.3 481.1,382.3" fill="#000"/>
<polygon points="494.4,376.2 497.3,381.4 491.5,381.4" fill="#000"/>
<polygon points="487.3,379.5 490.2,384.7 484.4,384.7" fill="#000"/>
<polygon points="494.4,380.4 497.3,385.6 491.5,385.6" fill="#000"/>
<polygon points="484,383.3 486.9,388.5 481.1,388.5" fill="#000"/>
<polygon points="489.2,381.9 492.1,387.1 486.3,387.1" fill="#000"/>
<line x1="481.2" y1="367.5" x2="497.2" y2="367.5" stroke="#555" stroke-width="1.0" />
<line x1="489.1" y1="367.5" x2="489.3" y2="367.5" stroke="#bbb" stroke-width="1.0" />
<line x1="489.5" y1="362.7" x2="489.5" y2="371.7" stroke="#bbb" stroke-width="1.0" />
<line x1="485.2" y1="362.5" x2="493.2" y2="362.5" stroke="#bbb" stroke-width="1.0" />
<line x1="485.2" y1="371.5" x2="493.2" y2="371.5" stroke="#bbb" stroke-width="1.0" />
<polygon points="513.3,319.8 516.3,325.2 510.3,325.2" fill="none" stroke="#111" stroke-width="0.7" stroke-linejoin="miter"/>
<polygon points="510,324.6 513,330 507,330" fill="none" stroke="#111" stroke-width="0.7" stroke-linejoin="miter"/>
<polygon points="517.1,323.1 520.1,328.5 514.1,328.5" fill="none" stroke="#111" stroke-width="0.7" stroke-linejoin="miter"/>
<polygon points="512.8,336.8 515.8,342.2 509.8,342.2" fill="none" stroke="#111" stroke-width="0.7" stroke-linejoin="miter"/>
<polygon points="516.6,333.5 519.6,338.9 513.6,338.9" fill="none" stroke="#111" stroke-width="0.7" stroke-linejoin="miter"/>
<polygon points="509,352 512,357.4 506,357.4" fill="none" stroke="#111" stroke-width="0.7" stroke-linejoin="miter"/>
<polygon points="519.4,349.6 522.4,355 516.4,355" fill="none" stroke="#111" stroke-width="0.7" stroke-linejoin="miter"/>
<polygon points="508.6,357.2 511.6,362.6 505.6,362.6" fill="none" stroke="#111" stroke-width="0.7" stroke-linejoin="miter"/>
<polygon points="513.8,356.2 516.8,361.6 510.8,361.6" fill="none" stroke="#111" stroke-width="0.7" stroke-linejoin="miter"/>
<polygon points="509.5,367.6 512.5,373 506.5,373" fill="none" stroke="#111" stroke-width="0.7" stroke-linejoin="miter"/>
<polygon points="513.8,365.7 516.8,371.1 510.8,371.1" fill="none" stroke="#111" stroke-width="0.7" stroke-linejoin="miter"/>
<polygon points="517.5,367.6 520.5,373 514.5,373" fill="none" stroke="#111" stroke-width="0.7" stroke-linejoin="miter"/>
<polygon points="511.9,374.2 514.9,379.6 508.9,379.6" fill="none" stroke="#111" stroke-width="0.7" stroke-linejoin="miter"/>
<polygon points="515.6,373.2 518.6,378.6 512.6,378.6" fill="none" stroke="#111" stroke-width="0.7" stroke-linejoin="miter"/>
<line x1="505.7" y1="356.5" x2="521.7" y2="356.5" stroke="#444" stroke-width="1.0" />
<line x1="513.2" y1="356.5" x2="513.4" y2="356.5" stroke="#777" stroke-width="1.0" />
<line x1="513.5" y1="350.7" x2="513.5" y2="361.3" stroke="#777" stroke-width="1.0" />
<line x1="509.3" y1="350.5" x2="517.3" y2="350.5" stroke="#777" stroke-width="1.0" />
<line x1="509.3" y1="361.5" x2="517.3" y2="361.5" stroke="#777" stroke-width="1.0" />
<text x="422.8" y="413.1" font-size="8.4" text-anchor="end" fill="#2a2a2a" stroke="#2a2a2a" stroke-width="0.18">NMU</text>
<text x="439.9" y="413.1" font-size="6.5" text-anchor="middle" fill="#555" stroke="#555" stroke-width="0.18">–</text>
<text x="464.4" y="413.1" font-size="6.5" text-anchor="middle" fill="#555" stroke="#555" stroke-width="0.18">–</text>
<text x="489" y="413.1" font-size="7.8" text-anchor="middle" fill="#222" stroke="#222" stroke-width="0.18">+</text>
<text x="513.3" y="413.1" font-size="7.8" text-anchor="middle" fill="#222" stroke="#222" stroke-width="0.18">+</text>
<text x="542.8" y="258.6" font-size="13.8" fill="#000" font-weight="bold" stroke="#000" stroke-width="0.5">i</text>
<line x1="578.5" y1="399.3" x2="578.5" y2="292.7" stroke="#8a8a8a" stroke-width="1.0" />
<line x1="574" y1="399.5" x2="578.3" y2="399.5" stroke="#8a8a8a" stroke-width="1.0" />
<text x="570.3" y="401.8" font-size="8.2" text-anchor="end" fill="#2a2a2a" stroke="#2a2a2a" stroke-width="0.18">0</text>
<line x1="574" y1="377.5" x2="578.3" y2="377.5" stroke="#8a8a8a" stroke-width="1.0" />
<text x="570.3" y="380.5" font-size="8.2" text-anchor="end" fill="#2a2a2a" stroke="#2a2a2a" stroke-width="0.18">20</text>
<line x1="574" y1="356.5" x2="578.3" y2="356.5" stroke="#8a8a8a" stroke-width="1.0" />
<text x="570.3" y="359.2" font-size="8.2" text-anchor="end" fill="#2a2a2a" stroke="#2a2a2a" stroke-width="0.18">40</text>
<line x1="574" y1="335.5" x2="578.3" y2="335.5" stroke="#8a8a8a" stroke-width="1.0" />
<text x="570.3" y="337.8" font-size="8.2" text-anchor="end" fill="#2a2a2a" stroke="#2a2a2a" stroke-width="0.18">60</text>
<line x1="574" y1="314.5" x2="578.3" y2="314.5" stroke="#8a8a8a" stroke-width="1.0" />
<text x="570.3" y="316.5" font-size="8.2" text-anchor="end" fill="#2a2a2a" stroke="#2a2a2a" stroke-width="0.18">80</text>
<line x1="574" y1="292.5" x2="578.3" y2="292.5" stroke="#8a8a8a" stroke-width="1.0" />
<text x="570.3" y="295.2" font-size="8.2" text-anchor="end" fill="#2a2a2a" stroke="#2a2a2a" stroke-width="0.18">100</text>
<line x1="574" y1="399.5" x2="685" y2="399.5" stroke="#7a7a7a" stroke-width="1.0" />
<line x1="594.5" y1="399.3" x2="594.5" y2="403.3" stroke="#7a7a7a" stroke-width="1.0" />
<line x1="619.5" y1="399.3" x2="619.5" y2="403.3" stroke="#7a7a7a" stroke-width="1.0" />
<line x1="643.5" y1="399.3" x2="643.5" y2="403.3" stroke="#7a7a7a" stroke-width="1.0" />
<line x1="668.5" y1="399.3" x2="668.5" y2="403.3" stroke="#7a7a7a" stroke-width="1.0" />
<text x="551.3" y="346" font-size="8.6" fill="#2a2a2a" stroke="#2a2a2a" stroke-width="0.18" text-anchor="middle" transform="rotate(-90 551.3 346)">Ki-67<tspan font-size="5.4" font-style="normal" dy="-3.4">+</tspan><tspan dy="3.4"> (% of ILC2s)</tspan></text>
<line x1="619.3" y1="258.5" x2="668.1" y2="258.5" stroke="#555" stroke-width="1.0" />
<polygon points="636.8,252.6 637.5,253.9 638.9,254.2 637.9,255.2 638.1,256.7 636.8,256 635.5,256.7 635.7,255.2 634.7,254.2 636.1,253.9" fill="#1a1a1a"/>
<polygon points="641.4,252.6 642.1,253.9 643.5,254.2 642.5,255.2 642.7,256.7 641.4,256 640.1,256.7 640.3,255.2 639.3,254.2 640.7,253.9" fill="#1a1a1a"/>
<polygon points="646,252.6 646.7,253.9 648.1,254.2 647.1,255.2 647.3,256.7 646,256 644.7,256.7 644.9,255.2 643.9,254.2 645.3,253.9" fill="#1a1a1a"/>
<polygon points="650.6,252.6 651.3,253.9 652.7,254.2 651.7,255.2 651.9,256.7 650.6,256 649.3,256.7 649.5,255.2 648.5,254.2 649.9,253.9" fill="#1a1a1a"/>
<line x1="594.1" y1="273.5" x2="643.8" y2="273.5" stroke="#555" stroke-width="1.0" />
<polygon points="612.1,267.3 612.8,268.6 614.2,268.9 613.2,269.9 613.4,271.4 612.1,270.7 610.8,271.4 611,269.9 610,268.9 611.4,268.6" fill="#1a1a1a"/>
<polygon points="616.7,267.3 617.4,268.6 618.8,268.9 617.8,269.9 618,271.4 616.7,270.7 615.4,271.4 615.6,269.9 614.6,268.9 616,268.6" fill="#1a1a1a"/>
<polygon points="621.3,267.3 622,268.6 623.4,268.9 622.4,269.9 622.6,271.4 621.3,270.7 620,271.4 620.2,269.9 619.2,268.9 620.6,268.6" fill="#1a1a1a"/>
<polygon points="625.9,267.3 626.6,268.6 628,268.9 627,269.9 627.2,271.4 625.9,270.7 624.6,271.4 624.8,269.9 623.8,268.9 625.2,268.6" fill="#1a1a1a"/>
<line x1="594.1" y1="290.5" x2="618.9" y2="290.5" stroke="#555" stroke-width="1.0" />
<polygon points="604.2,284.3 604.9,285.6 606.3,285.9 605.3,286.9 605.5,288.4 604.2,287.7 602.9,288.4 603.1,286.9 602.1,285.9 603.5,285.6" fill="#1a1a1a"/>
<polygon points="608.8,284.3 609.5,285.6 610.9,285.9 609.9,286.9 610.1,288.4 608.8,287.7 607.5,288.4 607.7,286.9 606.7,285.9 608.1,285.6" fill="#1a1a1a"/>
<line x1="643.8" y1="290.5" x2="668.1" y2="290.5" stroke="#555" stroke-width="1.0" />
<polygon points="653.7,284.3 654.4,285.6 655.8,285.9 654.8,286.9 655,288.4 653.7,287.7 652.4,288.4 652.6,286.9 651.6,285.9 653,285.6" fill="#1a1a1a"/>
<polygon points="658.3,284.3 659,285.6 660.4,285.9 659.4,286.9 659.6,288.4 658.3,287.7 657,288.4 657.2,286.9 656.2,285.9 657.6,285.6" fill="#1a1a1a"/>
<circle cx="591.5" cy="384.2" r="2.6" fill="#000"/>
<circle cx="594.1" cy="386.9" r="2.6" fill="#000"/>
<circle cx="588.2" cy="390.1" r="2.6" fill="#000"/>
<circle cx="597.4" cy="388.4" r="2.6" fill="#000"/>
<circle cx="598.1" cy="394.5" r="2.6" fill="#000"/>
<circle cx="594" cy="391.5" r="2.6" fill="#000"/>
<circle cx="590" cy="389" r="2.6" fill="#000"/>
<line x1="592.6" y1="390.5" x2="603" y2="390.5" stroke="#444" stroke-width="1.0" />
<circle cx="614" cy="392" r="2.6" fill="none" stroke="#111" stroke-width="0.7"/>
<circle cx="617" cy="394" r="2.6" fill="none" stroke="#111" stroke-width="0.7"/>
<circle cx="620" cy="392" r="2.6" fill="none" stroke="#111" stroke-width="0.7"/>
<circle cx="623.5" cy="392.5" r="2.6" fill="none" stroke="#111" stroke-width="0.7"/>
<circle cx="616" cy="396" r="2.6" fill="none" stroke="#111" stroke-width="0.7"/>
<circle cx="619.5" cy="395.5" r="2.6" fill="none" stroke="#111" stroke-width="0.7"/>
<circle cx="623" cy="394.5" r="2.6" fill="none" stroke="#111" stroke-width="0.7"/>
<circle cx="613.5" cy="395" r="2.6" fill="none" stroke="#111" stroke-width="0.7"/>
<circle cx="618" cy="391" r="2.6" fill="none" stroke="#111" stroke-width="0.7"/>
<polygon points="643.2,297.5 646.1,302.7 640.3,302.7" fill="#000"/>
<polygon points="648.5,296.6 651.4,301.8 645.6,301.8" fill="#000"/>
<polygon points="639.7,301.4 642.6,306.6 636.8,306.6" fill="#000"/>
<polygon points="645,301.9 647.9,307.1 642.1,307.1" fill="#000"/>
<polygon points="650.3,303.2 653.2,308.4 647.4,308.4" fill="#000"/>
<polygon points="642.3,304.5 645.2,309.7 639.4,309.7" fill="#000"/>
<polygon points="639.3,306.7 642.2,311.9 636.4,311.9" fill="#000"/>
<polygon points="644.5,307.6 647.4,312.8 641.6,312.8" fill="#000"/>
<polygon points="648.9,310.7 651.8,315.9 646,315.9" fill="#000"/>
<polygon points="645.4,310.2 648.3,315.4 642.5,315.4" fill="#000"/>
<polygon points="640.6,314.2 643.5,319.4 637.7,319.4" fill="#000"/>
<polygon points="644.1,320.4 647,325.6 641.2,325.6" fill="#000"/>
<polygon points="644.1,323 647,328.2 641.2,328.2" fill="#000"/>
<polygon points="644.1,330.9 647,336.1 641.2,336.1" fill="#000"/>
<line x1="636.3" y1="313.5" x2="652.3" y2="313.5" stroke="#bbb" stroke-width="1.0" />
<line x1="644.2" y1="313.5" x2="644.4" y2="313.5" stroke="#eee" stroke-width="1.0" />
<line x1="644.5" y1="310.5" x2="644.5" y2="315.5" stroke="#eee" stroke-width="1.0" />
<line x1="641.3" y1="310.5" x2="647.3" y2="310.5" stroke="#eee" stroke-width="1.0" />
<line x1="641.3" y1="315.5" x2="647.3" y2="315.5" stroke="#eee" stroke-width="1.0" />
<polygon points="663.1,302.6 666.1,308 660.1,308" fill="none" stroke="#111" stroke-width="0.7" stroke-linejoin="miter"/>
<polygon points="667.5,303.7 670.5,309.1 664.5,309.1" fill="none" stroke="#111" stroke-width="0.7" stroke-linejoin="miter"/>
<polygon points="673,305.5 676,310.9 670,310.9" fill="none" stroke="#111" stroke-width="0.7" stroke-linejoin="miter"/>
<polygon points="667,310.3 670,315.7 664,315.7" fill="none" stroke="#111" stroke-width="0.7" stroke-linejoin="miter"/>
<polygon points="663.1,316.8 666.1,322.2 660.1,322.2" fill="none" stroke="#111" stroke-width="0.7" stroke-linejoin="miter"/>
<polygon points="672.5,314.7 675.5,320.1 669.5,320.1" fill="none" stroke="#111" stroke-width="0.7" stroke-linejoin="miter"/>
<polygon points="667.5,319.1 670.5,324.5 664.5,324.5" fill="none" stroke="#111" stroke-width="0.7" stroke-linejoin="miter"/>
<polygon points="670.8,323.4 673.8,328.8 667.8,328.8" fill="none" stroke="#111" stroke-width="0.7" stroke-linejoin="miter"/>
<polygon points="667.5,326.7 670.5,332.1 664.5,332.1" fill="none" stroke="#111" stroke-width="0.7" stroke-linejoin="miter"/>
<polygon points="664.2,336.6 667.2,342 661.2,342" fill="none" stroke="#111" stroke-width="0.7" stroke-linejoin="miter"/>
<polygon points="673,341.4 676,346.8 670,346.8" fill="none" stroke="#111" stroke-width="0.7" stroke-linejoin="miter"/>
<polygon points="669.7,344.2 672.7,349.6 666.7,349.6" fill="none" stroke="#111" stroke-width="0.7" stroke-linejoin="miter"/>
<polygon points="666,347.1 669,352.5 663,352.5" fill="none" stroke="#111" stroke-width="0.7" stroke-linejoin="miter"/>
<line x1="660" y1="323.5" x2="676.4" y2="323.5" stroke="#bbb" stroke-width="1.0" />
<line x1="667.8" y1="323.5" x2="668" y2="323.5" stroke="#333" stroke-width="1.0" />
<line x1="667.5" y1="318.2" x2="667.5" y2="329.2" stroke="#333" stroke-width="1.0" />
<line x1="664.7" y1="318.5" x2="671.1" y2="318.5" stroke="#333" stroke-width="1.0" />
<line x1="664.7" y1="329.5" x2="671.1" y2="329.5" stroke="#333" stroke-width="1.0" />
<text x="577.7" y="413.1" font-size="8.4" text-anchor="end" fill="#2a2a2a" stroke="#2a2a2a" stroke-width="0.18">NMU</text>
<text x="594.1" y="413.1" font-size="6.5" text-anchor="middle" fill="#555" stroke="#555" stroke-width="0.18">–</text>
<text x="618.9" y="413.1" font-size="6.5" text-anchor="middle" fill="#555" stroke="#555" stroke-width="0.18">–</text>
<text x="643.4" y="413.1" font-size="7.8" text-anchor="middle" fill="#222" stroke="#222" stroke-width="0.18">+</text>
<text x="668.1" y="413.1" font-size="7.8" text-anchor="middle" fill="#222" stroke="#222" stroke-width="0.18">+</text>
<text x="0.6" y="456.5" font-size="13.8" fill="#000" font-weight="bold" stroke="#000" stroke-width="0.5">j</text>
<line x1="35.5" y1="572.4" x2="35.5" y2="467.3" stroke="#8a8a8a" stroke-width="1.0" />
<line x1="31.1" y1="572.5" x2="35.4" y2="572.5" stroke="#8a8a8a" stroke-width="1.0" />
<text x="27.4" y="574.9" font-size="8.2" text-anchor="end" fill="#2a2a2a" stroke="#2a2a2a" stroke-width="0.18">0</text>
<line x1="31.1" y1="551.5" x2="35.4" y2="551.5" stroke="#8a8a8a" stroke-width="1.0" />
<text x="27.4" y="553.9" font-size="8.2" text-anchor="end" fill="#2a2a2a" stroke="#2a2a2a" stroke-width="0.18">20</text>
<line x1="31.1" y1="530.5" x2="35.4" y2="530.5" stroke="#8a8a8a" stroke-width="1.0" />
<text x="27.4" y="532.9" font-size="8.2" text-anchor="end" fill="#2a2a2a" stroke="#2a2a2a" stroke-width="0.18">40</text>
<line x1="31.1" y1="509.5" x2="35.4" y2="509.5" stroke="#8a8a8a" stroke-width="1.0" />
<text x="27.4" y="511.8" font-size="8.2" text-anchor="end" fill="#2a2a2a" stroke="#2a2a2a" stroke-width="0.18">60</text>
<line x1="31.1" y1="488.5" x2="35.4" y2="488.5" stroke="#8a8a8a" stroke-width="1.0" />
<text x="27.4" y="490.8" font-size="8.2" text-anchor="end" fill="#2a2a2a" stroke="#2a2a2a" stroke-width="0.18">80</text>
<line x1="31.1" y1="467.5" x2="35.4" y2="467.5" stroke="#8a8a8a" stroke-width="1.0" />
<text x="27.4" y="469.8" font-size="8.2" text-anchor="end" fill="#2a2a2a" stroke="#2a2a2a" stroke-width="0.18">100</text>
<line x1="31.5" y1="572.5" x2="193.3" y2="572.5" stroke="#7a7a7a" stroke-width="1.0" />
<line x1="51.5" y1="572.4" x2="51.5" y2="576.4" stroke="#7a7a7a" stroke-width="1.0" />
<line x1="76.5" y1="572.4" x2="76.5" y2="576.4" stroke="#7a7a7a" stroke-width="1.0" />
<line x1="101.5" y1="572.4" x2="101.5" y2="576.4" stroke="#7a7a7a" stroke-width="1.0" />
<line x1="127.5" y1="572.4" x2="127.5" y2="576.4" stroke="#7a7a7a" stroke-width="1.0" />
<line x1="151.5" y1="572.4" x2="151.5" y2="576.4" stroke="#7a7a7a" stroke-width="1.0" />
<line x1="176.5" y1="572.4" x2="176.5" y2="576.4" stroke="#7a7a7a" stroke-width="1.0" />
<text x="9.2" y="519.6" font-size="8.6" fill="#2a2a2a" stroke="#2a2a2a" stroke-width="0.18" text-anchor="middle" transform="rotate(-90 9.2 519.6)">Sm13<tspan font-size="5.4" font-style="normal" dy="-3.4">+</tspan><tspan dy="3.4"> (% of ILC2s)</tspan></text>
<polygon points="69.6,476.9 70.3,478.2 71.7,478.5 70.7,479.5 70.9,481 69.6,480.3 68.3,481 68.5,479.5 67.5,478.5 68.9,478.2" fill="#1a1a1a"/>
<polygon points="74.2,476.9 74.9,478.2 76.3,478.5 75.3,479.5 75.5,481 74.2,480.3 72.9,481 73.1,479.5 72.1,478.5 73.5,478.2" fill="#1a1a1a"/>
<polygon points="78.8,476.9 79.5,478.2 80.9,478.5 79.9,479.5 80.1,481 78.8,480.3 77.5,481 77.7,479.5 76.7,478.5 78.1,478.2" fill="#1a1a1a"/>
<polygon points="83.4,476.9 84.1,478.2 85.5,478.5 84.5,479.5 84.7,481 83.4,480.3 82.1,481 82.3,479.5 81.3,478.5 82.7,478.2" fill="#1a1a1a"/>
<polygon points="101.6,476.9 102.3,478.2 103.7,478.5 102.7,479.5 102.9,481 101.6,480.3 100.3,481 100.5,479.5 99.5,478.5 100.9,478.2" fill="#1a1a1a"/>
<polygon points="120.1,476.9 120.8,478.2 122.2,478.5 121.2,479.5 121.4,481 120.1,480.3 118.8,481 119,479.5 118,478.5 119.4,478.2" fill="#1a1a1a"/>
<polygon points="124.7,476.9 125.4,478.2 126.8,478.5 125.8,479.5 126,481 124.7,480.3 123.4,481 123.6,479.5 122.6,478.5 124,478.2" fill="#1a1a1a"/>
<polygon points="129.3,476.9 130,478.2 131.4,478.5 130.4,479.5 130.6,481 129.3,480.3 128,481 128.2,479.5 127.2,478.5 128.6,478.2" fill="#1a1a1a"/>
<polygon points="133.9,476.9 134.6,478.2 136,478.5 135,479.5 135.2,481 133.9,480.3 132.6,481 132.8,479.5 131.8,478.5 133.2,478.2" fill="#1a1a1a"/>
<polygon points="144.9,476.9 145.6,478.2 147,478.5 146,479.5 146.2,481 144.9,480.3 143.6,481 143.8,479.5 142.8,478.5 144.2,478.2" fill="#1a1a1a"/>
<polygon points="149.5,476.9 150.2,478.2 151.6,478.5 150.6,479.5 150.8,481 149.5,480.3 148.2,481 148.4,479.5 147.4,478.5 148.8,478.2" fill="#1a1a1a"/>
<polygon points="154.1,476.9 154.8,478.2 156.2,478.5 155.2,479.5 155.4,481 154.1,480.3 152.8,481 153,479.5 152,478.5 153.4,478.2" fill="#1a1a1a"/>
<polygon points="158.7,476.9 159.4,478.2 160.8,478.5 159.8,479.5 160,481 158.7,480.3 157.4,481 157.6,479.5 156.6,478.5 158,478.2" fill="#1a1a1a"/>
<polygon points="170,476.9 170.7,478.2 172.1,478.5 171.1,479.5 171.3,481 170,480.3 168.7,481 168.9,479.5 167.9,478.5 169.3,478.2" fill="#1a1a1a"/>
<polygon points="174.6,476.9 175.3,478.2 176.7,478.5 175.7,479.5 175.9,481 174.6,480.3 173.3,481 173.5,479.5 172.5,478.5 173.9,478.2" fill="#1a1a1a"/>
<polygon points="179.2,476.9 179.9,478.2 181.3,478.5 180.3,479.5 180.5,481 179.2,480.3 177.9,481 178.1,479.5 177.1,478.5 178.5,478.2" fill="#1a1a1a"/>
<polygon points="183.8,476.9 184.5,478.2 185.9,478.5 184.9,479.5 185.1,481 183.8,480.3 182.5,481 182.7,479.5 181.7,478.5 183.1,478.2" fill="#1a1a1a"/>
<circle cx="51.4" cy="554.9" r="2.6" fill="#000"/>
<circle cx="45.3" cy="564.5" r="2.6" fill="#000"/>
<circle cx="51.1" cy="565.4" r="2.6" fill="#000"/>
<circle cx="56.9" cy="566.5" r="2.6" fill="#000"/>
<circle cx="47.3" cy="569.5" r="2.6" fill="#000"/>
<circle cx="54.9" cy="570.3" r="2.6" fill="#000"/>
<circle cx="52" cy="568" r="2.6" fill="#000"/>
<line x1="45.4" y1="565.5" x2="57.4" y2="565.5" stroke="#555" stroke-width="1.0" />
<line x1="51.5" y1="563.5" x2="51.5" y2="567.5" stroke="#555" stroke-width="1.0" />
<line x1="48.4" y1="563.5" x2="54.4" y2="563.5" stroke="#555" stroke-width="1.0" />
<line x1="48.4" y1="567.5" x2="54.4" y2="567.5" stroke="#555" stroke-width="1.0" />
<circle cx="77.4" cy="499.4" r="2.7" fill="none" stroke="#111" stroke-width="0.7"/>
<circle cx="73" cy="507" r="2.7" fill="none" stroke="#111" stroke-width="0.7"/>
<circle cx="75.3" cy="511.9" r="2.7" fill="none" stroke="#111" stroke-width="0.7"/>
<circle cx="70.7" cy="516.3" r="2.7" fill="none" stroke="#111" stroke-width="0.7"/>
<circle cx="80.3" cy="517.8" r="2.7" fill="none" stroke="#111" stroke-width="0.7"/>
<circle cx="76.5" cy="522.2" r="2.7" fill="none" stroke="#111" stroke-width="0.7"/>
<circle cx="75.3" cy="533.8" r="2.7" fill="none" stroke="#111" stroke-width="0.7"/>
<line x1="69.9" y1="516.5" x2="83.1" y2="516.5" stroke="#333" stroke-width="1.0" />
<line x1="76.5" y1="512" x2="76.5" y2="522.7" stroke="#333" stroke-width="1.0" />
<line x1="73" y1="512.5" x2="80" y2="512.5" stroke="#333" stroke-width="1.0" />
<line x1="73" y1="522.5" x2="80" y2="522.5" stroke="#333" stroke-width="1.0" />
<rect x="93.7" y="532.6" width="5.3" height="5.3" fill="none" stroke="#111" stroke-width="0.7"/>
<rect x="98.9" y="530.5" width="5.3" height="5.3" fill="none" stroke="#111" stroke-width="0.7"/>
<rect x="105.3" y="534.6" width="5.3" height="5.3" fill="none" stroke="#111" stroke-width="0.7"/>
<rect x="99.5" y="548.7" width="5.3" height="5.3" fill="none" stroke="#111" stroke-width="0.7"/>
<rect x="93.7" y="555.9" width="5.3" height="5.3" fill="none" stroke="#111" stroke-width="0.7"/>
<rect x="105.3" y="555.1" width="5.3" height="5.3" fill="none" stroke="#111" stroke-width="0.7"/>
<line x1="93.9" y1="546.5" x2="109.3" y2="546.5" stroke="#333" stroke-width="1.0" />
<line x1="101.5" y1="538.2" x2="101.5" y2="553.7" stroke="#333" stroke-width="1.0" />
<line x1="98.1" y1="538.5" x2="105.1" y2="538.5" stroke="#333" stroke-width="1.0" />
<line x1="98.1" y1="553.5" x2="105.1" y2="553.5" stroke="#333" stroke-width="1.0" />
<polygon points="122,505.8 125,511.2 119,511.2" fill="none" stroke="#111" stroke-width="0.7" stroke-linejoin="miter"/>
<polygon points="127.9,508.8 130.9,514.2 124.9,514.2" fill="none" stroke="#111" stroke-width="0.7" stroke-linejoin="miter"/>
<polygon points="132.8,508.8 135.8,514.2 129.8,514.2" fill="none" stroke="#111" stroke-width="0.7" stroke-linejoin="miter"/>
<polygon points="127,520.4 130,525.8 124,525.8" fill="none" stroke="#111" stroke-width="0.7" stroke-linejoin="miter"/>
<polygon points="127.9,531.2 130.9,536.6 124.9,536.6" fill="none" stroke="#111" stroke-width="0.7" stroke-linejoin="miter"/>
<polygon points="127,551.7 130,557.1 124,557.1" fill="none" stroke="#111" stroke-width="0.7" stroke-linejoin="miter"/>
<line x1="119" y1="522.5" x2="135" y2="522.5" stroke="#333" stroke-width="1.0" />
<line x1="127.5" y1="517.8" x2="127.5" y2="527.4" stroke="#333" stroke-width="1.0" />
<line x1="123.5" y1="517.5" x2="130.5" y2="517.5" stroke="#333" stroke-width="1.0" />
<line x1="123.5" y1="527.5" x2="130.5" y2="527.5" stroke="#333" stroke-width="1.0" />
<polygon points="151.8,512.6 154.5,515.7 151.8,518.8 149.1,515.7" fill="none" stroke="#111" stroke-width="0.7"/>
<polygon points="157.1,519.6 159.8,522.7 157.1,525.8 154.4,522.7" fill="none" stroke="#111" stroke-width="0.7"/>
<polygon points="146,524.3 148.7,527.4 146,530.5 143.3,527.4" fill="none" stroke="#111" stroke-width="0.7"/>
<polygon points="151.2,525.5 153.9,528.6 151.2,531.7 148.5,528.6" fill="none" stroke="#111" stroke-width="0.7"/>
<polygon points="156.2,529.3 158.9,532.4 156.2,535.5 153.5,532.4" fill="none" stroke="#111" stroke-width="0.7"/>
<polygon points="146,534.5 148.7,537.6 146,540.7 143.3,537.6" fill="none" stroke="#111" stroke-width="0.7"/>
<line x1="147.8" y1="529.5" x2="159.8" y2="529.5" stroke="#777" stroke-width="1.0" />
<line x1="151.7" y1="529.5" x2="151.9" y2="529.5" stroke="#444" stroke-width="1.0" />
<line x1="151.5" y1="525.1" x2="151.5" y2="532.3" stroke="#444" stroke-width="1.0" />
<line x1="148.3" y1="525.5" x2="155.3" y2="525.5" stroke="#444" stroke-width="1.0" />
<line x1="148.3" y1="532.5" x2="155.3" y2="532.5" stroke="#444" stroke-width="1.0" />
<polygon points="176.9,522.4 179.9,517 173.9,517" fill="none" stroke="#111" stroke-width="0.7"/>
<polygon points="170.8,531.8 173.8,526.4 167.8,526.4" fill="none" stroke="#111" stroke-width="0.7"/>
<polygon points="175.2,532.7 178.2,527.3 172.2,527.3" fill="none" stroke="#111" stroke-width="0.7"/>
<polygon points="179.6,532.7 182.6,527.3 176.6,527.3" fill="none" stroke="#111" stroke-width="0.7"/>
<polygon points="183.9,532.7 186.9,527.3 180.9,527.3" fill="none" stroke="#111" stroke-width="0.7"/>
<polygon points="176.9,544.3 179.9,538.9 173.9,538.9" fill="none" stroke="#111" stroke-width="0.7"/>
<line x1="168.5" y1="527.5" x2="186.5" y2="527.5" stroke="#333" stroke-width="1.0" />
<line x1="177.5" y1="525.5" x2="177.5" y2="530" stroke="#333" stroke-width="1.0" />
<line x1="174" y1="525.5" x2="181" y2="525.5" stroke="#333" stroke-width="1.0" />
<line x1="174" y1="530.5" x2="181" y2="530.5" stroke="#333" stroke-width="1.0" />
<text x="53" y="583.4" font-size="9.1" fill="#2a2a2a" stroke="#2a2a2a" stroke-width="0.18" text-anchor="end" transform="rotate(-45 53 583.4)">Uninfected</text>
<text x="78.1" y="583.4" font-size="9.1" fill="#2a2a2a" stroke="#2a2a2a" stroke-width="0.18" text-anchor="end" transform="rotate(-45 78.1 583.4)">2 days</text>
<text x="103.2" y="583.4" font-size="9.1" fill="#2a2a2a" stroke="#2a2a2a" stroke-width="0.18" text-anchor="end" transform="rotate(-45 103.2 583.4)">1 week</text>
<text x="128.6" y="583.4" font-size="9.1" fill="#2a2a2a" stroke="#2a2a2a" stroke-width="0.18" text-anchor="end" transform="rotate(-45 128.6 583.4)">2 weeks</text>
<text x="153.4" y="583.4" font-size="9.1" fill="#2a2a2a" stroke="#2a2a2a" stroke-width="0.18" text-anchor="end" transform="rotate(-45 153.4 583.4)">3 weeks</text>
<text x="178.5" y="583.4" font-size="9.1" fill="#2a2a2a" stroke="#2a2a2a" stroke-width="0.18" text-anchor="end" transform="rotate(-45 178.5 583.4)">4 weeks</text>
<text x="260.3" y="455.8" font-size="13.8" fill="#000" font-weight="bold" stroke="#000" stroke-width="0.5">k</text>
<line x1="292.5" y1="572.5" x2="292.5" y2="468" stroke="#8a8a8a" stroke-width="1.0" />
<line x1="288" y1="572.5" x2="292.3" y2="572.5" stroke="#8a8a8a" stroke-width="1.0" />
<text x="284.3" y="575" font-size="8.2" text-anchor="end" fill="#2a2a2a" stroke="#2a2a2a" stroke-width="0.18">0</text>
<line x1="288" y1="546.5" x2="292.3" y2="546.5" stroke="#8a8a8a" stroke-width="1.0" />
<text x="284.3" y="548.9" font-size="8.2" text-anchor="end" fill="#2a2a2a" stroke="#2a2a2a" stroke-width="0.18">0.5</text>
<line x1="288" y1="520.5" x2="292.3" y2="520.5" stroke="#8a8a8a" stroke-width="1.0" />
<text x="284.3" y="522.8" font-size="8.2" text-anchor="end" fill="#2a2a2a" stroke="#2a2a2a" stroke-width="0.18">1.0</text>
<line x1="288" y1="494.5" x2="292.3" y2="494.5" stroke="#8a8a8a" stroke-width="1.0" />
<text x="284.3" y="496.6" font-size="8.2" text-anchor="end" fill="#2a2a2a" stroke="#2a2a2a" stroke-width="0.18">1.5</text>
<line x1="288" y1="468.5" x2="292.3" y2="468.5" stroke="#8a8a8a" stroke-width="1.0" />
<text x="284.3" y="470.5" font-size="8.2" text-anchor="end" fill="#2a2a2a" stroke="#2a2a2a" stroke-width="0.18">2.0</text>
<line x1="288.1" y1="572.5" x2="450" y2="572.5" stroke="#7a7a7a" stroke-width="1.0" />
<line x1="309.5" y1="572.5" x2="309.5" y2="576.5" stroke="#7a7a7a" stroke-width="1.0" />
<line x1="334.5" y1="572.5" x2="334.5" y2="576.5" stroke="#7a7a7a" stroke-width="1.0" />
<line x1="358.5" y1="572.5" x2="358.5" y2="576.5" stroke="#7a7a7a" stroke-width="1.0" />
<line x1="383.5" y1="572.5" x2="383.5" y2="576.5" stroke="#7a7a7a" stroke-width="1.0" />
<line x1="408.5" y1="572.5" x2="408.5" y2="576.5" stroke="#7a7a7a" stroke-width="1.0" />
<line x1="433.5" y1="572.5" x2="433.5" y2="576.5" stroke="#7a7a7a" stroke-width="1.0" />
<text x="267.2" y="518" font-size="9.3" fill="#2a2a2a" stroke="#2a2a2a" stroke-width="0.18" text-anchor="middle" transform="rotate(-90 267.2 518)">Tuft cells (% of EpCAM<tspan font-size="5.4" font-style="normal" dy="-3.4">+</tspan><tspan dy="3.4">)</tspan></text>
<text x="334.2" y="472.5" font-size="7.0" text-anchor="middle" fill="#2a2a2a" stroke="#2a2a2a" stroke-width="0.18">NS</text>
<text x="358.7" y="472.5" font-size="7.0" text-anchor="middle" fill="#2a2a2a" stroke="#2a2a2a" stroke-width="0.18">NS</text>
<text x="408.7" y="472.5" font-size="7.0" text-anchor="middle" fill="#2a2a2a" stroke="#2a2a2a" stroke-width="0.18">NS</text>
<text x="433.2" y="472.5" font-size="7.0" text-anchor="middle" fill="#2a2a2a" stroke="#2a2a2a" stroke-width="0.18">NS</text>
<polygon points="383.4,466.6 384,467.8 385.3,468 384.4,469 384.6,470.3 383.4,469.6 382.2,470.3 382.4,469 381.5,468 382.8,467.8" fill="#1a1a1a"/>
<circle cx="309" cy="541.6" r="3.1" fill="#000"/>
<circle cx="309" cy="548.4" r="3.1" fill="#000"/>
<circle cx="303.9" cy="557.4" r="3.1" fill="#000"/>
<circle cx="314" cy="557.4" r="3.1" fill="#000"/>
<circle cx="309" cy="563.1" r="3.1" fill="#000"/>
<circle cx="303.9" cy="570.2" r="3.1" fill="#000"/>
<circle cx="314" cy="569.2" r="3.1" fill="#000"/>
<line x1="302.5" y1="557.5" x2="315.5" y2="557.5" stroke="#ccc" stroke-width="1.0" />
<line x1="309.5" y1="554" x2="309.5" y2="564" stroke="#ccc" stroke-width="1.0" />
<line x1="305.5" y1="554.5" x2="312.5" y2="554.5" stroke="#ccc" stroke-width="1.0" />
<line x1="305.5" y1="564.5" x2="312.5" y2="564.5" stroke="#ccc" stroke-width="1.0" />
<circle cx="328.1" cy="552.4" r="3.0" fill="none" stroke="#111" stroke-width="0.7"/>
<circle cx="338.5" cy="550.7" r="3.0" fill="none" stroke="#111" stroke-width="0.7"/>
<circle cx="333.5" cy="556.7" r="3.0" fill="none" stroke="#111" stroke-width="0.7"/>
<circle cx="328.1" cy="562.5" r="3.0" fill="none" stroke="#111" stroke-width="0.7"/>
<circle cx="339.2" cy="563.1" r="3.0" fill="none" stroke="#111" stroke-width="0.7"/>
<circle cx="328.1" cy="568.5" r="3.0" fill="none" stroke="#111" stroke-width="0.7"/>
<circle cx="339.2" cy="568.2" r="3.0" fill="none" stroke="#111" stroke-width="0.7"/>
<line x1="326.7" y1="560.5" x2="341.7" y2="560.5" stroke="#333" stroke-width="1.0" />
<line x1="334.5" y1="557.5" x2="334.5" y2="563.5" stroke="#333" stroke-width="1.0" />
<line x1="330.7" y1="557.5" x2="337.7" y2="557.5" stroke="#333" stroke-width="1.0" />
<line x1="330.7" y1="563.5" x2="337.7" y2="563.5" stroke="#333" stroke-width="1.0" />
<rect x="351.9" y="557.4" width="5.1" height="5.1" fill="none" stroke="#111" stroke-width="0.7"/>
<rect x="356.4" y="556.4" width="5.1" height="5.1" fill="none" stroke="#111" stroke-width="0.7"/>
<rect x="360.4" y="558.9" width="5.1" height="5.1" fill="none" stroke="#111" stroke-width="0.7"/>
<rect x="353.9" y="561.9" width="5.1" height="5.1" fill="none" stroke="#111" stroke-width="0.7"/>
<rect x="358.4" y="562.4" width="5.1" height="5.1" fill="none" stroke="#111" stroke-width="0.7"/>
<rect x="350.9" y="562.9" width="5.1" height="5.1" fill="none" stroke="#111" stroke-width="0.7"/>
<rect x="355.9" y="559.4" width="5.1" height="5.1" fill="none" stroke="#111" stroke-width="0.7"/>
<line x1="351.2" y1="561.5" x2="366.2" y2="561.5" stroke="#333" stroke-width="1.0" />
<line x1="358.5" y1="560" x2="358.5" y2="563.5" stroke="#333" stroke-width="1.0" />
<line x1="355.2" y1="560.5" x2="362.2" y2="560.5" stroke="#333" stroke-width="1.0" />
<line x1="355.2" y1="563.5" x2="362.2" y2="563.5" stroke="#333" stroke-width="1.0" />
<polygon points="383.5,474.2 386.8,480.2 380.2,480.2" fill="none" stroke="#111" stroke-width="0.7" stroke-linejoin="miter"/>
<polygon points="383.5,516.9 386.8,522.9 380.2,522.9" fill="none" stroke="#111" stroke-width="0.7" stroke-linejoin="miter"/>
<polygon points="383.5,528 386.8,534 380.2,534" fill="none" stroke="#111" stroke-width="0.7" stroke-linejoin="miter"/>
<polygon points="378.5,535.4 381.8,541.4 375.2,541.4" fill="none" stroke="#111" stroke-width="0.7" stroke-linejoin="miter"/>
<polygon points="388.6,540.4 391.9,546.4 385.3,546.4" fill="none" stroke="#111" stroke-width="0.7" stroke-linejoin="miter"/>
<polygon points="383.5,552.1 386.8,558.1 380.2,558.1" fill="none" stroke="#111" stroke-width="0.7" stroke-linejoin="miter"/>
<line x1="375" y1="527.5" x2="392" y2="527.5" stroke="#333" stroke-width="1.0" />
<line x1="383.5" y1="517.1" x2="383.5" y2="539" stroke="#333" stroke-width="1.0" />
<line x1="379.5" y1="517.5" x2="387.5" y2="517.5" stroke="#333" stroke-width="1.0" />
<line x1="379.5" y1="539.5" x2="387.5" y2="539.5" stroke="#333" stroke-width="1.0" />
<polygon points="408.7,481.7 411.7,485.2 408.7,488.7 405.7,485.2" fill="none" stroke="#111" stroke-width="0.7"/>
<polygon points="403.7,521 406.7,524.5 403.7,528 400.7,524.5" fill="none" stroke="#111" stroke-width="0.7"/>
<polygon points="414.1,526.7 417.1,530.2 414.1,533.7 411.1,530.2" fill="none" stroke="#111" stroke-width="0.7"/>
<polygon points="408.7,533.8 411.7,537.3 408.7,540.8 405.7,537.3" fill="none" stroke="#111" stroke-width="0.7"/>
<polygon points="403.7,553.2 406.7,556.7 403.7,560.2 400.7,556.7" fill="none" stroke="#111" stroke-width="0.7"/>
<polygon points="414.1,552.2 417.1,555.7 414.1,559.2 411.1,555.7" fill="none" stroke="#111" stroke-width="0.7"/>
<line x1="400.2" y1="532.5" x2="417.2" y2="532.5" stroke="#333" stroke-width="1.0" />
<line x1="408.5" y1="521.2" x2="408.5" y2="543" stroke="#333" stroke-width="1.0" />
<line x1="404.7" y1="521.5" x2="412.7" y2="521.5" stroke="#333" stroke-width="1.0" />
<line x1="404.7" y1="543.5" x2="412.7" y2="543.5" stroke="#333" stroke-width="1.0" />
<polygon points="433.2,485.5 436.5,479.5 429.9,479.5" fill="none" stroke="#111" stroke-width="0.7"/>
<polygon points="428.9,543.2 432.2,537.2 425.6,537.2" fill="none" stroke="#111" stroke-width="0.7"/>
<polygon points="433.2,542.6 436.5,536.6 429.9,536.6" fill="none" stroke="#111" stroke-width="0.7"/>
<polygon points="438.3,546.6 441.6,540.6 435,540.6" fill="none" stroke="#111" stroke-width="0.7"/>
<polygon points="433.2,548.6 436.5,542.6 429.9,542.6" fill="none" stroke="#111" stroke-width="0.7"/>
<polygon points="433.2,561 436.5,555 429.9,555" fill="none" stroke="#111" stroke-width="0.7"/>
<line x1="424.7" y1="535.5" x2="441.7" y2="535.5" stroke="#333" stroke-width="1.0" />
<line x1="433.5" y1="523.8" x2="433.5" y2="545" stroke="#333" stroke-width="1.0" />
<line x1="429.2" y1="523.5" x2="437.2" y2="523.5" stroke="#333" stroke-width="1.0" />
<line x1="429.2" y1="545.5" x2="437.2" y2="545.5" stroke="#333" stroke-width="1.0" />
<text x="310.6" y="583.5" font-size="9.1" fill="#2a2a2a" stroke="#2a2a2a" stroke-width="0.18" text-anchor="end" transform="rotate(-45 310.6 583.5)">Uninfected</text>
<text x="335.8" y="583.5" font-size="9.1" fill="#2a2a2a" stroke="#2a2a2a" stroke-width="0.18" text-anchor="end" transform="rotate(-45 335.8 583.5)">2 days</text>
<text x="360.3" y="583.5" font-size="9.1" fill="#2a2a2a" stroke="#2a2a2a" stroke-width="0.18" text-anchor="end" transform="rotate(-45 360.3 583.5)">1 week</text>
<text x="385.1" y="583.5" font-size="9.1" fill="#2a2a2a" stroke="#2a2a2a" stroke-width="0.18" text-anchor="end" transform="rotate(-45 385.1 583.5)">2 weeks</text>
<text x="410.3" y="583.5" font-size="9.1" fill="#2a2a2a" stroke="#2a2a2a" stroke-width="0.18" text-anchor="end" transform="rotate(-45 410.3 583.5)">3 weeks</text>
<text x="434.8" y="583.5" font-size="9.1" fill="#2a2a2a" stroke="#2a2a2a" stroke-width="0.18" text-anchor="end" transform="rotate(-45 434.8 583.5)">4 weeks</text>
<text x="492.2" y="455.8" font-size="13.8" fill="#000" font-weight="bold" stroke="#000" stroke-width="0.5">l</text>
<line x1="525.5" y1="572.5" x2="525.5" y2="467.8" stroke="#8a8a8a" stroke-width="1.0" />
<line x1="521.2" y1="572.5" x2="525.5" y2="572.5" stroke="#8a8a8a" stroke-width="1.0" />
<text x="517.5" y="575" font-size="8.2" text-anchor="end" fill="#2a2a2a" stroke="#2a2a2a" stroke-width="0.18">0</text>
<line x1="521.2" y1="551.5" x2="525.5" y2="551.5" stroke="#8a8a8a" stroke-width="1.0" />
<text x="517.5" y="554.1" font-size="8.2" text-anchor="end" fill="#2a2a2a" stroke="#2a2a2a" stroke-width="0.18">20</text>
<line x1="521.2" y1="530.5" x2="525.5" y2="530.5" stroke="#8a8a8a" stroke-width="1.0" />
<text x="517.5" y="533.1" font-size="8.2" text-anchor="end" fill="#2a2a2a" stroke="#2a2a2a" stroke-width="0.18">40</text>
<line x1="521.2" y1="509.5" x2="525.5" y2="509.5" stroke="#8a8a8a" stroke-width="1.0" />
<text x="517.5" y="512.2" font-size="8.2" text-anchor="end" fill="#2a2a2a" stroke="#2a2a2a" stroke-width="0.18">60</text>
<line x1="521.2" y1="488.5" x2="525.5" y2="488.5" stroke="#8a8a8a" stroke-width="1.0" />
<text x="517.5" y="491.2" font-size="8.2" text-anchor="end" fill="#2a2a2a" stroke="#2a2a2a" stroke-width="0.18">80</text>
<line x1="521.2" y1="467.5" x2="525.5" y2="467.5" stroke="#8a8a8a" stroke-width="1.0" />
<text x="517.5" y="470.3" font-size="8.2" text-anchor="end" fill="#2a2a2a" stroke="#2a2a2a" stroke-width="0.18">100</text>
<line x1="522.5" y1="572.5" x2="683.3" y2="572.5" stroke="#7a7a7a" stroke-width="1.0" />
<line x1="543.5" y1="572.5" x2="543.5" y2="576.5" stroke="#7a7a7a" stroke-width="1.0" />
<line x1="567.5" y1="572.5" x2="567.5" y2="576.5" stroke="#7a7a7a" stroke-width="1.0" />
<line x1="592.5" y1="572.5" x2="592.5" y2="576.5" stroke="#7a7a7a" stroke-width="1.0" />
<line x1="616.5" y1="572.5" x2="616.5" y2="576.5" stroke="#7a7a7a" stroke-width="1.0" />
<line x1="642.5" y1="572.5" x2="642.5" y2="576.5" stroke="#7a7a7a" stroke-width="1.0" />
<line x1="667.5" y1="572.5" x2="667.5" y2="576.5" stroke="#7a7a7a" stroke-width="1.0" />
<text x="498.5" y="517.3" font-size="8.6" fill="#2a2a2a" stroke="#2a2a2a" stroke-width="0.18" text-anchor="middle" transform="rotate(-90 498.5 517.3)">Ki-67<tspan font-size="5.4" font-style="normal" dy="-3.4">+</tspan><tspan dy="3.4"> (% of ILC2s)</tspan></text>
<polygon points="560.5,466.7 561.1,467.9 562.4,468.1 561.5,469.1 561.7,470.4 560.5,469.8 559.3,470.4 559.5,469.1 558.6,468.1 559.9,467.9" fill="#1a1a1a"/>
<polygon points="565.1,466.7 565.7,467.9 567,468.1 566.1,469.1 566.3,470.4 565.1,469.8 563.9,470.4 564.1,469.1 563.2,468.1 564.5,467.9" fill="#1a1a1a"/>
<polygon points="569.7,466.7 570.3,467.9 571.6,468.1 570.7,469.1 570.9,470.4 569.7,469.8 568.5,470.4 568.7,469.1 567.8,468.1 569.1,467.9" fill="#1a1a1a"/>
<polygon points="574.3,466.7 574.9,467.9 576.2,468.1 575.3,469.1 575.5,470.4 574.3,469.8 573.1,470.4 573.3,469.1 572.4,468.1 573.7,467.9" fill="#1a1a1a"/>
<polygon points="610.3,466.7 610.9,467.9 612.2,468.1 611.3,469.1 611.5,470.4 610.3,469.8 609.1,470.4 609.3,469.1 608.4,468.1 609.7,467.9" fill="#1a1a1a"/>
<polygon points="614.9,466.7 615.5,467.9 616.8,468.1 615.9,469.1 616.1,470.4 614.9,469.8 613.7,470.4 613.9,469.1 613,468.1 614.3,467.9" fill="#1a1a1a"/>
<polygon points="619.5,466.7 620.1,467.9 621.4,468.1 620.5,469.1 620.7,470.4 619.5,469.8 618.3,470.4 618.5,469.1 617.6,468.1 618.9,467.9" fill="#1a1a1a"/>
<polygon points="624.1,466.7 624.7,467.9 626,468.1 625.1,469.1 625.3,470.4 624.1,469.8 622.9,470.4 623.1,469.1 622.2,468.1 623.5,467.9" fill="#1a1a1a"/>
<text x="592" y="472.5" font-size="7.0" text-anchor="middle" fill="#2a2a2a" stroke="#2a2a2a" stroke-width="0.18">NS</text>
<text x="642.4" y="472.5" font-size="7.0" text-anchor="middle" fill="#2a2a2a" stroke="#2a2a2a" stroke-width="0.18">NS</text>
<text x="667.2" y="472.5" font-size="7.0" text-anchor="middle" fill="#2a2a2a" stroke="#2a2a2a" stroke-width="0.18">NS</text>
<circle cx="544" cy="555" r="2.7" fill="#000"/>
<circle cx="537.3" cy="565.8" r="2.7" fill="#000"/>
<circle cx="541" cy="564.5" r="2.7" fill="#000"/>
<circle cx="545.7" cy="564.1" r="2.7" fill="#000"/>
<circle cx="550" cy="564.8" r="2.7" fill="#000"/>
<circle cx="542.3" cy="569.2" r="2.7" fill="#000"/>
<circle cx="546.3" cy="570.2" r="2.7" fill="#000"/>
<line x1="537" y1="565.5" x2="549" y2="565.5" stroke="#555" stroke-width="1.0" />
<line x1="543.5" y1="563.5" x2="543.5" y2="568" stroke="#555" stroke-width="1.0" />
<line x1="540" y1="563.5" x2="546" y2="563.5" stroke="#555" stroke-width="1.0" />
<line x1="540" y1="568.5" x2="546" y2="568.5" stroke="#555" stroke-width="1.0" />
<circle cx="561.8" cy="501.3" r="2.8" fill="none" stroke="#111" stroke-width="0.7"/>
<circle cx="571.9" cy="505.4" r="2.8" fill="none" stroke="#111" stroke-width="0.7"/>
<circle cx="562.5" cy="512.1" r="2.8" fill="none" stroke="#111" stroke-width="0.7"/>
<circle cx="570.8" cy="512.8" r="2.8" fill="none" stroke="#111" stroke-width="0.7"/>
<circle cx="562.5" cy="530.6" r="2.8" fill="none" stroke="#111" stroke-width="0.7"/>
<circle cx="570.8" cy="532.2" r="2.8" fill="none" stroke="#111" stroke-width="0.7"/>
<circle cx="566.8" cy="555.7" r="2.8" fill="none" stroke="#111" stroke-width="0.7"/>
<line x1="559" y1="521.5" x2="575" y2="521.5" stroke="#333" stroke-width="1.0" />
<line x1="567.5" y1="513.8" x2="567.5" y2="530.6" stroke="#333" stroke-width="1.0" />
<line x1="563.2" y1="513.5" x2="570.8" y2="513.5" stroke="#333" stroke-width="1.0" />
<line x1="563.2" y1="530.5" x2="570.8" y2="530.5" stroke="#333" stroke-width="1.0" />
<rect x="589.4" y="542.4" width="5.1" height="5.1" fill="none" stroke="#111" stroke-width="0.7"/>
<rect x="586" y="547.1" width="5.1" height="5.1" fill="none" stroke="#111" stroke-width="0.7"/>
<rect x="590.7" y="550.4" width="5.1" height="5.1" fill="none" stroke="#111" stroke-width="0.7"/>
<rect x="586" y="557.5" width="5.1" height="5.1" fill="none" stroke="#111" stroke-width="0.7"/>
<rect x="594.1" y="555.5" width="5.1" height="5.1" fill="none" stroke="#111" stroke-width="0.7"/>
<line x1="584" y1="553.5" x2="600" y2="553.5" stroke="#333" stroke-width="1.0" />
<line x1="592.5" y1="549" x2="592.5" y2="557.4" stroke="#333" stroke-width="1.0" />
<line x1="588.2" y1="549.5" x2="595.8" y2="549.5" stroke="#333" stroke-width="1.0" />
<line x1="588.2" y1="557.5" x2="595.8" y2="557.5" stroke="#333" stroke-width="1.0" />
<polygon points="616.9,505.3 620,510.9 613.8,510.9" fill="none" stroke="#111" stroke-width="0.7" stroke-linejoin="miter"/>
<polygon points="621.9,506.3 625,511.9 618.8,511.9" fill="none" stroke="#111" stroke-width="0.7" stroke-linejoin="miter"/>
<polygon points="612.2,512 615.3,517.6 609.1,517.6" fill="none" stroke="#111" stroke-width="0.7" stroke-linejoin="miter"/>
<polygon points="621.9,514.4 625,520 618.8,520" fill="none" stroke="#111" stroke-width="0.7" stroke-linejoin="miter"/>
<polygon points="616.9,518.8 620,524.4 613.8,524.4" fill="none" stroke="#111" stroke-width="0.7" stroke-linejoin="miter"/>
<polygon points="616.9,535.6 620,541.2 613.8,541.2" fill="none" stroke="#111" stroke-width="0.7" stroke-linejoin="miter"/>
<line x1="608.9" y1="518.5" x2="624.9" y2="518.5" stroke="#333" stroke-width="1.0" />
<line x1="616.5" y1="515.4" x2="616.5" y2="521.5" stroke="#333" stroke-width="1.0" />
<line x1="613.1" y1="515.5" x2="620.7" y2="515.5" stroke="#333" stroke-width="1.0" />
<line x1="613.1" y1="521.5" x2="620.7" y2="521.5" stroke="#333" stroke-width="1.0" />
<polygon points="642.4,544.1 645.2,547.3 642.4,550.5 639.6,547.3" fill="none" stroke="#111" stroke-width="0.7"/>
<polygon points="638,549.2 640.8,552.4 638,555.6 635.2,552.4" fill="none" stroke="#111" stroke-width="0.7"/>
<polygon points="646.4,553.5 649.2,556.7 646.4,559.9 643.6,556.7" fill="none" stroke="#111" stroke-width="0.7"/>
<polygon points="638,558.6 640.8,561.8 638,565 635.2,561.8" fill="none" stroke="#111" stroke-width="0.7"/>
<polygon points="649.8,556.9 652.6,560.1 649.8,563.3 647,560.1" fill="none" stroke="#111" stroke-width="0.7"/>
<polygon points="642.4,554.8 645.2,558 642.4,561.2 639.6,558" fill="none" stroke="#111" stroke-width="0.7"/>
<line x1="634.4" y1="559.5" x2="650.4" y2="559.5" stroke="#333" stroke-width="1.0" />
<line x1="642.5" y1="555" x2="642.5" y2="561.8" stroke="#333" stroke-width="1.0" />
<line x1="638.6" y1="555.5" x2="646.2" y2="555.5" stroke="#333" stroke-width="1.0" />
<line x1="638.6" y1="561.5" x2="646.2" y2="561.5" stroke="#333" stroke-width="1.0" />
<polygon points="662.5,560.1 665.6,554.5 659.4,554.5" fill="none" stroke="#111" stroke-width="0.7"/>
<polygon points="667.2,559.1 670.3,553.5 664.1,553.5" fill="none" stroke="#111" stroke-width="0.7"/>
<polygon points="671.6,566.5 674.7,560.9 668.5,560.9" fill="none" stroke="#111" stroke-width="0.7"/>
<polygon points="664.9,566.5 668,560.9 661.8,560.9" fill="none" stroke="#111" stroke-width="0.7"/>
<polygon points="662.5,572.6 665.6,567 659.4,567" fill="none" stroke="#111" stroke-width="0.7"/>
<polygon points="673.3,572.6 676.4,567 670.2,567" fill="none" stroke="#111" stroke-width="0.7"/>
<polygon points="667.2,569.4 670.3,563.8 664.1,563.8" fill="none" stroke="#111" stroke-width="0.7"/>
<line x1="659.2" y1="562.5" x2="675.2" y2="562.5" stroke="#333" stroke-width="1.0" />
<line x1="667.5" y1="559.5" x2="667.5" y2="565.5" stroke="#333" stroke-width="1.0" />
<line x1="663.4" y1="559.5" x2="671" y2="559.5" stroke="#333" stroke-width="1.0" />
<line x1="663.4" y1="565.5" x2="671" y2="565.5" stroke="#333" stroke-width="1.0" />
<text x="544.6" y="583.5" font-size="9.1" fill="#2a2a2a" stroke="#2a2a2a" stroke-width="0.18" text-anchor="end" transform="rotate(-45 544.6 583.5)">Uninfected</text>
<text x="569.1" y="583.5" font-size="9.1" fill="#2a2a2a" stroke="#2a2a2a" stroke-width="0.18" text-anchor="end" transform="rotate(-45 569.1 583.5)">2 days</text>
<text x="593.6" y="583.5" font-size="9.1" fill="#2a2a2a" stroke="#2a2a2a" stroke-width="0.18" text-anchor="end" transform="rotate(-45 593.6 583.5)">1 week</text>
<text x="618.5" y="583.5" font-size="9.1" fill="#2a2a2a" stroke="#2a2a2a" stroke-width="0.18" text-anchor="end" transform="rotate(-45 618.5 583.5)">2 weeks</text>
<text x="644" y="583.5" font-size="9.1" fill="#2a2a2a" stroke="#2a2a2a" stroke-width="0.18" text-anchor="end" transform="rotate(-45 644 583.5)">3 weeks</text>
<text x="668.8" y="583.5" font-size="9.1" fill="#2a2a2a" stroke="#2a2a2a" stroke-width="0.18" text-anchor="end" transform="rotate(-45 668.8 583.5)">4 weeks</text>
<text x="1" y="639.5" font-size="13.8" fill="#000" font-weight="bold" stroke="#000" stroke-width="0.5">m</text>
<line x1="38.1" y1="692.5" x2="303" y2="692.5" stroke="#333" stroke-width="1.0" />
<path d="M302.5 690.4 L306.5 692.7 L302.5 695 Z" fill="#333"/>
<line x1="203.3" y1="686.5" x2="293.7" y2="686.5" stroke="#2e6b2e" stroke-width="1.0" />
<path d="M203.3 683.3 L210 686.8 L203.3 690.3 Z" fill="#2e6b2e"/>
<line x1="38.5" y1="685.3" x2="38.5" y2="696.2" stroke="#333" stroke-width="1.0" />
<line x1="134.5" y1="685.3" x2="134.5" y2="696.2" stroke="#333" stroke-width="1.0" />
<line x1="151.5" y1="685.3" x2="151.5" y2="696.2" stroke="#333" stroke-width="1.0" />
<line x1="203.5" y1="688" x2="203.5" y2="696.2" stroke="#333" stroke-width="1.0" />
<line x1="257.5" y1="684.2" x2="257.5" y2="696" stroke="#222" stroke-width="1.0" />
<line x1="275.5" y1="684.2" x2="275.5" y2="696" stroke="#222" stroke-width="1.0" />
<line x1="293.5" y1="673.1" x2="293.5" y2="696" stroke="#222" stroke-width="1.0" />
<text x="11.7" y="681" font-size="7.6" fill="#2a2a2a" stroke="#2a2a2a" stroke-width="0.18"><tspan font-style="italic">H. polygyrus</tspan> L3</text>
<text x="143.3" y="681" font-size="7.3" text-anchor="middle" fill="#2a2a2a" stroke="#2a2a2a" stroke-width="0.18">Pyrantel</text>
<text x="209.1" y="684.2" font-size="7.7" fill="#2e6b2e" stroke="#2e6b2e" stroke-width="0.18">Succinate</text>
<text x="257.5" y="682" font-size="7.3" text-anchor="middle" fill="#2a2a2a" stroke="#2a2a2a" stroke-width="0.18">CNO</text>
<text x="275.1" y="682" font-size="7.3" text-anchor="middle" fill="#2a2a2a" stroke="#2a2a2a" stroke-width="0.18">CNO</text>
<text x="293.5" y="669.7" font-size="7.3" text-anchor="middle" fill="#2a2a2a" stroke="#2a2a2a" stroke-width="0.18">Analysis</text>
<text x="18.2" y="707.9" font-size="8.6" fill="#2a2a2a" stroke="#2a2a2a" stroke-width="0.18">Day 0</text>
<text x="134.3" y="707.9" font-size="8.6" text-anchor="middle" fill="#2a2a2a" stroke="#2a2a2a" stroke-width="0.18">28</text>
<text x="151.8" y="707.9" font-size="8.6" text-anchor="middle" fill="#2a2a2a" stroke="#2a2a2a" stroke-width="0.18">29</text>
<text x="203.3" y="707.9" font-size="8.6" text-anchor="middle" fill="#2a2a2a" stroke="#2a2a2a" stroke-width="0.18">42</text>
<text x="257.7" y="707.9" font-size="8.6" text-anchor="middle" fill="#2a2a2a" stroke="#2a2a2a" stroke-width="0.18">44</text>
<text x="275.6" y="707.9" font-size="8.6" text-anchor="middle" fill="#2a2a2a" stroke="#2a2a2a" stroke-width="0.18">45</text>
<text x="293.7" y="707.9" font-size="8.6" text-anchor="middle" fill="#2a2a2a" stroke="#2a2a2a" stroke-width="0.18">46</text>
<text x="354.3" y="639.4" font-size="13.8" fill="#000" font-weight="bold" stroke="#000" stroke-width="0.5">n</text>
<line x1="384.5" y1="769" x2="384.5" y2="669.7" stroke="#8a8a8a" stroke-width="1.0" />
<line x1="379.8" y1="769.5" x2="384.1" y2="769.5" stroke="#8a8a8a" stroke-width="1.0" />
<text x="376.1" y="771.5" font-size="8.2" text-anchor="end" fill="#2a2a2a" stroke="#2a2a2a" stroke-width="0.18">0</text>
<line x1="379.8" y1="744.5" x2="384.1" y2="744.5" stroke="#8a8a8a" stroke-width="1.0" />
<text x="376.1" y="746.7" font-size="8.2" text-anchor="end" fill="#2a2a2a" stroke="#2a2a2a" stroke-width="0.18">20</text>
<line x1="379.8" y1="719.5" x2="384.1" y2="719.5" stroke="#8a8a8a" stroke-width="1.0" />
<text x="376.1" y="721.9" font-size="8.2" text-anchor="end" fill="#2a2a2a" stroke="#2a2a2a" stroke-width="0.18">40</text>
<line x1="379.8" y1="694.5" x2="384.1" y2="694.5" stroke="#8a8a8a" stroke-width="1.0" />
<text x="376.1" y="697" font-size="8.2" text-anchor="end" fill="#2a2a2a" stroke="#2a2a2a" stroke-width="0.18">60</text>
<line x1="379.8" y1="669.5" x2="384.1" y2="669.5" stroke="#8a8a8a" stroke-width="1.0" />
<text x="376.1" y="672.2" font-size="8.2" text-anchor="end" fill="#2a2a2a" stroke="#2a2a2a" stroke-width="0.18">80</text>
<line x1="381" y1="768.5" x2="485.1" y2="768.5" stroke="#aaa" stroke-width="1.0" />
<line x1="404.5" y1="768.6" x2="404.5" y2="772.6" stroke="#aaa" stroke-width="1.0" />
<line x1="434.5" y1="768.6" x2="434.5" y2="772.6" stroke="#aaa" stroke-width="1.0" />
<line x1="464.5" y1="768.6" x2="464.5" y2="772.6" stroke="#aaa" stroke-width="1.0" />
<text x="361.8" y="717" font-size="8.6" fill="#2a2a2a" stroke="#2a2a2a" stroke-width="0.18" text-anchor="middle" transform="rotate(-90 361.8 717)">Ki-67<tspan font-size="5.4" font-style="normal" dy="-3.4">+</tspan><tspan dy="3.4"> (% of ILC2s)</tspan></text>
<line x1="404.5" y1="641.5" x2="464.8" y2="641.5" stroke="#555" stroke-width="1.0" />
<text x="434.7" y="639.4" font-size="7.3" text-anchor="middle" fill="#2a2a2a" stroke="#2a2a2a" stroke-width="0.18">NS</text>
<line x1="404.5" y1="660.5" x2="432.5" y2="660.5" stroke="#555" stroke-width="1.0" />
<polygon points="416.2,654.8 416.9,656.1 418.3,656.4 417.3,657.4 417.5,658.9 416.2,658.2 414.9,658.9 415.1,657.4 414.1,656.4 415.5,656.1" fill="#1a1a1a"/>
<polygon points="420.8,654.8 421.5,656.1 422.9,656.4 421.9,657.4 422.1,658.9 420.8,658.2 419.5,658.9 419.7,657.4 418.7,656.4 420.1,656.1" fill="#1a1a1a"/>
<line x1="436.7" y1="660.5" x2="464.8" y2="660.5" stroke="#555" stroke-width="1.0" />
<polygon points="446.1,654.8 446.8,656.1 448.2,656.4 447.2,657.4 447.4,658.9 446.1,658.2 444.8,658.9 445,657.4 444,656.4 445.4,656.1" fill="#1a1a1a"/>
<polygon points="450.7,654.8 451.4,656.1 452.8,656.4 451.8,657.4 452,658.9 450.7,658.2 449.4,658.9 449.6,657.4 448.6,656.4 450,656.1" fill="#1a1a1a"/>
<polygon points="455.3,654.8 456,656.1 457.4,656.4 456.4,657.4 456.6,658.9 455.3,658.2 454,658.9 454.2,657.4 453.2,656.4 454.6,656.1" fill="#1a1a1a"/>
<circle cx="404.5" cy="738" r="2.6" fill="#000"/>
<circle cx="404.5" cy="757.8" r="2.6" fill="#000"/>
<circle cx="400.7" cy="761" r="2.6" fill="#000"/>
<circle cx="411.9" cy="761" r="2.6" fill="#000"/>
<circle cx="397" cy="766" r="2.6" fill="#000"/>
<circle cx="404.5" cy="765.3" r="2.6" fill="#000"/>
<circle cx="411.9" cy="766.5" r="2.6" fill="#000"/>
<line x1="395" y1="762.5" x2="413" y2="762.5" stroke="#444" stroke-width="1.0" />
<circle cx="434.7" cy="675.9" r="2.7" fill="none" stroke="#111" stroke-width="0.7"/>
<circle cx="431.3" cy="709.9" r="2.7" fill="none" stroke="#111" stroke-width="0.7"/>
<circle cx="438.7" cy="708.2" r="2.7" fill="none" stroke="#111" stroke-width="0.7"/>
<circle cx="434.7" cy="715.6" r="2.7" fill="none" stroke="#111" stroke-width="0.7"/>
<circle cx="434.7" cy="731.3" r="2.7" fill="none" stroke="#111" stroke-width="0.7"/>
<circle cx="427.3" cy="746.2" r="2.7" fill="none" stroke="#111" stroke-width="0.7"/>
<circle cx="434.7" cy="747.9" r="2.7" fill="none" stroke="#111" stroke-width="0.7"/>
<circle cx="427.3" cy="752.1" r="2.7" fill="none" stroke="#111" stroke-width="0.7"/>
<circle cx="442.4" cy="751.1" r="2.7" fill="none" stroke="#111" stroke-width="0.7"/>
<line x1="424.7" y1="731.5" x2="444.7" y2="731.5" stroke="#444" stroke-width="1.0" />
<circle cx="464.8" cy="746.2" r="2.6" fill="none" stroke="#111" stroke-width="0.7"/>
<circle cx="457.8" cy="763.5" r="2.6" fill="none" stroke="#111" stroke-width="0.7"/>
<circle cx="464.8" cy="763.5" r="2.6" fill="none" stroke="#111" stroke-width="0.7"/>
<circle cx="472.7" cy="763.5" r="2.6" fill="none" stroke="#111" stroke-width="0.7"/>
<circle cx="461.5" cy="765.3" r="2.6" fill="none" stroke="#111" stroke-width="0.7"/>
<circle cx="467.3" cy="766" r="2.6" fill="none" stroke="#111" stroke-width="0.7"/>
<circle cx="460.3" cy="769" r="2.6" fill="none" stroke="#111" stroke-width="0.7"/>
<circle cx="469.5" cy="764.5" r="2.6" fill="none" stroke="#111" stroke-width="0.7"/>
<line x1="456.8" y1="764.5" x2="472.8" y2="764.5" stroke="#444" stroke-width="1.0" />
<text x="384.3" y="781.9" font-size="9.0" text-anchor="end" fill="#2a2a2a" stroke="#2a2a2a" stroke-width="0.18">Succinate</text>
<text x="384.3" y="792.6" font-size="9.0" text-anchor="end" fill="#2a2a2a" stroke="#2a2a2a" stroke-width="0.18">CNO</text>
<text x="404.5" y="781.9" font-size="7.5" text-anchor="middle" fill="#222" stroke="#222" stroke-width="0.18">+</text>
<text x="404.5" y="792.6" font-size="7.5" text-anchor="middle" fill="#222" stroke="#222" stroke-width="0.18">+</text>
<text x="434.7" y="781.9" font-size="7.5" text-anchor="middle" fill="#222" stroke="#222" stroke-width="0.18">+</text>
<text x="434.7" y="792.6" font-size="7.5" text-anchor="middle" fill="#222" stroke="#222" stroke-width="0.18">+</text>
<text x="464.8" y="781.9" font-size="7.5" text-anchor="middle" fill="#222" stroke="#222" stroke-width="0.18">+</text>
<text x="464.8" y="792.6" font-size="7.5" text-anchor="middle" fill="#555" stroke="#555" stroke-width="0.18">–</text>
<circle cx="484.1" cy="650.6" r="2.3" fill="#000"/>
<circle cx="484.1" cy="663.1" r="2.3" fill="none" stroke="#111" stroke-width="0.7"/>
<text x="492.2" y="653" font-size="7.4" fill="#2a2a2a" font-style="italic" stroke="#2a2a2a" stroke-width="0.18">Il5<tspan font-size="4.6" font-style="normal" dy="-3.0">R/R</tspan></text>
<text x="492.2" y="665.5" font-size="7.4" fill="#2a2a2a" font-style="italic" stroke="#2a2a2a" stroke-width="0.18">Il5<tspan font-size="4.6" font-style="normal" dy="-3.0">R/R</tspan><tspan dy="3.0">; Tg</tspan><tspan font-style="normal" font-size="4.6" dy="-3.0">Gq-DREADD</tspan></text>
</svg></body></html>
